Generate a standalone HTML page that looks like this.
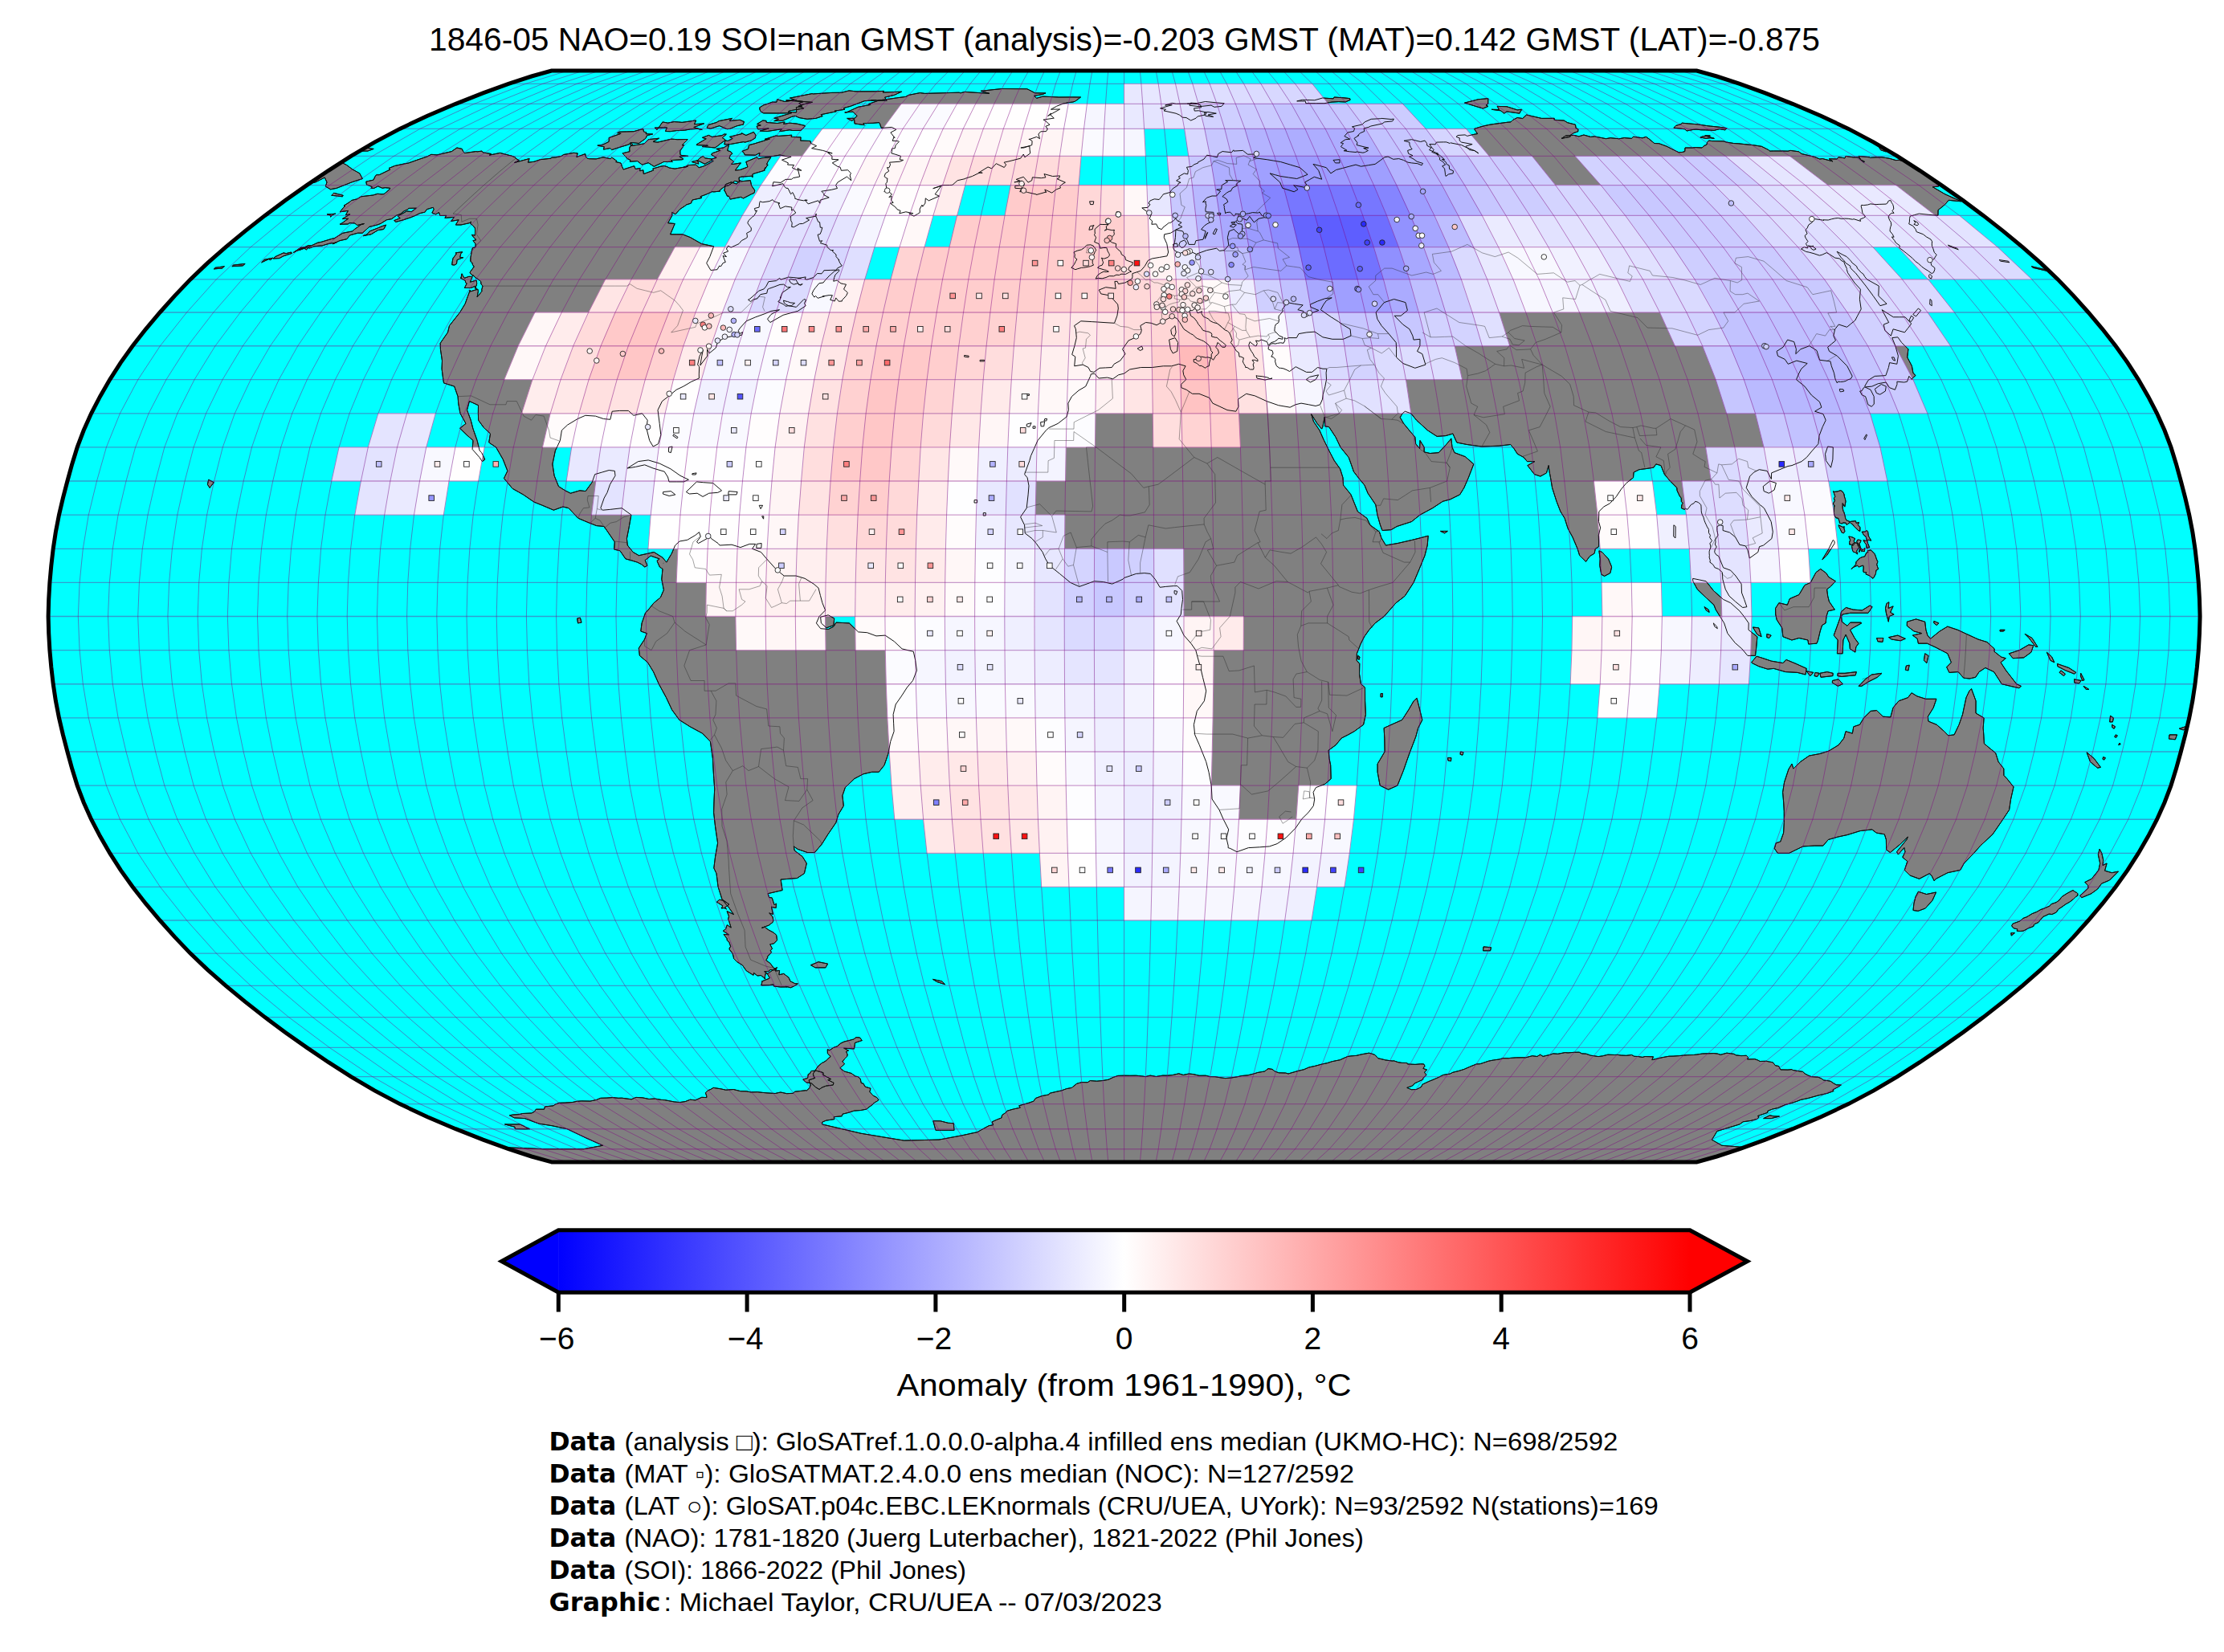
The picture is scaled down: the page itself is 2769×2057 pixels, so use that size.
<!DOCTYPE html><html><head><meta charset="utf-8"><title>GloSAT 1846-05</title><style>html,body{margin:0;padding:0;background:#fff}svg{display:block}</style></head><body><svg width="2769" height="2057" viewBox="0 0 2769 2057" font-family="Liberation Sans, sans-serif" fill="#000"><defs><clipPath id="cb"><path d="M686.7,1446.9L661.8,1440L633.1,1430.7L601.4,1419.1L567.3,1405.7L532.1,1390.7L497.8,1374.6L466.3,1357.9L437,1340.6L409,1322.7L382,1304.4L355.5,1285.7L329.8,1266.6L305,1247.1L281.1,1227.4L258.3,1207.4L237,1187.1L217.5,1166.6L199.1,1146L181.5,1125.2L165.1,1104.3L150.2,1083.4L136.8,1062.4L124.6,1041.3L113.6,1020.2L104.2,999.2L96.2,978.1L89.7,957.1L83.9,936L78.4,914.9L73.5,893.9L69.4,872.8L66.2,851.7L63.8,830.7L61.9,809.6L60.7,788.6L60.1,767.5L60.7,746.4L61.9,725.4L63.8,704.3L66.2,683.3L69.4,662.2L73.5,641.1L78.4,620.1L83.9,599L89.7,577.9L96.2,556.9L104.2,535.8L113.6,514.8L124.6,493.7L136.8,472.6L150.2,451.6L165.1,430.7L181.5,409.8L199.1,389L217.5,368.4L237,347.9L258.3,327.6L281.1,307.6L305,287.9L329.8,268.4L355.5,249.3L382,230.6L409,212.3L437,194.4L466.3,177.1L497.8,160.4L532.1,144.3L567.3,129.3L601.4,115.9L633.1,104.3L661.8,95L686.7,88.1L2112.5,88.1L2137.4,95L2166.1,104.3L2197.8,115.9L2231.9,129.3L2267.1,144.3L2301.4,160.4L2332.9,177.1L2362.2,194.4L2390.2,212.3L2417.2,230.6L2443.7,249.3L2469.4,268.4L2494.2,287.9L2518.1,307.6L2540.9,327.6L2562.2,347.9L2581.7,368.4L2600.1,389L2617.7,409.8L2634.1,430.7L2649,451.6L2662.4,472.6L2674.6,493.7L2685.6,514.8L2695,535.8L2703,556.9L2709.5,577.9L2715.3,599L2720.8,620.1L2725.7,641.1L2729.8,662.2L2733,683.3L2735.4,704.3L2737.3,725.4L2738.5,746.4L2739.1,767.5L2738.5,788.6L2737.3,809.6L2735.4,830.7L2733,851.7L2729.8,872.8L2725.7,893.9L2720.8,914.9L2715.3,936L2709.5,957.1L2703,978.1L2695,999.2L2685.6,1020.2L2674.6,1041.3L2662.4,1062.4L2649,1083.4L2634.1,1104.3L2617.7,1125.2L2600.1,1146L2581.7,1166.6L2562.2,1187.1L2540.9,1207.4L2518.1,1227.4L2494.2,1247.1L2469.4,1266.6L2443.7,1285.7L2417.2,1304.4L2390.2,1322.7L2362.2,1340.6L2332.9,1357.9L2301.4,1374.6L2267.1,1390.7L2231.9,1405.7L2197.8,1419.1L2166.1,1430.7L2137.4,1440L2112.5,1446.9Z"/></clipPath>
<linearGradient id="gr" x1="0" x2="1" y1="0" y2="0"><stop offset="0" stop-color="#0000ff"/><stop offset="0.5" stop-color="#ffffff"/><stop offset="1" stop-color="#ff0000"/></linearGradient></defs>
<path d="M686.7,1446.9L661.8,1440L633.1,1430.7L601.4,1419.1L567.3,1405.7L532.1,1390.7L497.8,1374.6L466.3,1357.9L437,1340.6L409,1322.7L382,1304.4L355.5,1285.7L329.8,1266.6L305,1247.1L281.1,1227.4L258.3,1207.4L237,1187.1L217.5,1166.6L199.1,1146L181.5,1125.2L165.1,1104.3L150.2,1083.4L136.8,1062.4L124.6,1041.3L113.6,1020.2L104.2,999.2L96.2,978.1L89.7,957.1L83.9,936L78.4,914.9L73.5,893.9L69.4,872.8L66.2,851.7L63.8,830.7L61.9,809.6L60.7,788.6L60.1,767.5L60.7,746.4L61.9,725.4L63.8,704.3L66.2,683.3L69.4,662.2L73.5,641.1L78.4,620.1L83.9,599L89.7,577.9L96.2,556.9L104.2,535.8L113.6,514.8L124.6,493.7L136.8,472.6L150.2,451.6L165.1,430.7L181.5,409.8L199.1,389L217.5,368.4L237,347.9L258.3,327.6L281.1,307.6L305,287.9L329.8,268.4L355.5,249.3L382,230.6L409,212.3L437,194.4L466.3,177.1L497.8,160.4L532.1,144.3L567.3,129.3L601.4,115.9L633.1,104.3L661.8,95L686.7,88.1L2112.5,88.1L2137.4,95L2166.1,104.3L2197.8,115.9L2231.9,129.3L2267.1,144.3L2301.4,160.4L2332.9,177.1L2362.2,194.4L2390.2,212.3L2417.2,230.6L2443.7,249.3L2469.4,268.4L2494.2,287.9L2518.1,307.6L2540.9,327.6L2562.2,347.9L2581.7,368.4L2600.1,389L2617.7,409.8L2634.1,430.7L2649,451.6L2662.4,472.6L2674.6,493.7L2685.6,514.8L2695,535.8L2703,556.9L2709.5,577.9L2715.3,599L2720.8,620.1L2725.7,641.1L2729.8,662.2L2733,683.3L2735.4,704.3L2737.3,725.4L2738.5,746.4L2739.1,767.5L2738.5,788.6L2737.3,809.6L2735.4,830.7L2733,851.7L2729.8,872.8L2725.7,893.9L2720.8,914.9L2715.3,936L2709.5,957.1L2703,978.1L2695,999.2L2685.6,1020.2L2674.6,1041.3L2662.4,1062.4L2649,1083.4L2634.1,1104.3L2617.7,1125.2L2600.1,1146L2581.7,1166.6L2562.2,1187.1L2540.9,1207.4L2518.1,1227.4L2494.2,1247.1L2469.4,1266.6L2443.7,1285.7L2417.2,1304.4L2390.2,1322.7L2362.2,1340.6L2332.9,1357.9L2301.4,1374.6L2267.1,1390.7L2231.9,1405.7L2197.8,1419.1L2166.1,1430.7L2137.4,1440L2112.5,1446.9Z" fill="#00ffff"/>
<g clip-path="url(#cb)">
<path id="ld" d="M455.8,226.1L465.0,224.1L467.0,219.8L468.6,217.7L472.2,217.7L485.8,211.1L484.0,209.5L491.5,206.5L503.0,204.0L508.3,203.1L522.8,198.0L532.0,194.9L536.9,192.3L544.0,192.9L562.3,188.6L568.9,184.0L575.2,185.4L576.6,188.4L578.4,190.6L592.5,188.6L594.5,188.8L600.0,188.1L601.4,189.9L611.9,191.6L609.3,193.2L622.6,190.4L635.2,193.7L635.8,193.7L641.4,195.8L642.0,197.2L646.3,199.7L640.5,202.5L659.1,197.5L657.5,202.2L665.0,201.3L672.6,198.7L686.1,197.2L686.6,196.2L691.4,196.0L699.0,194.4L701.7,192.5L714.3,190.3L719.2,190.9L717.9,195.5L728.7,191.6L729.6,195.8L731.7,197.4L733.6,197.7L742.2,197.9L751.0,195.8L760.1,197.7L761.8,196.1L768.0,200.5L766.6,201.5L773.0,203.0L774.4,207.2L776.2,211.0L789.6,206.7L791.2,210.5L797.0,209.4L796.7,212.8L800.9,211.8L801.3,216.6L813.6,212.1L812.7,210.1L823.0,207.1L826.9,206.5L831.1,207.8L833.2,209.0L840.2,210.1L856.3,207.3L851.3,208.4L857.2,205.6L866.3,205.1L870.2,208.7L875.4,207.2L879.9,205.1L888.0,200.7L885.9,198.0L892.1,196.4L885.7,192.7L886.6,190.9L896.7,187.3L891.8,185.4L900.9,183.9L906.5,180.6L907.5,180.3L905.7,187.5L909.7,188.8L911.8,191.4L909.3,193.1L908.0,197.2L911.1,199.0L913.6,201.5L910.4,204.4L913.6,204.3L922.4,202.9L920.4,205.4L915.3,212.0L921.4,211.5L929.0,208.7L930.9,207.8L928.8,201.5L937.0,198.1L942.4,195.8L944.7,197.8L948.6,196.7L960.0,195.8L956.6,200.4L954.4,204.7L956.1,205.1L952.2,210.7L952.9,208.6L951.1,212.3L952.3,212.1L937.1,216.7L936.8,221.0L936.6,219.2L923.0,220.2L920.1,221.0L920.4,226.9L914.9,225.3L907.7,230.6L902.6,232.0L895.9,237.0L896.9,238.0L888.9,238.9L886.6,238.7L879.9,241.8L871.9,244.8L874.0,246.4L862.0,249.0L860.4,253.1L854.7,254.9L853.5,255.9L846.3,260.7L841.0,266.8L836.8,264.4L836.8,268.4L831.7,277.7L840.2,278.5L834.6,291.8L842.2,291.8L849.9,291.8L859.7,295.7L866.6,299.7L873.6,303.6L881.1,305.2L888.6,306.8L883.8,319.6L879.7,327.6L884.9,336.5L893.0,335.7L895.7,331.0L897.6,331.7L900.0,327.6L903.3,326.4L900.1,318.6L904.5,319.6L900.5,315.3L906.7,312.9L904.4,310.0L906.5,306.1L910.2,308.1L920.0,303.6L923.3,299.6L928.3,297.0L930.3,295.7L930.3,293.1L929.6,290.4L935.2,287.4L935.3,283.9L933.7,281.8L930.8,277.7L932.1,274.5L936.3,270.5L939.0,268.4L942.6,262.1L940.5,263.0L939.4,259.5L945.1,258.1L945.7,252.4L946.3,250.8L949.7,251.8L958.1,250.6L961.9,248.6L963.7,250.8L971.0,253.1L969.1,253.2L971.4,259.7L977.8,256.9L985.8,258.1L985.6,262.1L987.5,260.7L990.8,265.0L984.0,269.7L984.5,269.9L984.6,272.3L984.8,274.9L986.2,277.3L985.7,282.4L988.3,282.8L995.4,278.7L999.6,278.5L1007.6,274.0L1003.6,271.6L1015.9,269.1L1016.2,266.1L1015.5,268.7L1016.7,271.3L1018.7,276.2L1020.6,276.7L1021.3,283.2L1023.8,283.3L1022.6,287.9L1021.1,291.5L1018.1,292.2L1020.5,300.4L1023.7,299.7L1021.3,302.7L1029.6,305.1L1029.9,307.6L1034.2,311.5L1037.7,311.6L1036.2,312.7L1041.0,317.0L1041.0,319.6L1045.0,324.0L1043.9,323.1L1045.8,327.6L1048.3,330.9L1042.4,334.1L1041.5,336.2L1034.3,336.4L1025.9,336.7L1025.0,338.2L1023.0,340.8L1017.6,340.5L1012.9,345.5L1004.9,348.1L1002.1,347.6L1003.2,344.9L993.4,346.6L997.4,346.6L987.1,345.5L981.5,345.1L980.5,345.5L972.0,348.1L970.7,346.3L966.5,349.6L956.8,350.7L954.1,356.1L951.2,359.8L944.8,362.2L940.8,365.9L933.8,372.0L931.5,373.3L934.7,375.5L938.4,372.5L942.7,372.0L946.9,366.6L954.7,365.2L955.9,360.2L957.4,359.4L963.1,357.4L971.0,354.4L975.7,354.1L980.7,357.9L980.9,357.7L984.4,357.4L974.1,364.3L971.4,371.1L972.1,369.6L971.4,372.5L968.8,375.7L975.9,379.1L978.0,381.3L982.0,380.7L991.4,382.4L1001.0,372.5L1003.6,373.4L1001.5,377.6L1003.2,380.7L993.3,387.4L984.2,389.8L975.1,392.3L958.9,401.5L955.5,397.3L960.0,391.5L970.5,385.7L959.9,387.4L952.2,390.7L940.8,394.8L929.1,399.8L921.7,408.1L919.3,411.4L920.7,415.6L924.7,413.5L923.5,417.3L914.4,418.1L902.1,420.6L893.6,425.6L891.3,433.2L883.1,439.9L880.5,434.8L880.7,443.2L871.8,455.0L873.8,443.2L875.4,435.7L871.1,443.2L868.6,454.1L870.7,456.7L870.3,465.9L870.4,471.0L860.9,475.2L850.9,481.1L842.1,485.3L833.1,492.9L824.4,499.6L819.0,510.6L821.2,527.4L822.8,541.7L819.5,552.7L813.2,556.0L808.7,548.5L804.9,533.3L806.2,523.2L799.5,514.8L788.9,517.3L782.4,511.4L771.7,511.4L762.2,512.2L759.8,522.3L751.4,521.5L741.5,518.1L728.8,517.3L719.2,521.5L706.6,529.1L699.4,535.8L697.4,548.5L691.4,561.1L687.9,577.9L690.1,592.3L695.5,605.7L703.6,610.8L710.4,614.2L721.9,610.8L729.1,611.6L737.1,600.7L740.7,590.6L749.4,588.1L758.2,585.5L765.3,586.4L766.0,592.3L759.5,603.2L756.0,613.3L752.2,620.1L747.8,632.7L750.4,635.2L759.4,634.4L774.3,632.7L785.9,641.1L782.9,658.0L780.4,670.6L781.3,679.0L788.2,687.5L795.4,691.7L806.7,689.2L814.2,687.5L824.9,694.2L829.8,700.1L836.3,689.2L840.6,679.0L846.1,674.0L855.8,672.3L865.8,666.4L870.5,662.6L872.3,668.1L867.5,674.8L869.6,676.5L880.3,670.6L882.1,664.7L885.5,670.6L894.0,676.5L896.1,679.0L911.0,678.2L921.9,681.6L933.2,677.4L940.6,677.4L936.6,683.3L947.5,687.5L954.6,695.9L966.8,709.4L976.2,717.0L991.1,717.0L1002.1,720.3L1013.1,727.1L1019.0,732.1L1021.4,741.4L1023.9,750.7L1027.6,759.9L1020.1,767.5L1016.4,775.9L1021.7,782.7L1031.4,783.5L1038.0,780.1L1041.0,775.1L1049.1,775.5L1057.3,775.9L1068.6,786.9L1079.7,787.7L1091.0,791.9L1102.1,791.1L1113.3,798.7L1123.1,807.9L1137.3,811.3L1139.7,822.3L1141.4,834.9L1136.5,847.5L1129.3,856.0L1122.3,866.9L1115.2,877.0L1112.1,889.7L1112.6,900.2L1113.1,910.7L1108.7,923.4L1105.9,938.5L1101.0,952.8L1094.2,961.3L1085.5,961.3L1074.8,963.8L1063.6,969.7L1052.3,980.6L1048.9,990.7L1050.3,1003.4L1043.8,1014.3L1040.8,1024.4L1030.9,1038.8L1023.0,1051.4L1014.3,1061.5L1005.2,1061.5L993.1,1057.3L988.3,1053.9L989.2,1059.0L999.1,1066.6L1004.3,1075.0L1001.4,1087.6L992.4,1093.5L982.2,1094.3L972.1,1095.1L974.1,1108.5L965.1,1110.6L956.1,1112.7L957.7,1117.5L961.2,1117.9L964.0,1126.7L966.5,1125.2L966.1,1130.6L961.0,1129.4L960.5,1129.0L962.4,1138.5L957.8,1136.9L962.0,1141.6L962.8,1146.0L962.3,1148.2L957.3,1152.1L948.5,1155.3L952.1,1154.3L956.9,1157.9L962.9,1161.1L966.6,1164.2L966.9,1165.8L967.5,1170.7L963.5,1174.9L958.8,1175.8L961.5,1181.4L959.2,1183.6L960.5,1185.7L955.5,1191.2L955.8,1192.3L953.7,1195.7L958.8,1199.3L963.7,1205.8L965.2,1205.7L966.2,1208.0L958.9,1207.4L957.5,1209.4L951.7,1209.8L953.7,1210.1L951.8,1218.7L953.1,1218.6L947.2,1214.5L943.0,1215.0L938.5,1211.4L938.0,1214.3L929.3,1208.8L925.4,1203.3L924.1,1201.6L917.5,1197.6L913.6,1193.6L913.2,1191.1L912.0,1187.1L908.0,1182.0L908.6,1179.5L909.8,1178.9L907.8,1173.3L905.3,1170.7L905.1,1168.7L901.1,1163.4L907.4,1163.8L900.3,1159.2L903.6,1156.7L905.3,1151.7L910.2,1155.1L907.4,1146.0L906.6,1144.7L907.5,1140.9L905.1,1134.6L913.5,1138.6L907.0,1129.4L903.4,1125.4L901.9,1123.4L898.9,1119.4L894.1,1104.3L892.0,1087.6L888.8,1080.9L890.6,1066.6L893.6,1049.7L892.0,1039.2L890.5,1028.7L888.6,1011.8L889.0,997.1L889.7,982.3L888.8,969.7L888.0,957.1L887.4,944.4L885.9,933.9L884.4,923.4L874.6,913.2L859.1,904.8L845.8,896.4L836.6,883.8L829.5,868.6L820.3,851.7L813.6,836.6L806.4,824.8L796.4,816.4L795.3,807.1L802.5,796.1L805.3,788.6L797.8,786.0L799.1,775.9L803.5,763.3L807.3,759.1L814.1,750.7L822.4,743.9L826.4,734.6L823.8,721.2L825.0,708.5L821.4,706.0L818.0,698.4L821.1,695.9L810.2,692.1L803.2,697.6L805.9,704.3L802.8,706.0L798.5,702.6L793.5,700.1L785.4,697.6L778.9,695.9L772.0,685.8L764.7,684.1L765.3,674.8L756.7,662.2L752.1,655.5L742.6,654.6L731.9,650.4L719.9,645.3L708.0,632.7L700.9,631.0L689.3,635.2L675.4,629.3L664.9,625.1L651.5,615.9L638.0,608.3L627.5,595.6L631.9,586.4L626.3,572.1L617.6,556.9L608.7,551.0L610.5,540.0L602.4,532.5L595.6,523.2L595.4,513.9L595.5,504.7L584.4,499.6L581.5,510.6L586.2,523.2L589.0,534.1L594.1,548.5L597.2,561.1L599.6,563.6L603.8,572.1L600.4,574.6L597.0,569.5L588.1,559.4L589.0,548.5L581.3,541.7L572.6,533.3L580.0,527.4L573.0,514.8L570.7,502.1L570.1,493.7L565.7,481.1L559.1,479.0L552.5,476.9L551.2,468.0L550.1,459.2L550.5,449.1L548.4,434.8L548.2,427.3L557.5,413.9L559.5,405.6L572.6,389.0L579.1,378.3L582.2,369.6L585.4,361.0L584.7,363.2L594.9,360.1L595.4,362.6L594.1,370.0L600.0,362.6L599.7,360.9L601.0,356.1L599.0,353.8L598.6,350.4L595.5,347.9L591.7,345.5L588.7,342.4L588.9,343.9L585.2,339.8L585.5,338.5L590.2,332.1L588.1,328.9L588.0,327.6L585.8,325.2L585.9,320.7L586.7,316.5L587.1,313.2L588.4,308.7L592.1,307.7L592.1,303.6L588.9,299.7L593.0,298.6L589.8,295.7L587.4,292.3L591.4,293.1L591.6,287.4L591.4,283.9L588.5,280.5L585.4,278.2L586.7,276.2L584.0,277.8L574.0,280.0L567.3,280.0L571.1,273.8L561.7,275.4L565.2,270.7L565.8,270.4L553.9,271.4L555.7,268.4L547.9,268.5L546.5,264.5L542.5,266.9L537.9,265.1L540.2,260.7L539.2,258.3L531.3,260.7L529.2,264.1L522.8,265.6L517.1,268.4L511.5,270.7L502.3,273.8L493.6,276.2L492.8,276.4L490.7,274.6L498.2,271.6L495.2,269.3L500.9,266.1L506.4,263.0L512.2,263.6L518.3,259.2L508.7,259.4L507.8,260.7L502.8,263.0L498.9,266.2L493.3,268.4L487.7,272.6L481.3,273.8L474.1,278.4L469.7,280.0L459.9,282.4L451.3,290.2L445.4,290.2L435.7,292.9L431.8,297.7L423.0,299.7L414.4,303.7L418.8,302.0L409.7,303.3L400.8,306.0L398.9,306.0L390.9,306.8L385.0,309.2L383.3,307.5L373.7,311.2L372.1,310.8L384.0,305.6L386.9,306.2L395.8,302.1L400.1,301.3L413.2,297.3L416.1,296.8L418.0,295.7L426.6,290.3L438.8,287.9L441.4,285.5L447.3,281.3L449.9,279.5L453.4,278.5L444.7,280.5L443.5,279.3L441.3,277.9L435.0,277.7L433.3,279.0L423.0,279.3L426.0,277.7L433.5,272.3L426.1,272.6L435.7,266.9L430.4,267.8L433.4,262.4L423.4,263.8L427.6,258.4L429.5,256.8L428.1,256.1L435.0,251.8L437.7,249.5L444.5,247.8L449.5,244.8L454.3,244.2L464.5,243.0L470.0,241.3L475.1,241.8L478.1,241.6L485.2,235.7L485.7,234.3L479.5,233.7L476.1,234.3L470.6,231.9L465.7,234.4L461.9,234.3L463.3,232.7L458.3,230.6L456.5,230.1ZM1051.8,140.0L1053.5,140.1L1068.3,133.3L1079.3,131.2L1084.1,130.4L1081.1,129.6L1094.5,124.9L1104.1,123.7L1116.4,121.9L1127.7,120.4L1131.3,118.4L1145.4,115.6L1151.5,116.4L1169.0,115.9L1194.1,115.2L1196.0,115.8L1201.0,114.4L1231.9,116.4L1221.1,113.3L1247.2,110.5L1278.6,110.7L1281.4,112.0L1288.7,115.8L1302.0,115.9L1298.1,117.5L1287.4,119.4L1290.7,122.3L1298.3,120.1L1318.4,121.0L1334.8,120.9L1345.5,121.0L1338.7,126.1L1335.7,127.1L1330.6,127.6L1323.7,129.1L1315.7,132.2L1308.5,136.2L1319.6,136.0L1304.6,144.4L1308.8,141.2L1307.0,142.3L1312.3,147.1L1299.1,149.1L1301.7,150.6L1307.0,155.3L1301.9,157.3L1304.6,161.0L1304.4,160.4L1302.5,163.6L1295.7,163.8L1292.9,167.0L1294.5,172.7L1290.7,170.4L1281.1,173.7L1281.4,173.1L1285.1,175.6L1284.8,180.6L1274.5,184.1L1270.9,184.0L1281.8,181.8L1282.2,186.7L1282.7,190.9L1275.9,195.8L1274.3,192.0L1270.6,197.2L1256.0,200.9L1250.1,202.2L1252.7,205.1L1250.3,208.5L1240.3,203.7L1234.7,209.9L1230.1,207.9L1218.3,215.2L1223.2,215.3L1220.4,214.7L1210.4,219.5L1201.3,222.4L1201.6,222.6L1192.2,224.7L1185.9,230.3L1182.8,230.5L1173.5,230.6L1161.7,234.7L1172.0,231.5L1164.1,241.9L1164.2,241.8L1169.4,244.2L1156.3,249.9L1152.3,246.9L1151.9,253.1L1148.8,257.2L1147.9,255.2L1145.2,260.2L1145.3,264.6L1142.7,266.3L1137.9,269.2L1131.8,265.9L1136.9,265.7L1127.8,263.8L1119.8,265.8L1121.1,262.4L1117.0,260.7L1114.8,257.8L1108.5,253.2L1112.2,252.3L1109.6,249.3L1110.2,244.4L1106.9,245.6L1110.5,241.8L1105.4,238.0L1100.8,238.7L1103.9,234.8L1102.9,228.7L1104.4,226.9L1104.9,221.9L1104.2,222.2L1101.0,219.7L1102.4,215.9L1106.7,213.1L1104.5,208.6L1106.9,208.8L1108.5,205.1L1107.5,202.2L1120.4,201.2L1124.6,199.4L1120.2,198.7L1121.5,194.4L1114.8,192.2L1109.9,190.9L1110.4,188.6L1110.6,185.0L1114.2,184.7L1115.2,180.6L1119.4,176.4L1118.2,175.7L1111.2,175.3L1113.1,170.4L1114.0,171.7L1108.9,165.0L1115.8,161.4L1110.3,158.4L1097.3,159.3L1095.5,154.3L1094.6,152.6L1087.0,153.3L1074.8,153.6L1076.2,155.7L1064.0,153.9L1063.6,148.6L1060.5,150.4L1054.7,147.4L1064.0,147.3L1067.1,144.3L1062.0,139.2ZM1058.2,218.1L1059.8,224.9L1054.5,220.0L1043.1,226.9L1040.6,230.6L1042.5,234.5L1035.2,236.3L1022.8,238.2L1026.4,241.8L1025.3,242.5L1032.2,245.9L1021.2,249.2L1020.7,253.1L1018.7,249.8L1006.2,253.9L1002.1,248.9L1005.2,249.3L1000.5,249.8L994.0,248.7L989.7,247.2L989.8,245.5L986.9,239.6L984.6,241.7L981.0,234.4L979.0,234.3L976.7,232.4L974.8,228.7L961.6,231.8L962.4,229.1L962.9,226.7L972.0,227.4L978.0,223.4L985.7,223.2L987.4,221.6L995.7,220.0L993.0,209.3L997.9,212.3L991.6,211.4L986.3,208.9L988.6,205.5L980.6,205.1L981.4,202.9L973.5,199.2L985.1,195.2L977.1,194.4L971.1,193.0L962.7,194.5L952.6,195.0L951.8,194.7L945.0,194.4L946.0,190.3L940.5,193.2L927.3,192.9L926.5,190.9L924.1,188.3L931.5,185.4L932.0,182.9L932.6,180.6L939.3,178.9L958.3,173.0L952.2,173.4L965.9,169.0L969.7,169.4L985.8,168.2L985.1,170.4L997.1,170.9L996.7,175.1L1008.9,175.5L1009.7,178.5L1016.6,181.7L1010.6,184.7L1024.5,187.4L1036.2,190.9L1030.5,190.0L1036.0,194.4L1035.8,198.3L1044.0,198.8L1036.3,202.9L1042.6,207.2L1046.2,208.3L1047.4,212.3L1055.6,211.7L1059.5,215.8ZM963.8,150.6L974.3,150.3L985.9,145.3L990.0,144.3L995.1,146.6L1004.9,148.3L1015.8,147.4L1024.1,144.6L1022.3,142.7L1041.2,138.8L1039.3,138.1L1051.9,136.3L1050.0,134.7L1059.2,132.2L1076.4,125.7L1090.4,124.6L1084.8,124.8L1104.1,125.3L1101.6,121.2L1113.4,118.4L1122.5,114.2L1099.0,115.0L1100.5,113.4L1089.5,113.8L1066.0,113.9L1057.1,112.9L1047.6,115.3L1036.0,115.4L1012.5,116.9L1011.0,116.6L986.8,121.4L983.4,122.1L993.3,125.7L1000.7,126.5L994.9,128.5L998.3,132.0L998.6,132.2L991.4,133.7L991.7,139.9L981.0,139.3L985.6,140.7L963.8,147.2L969.6,148.4ZM1002.4,156.5L1001.6,158.0L997.1,162.4L986.8,162.5L983.1,161.8L970.7,163.7L973.4,160.7L955.0,163.6L946.1,163.0L957.1,160.0L943.6,160.9L942.1,157.1L947.2,156.0L942.5,154.5L949.8,150.0L954.0,150.4L954.1,152.4L967.8,153.5L977.1,151.9L975.6,154.4L983.5,153.2L992.2,154.1ZM775.0,190.9L779.7,195.8L780.8,197.4L784.9,199.4L784.2,201.2L793.6,200.6L799.4,205.1L801.7,204.4L807.2,202.7L814.3,207.3L824.5,202.5L826.1,201.5L837.4,201.4L835.4,199.6L849.2,198.8L850.9,198.0L845.9,195.0L856.8,194.4L847.7,193.3L846.9,192.0L846.8,187.8L849.9,183.4L851.7,180.6L849.1,180.8L855.6,174.4L856.1,173.7L854.1,173.5L843.3,173.7L839.5,173.4L836.1,173.1L818.9,177.1L813.0,176.5L820.5,172.2L807.2,173.7L802.1,178.9L785.2,181.6L785.2,177.1L787.8,179.8L784.1,182.8L783.7,185.4L784.0,188.7ZM743.9,181.2L752.3,182.8L751.3,186.1L759.7,184.6L761.7,186.6L769.4,184.0L782.0,180.2L786.6,177.6L795.3,178.5L802.1,173.7L804.0,172.2L805.6,168.7L812.6,167.0L804.0,166.7L805.0,165.0L801.5,164.0L800.7,160.4L789.0,163.7L780.4,163.9L770.9,164.2L768.7,165.7L773.1,166.3L758.2,171.5L758.3,173.7L758.1,176.4L750.5,180.2ZM815.2,159.1L830.4,158.9L828.5,163.5L834.4,163.7L842.5,162.6L852.6,162.2L859.4,160.9L868.6,160.4L874.2,161.5L863.8,158.5L876.5,153.9L864.4,154.7L866.7,150.0L862.4,150.5L849.1,152.4L844.5,151.9L839.2,151.6L831.5,153.1L824.9,151.9L821.7,156.7L818.0,161.7ZM947.7,139.3L950.7,140.9L967.1,141.0L981.9,140.8L982.4,138.1L1000.9,134.8L994.0,132.3L998.3,130.4L1011.4,127.3L978.7,125.0L989.0,124.8L977.1,126.5L967.7,123.7L966.9,127.2L961.4,127.1L955.7,129.3L950.8,130.8L945.7,133.9L946.1,137.0ZM867.3,180.6L881.3,181.2L874.0,182.5L881.3,183.1L890.2,184.0L894.1,181.3L895.8,179.8L903.1,174.5L902.5,173.7L899.3,171.6L904.3,167.2L901.6,167.0L898.9,168.7L886.5,170.4L882.4,168.4L874.3,171.4L879.2,172.8L867.4,179.8ZM901.9,179.9L909.8,179.5L916.9,178.2L925.4,176.7L927.8,177.1L935.1,175.0L940.2,172.1L941.0,168.4L938.4,164.4L928.9,168.5L923.2,165.7L924.3,166.4L908.4,170.4L912.1,172.4L906.2,175.5L902.9,174.9ZM880.1,159.1L884.5,160.2L895.7,156.7L905.1,160.7L908.6,160.4L917.2,156.9L924.4,155.2L924.9,155.8L926.5,151.6L921.2,149.3L908.2,150.4L911.5,147.4L895.2,150.6L892.0,152.5L882.0,155.4ZM910.3,226.9L917.2,229.1L921.6,224.3L921.9,225.9L934.3,224.7L935.6,231.1L935.7,231.2L939.7,237.0L939.7,238.0L938.9,240.4L935.4,241.8L925.4,247.0L922.5,245.4L909.1,248.1L908.1,245.4L907.2,244.0L905.6,244.4L902.6,238.0L901.8,237.7L903.2,229.7L910.8,226.6ZM861.2,201.5L869.8,204.1L868.5,199.7L877.8,204.4L877.3,204.3L886.0,199.8L885.9,198.0L877.5,196.8L875.5,194.4L871.5,196.6L868.4,199.8ZM1044.4,335.7L1039.2,337.5L1034.8,341.4L1032.9,343.0L1027.7,348.6L1025.0,352.0L1019.8,352.8L1015.0,358.6L1012.7,361.8L1010.9,365.9L1013.9,370.1L1015.4,368.4L1018.2,371.3L1026.5,368.8L1024.1,369.0L1032.1,367.6L1036.4,367.7L1033.7,373.3L1039.2,375.0L1040.7,370.9L1043.4,374.1L1044.2,375.2L1048.4,375.0L1048.4,373.8L1053.5,368.4L1055.4,364.5L1052.7,361.9L1050.5,360.2L1053.5,354.2L1050.4,353.6L1047.0,352.9L1042.2,349.0L1040.6,349.5L1037.7,350.2L1038.7,345.5L1040.0,342.2L1044.9,337.2ZM982.7,348.7L984.1,351.8L988.2,354.2L993.2,352.8L996.7,355.3L999.2,353.6L994.9,354.9L990.7,348.0L989.2,348.7L984.2,347.4ZM975.4,374.1L980.1,375.5L980.5,375.4L984.1,376.9L989.6,377.4L985.3,380.7L982.1,380.9L978.7,379.1L976.4,377.4ZM781.1,583.0L794.6,574.6L807.2,572.9L821.2,577.1L834.9,583.8L847.0,592.3L857.4,597.3L851.3,599.9L842.2,599.9L833.0,599.9L831.5,594.0L827.2,587.2L813.1,583.0L802.7,578.8L791.5,581.3ZM854.3,612.5L867.4,599.9L875.3,600.7L887.7,601.5L898.5,610.8L893.8,613.3L882.7,614.2L875.0,618.4L868.1,614.2L858.4,615.0ZM825.7,612.5L835.3,611.6L840.8,615.9L833.2,617.5L825.4,615.0ZM907.2,611.6L918.1,612.5L917.0,615.9L906.8,615.9ZM942.1,677.4L948.1,676.5L947.8,682.4L941.8,682.4ZM575.7,341.4L575.8,342.6L578.1,346.3L583.9,344.3L588.1,344.6L585.4,351.2L593.1,349.1L593.7,352.6L593.2,356.1L590.9,358.3L593.9,361.0L591.5,356.2L587.7,358.1L585.1,358.5L578.4,358.5L581.2,352.9L579.7,352.0L579.4,349.6L573.3,346.1L574.0,346.3L574.9,340.9ZM567.0,314.8L576.0,313.7L573.8,315.6L572.7,320.5L576.9,320.6L569.1,323.6L568.5,328.4L565.8,330.1L562.7,329.7L563.3,325.2L564.0,321.7L568.4,315.8ZM460.1,287.9L469.6,284.3L475.9,281.6L480.6,280.1L477.7,285.5L470.6,286.6L462.0,291.8L452.1,293.7L455.1,292.6L458.3,290.5ZM965.3,1209.0L967.4,1204.6L955.0,1212.7L954.3,1211.4L954.5,1211.1L958.4,1217.8L958.1,1218.2L949.3,1221.6L949.2,1221.0L947.9,1226.9L958.0,1226.6L963.0,1225.8L963.4,1228.0L971.6,1229.0L980.1,1228.9L978.7,1228.3L984.3,1229.8L988.7,1228.0L989.3,1227.4L993.4,1225.0L989.4,1224.5L984.0,1221.8L982.1,1217.3L975.8,1212.4L969.9,1213.8L970.6,1208.5ZM1009.5,1201.7L1018.9,1197.7L1030.6,1200.1L1027.8,1204.9L1015.1,1204.9ZM895.8,1120.2L899.3,1121.0L900.8,1121.1L907.8,1126.1L902.4,1130.1L904.5,1131.9L901.5,1130.6L898.1,1131.0L899.9,1127.9L892.4,1123.2ZM718.7,770.0L722.4,769.2L724.0,775.1L719.5,775.9ZM259.7,597.3L266.3,600.7L261.1,607.4L258.4,603.2ZM407.2,266.9L415.1,266.4L417.6,266.1L415.2,267.1L411.2,270.0L412.8,268.5ZM415.7,240.3L421.4,241.8L427.2,243.3L426.4,244.8L419.6,244.0L412.8,243.3ZM1021.6,768.3L1031.2,765.8L1038.7,770.0L1038.0,778.5L1029.1,781.8L1022.4,775.9ZM1535.8,186.8L1536.1,188.1L1547.5,187.4L1553.4,192.2L1562.5,192.0L1564.8,192.3L1564.6,194.1L1560.6,196.5L1568.9,197.6L1577.3,198.7L1585.8,200.1L1594.4,201.5L1606.4,205.1L1618.5,208.7L1628.1,217.3L1621.4,219.9L1614.7,222.5L1604.5,221.0L1594.3,219.5L1587.7,217.7L1581.1,215.9L1593.6,226.9L1596.8,234.3L1604.0,236.5L1611.2,238.8L1616.0,235.8L1610.5,230.6L1618.0,232.1L1625.6,233.5L1629.8,234.3L1624.6,226.9L1630.5,223.6L1636.3,220.3L1645.7,223.2L1641.7,212.3L1635.0,204.4L1643.1,206.5L1651.3,208.7L1656.9,215.9L1663.5,211.5L1671.7,209.4L1679.9,207.2L1688.0,205.1L1694.4,207.2L1703.3,205.8L1712.1,204.4L1718.1,200.1L1723.9,195.8L1728.1,195.0L1734.7,198.3L1741.7,197.6L1747.4,199.4L1753.0,202.2L1757.5,202.9L1764.9,203.7L1770.1,205.8L1771.5,203.4L1764.2,201.2L1760.0,198.0L1754.6,195.2L1759.0,193.7L1753.6,191.3L1752.6,187.4L1758.1,185.7L1756.5,183.5L1755.1,180.6L1754.8,177.1L1748.0,175.3L1757.6,173.7L1768.7,176.5L1774.0,175.1L1776.5,178.5L1776.8,181.3L1781.9,184.0L1779.5,186.7L1790.7,191.3L1788.4,191.4L1792.7,196.5L1792.3,198.8L1796.3,201.3L1799.6,205.1L1795.7,206.8L1798.6,210.1L1799.3,215.1L1799.5,217.7L1800.2,219.5L1803.4,217.0L1809.1,215.9L1809.5,212.8L1804.6,210.6L1804.2,206.0L1801.2,204.5L1800.0,201.5L1795.3,198.3L1798.6,198.7L1792.5,193.3L1782.8,189.4L1785.3,186.5L1782.9,184.0L1779.8,179.5L1787.2,179.8L1788.5,177.1L1797.4,176.9L1800.8,176.9L1805.1,178.5L1805.8,177.8L1819.7,180.6L1823.9,182.8L1833.1,186.5L1835.7,187.5L1840.8,190.9L1836.1,187.6L1829.3,186.6L1824.9,182.2L1833.1,179.6L1819.6,177.1L1817.1,174.9L1817.3,171.9L1813.0,170.4L1815.0,168.5L1824.1,167.9L1826.6,169.4L1836.6,167.0L1839.6,166.6L1836.7,162.3L1835.5,160.4L1842.1,158.3L1848.9,156.5L1855.0,155.2L1860.4,154.4L1875.8,152.4L1876.0,152.3L1881.0,151.9L1883.5,149.5L1889.1,146.5L1895.7,147.5L1900.6,143.0L1907.3,144.6L1919.4,147.4L1935.2,147.3L1935.1,149.3L1947.2,150.0L1951.6,152.7L1961.5,155.2L1962.1,159.6L1964.8,160.6L1964.8,163.7L1959.1,165.7L1955.1,168.4L1955.0,170.3L1944.2,172.4L1947.6,170.2L1949.6,168.9L1960.1,168.4L1965.7,169.9L1971.9,168.0L1980.4,170.4L1985.4,169.9L1999.5,172.7L2005.0,171.7L2015.1,172.7L2015.3,172.9L2022.2,171.6L2031.5,172.4L2033.6,170.2L2045.0,171.8L2049.4,170.4L2053.3,173.1L2059.8,178.5L2065.6,178.7L2075.4,182.3L2081.3,185.4L2090.0,189.7L2094.3,189.5L2097.7,188.6L2098.0,184.0L2107.1,184.0L2111.3,183.6L2119.0,184.0L2121.8,181.5L2125.1,180.0L2125.5,177.1L2127.8,175.1L2131.5,175.6L2145.4,175.8L2149.4,177.0L2158.6,178.5L2164.8,178.8L2172.7,179.7L2182.4,180.6L2193.3,182.3L2201.4,186.4L2203.7,188.1L2208.5,188.0L2218.1,188.0L2226.1,188.2L2229.2,187.4L2239.6,188.8L2243.0,191.5L2255.2,194.4L2258.4,195.1L2265.7,198.0L2269.3,197.6L2281.9,200.9L2277.3,197.8L2287.2,198.0L2288.9,195.7L2297.0,196.9L2298.0,194.4L2307.7,195.9L2313.5,195.8L2317.3,199.6L2320.5,202.2L2321.4,201.1L2317.2,199.4L2314.1,194.4L2327.9,195.8L2328.4,196.4L2335.0,195.9L2343.0,195.8L2352.0,197.2L2360.5,199.6L2364.5,199.3L2374.6,202.2L2394.5,215.2L2414.0,228.4L2413.7,232.1L2406.3,232.8L2421.7,241.8L2441.7,250.8L2434.0,250.1L2426.3,249.3L2421.7,254.6L2417.4,258.1L2413.1,261.5L2412.9,268.4L2401.1,267.3L2389.3,266.1L2383.7,267.6L2378.2,269.2L2377.5,272.4L2377.4,276.2L2376.7,278.8L2381.6,281.2L2385.1,285.5L2386.1,288.6L2394.4,291.7L2398.3,294.8L2404.0,298.1L2405.6,300.8L2405.3,303.9L2405.5,306.4L2406.7,309.2L2408.3,314.3L2411.2,317.3L2409.3,320.1L2408.5,322.0L2405.5,324.2L2401.4,324.4L2404.6,328.2L2404.4,330.1L2408.7,333.3L2408.9,335.4L2407.5,339.2L2405.2,340.6L2400.5,337.2L2395.1,333.8L2392.5,331.7L2388.5,328.1L2385.0,325.7L2381.3,321.7L2379.0,319.8L2373.9,315.6L2370.0,312.5L2364.6,308.3L2365.4,306.0L2360.2,302.1L2358.9,299.7L2355.3,295.0L2358.1,295.2L2356.1,291.4L2353.1,287.9L2353.2,285.5L2353.8,282.5L2354.8,280.0L2354.2,276.3L2352.8,274.6L2351.1,270.0L2351.9,268.1L2355.1,265.3L2358.1,265.3L2355.9,262.5L2357.8,260.1L2357.4,256.9L2356.7,254.6L2355.3,252.5L2353.8,249.3L2351.1,250.3L2349.8,253.1L2348.1,254.1L2339.2,254.4L2335.9,254.6L2328.9,253.9L2325.4,255.0L2320.5,255.6L2317.5,255.4L2317.2,256.9L2318.2,260.9L2318.9,265.3L2320.9,267.5L2322.5,270.0L2320.5,271.2L2315.8,273.1L2316.6,275.4L2308.0,272.7L2306.6,273.2L2301.2,272.3L2296.7,272.1L2293.4,272.5L2288.5,271.5L2284.6,271.9L2280.3,272.8L2276.3,274.0L2270.0,273.8L2270.8,274.3L2258.7,272.5L2255.5,273.1L2256.6,276.6L2251.9,279.9L2250.9,282.0L2250.2,283.9L2248.0,286.2L2250.1,290.9L2247.1,293.4L2248.0,296.1L2251.0,300.7L2248.4,303.4L2250.9,307.6L2250.5,309.0L2246.3,307.6L2242.5,310.0L2248.6,313.4L2252.3,314.1L2258.0,315.6L2265.4,318.1L2268.8,317.2L2274.2,314.6L2277.5,316.4L2284.7,321.1L2290.6,322.0L2292.1,324.1L2295.9,326.2L2296.9,329.3L2299.5,334.7L2299.3,335.5L2300.6,339.8L2308.9,352.0L2316.4,360.2L2315.4,372.5L2317.2,384.9L2312.7,393.2L2309.7,399.0L2304.6,403.1L2299.5,407.3L2289.3,404.0L2284.7,409.8L2282.8,418.1L2285.5,424.0L2280.6,428.1L2275.6,432.3L2277.5,437.4L2287.4,443.2L2299.8,455.8L2306.2,468.4L2304.2,471.8L2300.8,472.8L2298.4,474.3L2295.2,475.2L2291.4,475.5L2288.3,475.2L2287.4,476.9L2285.5,473.3L2284.6,470.3L2284.0,467.0L2283.4,464.2L2280.3,455.8L2278.9,449.9L2265.6,448.3L2262.0,436.5L2252.8,430.7L2241.9,434.8L2235.8,440.7L2236.4,434.8L2233.7,425.6L2225.6,423.1L2220.0,432.3L2212.1,437.4L2213.5,443.2L2222.3,447.4L2226.3,453.3L2236.9,449.1L2250.2,452.5L2242.8,459.2L2240.1,464.2L2236.5,472.6L2246.9,481.1L2255.4,492.0L2265.5,500.4L2267.9,507.2L2259.6,512.2L2270.0,515.6L2273.2,523.2L2269.2,531.6L2265.0,542.6L2263.9,552.7L2256.4,561.1L2249.4,569.5L2243.1,574.6L2231.0,579.6L2226.0,580.5L2215.8,584.7L2205.6,588.9L2205.4,596.5L2200.1,586.4L2190.3,584.7L2183.6,588.1L2178.6,593.1L2174.2,607.4L2181.0,618.4L2191.3,628.5L2196.4,632.7L2205.2,649.6L2207.3,662.2L2205.9,670.6L2195.6,679.0L2190.5,680.7L2188.8,687.5L2178.3,695.0L2176.0,684.9L2173.4,679.9L2165.9,678.2L2160.7,668.9L2153.5,663.0L2145.1,660.5L2145.2,654.6L2141.4,653.8L2137.9,655.5L2137.8,660.5L2138.4,663.1L2139.0,666.4L2136.9,669.9L2135.7,672.0L2136.0,674.8L2135.4,678.0L2137.3,681.1L2135.3,683.8L2134.7,687.5L2136.8,690.8L2139.6,692.3L2141.2,695.9L2145.6,706.8L2154.7,710.2L2161.0,717.0L2168.1,727.1L2168.5,738.0L2171.7,746.4L2174.9,755.7L2169.7,756.5L2160.6,749.0L2153.0,742.2L2148.3,733.8L2144.8,721.2L2144.4,712.7L2139.7,708.5L2134.8,706.6L2134.0,704.9L2132.5,702.7L2128.9,700.1L2129.3,697.8L2128.1,693.9L2128.4,691.7L2128.1,688.7L2128.2,686.2L2129.8,681.8L2129.7,679.0L2128.8,676.9L2131.5,673.3L2128.7,669.2L2129.4,666.4L2127.5,663.6L2127.5,659.3L2125.4,655.9L2124.5,653.8L2123.1,650.9L2121.9,647.8L2121.0,644.1L2119.4,641.1L2118.4,637.9L2118.2,635.4L2118.0,630.9L2117.8,628.5L2114.3,625.4L2110.7,624.3L2109.2,626.5L2105.3,628.5L2102.7,632.2L2100.9,634.4L2098.5,633.2L2097.2,634.4L2093.4,632.7L2093.9,628.7L2095.1,626.3L2093.4,624.6L2093.2,620.1L2091.4,617.9L2089.8,614.6L2088.0,610.7L2087.8,607.4L2079.4,599.0L2072.4,590.6L2067.9,579.6L2061.8,577.9L2058.8,582.2L2048.1,583.8L2040.9,584.7L2034.1,588.1L2033.5,594.8L2024.9,601.5L2018.5,609.1L2012.3,618.4L2004.4,626.8L1996.8,631.0L1990.8,636.9L1990.5,649.6L1992.6,657.1L1990.4,666.4L1990.6,680.7L1986.3,683.3L1985.1,689.2L1979.4,692.5L1974.5,699.3L1966.7,691.7L1964.1,683.3L1958.0,668.9L1952.1,658.0L1948.1,645.3L1942.9,636.9L1938.0,624.3L1932.6,607.4L1930.5,594.8L1928.9,586.4L1928.1,579.6L1925.5,588.9L1917.9,593.1L1910.4,590.6L1901.9,579.6L1910.8,574.6L1901.4,574.6L1897.2,569.5L1889.4,565.3L1885.0,558.6L1880.7,553.5L1866.4,555.2L1855.6,555.6L1844.8,556.0L1835.6,554.8L1826.4,553.5L1813.8,551.0L1808.9,540.0L1799.9,542.6L1789.1,543.4L1777.4,535.8L1763.6,523.2L1756.8,514.8L1749.3,512.2L1746.1,514.8L1743.2,519.8L1747.7,527.4L1756.0,537.5L1761.8,544.3L1762.7,552.7L1767.6,558.6L1768.0,548.5L1773.2,556.9L1773.1,562.8L1780.5,564.5L1791.3,563.6L1799.8,554.4L1804.9,548.5L1806.8,545.9L1808.0,556.9L1810.9,563.6L1824.4,568.7L1834.8,577.9L1828.3,594.8L1822.8,607.4L1817.6,615.9L1805.6,621.8L1796.3,624.3L1783.6,632.7L1775.8,636.9L1768.0,641.1L1757.4,649.6L1748.3,652.5L1739.2,655.5L1732.0,659.7L1721.0,660.5L1718.5,653.8L1714.9,641.1L1712.8,628.5L1703.1,614.2L1698.9,604.1L1692.6,596.5L1685.4,587.2L1682.4,578.4L1679.2,569.5L1669.0,556.9L1663.0,544.3L1654.7,531.6L1649.6,530.8L1649.3,519.0L1646.8,531.6L1645.6,534.1L1640.0,527.4L1632.6,515.6L1635.5,524.9L1642.9,535.8L1648.1,547.6L1655.6,562.8L1661.3,573.7L1668.5,583.8L1672.0,594.8L1672.5,604.1L1682.0,615.9L1686.2,626.4L1690.4,636.9L1701.9,645.3L1705.9,653.8L1717.4,662.2L1719.9,669.8L1725.4,679.0L1740.1,676.5L1749.3,674.4L1758.4,672.3L1768.3,669.8L1778.2,667.2L1777.2,679.0L1774.0,691.7L1767.1,708.5L1760.0,725.4L1749.1,742.2L1738.1,750.7L1723.3,767.5L1712.1,775.9L1704.6,784.3L1698.6,792.8L1694.0,802.0L1689.4,813.8L1689.2,822.3L1692.8,826.5L1692.5,839.1L1694.4,851.7L1699.5,856.0L1699.6,872.8L1700.4,889.7L1697.6,902.3L1686.1,910.7L1678.5,914.9L1670.2,919.1L1663.2,927.6L1654.1,934.3L1655.0,944.4L1656.7,952.8L1657.2,969.7L1649.5,976.4L1638.4,980.6L1635.1,986.5L1636.7,995.0L1635.3,1003.4L1628.9,1011.8L1621.1,1019.4L1613.0,1031.2L1601.3,1043.0L1590.1,1050.6L1580.6,1053.9L1568.6,1054.8L1554.4,1055.6L1540.0,1060.7L1531.9,1056.5L1529.1,1055.6L1529.2,1053.1L1527.0,1043.8L1529.7,1032.9L1523.2,1020.2L1518.0,1008.4L1509.1,995.0L1508.2,978.1L1505.0,961.3L1501.7,948.6L1497.5,938.1L1493.3,927.6L1487.7,914.9L1486.4,902.3L1490.3,885.4L1499.4,872.8L1501.7,860.2L1497.5,843.3L1494.6,830.7L1491.0,818.0L1488.8,809.6L1482.9,801.2L1474.0,791.1L1468.8,780.1L1465.1,773.4L1470.3,765.0L1471.0,757.4L1472.5,746.4L1471.7,735.5L1465.8,729.6L1461.3,729.6L1451.6,730.4L1444.2,731.3L1438.2,721.2L1432.3,714.4L1424.8,713.6L1414.5,714.4L1407.0,717.0L1399.6,719.5L1398.1,721.2L1384.7,727.1L1373.6,724.5L1362.4,723.7L1353.1,727.1L1343.8,730.4L1332.7,725.4L1319.4,714.4L1306.8,704.3L1301.7,695.9L1298.1,687.5L1290.0,676.5L1284.9,670.6L1276.2,663.9L1275.6,653.8L1270.6,643.7L1278.2,632.7L1280.1,615.9L1281.0,604.9L1279.1,594.8L1275.6,590.6L1281.8,573.7L1283.4,567.8L1287.7,558.2L1292.0,548.5L1302.4,535.8L1306.1,532.5L1317.1,527.4L1328.0,519.0L1330.4,510.6L1329.9,502.1L1334.4,493.7L1343.1,486.1L1351.7,481.1L1357.6,468.4L1358.3,465.9L1362.6,465.1L1368.1,471.0L1378.6,470.1L1385.6,471.8L1392.6,466.8L1399.6,465.1L1406.6,460.0L1420.5,457.5L1434.4,457.5L1448.3,455.8L1458.7,455.8L1467.7,453.3L1476.1,455.8L1472.9,461.7L1473.7,466.8L1476.8,472.6L1470.7,478.5L1470.8,482.7L1477.2,485.3L1484.5,490.3L1493.0,490.3L1505.9,495.4L1509.8,502.1L1518.9,506.3L1528.0,510.6L1538.8,512.2L1542.0,506.3L1541.5,497.1L1551.7,490.3L1562.5,492.9L1577.1,499.6L1591.7,504.7L1606.2,507.2L1613.0,503.8L1620.0,502.1L1629.4,503.8L1638.1,505.5L1643.6,503.8L1646.5,497.1L1647.2,491.2L1649.7,481.9L1651.5,472.6L1651.1,464.2L1651.9,459.2L1647.0,459.2L1640.5,457.5L1633.5,463.4L1626.6,463.4L1613.3,456.7L1605.5,462.5L1602.1,460.6L1598.0,458.9L1594.6,458.3L1593.1,458.4L1589.5,455.8L1588.8,454.1L1587.6,450.1L1588.0,447.4L1585.1,444.6L1582.8,444.1L1585.1,440.0L1584.0,436.5L1581.3,435.9L1579.1,434.8L1579.4,431.5L1582.4,428.1L1585.1,427.7L1587.9,428.1L1590.5,427.4L1594.3,426.8L1598.1,427.3L1599.9,423.8L1599.6,423.1L1599.3,420.6L1601.6,421.8L1604.1,420.6L1614.3,420.6L1617.0,415.6L1626.9,413.9L1637.0,413.1L1646.9,419.8L1658.9,422.3L1672.5,422.3L1682.0,418.1L1681.1,409.8L1671.2,404.0L1666.6,400.6L1657.4,394.8L1649.0,389.0L1644.4,385.7L1647.9,379.1L1651.6,374.1L1658.2,370.8L1649.8,371.7L1640.5,375.0L1631.3,379.1L1631.9,382.4L1641.9,386.5L1635.0,389.0L1627.2,394.0L1623.7,393.2L1622.8,387.4L1615.8,385.7L1622.2,379.9L1611.3,378.3L1602.5,376.6L1598.7,382.4L1596.5,385.2L1597.4,387.4L1593.7,391.7L1592.3,393.2L1591.9,396.8L1592.5,397.1L1592.0,401.5L1588.3,404.0L1587.4,406.6L1587.0,409.8L1586.9,412.2L1589.7,414.8L1592.9,418.2L1597.1,419.8L1596.8,422.3L1591.8,421.2L1590.7,422.7L1587.1,425.2L1586.3,425.6L1584.2,426.1L1582.3,426.9L1579.2,430.2L1578.5,427.9L1577.4,425.6L1572.9,423.8L1570.3,423.1L1567.2,424.8L1563.5,424.0L1565.3,427.6L1564.2,430.7L1562.6,430.7L1559.2,428.1L1556.2,425.6L1554.8,429.5L1555.4,432.3L1556.0,434.0L1558.0,437.4L1560.3,440.7L1561.6,444.0L1565.8,447.4L1566.0,449.9L1562.4,448.3L1559.0,448.3L1561.3,451.6L1560.1,454.0L1561.1,457.7L1560.6,460.0L1560.5,460.1L1556.5,460.0L1552.8,457.5L1550.7,457.5L1550.6,456.1L1548.3,452.4L1547.3,449.9L1547.9,448.2L1548.4,445.7L1544.8,444.1L1543.0,444.2L1542.3,439.0L1539.2,436.9L1537.0,433.2L1534.3,429.1L1532.3,426.5L1534.2,423.3L1533.2,420.4L1532.3,418.1L1530.9,414.7L1528.4,412.3L1525.3,410.9L1522.7,408.9L1518.8,405.0L1515.2,402.6L1510.6,401.5L1506.3,399.3L1504.8,397.2L1501.5,395.6L1498.5,394.4L1496.0,390.5L1496.2,387.4L1495.8,388.4L1491.0,389.8L1489.7,386.7L1490.6,384.0L1487.3,384.7L1484.2,386.8L1481.5,386.5L1481.5,389.2L1482.5,393.2L1486.7,395.9L1490.4,400.6L1491.8,403.4L1495.4,407.7L1497.8,411.4L1502.4,412.7L1505.0,413.1L1508.2,414.8L1508.9,416.2L1508.5,419.0L1513.2,420.2L1515.1,420.2L1519.1,424.0L1522.7,426.6L1526.4,429.8L1525.2,432.3L1521.6,432.2L1518.3,428.3L1515.9,426.5L1515.2,429.3L1513.6,432.3L1516.2,434.8L1517.5,439.0L1516.4,441.1L1513.6,443.2L1512.1,445.9L1510.5,448.3L1508.2,445.7L1508.2,441.2L1509.9,439.0L1507.5,436.3L1507.6,435.2L1505.9,430.7L1503.0,428.0L1498.7,424.8L1495.4,423.4L1490.3,421.3L1488.2,419.8L1485.4,416.8L1482.5,415.6L1474.0,409.8L1468.9,401.5L1465.3,396.5L1459.2,394.0L1450.0,399.0L1440.1,404.8L1433.3,402.3L1426.5,401.5L1419.8,405.6L1421.3,411.4L1420.0,415.6L1414.6,419.8L1405.1,424.0L1397.5,434.8L1401.0,440.7L1394.7,449.1L1387.1,453.3L1384.3,457.5L1376.6,457.9L1369.0,458.3L1361.9,463.4L1357.7,462.5L1355.0,457.5L1348.2,454.1L1337.7,455.8L1338.8,444.1L1334.7,441.5L1337.9,430.7L1340.3,420.6L1339.4,409.8L1337.5,405.6L1345.8,399.8L1359.3,400.6L1366.6,401.0L1374.0,401.5L1387.5,402.3L1390.9,393.2L1392.3,384.0L1391.7,379.1L1385.1,371.7L1379.9,367.6L1370.8,365.9L1368.3,361.0L1376.8,357.7L1389.2,359.3L1387.9,350.4L1391.2,350.4L1392.5,353.6L1400.9,352.0L1409.3,347.1L1410.0,344.9L1409.9,340.6L1420.1,337.3L1425.1,331.7L1429.3,324.4L1434.3,322.0L1443.7,320.4L1453.0,318.8L1454.6,314.0L1452.8,303.6L1449.3,295.7L1449.7,291.8L1457.5,290.2L1463.9,286.3L1463.4,295.7L1462.6,301.3L1460.5,307.6L1462.0,311.6L1468.5,315.6L1477.7,312.4L1486.0,314.8L1489.3,316.4L1495.9,314.0L1502.6,311.6L1514.7,309.2L1518.3,312.4L1524.4,311.6L1529.8,305.2L1528.4,295.7L1530.3,287.9L1536.6,285.4L1536.8,286.3L1543.1,291.8L1546.1,291.0L1546.9,281.6L1546.1,279.0L1541.0,278.5L1538.5,275.4L1540.3,274.6L1542.1,267.8L1547.7,272.3L1552.3,274.3L1555.8,269.4L1561.4,276.9L1566.8,272.3L1575.3,270.5L1573.5,268.8L1579.3,269.2L1571.4,268.7L1568.0,263.8L1566.8,265.1L1559.3,264.6L1557.2,265.2L1554.3,265.8L1547.9,266.9L1537.9,266.2L1538.7,266.6L1536.4,269.2L1531.6,264.1L1526.8,264.6L1525.8,265.9L1524.2,258.4L1524.4,256.9L1523.4,254.9L1528.8,251.4L1527.3,248.0L1523.7,245.5L1521.9,244.7L1527.6,239.9L1531.0,238.0L1532.3,238.1L1534.6,233.9L1540.9,230.6L1538.8,229.7L1541.9,226.9L1544.9,225.2L1535.3,224.7L1527.8,224.6L1525.7,224.7L1528.7,226.3L1521.2,230.6L1520.8,235.5L1514.7,236.1L1519.6,238.0L1514.6,244.0L1509.0,244.0L1502.4,246.3L1497.4,251.7L1501.3,250.8L1501.0,253.0L1501.8,255.4L1500.8,260.7L1501.2,263.8L1510.8,264.3L1511.3,268.4L1509.6,266.9L1510.3,273.8L1510.9,274.6L1502.0,279.3L1499.4,281.3L1495.6,285.6L1501.2,287.9L1498.0,298.1L1488.9,299.7L1487.5,304.4L1480.1,304.4L1478.5,299.7L1476.3,295.7L1472.6,287.9L1463.8,286.0L1472.0,282.5L1467.1,280.0L1471.1,277.2L1465.5,274.6L1464.6,272.8L1462.7,270.0L1463.7,272.2L1461.3,274.6L1456.7,277.7L1455.7,277.2L1448.0,283.2L1446.3,285.7L1442.0,283.9L1439.6,278.9L1433.9,279.3L1434.6,275.1L1431.2,272.3L1433.7,266.2L1430.4,265.3L1421.8,258.9L1428.9,258.4L1432.0,254.7L1429.9,253.1L1432.0,249.9L1437.2,247.8L1443.2,248.5L1447.3,243.5L1448.4,241.8L1457.5,239.3L1456.8,239.5L1458.5,236.7L1461.0,234.3L1466.4,230.9L1467.2,228.4L1470.1,227.3L1464.7,224.9L1469.4,221.7L1467.2,220.1L1474.3,215.9L1478.7,216.9L1479.4,212.3L1477.4,208.3L1484.2,207.2L1486.3,205.0L1491.8,202.9L1491.3,202.2L1499.1,198.0L1502.7,193.2L1509.2,194.4L1515.5,195.9L1516.7,191.6L1522.1,188.5L1524.1,188.8L1533.4,189.8ZM424.6,202.2L431.0,205.1L434.8,207.9L438.7,210.8L443.2,213.3L447.8,215.9L449.5,219.2L451.3,222.5L437.9,226.9L419.2,234.3L411.5,235.8L405.3,232.1L407.0,226.9L404.3,221.0L392.9,226.9L385.2,228.4L404.7,215.2ZM2341.6,186.8L2339.4,183.1L2344.8,184.0L2351.8,188.1L2347.7,188.8ZM454.4,184.0L459.8,184.7L465.2,185.4L457.9,188.1L447.4,188.1ZM1364.1,347.1L1367.7,346.3L1372.2,346.8L1377.0,345.5L1381.1,343.7L1386.6,343.8L1390.0,342.2L1393.5,342.5L1396.0,341.2L1401.5,341.4L1406.4,338.8L1408.6,338.2L1404.7,335.7L1406.3,331.9L1409.5,330.0L1410.4,326.8L1406.0,325.4L1401.5,323.6L1400.8,320.0L1399.6,318.8L1396.4,316.9L1395.4,313.4L1392.1,310.8L1389.3,307.8L1389.7,303.6L1384.7,302.0L1381.1,299.7L1383.6,296.4L1385.2,294.3L1387.4,291.8L1386.8,288.4L1387.5,286.3L1384.7,286.7L1378.8,285.5L1375.3,287.1L1377.9,285.0L1377.2,282.0L1380.3,279.3L1377.9,279.6L1372.9,279.5L1369.5,279.3L1368.7,280.4L1363.2,285.2L1363.1,287.9L1363.4,291.1L1362.3,292.0L1364.6,295.7L1364.0,297.5L1362.6,301.3L1368.2,303.6L1368.6,305.2L1369.7,307.4L1369.7,309.2L1373.8,308.5L1377.8,308.4L1379.2,312.9L1380.8,315.6L1381.5,317.8L1379.5,320.4L1374.4,322.2L1371.2,321.2L1372.2,322.7L1373.0,325.2L1373.6,326.9L1372.3,330.1L1369.1,331.2L1366.5,333.3L1368.8,334.2L1374.4,335.8L1377.2,336.5L1380.4,338.2L1377.1,338.6L1374.2,338.2L1370.7,339.8L1366.7,342.5ZM1361.5,330.1L1360.2,327.5L1360.3,324.2L1360.5,321.2L1361.6,317.6L1363.4,313.3L1364.7,311.6L1363.3,308.9L1361.1,306.0L1357.9,304.8L1353.1,305.2L1349.7,308.7L1346.6,310.8L1341.2,312.2L1337.0,314.0L1338.3,316.8L1337.9,320.4L1340.9,322.8L1339.2,325.6L1337.4,329.3L1333.9,333.3L1338.9,335.7L1341.8,334.7L1346.7,333.3L1348.6,333.3L1354.1,332.4L1357.4,331.7ZM1262.9,226.9L1270.7,225.4L1265.2,223.4L1274.3,220.3L1280.1,227.1L1284.7,224.7L1285.4,220.8L1296.3,221.7L1301.9,220.9L1300.0,216.6L1310.6,219.5L1319.5,218.9L1318.7,221.7L1316.0,222.7L1326.4,227.2L1322.9,229.1L1319.6,232.2L1320.5,233.9L1315.3,235.8L1309.7,240.1L1300.8,236.0L1302.3,239.5L1303.0,238.9L1290.4,242.5L1290.5,242.0L1279.4,239.5L1274.9,238.1L1269.8,238.8L1272.5,233.0L1274.4,235.0L1263.9,234.3L1263.8,231.3L1268.4,231.2L1275.6,228.4L1274.4,232.1L1272.5,225.2ZM1450.7,131.0L1459.3,128.4L1464.3,129.3L1484.1,129.0L1478.2,129.3L1490.6,129.6L1494.9,131.0L1495.6,133.8L1486.6,134.9L1487.3,138.1L1492.3,137.8L1502.0,140.0L1500.9,142.9L1491.3,144.9L1489.0,147.2L1482.7,150.0L1477.0,146.5L1472.2,146.2L1468.7,143.2L1464.1,141.2L1449.0,137.9L1451.5,136.3L1444.6,134.9L1459.3,130.6ZM1482.5,128.1L1490.3,128.6L1500.5,126.5L1515.2,127.9L1524.2,128.7L1520.9,132.4L1511.9,133.3L1508.0,131.1L1493.0,132.7L1480.9,131.2ZM1499.7,140.0L1504.0,139.5L1514.3,141.2L1504.1,143.0L1510.8,145.5L1500.8,144.3L1499.9,143.0ZM1669.4,182.6L1676.9,187.2L1673.0,187.7L1680.3,188.8L1688.6,189.6L1688.7,188.9L1696.9,190.2L1699.4,189.6L1703.4,187.4L1697.7,184.5L1704.0,184.2L1689.2,180.6L1689.9,177.6L1686.0,172.4L1686.9,171.7L1691.8,168.6L1690.7,168.7L1693.5,165.7L1698.8,163.5L1698.1,159.8L1703.9,158.4L1706.8,157.0L1720.9,154.0L1723.8,151.9L1733.7,150.9L1735.4,148.1L1732.0,148.5L1720.2,147.4L1718.7,147.7L1707.2,148.3L1699.2,151.9L1696.5,154.5L1695.2,155.2L1683.5,157.8L1686.7,159.8L1685.4,163.5L1677.9,165.0L1673.9,169.6L1680.8,173.3L1675.2,173.7L1669.1,177.8L1672.5,178.5L1671.8,179.7ZM1614.7,125.9L1621.4,124.3L1636.8,124.8L1646.6,122.0L1660.1,122.8L1661.1,121.0L1673.0,121.8L1680.6,122.6L1681.1,124.4L1675.2,127.0L1666.7,126.6L1658.1,127.1L1648.9,128.7L1638.4,128.7L1625.8,128.7L1625.3,126.0ZM1846.3,135.1L1852.9,132.4L1850.0,130.9L1852.7,129.3L1852.8,122.6L1846.7,123.2L1840.6,123.7L1835.0,125.2L1829.3,126.6L1823.5,128.1L1834.8,131.6ZM1857.2,136.3L1866.5,136.5L1864.2,132.4L1876.0,132.7L1889.1,136.9L1894.9,136.3L1893.2,138.4L1892.0,141.2L1875.9,138.9L1872.8,141.2L1868.4,137.8ZM2083.9,159.1L2086.4,156.5L2093.0,154.5L2094.4,153.2L2102.3,153.9L2114.6,154.9L2124.5,156.5L2129.7,157.1L2141.3,158.3L2150.0,159.7L2147.9,161.9L2141.0,160.6L2134.2,162.4L2123.3,161.9L2117.9,161.8L2112.0,161.1L2108.3,161.4L2100.0,163.0L2097.7,160.8ZM2116.9,171.0L2120.1,169.8L2129.3,169.0L2122.8,168.8L2134.3,172.4L2129.3,171.8L2124.0,172.4ZM1660.0,199.4L1667.8,198.7L1668.0,202.9L1662.6,202.9ZM2287.1,313.2L2294.1,317.1L2299.2,319.6L2302.9,323.3L2304.6,325.2L2305.8,327.0L2311.7,331.7L2312.4,334.0L2317.2,339.3L2319.9,341.2L2321.8,344.6L2324.5,347.9L2339.3,356.1L2338.8,368.4L2349.1,378.3L2340.9,380.7L2332.2,368.4L2323.1,356.1L2310.2,339.8L2306.2,336.1L2303.7,333.2L2303.8,331.3L2298.1,327.5L2295.2,323.6L2292.7,321.4L2289.4,316.5ZM2354.3,418.1L2357.1,409.8L2371.4,413.9L2375.6,408.5L2379.7,403.1L2372.0,394.8L2364.7,394.8L2357.3,394.8L2343.1,385.7L2351.7,401.5L2345.3,404.0L2346.7,411.4ZM2321.6,481.1L2326.0,473.5L2334.2,468.4L2347.9,467.6L2351.4,457.5L2352.6,451.6L2361.8,453.3L2363.4,443.2L2359.8,430.7L2355.8,420.6L2362.8,419.8L2367.6,426.5L2375.9,434.8L2374.7,444.9L2380.4,455.8L2381.9,464.2L2384.9,467.6L2381.0,471.0L2380.4,472.6L2376.9,468.4L2374.5,475.2L2370.7,476.0L2361.9,475.2L2362.0,478.5L2359.4,485.3L2352.6,482.7L2348.2,476.0L2338.4,477.7L2330.7,481.1L2322.6,481.9ZM2315.6,487.0L2318.2,486.6L2320.2,483.0L2321.9,481.9L2329.0,485.3L2333.2,493.7L2333.3,503.0L2330.3,506.3L2325.8,503.8L2322.6,493.7L2318.4,492.0ZM2334.3,484.4L2342.3,478.5L2348.3,481.1L2347.4,487.0L2340.7,491.2L2336.4,489.5ZM2275.6,556.0L2282.3,556.9L2281.9,572.1L2279.5,582.2L2273.5,573.7L2272.5,565.3ZM2195.2,605.7L2203.6,599.0L2211.4,601.5L2209.1,610.0L2202.4,614.2L2196.1,611.6ZM1990.9,685.8L1994.7,687.5L2002.5,695.9L2006.7,706.0L2004.8,713.6L1997.6,717.4L1993.8,715.3L1991.8,704.3L1992.2,695.9ZM1764.1,869.4L1767.5,882.9L1770.8,896.4L1765.7,906.5L1762.7,917.5L1759.2,926.7L1755.6,936.0L1751.4,947.8L1747.3,959.6L1743.6,968.8L1739.9,978.1L1728.6,983.2L1718.2,978.1L1715.1,961.3L1715.1,951.2L1724.1,936.0L1723.8,919.1L1723.1,906.5L1734.4,901.4L1745.7,896.4L1753.8,883.8L1760.2,872.8ZM1486.2,447.4L1489.7,447.4L1493.0,445.7L1495.8,444.1L1501.8,445.3L1503.0,444.7L1507.5,445.7L1506.9,447.7L1505.6,452.1L1505.3,455.8L1502.8,456.4L1500.6,458.3L1496.4,455.7L1493.2,455.3L1490.4,452.5L1486.3,450.8ZM1455.6,423.1L1463.0,420.6L1466.6,426.5L1465.7,437.4L1460.3,439.9L1457.4,434.8ZM1457.8,410.6L1463.0,405.6L1464.1,413.9L1462.2,419.0L1458.7,416.4ZM1564.1,467.6L1565.8,468.2L1571.2,468.6L1574.7,469.3L1579.6,470.4L1581.0,471.8L1584.0,471.0L1575.0,473.1L1565.0,471.0ZM1626.2,472.6L1630.7,469.3L1641.6,466.8L1638.1,472.6L1631.5,476.0ZM1416.1,434.0L1421.6,431.1L1423.0,434.8L1419.6,436.5ZM1467.8,305.2L1469.3,301.3L1474.7,298.9L1477.5,302.9L1474.2,307.6L1471.1,308.4ZM1460.3,304.4L1465.1,302.9L1466.7,306.8L1462.4,307.6ZM1510.1,291.0L1513.5,284.7L1515.4,285.5L1512.6,291.8ZM1531.2,281.6L1535.1,279.3L1539.4,280.0L1535.7,283.2ZM1793.4,661.4L1802.3,661.4L1798.7,663.9ZM1690.8,816.4L1693.0,818.0L1692.2,821.4L1690.7,820.6ZM2107.6,720.3L2115.9,722.0L2124.1,723.7L2133.4,735.5L2145.6,746.4L2154.7,750.7L2166.0,760.8L2171.3,767.5L2177.2,775.9L2177.0,784.3L2187.9,792.8L2186.8,805.4L2185.5,816.4L2175.9,816.4L2168.8,807.9L2160.2,800.4L2150.9,788.6L2146.7,775.9L2136.2,759.1L2133.9,753.2L2124.8,744.8L2113.3,733.8L2107.8,723.7ZM2180.7,824.8L2187.0,817.2L2192.8,818.9L2205.3,823.1L2220.0,825.6L2223.9,821.4L2236.2,826.5L2249.2,832.4L2248.0,840.0L2237.8,837.4L2223.0,836.6L2208.4,832.4L2200.9,833.2L2190.0,829.8L2181.4,825.6ZM2249.0,835.7L2257.8,837.4L2253.8,841.6ZM2260.0,837.4L2265.1,838.3L2262.6,842.5L2259.0,841.6ZM2265.9,838.3L2274.9,836.6L2282.2,838.3L2281.9,841.6L2267.0,843.3ZM2288.1,838.3L2297.0,838.3L2311.3,836.6L2310.2,840.8L2301.6,841.6L2293.0,842.5L2287.9,841.6ZM2281.5,847.5L2289.0,845.8L2294.4,851.7L2288.3,854.3L2281.3,850.1ZM2314.2,854.3L2322.4,845.8L2330.3,840.0L2343.0,838.3L2337.4,843.3L2325.8,849.2L2317.9,854.3ZM2214.9,750.7L2225.4,753.2L2228.2,745.6L2239.9,740.5L2246.9,728.7L2254.2,725.4L2261.0,712.7L2266.7,708.5L2273.7,713.6L2276.9,718.6L2285.3,723.7L2279.0,730.4L2274.6,733.8L2275.7,742.2L2277.4,749.0L2284.3,759.1L2276.1,760.8L2274.0,767.5L2273.1,775.9L2268.6,778.5L2266.2,786.0L2263.6,797.0L2262.0,801.2L2251.6,802.0L2251.0,797.0L2239.9,794.5L2230.9,797.0L2219.9,792.8L2218.7,781.8L2212.2,771.7L2210.7,765.0L2210.6,757.4ZM2298.4,756.5L2307.4,759.1L2318.5,759.9L2328.1,754.0L2331.1,755.7L2326.0,763.3L2314.9,763.3L2303.7,763.3L2294.1,765.0L2292.6,767.5L2293.3,774.2L2299.9,779.3L2303.7,775.1L2317.1,775.1L2317.8,775.9L2307.2,781.8L2303.5,784.3L2309.1,794.5L2314.0,801.2L2310.9,805.4L2309.8,812.1L2303.3,807.9L2302.9,801.2L2298.1,790.2L2294.9,797.0L2294.1,813.8L2287.4,813.8L2288.2,797.0L2283.2,791.1L2287.2,780.1L2291.1,769.2L2292.5,761.6ZM2374.4,774.2L2385.6,770.9L2396.7,774.2L2397.9,784.3L2399.9,791.1L2403.5,795.3L2415.0,786.0L2424.8,780.1L2437.4,784.3L2448.4,789.4L2463.0,796.1L2474.0,799.5L2483.2,807.9L2483.0,811.3L2491.5,818.0L2497.3,819.7L2491.0,824.8L2497.6,834.9L2504.2,843.3L2510.7,851.7L2516.4,854.3L2513.9,856.8L2503.1,854.3L2492.2,851.7L2489.1,846.7L2482.6,836.6L2471.9,831.5L2464.1,836.6L2459.7,843.3L2452.2,845.0L2444.8,844.2L2438.1,836.6L2426.9,837.4L2423.7,830.7L2429.4,824.8L2424.9,813.8L2410.5,806.3L2399.5,801.2L2388.4,801.2L2387.2,795.3L2381.4,791.1L2392.6,788.6L2383.0,786.0L2374.3,779.3ZM2348.9,751.5L2351.8,749.8L2351.2,757.4L2357.1,754.9L2353.6,762.4L2358.1,765.0L2352.2,767.5L2351.3,774.2L2348.4,763.3L2347.5,757.4ZM2351.5,793.6L2362.8,791.1L2372.3,795.3L2366.2,797.8L2355.1,796.1ZM2336.6,794.5L2344.8,794.5L2343.9,799.5L2337.9,798.7ZM2501.4,813.8L2514.3,809.6L2525.8,802.9L2531.7,803.7L2529.0,812.1L2519.7,818.9L2506.2,819.7ZM2521.2,789.4L2530.0,794.5L2536.9,805.4L2534.6,805.4L2526.2,794.5ZM2548.3,812.1L2554.6,818.0L2557.8,824.8L2552.8,822.3ZM2582.5,845.8L2591.2,847.5L2588.6,850.9L2582.8,850.1ZM2590.7,838.3L2595.0,846.7L2592.7,847.5L2590.4,841.6ZM2282.6,611.6L2283.8,612.4L2288.0,611.9L2291.4,610.7L2293.6,611.6L2295.9,615.0L2296.5,618.9L2297.2,620.5L2298.0,624.3L2296.8,631.1L2294.2,626.7L2294.2,632.7L2295.1,636.7L2295.8,637.6L2297.2,642.4L2297.6,645.3L2299.0,647.8L2303.3,649.6L2304.7,649.3L2310.4,648.7L2311.2,651.4L2314.5,650.4L2313.3,653.5L2315.9,656.7L2315.8,661.4L2313.6,660.4L2307.9,654.9L2307.5,653.8L2303.2,650.5L2299.2,653.5L2298.3,651.2L2294.5,650.9L2293.8,652.0L2290.2,651.2L2290.4,650.0L2288.7,645.3L2285.8,644.8L2283.7,641.1L2283.4,638.3L2283.7,629.5L2284.2,630.2L2282.4,627.1L2284.4,623.4L2283.3,620.1L2284.9,618.6L2283.9,615.5ZM2305.3,708.5L2308.7,705.0L2310.7,702.6L2310.9,699.8L2315.4,695.0L2318.9,693.5L2321.6,693.0L2323.9,688.1L2325.9,687.5L2325.1,685.8L2329.4,684.9L2334.0,689.6L2335.1,692.2L2336.3,695.9L2337.9,699.6L2336.7,702.8L2337.7,706.1L2338.7,708.5L2335.9,710.1L2335.4,714.4L2333.1,718.9L2332.0,720.3L2328.9,718.0L2328.1,717.0L2323.0,714.9L2323.6,712.5L2320.4,712.7L2319.8,711.0L2320.2,707.0L2319.8,704.3L2318.8,704.3L2314.5,706.0L2312.4,704.3L2309.3,705.5L2306.7,706.8ZM2318.2,662.2L2321.9,662.1L2324.4,660.6L2325.6,662.2L2326.3,667.3L2327.7,669.8L2329.7,673.1L2326.1,672.3L2324.6,673.1L2323.0,668.0L2320.7,666.4ZM2320.0,672.3L2322.8,673.5L2324.5,672.3L2325.5,676.4L2327.7,681.8L2326.9,681.6L2324.0,682.4L2323.5,677.9L2321.3,675.2ZM2306.5,677.4L2309.0,675.4L2313.2,676.8L2313.8,676.5L2315.5,680.7L2313.7,682.7L2311.6,686.2L2312.8,690.0L2309.6,687.7L2308.1,687.5L2306.8,686.3L2305.6,680.7ZM2301.8,668.1L2304.7,668.5L2306.0,668.8L2309.5,670.6L2308.2,673.7L2309.2,676.4L2307.4,679.0L2302.9,677.7L2302.9,678.2L2302.6,675.3L2303.7,672.3ZM2268.9,696.7L2274.4,691.7L2284.2,676.5L2284.0,674.2L2282.3,672.3L2276.1,684.9ZM2289.1,653.8L2295.7,656.9L2295.9,655.5L2295.9,657.8L2296.9,661.6L2295.4,663.9L2293.1,663.0L2290.9,658.2L2289.9,656.5ZM2312.6,672.3L2314.8,672.2L2317.2,673.1L2315.1,677.4L2315.9,680.2L2316.6,683.2L2314.8,687.5L2315.1,684.5L2315.5,682.2L2313.6,680.3L2311.8,674.3ZM2316.6,682.4L2319.3,684.8L2321.8,682.4L2321.6,684.8L2321.4,686.6L2318.2,686.2L2317.7,686.6L2316.8,684.5ZM2454.5,857.6L2460.1,872.8L2460.0,888.0L2470.1,893.9L2469.2,906.5L2469.9,916.2L2470.4,925.9L2475.4,930.1L2484.7,937.7L2488.1,948.6L2494.8,957.1L2494.9,965.5L2498.9,969.7L2507.0,979.8L2503.6,995.0L2501.6,1008.4L2490.9,1024.4L2481.0,1038.8L2465.7,1053.1L2457.5,1062.4L2445.3,1075.0L2440.7,1083.4L2425.0,1086.7L2410.3,1094.3L2408.2,1096.8L2405.3,1090.9L2402.4,1087.6L2389.6,1094.3L2378.1,1090.1L2371.3,1083.4L2374.8,1072.5L2368.8,1067.4L2372.0,1060.7L2370.8,1055.6L2363.4,1064.0L2361.5,1060.7L2373.9,1045.5L2375.3,1042.1L2365.7,1051.4L2353.4,1061.5L2348.6,1058.1L2348.4,1045.5L2346.3,1038.8L2336.3,1037.1L2330.8,1032.9L2316.0,1034.6L2299.8,1039.6L2288.2,1042.1L2276.3,1045.5L2269.8,1053.1L2259.2,1053.1L2244.8,1053.9L2227.4,1062.4L2213.4,1062.4L2209.3,1056.5L2211.2,1049.7L2216.7,1048.0L2220.6,1037.1L2221.3,1024.4L2221.3,1010.1L2220.7,999.2L2219.6,986.5L2221.6,973.9L2226.9,957.9L2231.0,951.2L2232.9,957.1L2241.6,948.6L2252.5,941.0L2266.0,938.5L2276.9,935.1L2289.2,927.6L2295.8,919.1L2298.0,910.7L2306.4,913.2L2307.8,904.8L2315.5,902.3L2320.5,893.9L2329.1,885.4L2336.6,884.6L2344.4,892.2L2353.8,893.0L2357.0,881.2L2364.0,872.8L2375.6,868.6L2380.0,862.7L2386.9,866.9L2397.6,870.3L2410.9,870.3L2407.2,881.2L2400.4,892.2L2400.9,898.1L2411.2,902.3L2420.7,910.7L2425.6,915.8L2433.1,914.9L2439.1,902.3L2443.5,889.7L2446.2,877.0L2448.0,868.6L2452.0,860.2ZM2388.4,1110.2L2398.6,1113.5L2410.5,1111.0L2406.0,1121.1L2397.2,1131.0L2388.1,1134.4L2382.0,1133.5L2382.9,1125.2L2384.9,1116.9ZM2614.1,1057.3L2616.8,1062.4L2618.7,1070.8L2618.0,1077.5L2623.1,1075.0L2620.6,1084.2L2629.4,1086.7L2637.4,1085.1L2626.5,1096.0L2616.6,1100.2L2611.7,1106.9L2603.8,1112.7L2591.8,1117.7L2589.6,1115.2L2600.0,1106.0L2599.7,1102.7L2595.8,1098.5L2604.2,1094.3L2612.9,1083.4L2614.7,1075.0L2612.3,1064.0ZM2581.0,1108.5L2583.4,1110.4L2585.7,1111.5L2586.8,1112.7L2586.9,1115.2L2584.9,1116.2L2581.7,1119.4L2576.9,1123.1L2571.9,1125.9L2567.0,1129.4L2562.7,1132.2L2560.3,1136.0L2554.9,1138.5L2551.0,1138.1L2546.8,1140.2L2544.2,1141.2L2540.1,1145.6L2538.0,1148.5L2532.5,1151.0L2531.9,1153.4L2525.3,1155.9L2519.1,1159.2L2515.1,1159.5L2511.2,1159.2L2511.8,1156.9L2507.3,1155.9L2505.5,1154.0L2504.7,1152.6L2506.2,1150.1L2514.8,1147.0L2518.7,1143.5L2523.7,1141.6L2530.1,1137.7L2535.9,1135.4L2540.9,1132.5L2545.4,1131.0L2552.3,1127.9L2553.8,1125.8L2560.1,1123.6L2563.9,1120.9L2567.0,1116.7L2573.1,1112.7L2576.7,1110.7ZM2503.8,1161.7L2505.5,1161.6L2508.4,1161.7L2504.3,1165.0ZM2598.1,936.8L2607.2,944.4L2615.4,955.4L2611.5,956.2L2602.5,948.6ZM2701.0,914.9L2710.5,914.9L2708.3,920.8L2700.4,920.0ZM2713.1,907.3L2723.5,904.0L2718.6,909.0ZM627.0,1428.5L636.8,1429.0L646.6,1429.4L656.3,1429.8L666.0,1430.2L675.7,1430.7L684.2,1430.7L692.7,1430.7L701.3,1430.7L709.8,1430.7L718.3,1430.7L726.8,1430.7L732.7,1429.6L738.6,1428.5L744.5,1427.4L750.5,1426.3L728.9,1416.6L706.1,1405.7L696.9,1403.8L687.2,1401.7L671.3,1399.2L664.8,1396.9L653.4,1392.6L640.4,1391.9L634.4,1388.8L638.2,1388.1L646.6,1387.6L650.6,1386.5L661.8,1386.0L665.1,1384.4L667.4,1381.2L677.5,1381.2L678.5,1377.9L689.1,1376.8L691.2,1375.1L696.2,1373.3L703.3,1373.1L712.8,1372.5L718.4,1371.3L723.8,1370.9L734.8,1371.1L742.4,1369.5L747.8,1367.3L755.2,1367.1L762.6,1366.6L769.9,1367.3L774.3,1367.2L786.2,1368.8L791.9,1366.4L799.9,1366.8L808.0,1368.5L815.2,1368.0L823.3,1369.4L827.7,1369.7L839.2,1371.9L846.1,1372.6L853.2,1371.6L859.3,1369.2L865.9,1369.9L873.7,1366.3L879.8,1366.6L879.7,1364.4L878.4,1360.8L881.1,1357.9L884.9,1356.4L888.2,1354.4L897.9,1355.9L903.6,1357.2L913.2,1356.5L922.1,1358.7L929.2,1358.8L934.8,1359.9L943.2,1359.7L949.4,1360.4L955.0,1360.9L965.2,1361.5L971.9,1360.0L979.6,1361.7L987.5,1361.3L989.4,1359.3L1003.5,1357.7L1004.4,1357.9L1008.2,1354.4L1009.2,1350.8L1008.1,1348.8L1007.2,1344.8L1014.6,1342.4L1013.0,1339.9L1012.3,1337.0L1013.5,1335.3L1016.0,1331.2L1019.1,1327.1L1023.5,1323.5L1025.4,1322.7L1029.0,1320.4L1029.4,1319.7L1034.2,1315.4L1030.4,1311.8L1030.3,1306.7L1032.8,1307.8L1037.8,1304.4L1042.4,1302.8L1046.7,1299.1L1051.1,1297.0L1057.7,1295.4L1062.9,1294.0L1065.9,1291.7L1070.4,1291.9L1073.3,1295.5L1064.4,1298.5L1064.3,1300.7L1063.5,1306.0L1050.7,1305.2L1056.5,1308.1L1053.5,1309.4L1055.2,1313.1L1054.6,1315.5L1051.7,1318.3L1048.8,1322.0L1051.7,1324.6L1049.0,1327.1L1045.9,1329.9L1051.2,1334.0L1060.2,1336.5L1064.9,1340.1L1068.0,1340.6L1071.1,1343.0L1072.3,1348.6L1075.0,1349.2L1077.0,1353.1L1083.9,1355.2L1083.3,1357.9L1082.8,1359.5L1087.1,1364.2L1091.7,1366.5L1094.0,1369.5L1091.8,1371.3L1088.5,1373.0L1085.8,1375.9L1082.4,1378.2L1078.8,1381.1L1071.8,1382.5L1063.5,1383.1L1055.9,1385.5L1049.0,1387.2L1048.2,1389.8L1038.2,1390.7L1038.9,1393.6L1028.5,1395.2L1023.8,1397.1L1023.5,1399.9L1035.9,1402.8L1048.2,1405.7L1060.3,1408.5L1072.2,1411.3L1083.1,1413.1L1093.9,1414.9L1104.6,1416.7L1115.1,1418.4L1125.6,1420.1L1134.2,1419.9L1142.9,1419.7L1151.6,1419.5L1160.3,1419.3L1169.0,1419.1L1175.8,1417.9L1182.7,1416.6L1189.7,1415.3L1196.7,1414.0L1203.3,1412.6L1210.0,1411.1L1216.8,1409.7L1223.9,1405.7L1231.2,1401.7L1236.6,1400.7L1235.1,1396.9L1241.9,1393.8L1246.8,1392.0L1247.7,1388.4L1251.2,1386.1L1254.3,1383.1L1261.4,1381.1L1270.2,1379.2L1268.7,1376.8L1280.8,1373.3L1287.1,1371.1L1289.3,1367.5L1297.3,1364.6L1305.2,1363.1L1307.6,1361.1L1315.7,1359.2L1321.8,1357.9L1327.7,1355.7L1334.4,1354.4L1340.7,1349.3L1346.8,1347.6L1354.2,1347.7L1357.3,1345.6L1365.6,1346.2L1373.1,1345.5L1380.0,1344.3L1386.3,1341.3L1392.1,1339.4L1399.6,1339.2L1406.8,1339.3L1414.4,1339.2L1421.3,1339.9L1426.3,1340.6L1432.2,1339.1L1439.4,1340.5L1447.8,1339.1L1453.2,1339.2L1459.9,1338.6L1467.7,1336.8L1473.2,1338.5L1480.3,1337.0L1486.0,1337.6L1493.0,1339.3L1501.2,1339.2L1506.6,1340.6L1512.9,1340.7L1518.7,1341.7L1525.6,1342.6L1533.0,1342.0L1540.4,1340.8L1546.1,1339.5L1553.9,1338.8L1561.0,1337.0L1565.8,1335.5L1574.5,1334.0L1579.0,1330.6L1584.0,1331.4L1587.1,1333.9L1592.1,1335.8L1600.6,1336.0L1604.0,1337.0L1608.0,1335.8L1616.0,1333.5L1623.5,1331.7L1629.7,1329.0L1637.1,1327.4L1646.4,1324.9L1652.4,1323.7L1658.6,1321.7L1668.5,1319.7L1671.9,1318.1L1677.8,1315.5L1681.8,1314.9L1688.7,1314.4L1695.4,1312.8L1704.3,1311.2L1707.3,1311.8L1711.9,1313.5L1715.7,1317.7L1722.6,1319.3L1724.7,1319.9L1733.2,1321.0L1735.6,1320.9L1740.8,1322.7L1745.4,1323.4L1751.9,1323.5L1752.4,1324.9L1762.0,1325.4L1768.6,1324.8L1772.6,1324.9L1774.0,1327.3L1771.9,1330.4L1776.5,1332.1L1773.4,1335.1L1775.9,1338.4L1771.7,1342.6L1771.7,1344.1L1765.6,1347.0L1761.2,1349.0L1758.6,1352.0L1751.8,1354.4L1757.2,1356.7L1763.5,1356.5L1769.4,1353.5L1771.1,1350.2L1778.6,1346.7L1785.0,1344.1L1791.2,1341.4L1796.7,1338.5L1805.3,1337.1L1808.8,1335.3L1816.2,1333.5L1822.9,1331.4L1831.6,1327.6L1838.4,1324.9L1843.0,1324.7L1853.3,1321.2L1859.3,1320.0L1866.8,1319.0L1871.0,1317.7L1878.6,1317.7L1880.8,1317.4L1887.5,1316.9L1896.2,1316.8L1899.3,1316.9L1907.8,1314.7L1913.8,1315.5L1917.7,1313.2L1921.1,1315.4L1929.9,1313.3L1933.7,1311.9L1939.7,1312.3L1948.5,1310.6L1952.1,1310.9L1960.2,1310.3L1966.2,1310.2L1969.6,1311.9L1974.9,1312.2L1980.5,1314.2L1984.4,1314.7L1990.0,1315.6L1995.5,1314.8L2001.9,1313.2L2010.8,1313.5L2013.6,1313.3L2018.3,1314.0L2024.8,1314.3L2031.4,1313.5L2034.8,1315.3L2039.4,1315.5L2045.1,1316.4L2048.0,1315.5L2058.4,1315.8L2056.9,1319.7L2065.1,1317.7L2070.7,1316.5L2078.0,1315.2L2083.1,1315.1L2090.7,1314.6L2096.6,1314.0L2100.5,1313.7L2108.6,1313.5L2112.4,1313.1L2119.6,1312.0L2126.8,1311.8L2133.9,1311.6L2138.2,1312.0L2142.2,1313.3L2149.9,1311.2L2154.8,1311.8L2158.9,1312.4L2161.5,1313.9L2168.0,1314.6L2174.4,1314.3L2176.8,1316.9L2175.5,1318.9L2184.8,1318.7L2188.7,1320.1L2191.2,1321.5L2199.3,1321.3L2202.6,1322.0L2207.2,1322.8L2210.5,1326.8L2214.6,1327.5L2215.8,1329.9L2216.9,1331.9L2226.0,1332.1L2231.1,1331.6L2231.7,1332.4L2238.2,1333.5L2244.5,1334.4L2247.1,1336.8L2251.2,1339.0L2255.2,1340.6L2263.5,1341.2L2267.6,1342.8L2270.5,1345.0L2274.6,1345.5L2279.0,1346.2L2282.5,1348.6L2286.3,1350.8L2292.3,1351.0L2288.8,1353.3L2281.9,1357.0L2283.0,1358.5L2275.3,1361.3L2263.1,1364.2L2251.1,1367.5L2242.0,1369.4L2237.3,1371.3L2231.1,1373.3L2222.7,1375.6L2213.7,1379.5L2206.5,1381.1L2200.8,1383.4L2200.9,1385.3L2188.4,1389.6L2190.0,1390.7L2188.0,1393.3L2180.1,1395.4L2170.2,1396.8L2166.0,1399.9L2137.8,1408.5L2134.6,1414.0L2131.3,1419.1L2134.5,1421.0L2137.7,1422.8L2140.8,1424.6L2143.8,1426.3L2151.0,1426.9L2158.1,1427.4L2165.2,1428.0L2172.2,1428.5L2150.3,1435.9L2130.3,1442.1L2112.5,1446.9L2104.6,1446.9L2096.7,1446.9L2088.7,1446.9L2080.8,1446.9L2072.9,1446.9L2065.0,1446.9L2057.1,1446.9L2049.1,1446.9L2041.2,1446.9L2033.3,1446.9L2025.4,1446.9L2017.4,1446.9L2009.5,1446.9L2001.6,1446.9L1993.7,1446.9L1985.8,1446.9L1977.8,1446.9L1969.9,1446.9L1962.0,1446.9L1954.1,1446.9L1946.2,1446.9L1938.2,1446.9L1930.3,1446.9L1922.4,1446.9L1914.5,1446.9L1906.6,1446.9L1898.6,1446.9L1890.7,1446.9L1882.8,1446.9L1874.9,1446.9L1866.9,1446.9L1859.0,1446.9L1851.1,1446.9L1843.2,1446.9L1835.3,1446.9L1827.3,1446.9L1819.4,1446.9L1811.5,1446.9L1803.6,1446.9L1795.7,1446.9L1787.7,1446.9L1779.8,1446.9L1771.9,1446.9L1764.0,1446.9L1756.0,1446.9L1748.1,1446.9L1740.2,1446.9L1732.3,1446.9L1724.4,1446.9L1716.4,1446.9L1708.5,1446.9L1700.6,1446.9L1692.7,1446.9L1684.8,1446.9L1676.8,1446.9L1668.9,1446.9L1661.0,1446.9L1653.1,1446.9L1645.2,1446.9L1637.2,1446.9L1629.3,1446.9L1621.4,1446.9L1613.5,1446.9L1605.5,1446.9L1597.6,1446.9L1589.7,1446.9L1581.8,1446.9L1573.9,1446.9L1565.9,1446.9L1558.0,1446.9L1550.1,1446.9L1542.2,1446.9L1534.3,1446.9L1526.3,1446.9L1518.4,1446.9L1510.5,1446.9L1502.6,1446.9L1494.7,1446.9L1486.7,1446.9L1478.8,1446.9L1470.9,1446.9L1463.0,1446.9L1455.0,1446.9L1447.1,1446.9L1439.2,1446.9L1431.3,1446.9L1423.4,1446.9L1415.4,1446.9L1407.5,1446.9L1399.6,1446.9L1391.7,1446.9L1383.8,1446.9L1375.8,1446.9L1367.9,1446.9L1360.0,1446.9L1352.1,1446.9L1344.2,1446.9L1336.2,1446.9L1328.3,1446.9L1320.4,1446.9L1312.5,1446.9L1304.5,1446.9L1296.6,1446.9L1288.7,1446.9L1280.8,1446.9L1272.9,1446.9L1264.9,1446.9L1257.0,1446.9L1249.1,1446.9L1241.2,1446.9L1233.3,1446.9L1225.3,1446.9L1217.4,1446.9L1209.5,1446.9L1201.6,1446.9L1193.7,1446.9L1185.7,1446.9L1177.8,1446.9L1169.9,1446.9L1162.0,1446.9L1154.0,1446.9L1146.1,1446.9L1138.2,1446.9L1130.3,1446.9L1122.4,1446.9L1114.4,1446.9L1106.5,1446.9L1098.6,1446.9L1090.7,1446.9L1082.8,1446.9L1074.8,1446.9L1066.9,1446.9L1059.0,1446.9L1051.1,1446.9L1043.2,1446.9L1035.2,1446.9L1027.3,1446.9L1019.4,1446.9L1011.5,1446.9L1003.5,1446.9L995.6,1446.9L987.7,1446.9L979.8,1446.9L971.9,1446.9L963.9,1446.9L956.0,1446.9L948.1,1446.9L940.2,1446.9L932.3,1446.9L924.3,1446.9L916.4,1446.9L908.5,1446.9L900.6,1446.9L892.6,1446.9L884.7,1446.9L876.8,1446.9L868.9,1446.9L861.0,1446.9L853.0,1446.9L845.1,1446.9L837.2,1446.9L829.3,1446.9L821.4,1446.9L813.4,1446.9L805.5,1446.9L797.6,1446.9L789.7,1446.9L781.8,1446.9L773.8,1446.9L765.9,1446.9L758.0,1446.9L750.1,1446.9L742.1,1446.9L734.2,1446.9L726.3,1446.9L718.4,1446.9L710.5,1446.9L702.5,1446.9L694.6,1446.9L686.7,1446.9L668.9,1442.1L648.9,1435.9ZM1161.8,1395.7L1170.8,1395.8L1180.6,1398.3L1187.3,1398.7L1188.0,1407.4L1180.3,1407.4L1172.6,1407.4L1165.0,1407.4ZM1010.0,1333.5L1016.3,1333.2L1024.9,1335.6L1024.9,1338.5L1034.4,1343.6L1030.8,1344.7L1037.9,1348.2L1037.3,1351.0L1028.5,1352.1L1023.2,1354.2L1020.1,1356.5L1015.8,1353.9L1010.5,1349.0L1003.3,1347.6L999.8,1344.1L1005.6,1342.4L1006.3,1337.5L1008.4,1336.8ZM628.5,1399.9L635.0,1400.0L647.3,1399.9L652.7,1402.4L654.3,1403.5L659.8,1405.7L654.6,1405.9L641.3,1405.7L641.0,1403.2L634.2,1401.5ZM2203.5,1388.8L2208.9,1389.9L2215.4,1390.1L2205.3,1392.6L2195.7,1392.6L2199.6,1390.7ZM2561.4,826.5L2568.6,829.0L2575.8,831.5L2584.9,837.4L2582.5,839.1L2571.8,834.9L2561.9,829.8ZM2565.9,834.9L2571.4,839.1L2569.6,841.6L2564.1,837.4ZM2594.1,854.3L2601.0,858.5L2597.3,858.5ZM2627.5,891.3L2631.4,893.9L2630.4,898.9L2626.7,898.9ZM2629.7,902.3L2633.5,904.8L2632.2,907.3L2629.7,905.7ZM2634.2,914.9L2636.2,915.8L2634.8,918.3L2632.8,917.5ZM2639.1,925.0L2640.1,926.7L2637.7,927.6ZM2618.6,942.7L2621.3,943.6L2619.9,946.1L2618.0,945.3ZM2490.2,784.3L2496.1,784.3L2494.6,786.0L2490.1,786.0ZM2407.9,773.4L2413.8,775.9L2411.5,778.5L2407.8,775.9ZM2396.7,813.8L2401.0,816.4L2398.9,825.6L2395.4,822.3ZM2373.4,829.0L2377.2,828.2L2375.9,834.9L2372.3,834.1ZM2122.0,755.7L2127.3,759.1L2128.1,762.4L2124.3,759.9ZM2133.3,775.9L2137.6,780.1L2138.3,782.7L2134.7,780.1ZM2182.3,781.0L2189.7,781.8L2193.1,792.8L2188.0,790.2ZM2199.9,789.4L2205.1,791.1L2202.8,794.5L2199.8,793.6ZM2083.9,653.8L2086.2,655.5L2086.0,669.8L2083.7,668.1ZM1847.0,1178.9L1856.5,1179.7L1855.6,1183.8L1846.5,1183.8ZM1161.5,1219.4L1172.7,1221.8L1176.8,1225.8L1166.7,1222.6ZM342.8,319.6L352.9,314.9L356.4,315.6L362.5,314.0L363.5,315.4L353.0,318.8L347.8,321.6L340.2,322.0ZM327.4,325.2L328.9,323.3L339.8,321.2L336.7,323.6L334.5,322.7L325.7,326.8ZM290.6,330.1L305.0,328.4L302.5,330.9L288.9,331.7ZM268.1,333.3L279.4,331.7L276.8,334.1L266.4,334.9ZM2529.4,331.7L2546.4,335.7L2548.1,337.3L2531.1,333.3ZM2489.1,323.6L2500.3,325.2L2502.0,326.8L2490.8,325.2ZM2425.4,305.2L2436.6,309.2L2438.3,310.8L2427.1,306.8ZM374.1,308.4L384.1,307.6L386.6,305.9L384.9,307.6L381.5,310.8L379.8,309.8L377.7,309.1L369.8,312.4L365.3,314.4ZM2401.8,345.5L2401.7,342.5L2402.7,341.4L2405.5,343.8L2404.5,347.1ZM2402.7,379.1L2403.0,372.5L2404.9,374.1L2405.3,380.7ZM2381.8,391.5L2388.4,384.0L2391.6,386.5L2385.5,394.0ZM2376.9,399.0L2379.6,393.2L2382.7,395.6L2379.4,400.6ZM2382.8,279.3L2384.9,277.4L2382.8,274.6L2387.3,276.9L2388.7,279.4L2387.0,280.8ZM2251.3,306.0L2256.0,306.7L2257.5,306.0L2257.2,307.1L2261.1,310.0L2258.0,311.4L2255.5,310.0L2254.4,307.9ZM2290.5,486.1L2290.4,484.4L2295.0,484.9L2295.8,487.0L2292.7,487.7L2291.2,487.8ZM2355.3,444.9L2358.1,444.9L2359.6,449.1L2357.1,448.3ZM2321.9,547.6L2324.6,541.7L2323.7,540.9L2320.7,545.9ZM1802.5,943.6L1806.8,943.6L1806.5,947.8L1802.9,946.9ZM1818.4,936.0L1822.0,936.8L1821.0,940.2L1818.1,939.4ZM1719.2,863.5L1721.4,863.5L1721.3,867.8L1719.0,867.8ZM1278.3,528.2L1284.1,526.6L1281.7,531.6L1278.2,530.8ZM1286.1,530.8L1289.0,530.8L1288.9,533.3L1286.0,533.3ZM1295.6,525.7L1300.6,524.9L1299.7,530.8L1296.1,530.8ZM1300.8,521.5L1303.6,521.5L1302.8,524.0L1300.0,524.0ZM1277.2,490.7L1281.5,490.7L1281.4,492.4L1277.1,492.4ZM1220.2,448.3L1225.7,448.3L1225.5,449.9L1220.0,449.9ZM1200.7,442.4L1206.1,443.2L1206.0,444.9L1200.5,444.1ZM1224.3,638.6L1227.3,638.6L1227.2,642.0L1224.2,642.0ZM1213.1,622.6L1216.7,622.6L1216.6,626.0L1213.0,626.0ZM1462.1,735.5L1465.8,736.3L1464.3,740.5L1462.1,738.9ZM1356.6,250.8L1361.8,250.8L1361.1,254.6L1357.5,254.6ZM1390.1,263.8L1393.7,263.8L1392.5,269.2L1390.7,268.4ZM1357.3,281.6L1362.2,280.8L1361.2,280.7L1360.2,285.5L1355.9,286.3L1356.7,282.8ZM1500.4,297.3L1503.8,289.4L1503.2,289.4L1500.2,295.7ZM1532.9,276.9L1537.6,276.2L1537.3,278.1L1533.7,278.1ZM832.6,556.9L837.1,556.0L835.3,563.6L832.5,562.8ZM838.8,540.9L844.0,544.3L843.0,545.9L837.8,542.6ZM861.9,589.7L867.1,588.9L866.2,591.0L861.8,591.0ZM945.2,629.3L949.6,629.3L947.1,633.6ZM948.6,642.8L950.8,642.8L950.6,646.2ZM1515.6,265.3L1519.8,265.3L1519.5,267.6L1516.6,267.6Z" fill="#808080" stroke="#111" stroke-width="1.0" stroke-linejoin="round"/>
<path d="M1713.1,389.0L1723.4,376.6L1735.6,372.5L1749.9,376.6L1752.4,386.5L1744.1,393.2L1736.1,393.2L1746.7,404.0L1754.9,409.8L1758.9,418.1L1760.0,423.1L1768.0,422.3L1767.9,430.7L1764.5,437.4L1770.8,440.7L1774.9,454.1L1761.8,458.3L1746.8,452.5L1738.5,444.9L1738.6,434.8L1738.2,426.5L1729.1,415.6L1720.1,405.6L1714.9,397.3Z" fill="#00ffff" stroke="#111" stroke-width="1.0" stroke-linejoin="round"/>
<path d="M1399.6,129.3L1422.7,129.3L1420.9,104.3L1399.6,104.3ZM2291.1,268.4L2320.8,268.4L2275.9,230.6L2247.6,230.6ZM915.2,347.9L947.5,347.9L964.6,307.6L933.6,307.6ZM494.5,556.9L530.7,556.9L542.3,514.8L506.6,514.8ZM705.2,599L741.8,599L747.9,556.9L711.7,556.9ZM1215.4,641.1L1252.3,641.1L1253.4,599L1216.9,599Z" fill="#e8e8ff" stroke="#e8e8ff" stroke-width="0.6"/>
<path d="M1422.7,129.3L1445.8,129.3L1442.2,104.3L1420.9,104.3ZM1429.3,268.4L1459,268.4L1456.1,230.6L1427.9,230.6ZM1649.6,514.8L1685.4,514.8L1680.2,472.6L1645.1,472.6ZM1251.4,683.3L1288.5,683.3L1289.1,641.1L1252.3,641.1ZM1288.1,725.4L1325.3,725.4L1325.5,683.3L1288.5,683.3Z" fill="#e7e7ff" stroke="#e7e7ff" stroke-width="0.6"/>
<path d="M1445.8,129.3L1469,129.3L1463.5,104.3L1442.2,104.3ZM2261.3,268.4L2291.1,268.4L2247.6,230.6L2219.4,230.6ZM1288.1,809.6L1325.3,809.6L1325.2,767.5L1288,767.5ZM1325.5,851.7L1362.6,851.7L1362.4,809.6L1325.3,809.6Z" fill="#e5e5ff" stroke="#e5e5ff" stroke-width="0.6"/>
<path d="M1469,129.3L1492.1,129.3L1484.8,104.3L1463.5,104.3ZM1424.6,160.4L1449.7,160.4L1445.8,129.3L1422.7,129.3ZM1449.7,160.4L1474.7,160.4L1469,129.3L1445.8,129.3ZM902.5,307.6L933.6,307.6L953.9,268.4L924.2,268.4ZM1026.8,307.6L1057.8,307.6L1072.7,268.4L1043,268.4ZM2362.8,307.6L2393.8,307.6L2350.5,268.4L2320.8,268.4ZM2393.8,307.6L2424.9,307.6L2380.2,268.4L2350.5,268.4ZM2424.9,307.6L2456,307.6L2409.9,268.4L2380.2,268.4ZM1605.4,430.7L1639.6,430.7L1633,389L1599.7,389ZM458.3,556.9L494.5,556.9L506.6,514.8L470.9,514.8ZM441.8,641.1L478.7,641.1L485.9,599L449.4,599ZM1288.5,683.3L1325.5,683.3L1325.9,641.1L1289.1,641.1ZM2142.7,725.4L2179.9,725.4L2177.4,683.3L2140.4,683.3ZM1362.6,851.7L1399.6,851.7L1399.6,809.6L1362.4,809.6Z" fill="#e4e4ff" stroke="#e4e4ff" stroke-width="0.6"/>
<path d="M1492.1,129.3L1515.2,129.3L1506.1,104.3L1484.8,104.3ZM2231.6,268.4L2261.3,268.4L2219.4,230.6L2191.1,230.6ZM1044.4,347.9L1076.7,347.9L1088.9,307.6L1057.8,307.6ZM412.8,599L449.4,599L458.3,556.9L422.1,556.9ZM2140.4,683.3L2177.4,683.3L2173.2,641.1L2136.3,641.1Z" fill="#dfdfff" stroke="#dfdfff" stroke-width="0.6"/>
<path d="M1515.2,129.3L1538.3,129.3L1527.3,104.3L1506.1,104.3ZM995.7,307.6L1026.8,307.6L1043,268.4L1013.3,268.4ZM1834.6,307.6L1865.6,307.6L1845.3,268.4L1815.6,268.4ZM2269.6,307.6L2300.6,307.6L2261.3,268.4L2231.6,268.4ZM2336.1,347.9L2368.4,347.9L2331.7,307.6L2300.6,307.6ZM1785.4,472.6L1820.5,472.6L1811.1,430.7L1776.8,430.7Z" fill="#dedeff" stroke="#dedeff" stroke-width="0.6"/>
<path d="M1538.3,129.3L1561.4,129.3L1548.6,104.3L1527.3,104.3ZM2303.8,347.9L2336.1,347.9L2300.6,307.6L2269.6,307.6ZM2066.5,389L2099.9,389L2077.8,347.9L2045.5,347.9ZM1715.3,472.6L1750.4,472.6L1742.5,430.7L1708.2,430.7Z" fill="#dcdcff" stroke="#dcdcff" stroke-width="0.6"/>
<path d="M1561.4,129.3L1584.5,129.3L1569.9,104.3L1548.6,104.3ZM1827.4,194.4L1854.2,194.4L1825.4,160.4L1800.4,160.4ZM947.5,347.9L979.8,347.9L995.7,307.6L964.6,307.6ZM2077.8,347.9L2110.1,347.9L2083.1,307.6L2052.1,307.6ZM2400.7,347.9L2433,347.9L2393.8,307.6L2362.8,307.6ZM2433,347.9L2465.3,347.9L2424.9,307.6L2393.8,307.6ZM2465.3,347.9L2497.6,347.9L2456,307.6L2424.9,307.6ZM2497.6,347.9L2529.9,347.9L2487,307.6L2456,307.6ZM966.1,389L999.4,389L1012.1,347.9L979.8,347.9ZM2099.5,641.1L2136.3,641.1L2130.5,599L2094,599Z" fill="#dbdbff" stroke="#dbdbff" stroke-width="0.6"/>
<path d="M1584.5,129.3L1607.7,129.3L1591.2,104.3L1569.9,104.3ZM1479.8,194.4L1506.6,194.4L1499.8,160.4L1474.7,160.4ZM1456.1,230.6L1484.4,230.6L1479.8,194.4L1453.1,194.4ZM1362.4,809.6L1399.6,809.6L1399.6,767.5L1362.4,767.5Z" fill="#d8d8ff" stroke="#d8d8ff" stroke-width="0.6"/>
<path d="M1607.7,129.3L1630.8,129.3L1612.5,104.3L1591.2,104.3ZM2300,389L2333.3,389L2303.8,347.9L2271.5,347.9Z" fill="#d7d7ff" stroke="#d7d7ff" stroke-width="0.6"/>
<path d="M1630.8,129.3L1653.9,129.3L1633.8,104.3L1612.5,104.3ZM1800.7,194.4L1827.4,194.4L1800.4,160.4L1775.3,160.4ZM1639.6,430.7L1673.9,430.7L1666.4,389L1633,389ZM2359.8,430.7L2394.1,430.7L2366.7,389L2333.3,389ZM2394.1,430.7L2428.4,430.7L2400,389L2366.7,389Z" fill="#d5d5ff" stroke="#d5d5ff" stroke-width="0.6"/>
<path d="M1099,160.4L1124.1,160.4L1145.3,129.3L1122.2,129.3ZM1124.1,160.4L1149.1,160.4L1168.4,129.3L1145.3,129.3ZM1346.1,194.4L1372.9,194.4L1374.6,160.4L1349.5,160.4ZM1043,268.4L1072.7,268.4L1088.7,230.6L1060.4,230.6ZM943.6,472.6L978.7,472.6L988.1,430.7L953.8,430.7ZM1141.7,893.9L1178.6,893.9L1177.4,851.7L1140.3,851.7ZM1215.4,893.9L1252.3,893.9L1251.4,851.7L1214.4,851.7ZM1252.3,893.9L1289.1,893.9L1288.5,851.7L1251.4,851.7Z" fill="#fafaff" stroke="#fafaff" stroke-width="0.6"/>
<path d="M1149.1,160.4L1174.2,160.4L1191.5,129.3L1168.4,129.3ZM820.3,556.9L856.5,556.9L863.8,514.8L828.1,514.8ZM2246.9,641.1L2283.7,641.1L2276.7,599L2240.2,599ZM2214.4,683.3L2251.5,683.3L2246.9,641.1L2210,641.1ZM1103.3,851.7L1140.3,851.7L1139.5,809.6L1102.3,809.6Z" fill="#fbfbff" stroke="#fbfbff" stroke-width="0.6"/>
<path d="M1174.2,160.4L1199.2,160.4L1214.7,129.3L1191.5,129.3ZM1132.2,194.4L1159,194.4L1174.2,160.4L1149.1,160.4ZM1088.9,307.6L1120,307.6L1132.2,268.4L1102.4,268.4ZM747.9,556.9L784.1,556.9L792.3,514.8L756.6,514.8ZM847,641.1L883.9,641.1L887.9,599L851.4,599ZM883.9,641.1L920.7,641.1L924.5,599L887.9,599ZM807,683.3L844,683.3L847,641.1L810.2,641.1ZM844,683.3L881.1,683.3L883.9,641.1L847,641.1ZM2029.2,683.3L2066.3,683.3L2062.7,641.1L2025.8,641.1ZM2251.5,683.3L2288.5,683.3L2283.7,641.1L2246.9,641.1ZM2217.1,725.4L2254.2,725.4L2251.5,683.3L2214.4,683.3ZM1649.6,1020.2L1685.4,1020.2L1689.2,978.1L1653,978.1ZM1329.4,1062.4L1364.5,1062.4L1363.9,1020.2L1328.2,1020.2Z" fill="#ffffff" stroke="#ffffff" stroke-width="0.6"/>
<path d="M1199.2,160.4L1224.3,160.4L1237.8,129.3L1214.7,129.3ZM1224.3,160.4L1249.3,160.4L1260.9,129.3L1237.8,129.3ZM1249.3,160.4L1274.4,160.4L1284,129.3L1260.9,129.3ZM1274.4,160.4L1299.4,160.4L1307.1,129.3L1284,129.3ZM1299.4,160.4L1324.5,160.4L1330.2,129.3L1307.1,129.3ZM1430.7,307.6L1461.7,307.6L1459,268.4L1429.3,268.4ZM828.1,514.8L863.8,514.8L873.4,472.6L838.4,472.6ZM711.7,556.9L747.9,556.9L756.6,514.8L720.9,514.8ZM784.1,556.9L820.3,556.9L828.1,514.8L792.3,514.8ZM559,599L595.6,599L603.1,556.9L566.9,556.9ZM924.5,599L961,599L965.1,556.9L928.9,556.9ZM920.7,641.1L957.6,641.1L961,599L924.5,599ZM881.1,683.3L918.1,683.3L920.7,641.1L883.9,641.1ZM842.2,725.4L879.4,725.4L881.1,683.3L844,683.3ZM1989,893.9L2025.8,893.9L2029.2,851.7L1992.2,851.7ZM1331,1104.3L1365.3,1104.3L1364.5,1062.4L1329.4,1062.4Z" fill="#fffefe" stroke="#fffefe" stroke-width="0.6"/>
<path d="M1324.5,160.4L1349.5,160.4L1353.4,129.3L1330.2,129.3ZM1078.7,194.4L1105.5,194.4L1124.1,160.4L1099,160.4ZM1105.5,194.4L1132.2,194.4L1149.1,160.4L1124.1,160.4ZM1032.1,230.6L1060.4,230.6L1078.7,194.4L1052,194.4ZM1254.8,556.9L1291,556.9L1292.4,514.8L1256.7,514.8ZM1291,556.9L1327.2,556.9L1328.2,514.8L1292.4,514.8ZM814.8,599L851.4,599L856.5,556.9L820.3,556.9ZM851.4,599L887.9,599L892.7,556.9L856.5,556.9ZM887.9,599L924.5,599L928.9,556.9L892.7,556.9ZM1178.6,641.1L1215.4,641.1L1216.9,599L1180.3,599ZM1436.6,851.7L1473.7,851.7L1473.9,809.6L1436.8,809.6ZM2029.2,851.7L2066.3,851.7L2068.4,809.6L2031.3,809.6ZM1436.4,893.9L1473.3,893.9L1473.7,851.7L1436.6,851.7ZM1613.9,1020.2L1649.6,1020.2L1653,978.1L1616.8,978.1Z" fill="#fefeff" stroke="#fefeff" stroke-width="0.6"/>
<path d="M1349.5,160.4L1374.6,160.4L1376.5,129.3L1353.4,129.3ZM1399.6,194.4L1426.3,194.4L1424.6,160.4L1399.6,160.4ZM885.2,430.7L919.5,430.7L932.7,389L899.4,389ZM908.5,472.6L943.6,472.6L953.8,430.7L919.5,430.7ZM1613.9,514.8L1649.6,514.8L1645.1,472.6L1610.1,472.6ZM1176.7,809.6L1213.8,809.6L1213.6,767.5L1176.3,767.5ZM1213.8,809.6L1251,809.6L1250.8,767.5L1213.6,767.5ZM1436.8,809.6L1473.9,809.6L1474,767.5L1436.8,767.5ZM1140.3,851.7L1177.4,851.7L1176.7,809.6L1139.5,809.6ZM2066.3,851.7L2103.3,851.7L2105.6,809.6L2068.4,809.6ZM1432.9,1146L1466.3,1146L1468.2,1104.3L1433.9,1104.3ZM1533,1146L1566.3,1146L1571.1,1104.3L1536.8,1104.3Z" fill="#f6f6ff" stroke="#f6f6ff" stroke-width="0.6"/>
<path d="M1374.6,160.4L1399.6,160.4L1399.6,129.3L1376.5,129.3ZM1966.5,389L1999.8,389L1980.9,347.9L1948.6,347.9ZM899.5,514.8L935.2,514.8L943.6,472.6L908.5,472.6ZM1177.4,851.7L1214.4,851.7L1213.8,809.6L1176.7,809.6ZM1639.6,1104.3L1673.9,1104.3L1680.2,1062.4L1645.1,1062.4ZM1566.3,1146L1599.7,1146L1605.4,1104.3L1571.1,1104.3Z" fill="#f2f2ff" stroke="#f2f2ff" stroke-width="0.6"/>
<path d="M1399.6,160.4L1424.6,160.4L1422.7,129.3L1399.6,129.3ZM2320.8,268.4L2350.5,268.4L2304.2,230.6L2275.9,230.6ZM2350.5,268.4L2380.2,268.4L2332.4,230.6L2304.2,230.6ZM2380.2,268.4L2409.9,268.4L2360.7,230.6L2332.4,230.6ZM1896.7,307.6L1927.8,307.6L1904.8,268.4L1875,268.4ZM1464.2,347.9L1496.5,347.9L1492.8,307.6L1461.7,307.6ZM1851.7,347.9L1884,347.9L1865.6,307.6L1834.6,307.6ZM2240.2,599L2276.7,599L2268.5,556.9L2232.3,556.9Z" fill="#e9e9ff" stroke="#e9e9ff" stroke-width="0.6"/>
<path d="M1474.7,160.4L1499.8,160.4L1492.1,129.3L1469,129.3ZM2191.1,230.6L2219.4,230.6L2175,194.4L2148.3,194.4ZM964.6,307.6L995.7,307.6L1013.3,268.4L983.6,268.4ZM1989.9,307.6L2021,307.6L1993.9,268.4L1964.2,268.4ZM1845.4,430.7L1879.7,430.7L1866.5,389L1833.1,389ZM1436.8,725.4L1473.9,725.4L1473.7,683.3L1436.6,683.3Z" fill="#e0e0ff" stroke="#e0e0ff" stroke-width="0.6"/>
<path d="M1499.8,160.4L1524.8,160.4L1515.2,129.3L1492.1,129.3ZM1993.2,230.6L2021.5,230.6L1987.8,194.4L1961.1,194.4ZM2021.5,230.6L2049.8,230.6L2014.6,194.4L1987.8,194.4ZM2049.8,230.6L2078,230.6L2041.3,194.4L2014.6,194.4ZM1776.8,430.7L1811.1,430.7L1799.8,389L1766.4,389ZM2119.7,430.7L2154,430.7L2133.2,389L2099.9,389ZM2276.7,599L2313.3,599L2304.7,556.9L2268.5,556.9Z" fill="#d2d2ff" stroke="#d2d2ff" stroke-width="0.6"/>
<path d="M1524.8,160.4L1549.9,160.4L1538.3,129.3L1515.2,129.3ZM2162.8,230.6L2191.1,230.6L2148.3,194.4L2121.5,194.4ZM2142.5,268.4L2172.2,268.4L2134.6,230.6L2106.3,230.6ZM2176.3,307.6L2207.4,307.6L2172.2,268.4L2142.5,268.4ZM1566.3,389L1599.7,389L1593.4,347.9L1561.1,347.9Z" fill="#cfcfff" stroke="#cfcfff" stroke-width="0.6"/>
<path d="M1549.9,160.4L1574.9,160.4L1561.4,129.3L1538.3,129.3ZM2106.3,230.6L2134.6,230.6L2094.8,194.4L2068.1,194.4ZM2134.6,230.6L2162.8,230.6L2121.5,194.4L2094.8,194.4ZM2083.1,307.6L2114.2,307.6L2083.1,268.4L2053.3,268.4ZM2114.2,307.6L2145.3,307.6L2112.8,268.4L2083.1,268.4ZM2145.3,307.6L2176.3,307.6L2142.5,268.4L2112.8,268.4ZM2142.4,347.9L2174.7,347.9L2145.3,307.6L2114.2,307.6ZM2174.7,347.9L2206.9,347.9L2176.3,307.6L2145.3,307.6ZM2206.9,347.9L2239.2,347.9L2207.4,307.6L2176.3,307.6Z" fill="#cbcbff" stroke="#cbcbff" stroke-width="0.6"/>
<path d="M1574.9,160.4L1600,160.4L1584.5,129.3L1561.4,129.3ZM2023.6,268.4L2053.3,268.4L2021.5,230.6L1993.2,230.6ZM2112.8,268.4L2142.5,268.4L2106.3,230.6L2078,230.6ZM2133.2,389L2166.6,389L2142.4,347.9L2110.1,347.9ZM2346.7,472.6L2381.8,472.6L2359.8,430.7L2325.5,430.7ZM2364.1,514.8L2399.8,514.8L2381.8,472.6L2346.7,472.6Z" fill="#cacaff" stroke="#cacaff" stroke-width="0.6"/>
<path d="M1600,160.4L1625,160.4L1607.7,129.3L1584.5,129.3ZM1650.1,160.4L1675.1,160.4L1653.9,129.3L1630.8,129.3ZM2291.2,430.7L2325.5,430.7L2300,389L2266.6,389ZM2311.6,472.6L2346.7,472.6L2325.5,430.7L2291.2,430.7Z" fill="#c4c4ff" stroke="#c4c4ff" stroke-width="0.6"/>
<path d="M1625,160.4L1650.1,160.4L1630.8,129.3L1607.7,129.3ZM2154,430.7L2188.3,430.7L2166.6,389L2133.2,389ZM2232.3,556.9L2268.5,556.9L2256.9,514.8L2221.2,514.8ZM2304.7,556.9L2340.9,556.9L2328.3,514.8L2292.6,514.8Z" fill="#c2c2ff" stroke="#c2c2ff" stroke-width="0.6"/>
<path d="M1675.1,160.4L1700.2,160.4L1677,129.3L1653.9,129.3ZM1506.6,194.4L1533.3,194.4L1524.8,160.4L1499.8,160.4ZM1845.3,268.4L1875,268.4L1851.9,230.6L1823.6,230.6ZM2166.6,389L2199.9,389L2174.7,347.9L2142.4,347.9ZM2199.9,389L2233.3,389L2206.9,347.9L2174.7,347.9ZM2233.3,389L2266.6,389L2239.2,347.9L2206.9,347.9ZM1673.9,430.7L1708.2,430.7L1699.7,389L1666.4,389ZM1742.5,430.7L1776.8,430.7L1766.4,389L1733.1,389Z" fill="#c7c7ff" stroke="#c7c7ff" stroke-width="0.6"/>
<path d="M1700.2,160.4L1725.2,160.4L1700.1,129.3L1677,129.3ZM1725.2,160.4L1750.3,160.4L1723.3,129.3L1700.1,129.3ZM1750.3,160.4L1775.3,160.4L1746.4,129.3L1723.3,129.3ZM1851.9,230.6L1880.2,230.6L1854.2,194.4L1827.4,194.4ZM1880.2,230.6L1908.4,230.6L1880.9,194.4L1854.2,194.4ZM1799.8,389L1833.1,389L1819.4,347.9L1787.1,347.9Z" fill="#ccccff" stroke="#ccccff" stroke-width="0.6"/>
<path d="M998.5,194.4L1025.3,194.4L1048.9,160.4L1023.9,160.4ZM1025.3,194.4L1052,194.4L1074,160.4L1048.9,160.4ZM1052,194.4L1078.7,194.4L1099,160.4L1074,160.4ZM975.6,230.6L1003.8,230.6L1025.3,194.4L998.5,194.4ZM1003.8,230.6L1032.1,230.6L1052,194.4L1025.3,194.4ZM1213.8,725.4L1251,725.4L1251.4,683.3L1214.4,683.3ZM1213.6,767.5L1250.8,767.5L1251,725.4L1213.8,725.4ZM1104.9,893.9L1141.7,893.9L1140.3,851.7L1103.3,851.7ZM2025.8,893.9L2062.7,893.9L2066.3,851.7L2029.2,851.7ZM1290,936L1326.5,936L1325.9,893.9L1289.1,893.9ZM1472,978.1L1508.2,978.1L1509.2,936L1472.7,936ZM1328.2,1020.2L1363.9,1020.2L1363.4,978.1L1327.2,978.1ZM1539.9,1062.4L1575,1062.4L1578.2,1020.2L1542.5,1020.2ZM1575,1062.4L1610.1,1062.4L1613.9,1020.2L1578.2,1020.2Z" fill="#fdfdff" stroke="#fdfdff" stroke-width="0.6"/>
<path d="M1159,194.4L1185.7,194.4L1199.2,160.4L1174.2,160.4ZM1328.2,514.8L1363.9,514.8L1364.5,472.6L1329.4,472.6ZM879.4,725.4L916.6,725.4L918.1,683.3L881.1,683.3ZM1176.3,767.5L1213.6,767.5L1213.8,725.4L1176.7,725.4ZM1065.2,809.6L1102.3,809.6L1101.9,767.5L1064.7,767.5ZM1992.2,851.7L2029.2,851.7L2031.3,809.6L1994.1,809.6Z" fill="#fffafa" stroke="#fffafa" stroke-width="0.6"/>
<path d="M1185.7,194.4L1212.4,194.4L1224.3,160.4L1199.2,160.4ZM1212.4,194.4L1239.2,194.4L1249.3,160.4L1224.3,160.4ZM1239.2,194.4L1265.9,194.4L1274.4,160.4L1249.3,160.4ZM1265.9,194.4L1292.6,194.4L1299.4,160.4L1274.4,160.4ZM1292.6,194.4L1319.4,194.4L1324.5,160.4L1299.4,160.4ZM957.6,641.1L994.4,641.1L997.6,599L961,599ZM1473.7,851.7L1510.7,851.7L1511.1,809.6L1473.9,809.6Z" fill="#fff5f5" stroke="#fff5f5" stroke-width="0.6"/>
<path d="M1319.4,194.4L1346.1,194.4L1349.5,160.4L1324.5,160.4ZM1060.4,230.6L1088.7,230.6L1105.5,194.4L1078.7,194.4ZM645.2,430.7L679.5,430.7L699.3,389L666,389ZM955.1,683.3L992.2,683.3L994.4,641.1L957.6,641.1ZM916.6,725.4L953.7,725.4L955.1,683.3L918.1,683.3ZM1176.7,725.4L1213.8,725.4L1214.4,683.3L1177.4,683.3ZM1955.2,851.7L1992.2,851.7L1994.1,809.6L1957,809.6ZM1180.3,936L1216.9,936L1215.4,893.9L1178.6,893.9Z" fill="#fff7f7" stroke="#fff7f7" stroke-width="0.6"/>
<path d="M1372.9,194.4L1399.6,194.4L1399.6,160.4L1374.6,160.4ZM856.5,556.9L892.7,556.9L899.5,514.8L863.8,514.8ZM892.7,556.9L928.9,556.9L935.2,514.8L899.5,514.8ZM1436.1,936L1472.7,936L1473.3,893.9L1436.4,893.9ZM1327.2,978.1L1363.4,978.1L1363.1,936L1326.5,936ZM1471,1020.2L1506.8,1020.2L1508.2,978.1L1472,978.1ZM1506.8,1020.2L1542.5,1020.2L1544.4,978.1L1508.2,978.1ZM1504.8,1062.4L1539.9,1062.4L1542.5,1020.2L1506.8,1020.2ZM1610.1,1062.4L1645.1,1062.4L1649.6,1020.2L1613.9,1020.2ZM1502.5,1104.3L1536.8,1104.3L1539.9,1062.4L1504.8,1062.4ZM1536.8,1104.3L1571.1,1104.3L1575,1062.4L1539.9,1062.4Z" fill="#f9f9ff" stroke="#f9f9ff" stroke-width="0.6"/>
<path d="M1533.3,194.4L1560,194.4L1549.9,160.4L1524.8,160.4ZM1823.6,230.6L1851.9,230.6L1827.4,194.4L1800.7,194.4ZM1599.7,389L1633,389L1625.7,347.9L1593.4,347.9Z" fill="#c1c1ff" stroke="#c1c1ff" stroke-width="0.6"/>
<path d="M1560,194.4L1586.8,194.4L1574.9,160.4L1549.9,160.4ZM1738.8,230.6L1767.1,230.6L1747.2,194.4L1720.5,194.4Z" fill="#b3b3ff" stroke="#b3b3ff" stroke-width="0.6"/>
<path d="M1586.8,194.4L1613.5,194.4L1600,160.4L1574.9,160.4Z" fill="#afafff" stroke="#afafff" stroke-width="0.6"/>
<path d="M1613.5,194.4L1640.2,194.4L1625,160.4L1600,160.4ZM1640.2,194.4L1667,194.4L1650.1,160.4L1625,160.4ZM1667,194.4L1693.7,194.4L1675.1,160.4L1650.1,160.4Z" fill="#adadff" stroke="#adadff" stroke-width="0.6"/>
<path d="M1693.7,194.4L1720.5,194.4L1700.2,160.4L1675.1,160.4Z" fill="#b2b2ff" stroke="#b2b2ff" stroke-width="0.6"/>
<path d="M1720.5,194.4L1747.2,194.4L1725.2,160.4L1700.2,160.4ZM2328.3,514.8L2364.1,514.8L2346.7,472.6L2311.6,472.6Z" fill="#c3c3ff" stroke="#c3c3ff" stroke-width="0.6"/>
<path d="M1747.2,194.4L1773.9,194.4L1750.3,160.4L1725.2,160.4ZM1708.2,430.7L1742.5,430.7L1733.1,389L1699.7,389ZM2149.7,514.8L2185.5,514.8L2171.3,472.6L2136.2,472.6Z" fill="#c6c6ff" stroke="#c6c6ff" stroke-width="0.6"/>
<path d="M1773.9,194.4L1800.7,194.4L1775.3,160.4L1750.3,160.4ZM2266.6,389L2300,389L2271.5,347.9L2239.2,347.9ZM2136.2,472.6L2171.3,472.6L2154,430.7L2119.7,430.7ZM1362.4,725.4L1399.6,725.4L1399.6,683.3L1362.6,683.3Z" fill="#c9c9ff" stroke="#c9c9ff" stroke-width="0.6"/>
<path d="M947.3,230.6L975.6,230.6L998.5,194.4L971.8,194.4ZM935.2,514.8L970.9,514.8L978.7,472.6L943.6,472.6ZM1327.2,556.9L1363.4,556.9L1363.9,514.8L1328.2,514.8ZM810.2,641.1L847,641.1L851.4,599L814.8,599ZM1139.5,809.6L1176.7,809.6L1176.3,767.5L1139.1,767.5Z" fill="#fcfcff" stroke="#fcfcff" stroke-width="0.6"/>
<path d="M1088.7,230.6L1116.9,230.6L1132.2,194.4L1105.5,194.4ZM1116.9,230.6L1145.2,230.6L1159,194.4L1132.2,194.4ZM1256.7,514.8L1292.4,514.8L1294.4,472.6L1259.3,472.6ZM1218.6,556.9L1254.8,556.9L1256.7,514.8L1221,514.8ZM878.7,767.5L915.9,767.5L916.6,725.4L879.4,725.4ZM953.7,809.6L990.9,809.6L990.3,767.5L953.1,767.5ZM1957,809.6L1994.1,809.6L1994.9,767.5L1957.7,767.5ZM1216.9,936L1253.4,936L1252.3,893.9L1215.4,893.9Z" fill="#fff6f6" stroke="#fff6f6" stroke-width="0.6"/>
<path d="M1145.2,230.6L1173.5,230.6L1185.7,194.4L1159,194.4ZM990.3,767.5L1027.5,767.5L1028,725.4L990.9,725.4ZM1139.1,767.5L1176.3,767.5L1176.7,725.4L1139.5,725.4ZM1113.8,1020.2L1149.6,1020.2L1146.2,978.1L1110,978.1Z" fill="#fff1f1" stroke="#fff1f1" stroke-width="0.6"/>
<path d="M1173.5,230.6L1201.7,230.6L1212.4,194.4L1185.7,194.4ZM994.4,641.1L1031.2,641.1L1034.1,599L997.6,599ZM1102.3,725.4L1139.5,725.4L1140.3,683.3L1103.3,683.3Z" fill="#ffe3e3" stroke="#ffe3e3" stroke-width="0.6"/>
<path d="M1201.7,230.6L1230,230.6L1239.2,194.4L1212.4,194.4ZM1230,230.6L1258.3,230.6L1265.9,194.4L1239.2,194.4ZM698.1,472.6L733.1,472.6L748.1,430.7L713.8,430.7ZM1224.2,472.6L1259.3,472.6L1262.4,430.7L1228.1,430.7Z" fill="#ffdddd" stroke="#ffdddd" stroke-width="0.6"/>
<path d="M1258.3,230.6L1286.5,230.6L1292.6,194.4L1265.9,194.4ZM1286.5,230.6L1314.8,230.6L1319.4,194.4L1292.6,194.4ZM1314.8,230.6L1343.1,230.6L1346.1,194.4L1319.4,194.4ZM766,389L799.4,389L818.3,347.9L786,347.9ZM713.8,430.7L748.1,430.7L766,389L732.7,389ZM1103.3,683.3L1140.3,683.3L1141.7,641.1L1104.9,641.1Z" fill="#ffdbdb" stroke="#ffdbdb" stroke-width="0.6"/>
<path d="M1484.4,230.6L1512.7,230.6L1506.6,194.4L1479.8,194.4ZM1459,268.4L1488.7,268.4L1484.4,230.6L1456.1,230.6ZM2053.3,268.4L2083.1,268.4L2049.8,230.6L2021.5,230.6ZM2083.1,268.4L2112.8,268.4L2078,230.6L2049.8,230.6ZM2196.1,556.9L2232.3,556.9L2221.2,514.8L2185.5,514.8ZM1362.4,767.5L1399.6,767.5L1399.6,725.4L1362.4,725.4Z" fill="#c8c8ff" stroke="#c8c8ff" stroke-width="0.6"/>
<path d="M1512.7,230.6L1540.9,230.6L1533.3,194.4L1506.6,194.4Z" fill="#aeaeff" stroke="#aeaeff" stroke-width="0.6"/>
<path d="M1540.9,230.6L1569.2,230.6L1560,194.4L1533.3,194.4ZM1523.9,307.6L1554.9,307.6L1548.2,268.4L1518.5,268.4Z" fill="#a9a9ff" stroke="#a9a9ff" stroke-width="0.6"/>
<path d="M1569.2,230.6L1597.5,230.6L1586.8,194.4L1560,194.4Z" fill="#a0a0ff" stroke="#a0a0ff" stroke-width="0.6"/>
<path d="M1597.5,230.6L1625.7,230.6L1613.5,194.4L1586.8,194.4ZM1756.2,268.4L1785.9,268.4L1767.1,230.6L1738.8,230.6Z" fill="#9d9dff" stroke="#9d9dff" stroke-width="0.6"/>
<path d="M1625.7,230.6L1654,230.6L1640.2,194.4L1613.5,194.4ZM1654,230.6L1682.3,230.6L1667,194.4L1640.2,194.4ZM1682.3,230.6L1710.5,230.6L1693.7,194.4L1667,194.4ZM1593.4,347.9L1625.7,347.9L1617.1,307.6L1586,307.6Z" fill="#9c9cff" stroke="#9c9cff" stroke-width="0.6"/>
<path d="M1710.5,230.6L1738.8,230.6L1720.5,194.4L1693.7,194.4ZM1666.4,389L1699.7,389L1690.2,347.9L1658,347.9ZM1699.7,389L1733.1,389L1722.5,347.9L1690.2,347.9Z" fill="#9f9fff" stroke="#9f9fff" stroke-width="0.6"/>
<path d="M1767.1,230.6L1795.4,230.6L1773.9,194.4L1747.2,194.4ZM1492.8,307.6L1523.9,307.6L1518.5,268.4L1488.7,268.4ZM2206.4,472.6L2241.5,472.6L2222.6,430.7L2188.3,430.7ZM2241.5,472.6L2276.5,472.6L2256.9,430.7L2222.6,430.7Z" fill="#b6b6ff" stroke="#b6b6ff" stroke-width="0.6"/>
<path d="M1795.4,230.6L1823.6,230.6L1800.7,194.4L1773.9,194.4ZM1488.7,268.4L1518.5,268.4L1512.7,230.6L1484.4,230.6Z" fill="#b8b8ff" stroke="#b8b8ff" stroke-width="0.6"/>
<path d="M1908.4,230.6L1936.7,230.6L1907.6,194.4L1880.9,194.4ZM1461.7,307.6L1492.8,307.6L1488.7,268.4L1459,268.4ZM2110.1,347.9L2142.4,347.9L2114.2,307.6L2083.1,307.6ZM2313.3,599L2349.8,599L2340.9,556.9L2304.7,556.9Z" fill="#ceceff" stroke="#ceceff" stroke-width="0.6"/>
<path d="M2078,230.6L2106.3,230.6L2068.1,194.4L2041.3,194.4ZM2052.1,307.6L2083.1,307.6L2053.3,268.4L2023.6,268.4ZM979.8,347.9L1012.1,347.9L1026.8,307.6L995.7,307.6ZM2325.5,430.7L2359.8,430.7L2333.3,389L2300,389ZM1325.2,767.5L1362.4,767.5L1362.4,725.4L1325.3,725.4ZM1399.6,767.5L1436.8,767.5L1436.8,725.4L1399.6,725.4Z" fill="#d1d1ff" stroke="#d1d1ff" stroke-width="0.6"/>
<path d="M2219.4,230.6L2247.6,230.6L2201.8,194.4L2175,194.4ZM2247.6,230.6L2275.9,230.6L2228.5,194.4L2201.8,194.4ZM2331.7,307.6L2362.8,307.6L2320.8,268.4L2291.1,268.4ZM2173.2,641.1L2210,641.1L2203.6,599L2167.1,599ZM2140.4,851.7L2177.4,851.7L2179.9,809.6L2142.7,809.6Z" fill="#e6e6ff" stroke="#e6e6ff" stroke-width="0.6"/>
<path d="M924.2,268.4L953.9,268.4L975.6,230.6L947.3,230.6ZM953.9,268.4L983.6,268.4L1003.8,230.6L975.6,230.6ZM983.6,268.4L1013.3,268.4L1032.1,230.6L1003.8,230.6ZM1980.9,347.9L2013.2,347.9L1989.9,307.6L1958.9,307.6ZM2103.3,851.7L2140.4,851.7L2142.7,809.6L2105.6,809.6ZM1363.1,936L1399.6,936L1399.6,893.9L1362.8,893.9Z" fill="#eeeeff" stroke="#eeeeff" stroke-width="0.6"/>
<path d="M1013.3,268.4L1043,268.4L1060.4,230.6L1032.1,230.6ZM1216.9,599L1253.4,599L1254.8,556.9L1218.6,556.9ZM1214.4,683.3L1251.4,683.3L1252.3,641.1L1215.4,641.1ZM2066.3,683.3L2103.3,683.3L2099.5,641.1L2062.7,641.1ZM1399.6,851.7L1436.6,851.7L1436.8,809.6L1399.6,809.6ZM1399.6,936L1436.1,936L1436.4,893.9L1399.6,893.9ZM1363.4,978.1L1399.6,978.1L1399.6,936L1363.1,936ZM1435.3,1020.2L1471,1020.2L1472,978.1L1435.8,978.1ZM1434.7,1062.4L1469.8,1062.4L1471,1020.2L1435.3,1020.2Z" fill="#f0f0ff" stroke="#f0f0ff" stroke-width="0.6"/>
<path d="M1072.7,268.4L1102.4,268.4L1116.9,230.6L1088.7,230.6ZM1102.4,268.4L1132.2,268.4L1145.2,230.6L1116.9,230.6ZM953.8,430.7L988.1,430.7L999.4,389L966.1,389ZM928.9,556.9L965.1,556.9L970.9,514.8L935.2,514.8ZM918.1,683.3L955.1,683.3L957.6,641.1L920.7,641.1ZM1102.3,809.6L1139.5,809.6L1139.1,767.5L1101.9,767.5ZM2031.3,809.6L2068.4,809.6L2069.4,767.5L2032.2,767.5ZM1472.7,936L1509.2,936L1510.1,893.9L1473.3,893.9Z" fill="#fffdfd" stroke="#fffdfd" stroke-width="0.6"/>
<path d="M1132.2,268.4L1161.9,268.4L1173.5,230.6L1145.2,230.6ZM675.5,556.9L711.7,556.9L720.9,514.8L685.2,514.8ZM2025.8,641.1L2062.7,641.1L2057.4,599L2020.9,599ZM1992.2,683.3L2029.2,683.3L2025.8,641.1L1989,641.1ZM1107.2,936L1143.8,936L1141.7,893.9L1104.9,893.9ZM1291,978.1L1327.2,978.1L1326.5,936L1290,936Z" fill="#fffbfb" stroke="#fffbfb" stroke-width="0.6"/>
<path d="M1161.9,268.4L1191.6,268.4L1201.7,230.6L1173.5,230.6ZM663,472.6L698.1,472.6L713.8,430.7L679.5,430.7ZM649.5,514.8L685.2,514.8L698.1,472.6L663,472.6ZM792.3,514.8L828.1,514.8L838.4,472.6L803.3,472.6ZM1064.7,767.5L1101.9,767.5L1102.3,725.4L1065.2,725.4Z" fill="#ffeded" stroke="#ffeded" stroke-width="0.6"/>
<path d="M1251,268.4L1280.7,268.4L1286.5,230.6L1258.3,230.6ZM1244.3,307.6L1275.3,307.6L1280.7,268.4L1251,268.4ZM1275.3,307.6L1306.4,307.6L1310.5,268.4L1280.7,268.4ZM1306.4,307.6L1337.5,307.6L1340.2,268.4L1310.5,268.4ZM733.1,472.6L768.2,472.6L782.3,430.7L748.1,430.7Z" fill="#ffcbcb" stroke="#ffcbcb" stroke-width="0.6"/>
<path d="M1280.7,268.4L1310.5,268.4L1314.8,230.6L1286.5,230.6ZM1083.9,472.6L1119,472.6L1125.3,430.7L1091,430.7ZM1034.1,599L1070.7,599L1073.8,556.9L1037.6,556.9Z" fill="#ffcaca" stroke="#ffcaca" stroke-width="0.6"/>
<path d="M1310.5,268.4L1340.2,268.4L1343.1,230.6L1314.8,230.6ZM1099.5,389L1132.8,389L1141.2,347.9L1109,347.9ZM1132.8,389L1166.2,389L1173.5,347.9L1141.2,347.9ZM1166.2,389L1199.5,389L1205.8,347.9L1173.5,347.9ZM1199.5,389L1232.9,389L1238.1,347.9L1205.8,347.9ZM1232.9,389L1266.2,389L1270.4,347.9L1238.1,347.9ZM1468.2,430.7L1502.5,430.7L1499.6,389L1466.3,389ZM1110,556.9L1146.2,556.9L1149.6,514.8L1113.8,514.8ZM1068.1,641.1L1104.9,641.1L1107.2,599L1070.7,599Z" fill="#ffcdcd" stroke="#ffcdcd" stroke-width="0.6"/>
<path d="M1340.2,268.4L1369.9,268.4L1371.3,230.6L1343.1,230.6ZM1399.6,389L1432.9,389L1431.9,347.9L1399.6,347.9Z" fill="#ffd8d8" stroke="#ffd8d8" stroke-width="0.6"/>
<path d="M1369.9,268.4L1399.6,268.4L1399.6,230.6L1371.3,230.6ZM1029.2,683.3L1066.3,683.3L1068.1,641.1L1031.2,641.1Z" fill="#ffdfdf" stroke="#ffdfdf" stroke-width="0.6"/>
<path d="M1399.6,268.4L1429.3,268.4L1427.9,230.6L1399.6,230.6ZM1120,307.6L1151,307.6L1161.9,268.4L1132.2,268.4ZM866,389L899.4,389L915.2,347.9L882.9,347.9ZM627.9,472.6L663,472.6L679.5,430.7L645.2,430.7ZM1292.4,514.8L1328.2,514.8L1329.4,472.6L1294.4,472.6ZM1994.9,767.5L2032.2,767.5L2031.3,725.4L1994.1,725.4ZM990.9,809.6L1028,809.6L1027.5,767.5L990.3,767.5ZM1994.1,809.6L2031.3,809.6L2032.2,767.5L1994.9,767.5ZM1473.3,893.9L1510.1,893.9L1510.7,851.7L1473.7,851.7Z" fill="#fff8f8" stroke="#fff8f8" stroke-width="0.6"/>
<path d="M1518.5,268.4L1548.2,268.4L1540.9,230.6L1512.7,230.6Z" fill="#a3a3ff" stroke="#a3a3ff" stroke-width="0.6"/>
<path d="M1548.2,268.4L1577.9,268.4L1569.2,230.6L1540.9,230.6Z" fill="#9797ff" stroke="#9797ff" stroke-width="0.6"/>
<path d="M1577.9,268.4L1607.6,268.4L1597.5,230.6L1569.2,230.6Z" fill="#8484ff" stroke="#8484ff" stroke-width="0.6"/>
<path d="M1607.6,268.4L1637.3,268.4L1625.7,230.6L1597.5,230.6ZM1637.3,268.4L1667,268.4L1654,230.6L1625.7,230.6ZM1667,268.4L1696.8,268.4L1682.3,230.6L1654,230.6ZM1696.8,268.4L1726.5,268.4L1710.5,230.6L1682.3,230.6Z" fill="#7777ff" stroke="#7777ff" stroke-width="0.6"/>
<path d="M1726.5,268.4L1756.2,268.4L1738.8,230.6L1710.5,230.6Z" fill="#8585ff" stroke="#8585ff" stroke-width="0.6"/>
<path d="M1785.9,268.4L1815.6,268.4L1795.4,230.6L1767.1,230.6ZM1772.4,307.6L1803.5,307.6L1785.9,268.4L1756.2,268.4Z" fill="#a6a6ff" stroke="#a6a6ff" stroke-width="0.6"/>
<path d="M1815.6,268.4L1845.3,268.4L1823.6,230.6L1795.4,230.6ZM2221.2,514.8L2256.9,514.8L2241.5,472.6L2206.4,472.6ZM2256.9,514.8L2292.6,514.8L2276.5,472.6L2241.5,472.6Z" fill="#b7b7ff" stroke="#b7b7ff" stroke-width="0.6"/>
<path d="M1875,268.4L1904.8,268.4L1880.2,230.6L1851.9,230.6ZM1904.8,268.4L1934.5,268.4L1908.4,230.6L1880.2,230.6Z" fill="#cdcdff" stroke="#cdcdff" stroke-width="0.6"/>
<path d="M1934.5,268.4L1964.2,268.4L1936.7,230.6L1908.4,230.6ZM1993.9,268.4L2023.6,268.4L1993.2,230.6L1965,230.6ZM1325.3,725.4L1362.4,725.4L1362.6,683.3L1325.5,683.3Z" fill="#d4d4ff" stroke="#d4d4ff" stroke-width="0.6"/>
<path d="M1964.2,268.4L1993.9,268.4L1965,230.6L1936.7,230.6ZM1012.1,347.9L1044.4,347.9L1057.8,307.6L1026.8,307.6ZM2085.4,430.7L2119.7,430.7L2099.9,389L2066.5,389Z" fill="#d6d6ff" stroke="#d6d6ff" stroke-width="0.6"/>
<path d="M2172.2,268.4L2201.9,268.4L2162.8,230.6L2134.6,230.6ZM2207.4,307.6L2238.5,307.6L2201.9,268.4L2172.2,268.4ZM932.7,389L966.1,389L979.8,347.9L947.5,347.9ZM2333.3,389L2366.7,389L2336.1,347.9L2303.8,347.9ZM2366.7,389L2400,389L2368.4,347.9L2336.1,347.9ZM2400,389L2433.4,389L2400.7,347.9L2368.4,347.9ZM1645.1,472.6L1680.2,472.6L1673.9,430.7L1639.6,430.7Z" fill="#d9d9ff" stroke="#d9d9ff" stroke-width="0.6"/>
<path d="M2201.9,268.4L2231.6,268.4L2191.1,230.6L2162.8,230.6ZM1819.4,347.9L1851.7,347.9L1834.6,307.6L1803.5,307.6ZM2271.5,347.9L2303.8,347.9L2269.6,307.6L2238.5,307.6ZM2099.9,389L2133.2,389L2110.1,347.9L2077.8,347.9ZM2130.5,599L2167.1,599L2159.9,556.9L2123.7,556.9ZM1325.3,809.6L1362.4,809.6L1362.4,767.5L1325.2,767.5Z" fill="#dadaff" stroke="#dadaff" stroke-width="0.6"/>
<path d="M933.6,307.6L964.6,307.6L983.6,268.4L953.9,268.4ZM2045.5,347.9L2077.8,347.9L2052.1,307.6L2021,307.6ZM2033.2,389L2066.5,389L2045.5,347.9L2013.2,347.9ZM1685.4,514.8L1721.1,514.8L1715.3,472.6L1680.2,472.6ZM2167.1,599L2203.6,599L2196.1,556.9L2159.9,556.9ZM1252.3,641.1L1289.1,641.1L1290,599L1253.4,599Z" fill="#e1e1ff" stroke="#e1e1ff" stroke-width="0.6"/>
<path d="M1057.8,307.6L1088.9,307.6L1102.4,268.4L1072.7,268.4ZM1933.2,389L1966.5,389L1948.6,347.9L1916.3,347.9ZM873.4,472.6L908.5,472.6L919.5,430.7L885.2,430.7ZM778.3,599L814.8,599L820.3,556.9L784.1,556.9ZM515.5,641.1L552.3,641.1L559,599L522.5,599ZM1251,725.4L1288.1,725.4L1288.5,683.3L1251.4,683.3ZM2179.9,725.4L2217.1,725.4L2214.4,683.3L2177.4,683.3ZM1289.1,893.9L1325.9,893.9L1325.5,851.7L1288.5,851.7ZM1326.5,936L1363.1,936L1362.8,893.9L1325.9,893.9ZM1364.5,1062.4L1399.6,1062.4L1399.6,1020.2L1363.9,1020.2ZM1399.6,1146L1432.9,1146L1433.9,1104.3L1399.6,1104.3Z" fill="#f5f5ff" stroke="#f5f5ff" stroke-width="0.6"/>
<path d="M1182.1,307.6L1213.2,307.6L1221.3,268.4L1191.6,268.4ZM1213.2,307.6L1244.3,307.6L1251,268.4L1221.3,268.4ZM1141.2,347.9L1173.5,347.9L1182.1,307.6L1151,307.6ZM1173.5,347.9L1205.8,347.9L1213.2,307.6L1182.1,307.6ZM1205.8,347.9L1238.1,347.9L1244.3,307.6L1213.2,307.6ZM1238.1,347.9L1270.4,347.9L1275.3,307.6L1244.3,307.6ZM1270.4,347.9L1302.7,347.9L1306.4,307.6L1275.3,307.6ZM1302.7,347.9L1335,347.9L1337.5,307.6L1306.4,307.6ZM1335,347.9L1367.3,347.9L1368.5,307.6L1337.5,307.6Z" fill="#ffcccc" stroke="#ffcccc" stroke-width="0.6"/>
<path d="M1337.5,307.6L1368.5,307.6L1369.9,268.4L1340.2,268.4ZM1367.3,347.9L1399.6,347.9L1399.6,307.6L1368.5,307.6ZM1266.2,389L1299.6,389L1302.7,347.9L1270.4,347.9ZM1154.1,472.6L1189.1,472.6L1193.8,430.7L1159.6,430.7ZM1434.7,472.6L1469.8,472.6L1468.2,430.7L1433.9,430.7Z" fill="#ffcece" stroke="#ffcece" stroke-width="0.6"/>
<path d="M1368.5,307.6L1399.6,307.6L1399.6,268.4L1369.9,268.4ZM816.6,430.7L850.9,430.7L866,389L832.7,389ZM1091,430.7L1125.3,430.7L1132.8,389L1099.5,389ZM1125.3,430.7L1159.6,430.7L1166.2,389L1132.8,389ZM1159.6,430.7L1193.8,430.7L1199.5,389L1166.2,389ZM1037.6,556.9L1073.8,556.9L1078.1,514.8L1042.4,514.8ZM1508.2,556.9L1544.4,556.9L1542.5,514.8L1506.8,514.8Z" fill="#ffcfcf" stroke="#ffcfcf" stroke-width="0.6"/>
<path d="M1399.6,307.6L1430.7,307.6L1429.3,268.4L1399.6,268.4ZM799.4,389L832.7,389L850.6,347.9L818.3,347.9ZM1432.9,389L1466.3,389L1464.2,347.9L1431.9,347.9ZM1435.8,556.9L1472,556.9L1471,514.8L1435.3,514.8ZM997.6,599L1034.1,599L1037.6,556.9L1001.3,556.9Z" fill="#ffdede" stroke="#ffdede" stroke-width="0.6"/>
<path d="M1554.9,307.6L1586,307.6L1577.9,268.4L1548.2,268.4Z" fill="#9b9bff" stroke="#9b9bff" stroke-width="0.6"/>
<path d="M1586,307.6L1617.1,307.6L1607.6,268.4L1577.9,268.4Z" fill="#8c8cff" stroke="#8c8cff" stroke-width="0.6"/>
<path d="M1617.1,307.6L1648.2,307.6L1637.3,268.4L1607.6,268.4Z" fill="#6565ff" stroke="#6565ff" stroke-width="0.6"/>
<path d="M1648.2,307.6L1679.2,307.6L1667,268.4L1637.3,268.4ZM1679.2,307.6L1710.3,307.6L1696.8,268.4L1667,268.4Z" fill="#5e5eff" stroke="#5e5eff" stroke-width="0.6"/>
<path d="M1710.3,307.6L1741.4,307.6L1726.5,268.4L1696.8,268.4Z" fill="#6e6eff" stroke="#6e6eff" stroke-width="0.6"/>
<path d="M1741.4,307.6L1772.4,307.6L1756.2,268.4L1726.5,268.4Z" fill="#9292ff" stroke="#9292ff" stroke-width="0.6"/>
<path d="M1803.5,307.6L1834.6,307.6L1815.6,268.4L1785.9,268.4ZM2268.5,556.9L2304.7,556.9L2292.6,514.8L2256.9,514.8Z" fill="#bebeff" stroke="#bebeff" stroke-width="0.6"/>
<path d="M1865.6,307.6L1896.7,307.6L1875,268.4L1845.3,268.4ZM1866.5,389L1899.8,389L1884,347.9L1851.7,347.9ZM2143.8,767.5L2181,767.5L2179.9,725.4L2142.7,725.4ZM1362.8,893.9L1399.6,893.9L1399.6,851.7L1362.6,851.7Z" fill="#ebebff" stroke="#ebebff" stroke-width="0.6"/>
<path d="M1927.8,307.6L1958.9,307.6L1934.5,268.4L1904.8,268.4ZM1958.9,307.6L1989.9,307.6L1964.2,268.4L1934.5,268.4ZM2105.6,725.4L2142.7,725.4L2140.4,683.3L2103.3,683.3Z" fill="#e2e2ff" stroke="#e2e2ff" stroke-width="0.6"/>
<path d="M2021,307.6L2052.1,307.6L2023.6,268.4L1993.9,268.4ZM2238.5,307.6L2269.6,307.6L2231.6,268.4L2201.9,268.4ZM1750.4,472.6L1785.4,472.6L1776.8,430.7L1742.5,430.7ZM2136.3,641.1L2173.2,641.1L2167.1,599L2130.5,599Z" fill="#ddddff" stroke="#ddddff" stroke-width="0.6"/>
<path d="M2300.6,307.6L2331.7,307.6L2291.1,268.4L2261.3,268.4ZM2456,307.6L2487,307.6L2439.6,268.4L2409.9,268.4ZM2013.2,347.9L2045.5,347.9L2021,307.6L1989.9,307.6ZM1833.1,389L1866.5,389L1851.7,347.9L1819.4,347.9ZM1721.1,514.8L1756.8,514.8L1750.4,472.6L1715.3,472.6ZM449.4,599L485.9,599L494.5,556.9L458.3,556.9ZM736.5,641.1L773.4,641.1L778.3,599L741.8,599ZM2103.3,683.3L2140.4,683.3L2136.3,641.1L2099.5,641.1ZM1288,767.5L1325.2,767.5L1325.3,725.4L1288.1,725.4ZM1436.8,767.5L1474,767.5L1473.9,725.4L1436.8,725.4ZM1399.6,809.6L1436.8,809.6L1436.8,767.5L1399.6,767.5Z" fill="#e3e3ff" stroke="#e3e3ff" stroke-width="0.6"/>
<path d="M818.3,347.9L850.6,347.9L871.4,307.6L840.3,307.6ZM1032.8,389L1066.1,389L1076.7,347.9L1044.4,347.9ZM1364.5,472.6L1399.6,472.6L1399.6,430.7L1365.3,430.7ZM953.1,767.5L990.3,767.5L990.9,725.4L953.7,725.4Z" fill="#fff0f0" stroke="#fff0f0" stroke-width="0.6"/>
<path d="M850.6,347.9L882.9,347.9L902.5,307.6L871.4,307.6ZM1499.6,389L1533,389L1528.8,347.9L1496.5,347.9ZM978.7,472.6L1013.8,472.6L1022.4,430.7L988.1,430.7ZM1578.2,514.8L1613.9,514.8L1610.1,472.6L1575,472.6ZM1180.3,599L1216.9,599L1218.6,556.9L1182.4,556.9ZM916.6,809.6L953.7,809.6L953.1,767.5L915.9,767.5ZM1143.8,936L1180.3,936L1178.6,893.9L1141.7,893.9ZM1253.4,936L1290,936L1289.1,893.9L1252.3,893.9Z" fill="#fff9f9" stroke="#fff9f9" stroke-width="0.6"/>
<path d="M882.9,347.9L915.2,347.9L933.6,307.6L902.5,307.6ZM1899.8,389L1933.2,389L1916.3,347.9L1884,347.9ZM1571.1,1104.3L1605.4,1104.3L1610.1,1062.4L1575,1062.4ZM1466.3,1146L1499.6,1146L1502.5,1104.3L1468.2,1104.3ZM1499.6,1146L1533,1146L1536.8,1104.3L1502.5,1104.3Z" fill="#f7f7ff" stroke="#f7f7ff" stroke-width="0.6"/>
<path d="M1109,347.9L1141.2,347.9L1151,307.6L1120,307.6ZM1472,556.9L1508.2,556.9L1506.8,514.8L1471,514.8Z" fill="#ffd3d3" stroke="#ffd3d3" stroke-width="0.6"/>
<path d="M1399.6,347.9L1431.9,347.9L1430.7,307.6L1399.6,307.6ZM1399.6,430.7L1433.9,430.7L1432.9,389L1399.6,389Z" fill="#ffdcdc" stroke="#ffdcdc" stroke-width="0.6"/>
<path d="M1431.9,347.9L1464.2,347.9L1461.7,307.6L1430.7,307.6ZM1363.9,514.8L1399.6,514.8L1399.6,472.6L1364.5,472.6ZM965.1,556.9L1001.3,556.9L1006.7,514.8L970.9,514.8ZM1294.4,1062.4L1329.4,1062.4L1328.2,1020.2L1292.4,1020.2Z" fill="#fff2f2" stroke="#fff2f2" stroke-width="0.6"/>
<path d="M1496.5,347.9L1528.8,347.9L1523.9,307.6L1492.8,307.6ZM2239.2,347.9L2271.5,347.9L2238.5,307.6L2207.4,307.6ZM1399.6,725.4L1436.8,725.4L1436.6,683.3L1399.6,683.3Z" fill="#d0d0ff" stroke="#d0d0ff" stroke-width="0.6"/>
<path d="M1528.8,347.9L1561.1,347.9L1554.9,307.6L1523.9,307.6Z" fill="#bdbdff" stroke="#bdbdff" stroke-width="0.6"/>
<path d="M1561.1,347.9L1593.4,347.9L1586,307.6L1554.9,307.6ZM1633,389L1666.4,389L1658,347.9L1625.7,347.9Z" fill="#a7a7ff" stroke="#a7a7ff" stroke-width="0.6"/>
<path d="M1625.7,347.9L1658,347.9L1648.2,307.6L1617.1,307.6ZM1690.2,347.9L1722.5,347.9L1710.3,307.6L1679.2,307.6Z" fill="#7373ff" stroke="#7373ff" stroke-width="0.6"/>
<path d="M1658,347.9L1690.2,347.9L1679.2,307.6L1648.2,307.6Z" fill="#6c6cff" stroke="#6c6cff" stroke-width="0.6"/>
<path d="M1722.5,347.9L1754.8,347.9L1741.4,307.6L1710.3,307.6Z" fill="#9090ff" stroke="#9090ff" stroke-width="0.6"/>
<path d="M1754.8,347.9L1787.1,347.9L1772.4,307.6L1741.4,307.6Z" fill="#a8a8ff" stroke="#a8a8ff" stroke-width="0.6"/>
<path d="M1787.1,347.9L1819.4,347.9L1803.5,307.6L1772.4,307.6Z" fill="#bcbcff" stroke="#bcbcff" stroke-width="0.6"/>
<path d="M1884,347.9L1916.3,347.9L1896.7,307.6L1865.6,307.6ZM1916.3,347.9L1948.6,347.9L1927.8,307.6L1896.7,307.6ZM999.4,389L1032.8,389L1044.4,347.9L1012.1,347.9ZM919.5,430.7L953.8,430.7L966.1,389L932.7,389ZM1571.1,430.7L1605.4,430.7L1599.7,389L1566.3,389ZM522.5,599L559,599L566.9,556.9L530.7,556.9ZM2210,641.1L2246.9,641.1L2240.2,599L2203.6,599ZM2068.4,809.6L2105.6,809.6L2106.6,767.5L2069.4,767.5ZM1178.6,893.9L1215.4,893.9L1214.4,851.7L1177.4,851.7ZM1469.8,1062.4L1504.8,1062.4L1506.8,1020.2L1471,1020.2ZM1645.1,1062.4L1680.2,1062.4L1685.4,1020.2L1649.6,1020.2ZM1365.3,1104.3L1399.6,1104.3L1399.6,1062.4L1364.5,1062.4ZM1468.2,1104.3L1502.5,1104.3L1504.8,1062.4L1469.8,1062.4Z" fill="#f8f8ff" stroke="#f8f8ff" stroke-width="0.6"/>
<path d="M1948.6,347.9L1980.9,347.9L1958.9,307.6L1927.8,307.6ZM863.8,514.8L899.5,514.8L908.5,472.6L873.4,472.6ZM1399.6,1104.3L1433.9,1104.3L1434.7,1062.4L1399.6,1062.4Z" fill="#f1f1ff" stroke="#f1f1ff" stroke-width="0.6"/>
<path d="M732.7,389L766,389L786,347.9L753.7,347.9ZM1365.3,430.7L1399.6,430.7L1399.6,389L1366.3,389ZM1399.6,514.8L1435.3,514.8L1434.7,472.6L1399.6,472.6ZM1065.2,725.4L1102.3,725.4L1103.3,683.3L1066.3,683.3Z" fill="#ffe5e5" stroke="#ffe5e5" stroke-width="0.6"/>
<path d="M832.7,389L866,389L882.9,347.9L850.6,347.9ZM1331,430.7L1365.3,430.7L1366.3,389L1332.9,389ZM685.2,514.8L720.9,514.8L733.1,472.6L698.1,472.6ZM1182.4,556.9L1218.6,556.9L1221,514.8L1185.3,514.8ZM1182.4,978.1L1218.6,978.1L1216.9,936L1180.3,936ZM1218.6,978.1L1254.8,978.1L1253.4,936L1216.9,936ZM1256.7,1020.2L1292.4,1020.2L1291,978.1L1254.8,978.1ZM1154.1,1062.4L1189.1,1062.4L1185.3,1020.2L1149.6,1020.2Z" fill="#ffe8e8" stroke="#ffe8e8" stroke-width="0.6"/>
<path d="M899.4,389L932.7,389L947.5,347.9L915.2,347.9ZM1610.1,472.6L1645.1,472.6L1639.6,430.7L1605.4,430.7ZM485.9,599L522.5,599L530.7,556.9L494.5,556.9ZM741.8,599L778.3,599L784.1,556.9L747.9,556.9ZM478.7,641.1L515.5,641.1L522.5,599L485.9,599ZM773.4,641.1L810.2,641.1L814.8,599L778.3,599ZM2177.4,683.3L2214.4,683.3L2210,641.1L2173.2,641.1ZM2142.7,809.6L2179.9,809.6L2181,767.5L2143.8,767.5Z" fill="#eaeaff" stroke="#eaeaff" stroke-width="0.6"/>
<path d="M1066.1,389L1099.5,389L1109,347.9L1076.7,347.9ZM1366.3,389L1399.6,389L1399.6,347.9L1367.3,347.9ZM803.3,472.6L838.4,472.6L850.9,430.7L816.6,430.7ZM1042.4,514.8L1078.1,514.8L1083.9,472.6L1048.8,472.6Z" fill="#ffd1d1" stroke="#ffd1d1" stroke-width="0.6"/>
<path d="M1299.6,389L1332.9,389L1335,347.9L1302.7,347.9ZM1332.9,389L1366.3,389L1367.3,347.9L1335,347.9ZM1193.8,430.7L1228.1,430.7L1232.9,389L1199.5,389Z" fill="#ffd0d0" stroke="#ffd0d0" stroke-width="0.6"/>
<path d="M1466.3,389L1499.6,389L1496.5,347.9L1464.2,347.9Z" fill="#ffe9e9" stroke="#ffe9e9" stroke-width="0.6"/>
<path d="M1533,389L1566.3,389L1561.1,347.9L1528.8,347.9ZM2203.6,599L2240.2,599L2232.3,556.9L2196.1,556.9ZM1288.5,851.7L1325.5,851.7L1325.3,809.6L1288.1,809.6ZM1399.6,978.1L1435.8,978.1L1436.1,936L1399.6,936ZM1399.6,1062.4L1434.7,1062.4L1435.3,1020.2L1399.6,1020.2Z" fill="#ededff" stroke="#ededff" stroke-width="0.6"/>
<path d="M1733.1,389L1766.4,389L1754.8,347.9L1722.5,347.9Z" fill="#ababff" stroke="#ababff" stroke-width="0.6"/>
<path d="M1766.4,389L1799.8,389L1787.1,347.9L1754.8,347.9ZM2188.3,430.7L2222.6,430.7L2199.9,389L2166.6,389ZM2222.6,430.7L2256.9,430.7L2233.3,389L2199.9,389ZM2256.9,430.7L2291.2,430.7L2266.6,389L2233.3,389Z" fill="#bfbfff" stroke="#bfbfff" stroke-width="0.6"/>
<path d="M1999.8,389L2033.2,389L2013.2,347.9L1980.9,347.9ZM1251,809.6L1288.1,809.6L1288,767.5L1250.8,767.5ZM2105.6,809.6L2142.7,809.6L2143.8,767.5L2106.6,767.5ZM1325.9,893.9L1362.8,893.9L1362.6,851.7L1325.5,851.7ZM1599.7,1146L1633,1146L1639.6,1104.3L1605.4,1104.3Z" fill="#efefff" stroke="#efefff" stroke-width="0.6"/>
<path d="M679.5,430.7L713.8,430.7L732.7,389L699.3,389ZM988.1,430.7L1022.4,430.7L1032.8,389L999.4,389ZM1536.8,430.7L1571.1,430.7L1566.3,389L1533,389ZM1141.7,641.1L1178.6,641.1L1180.3,599L1143.8,599ZM1101.9,767.5L1139.1,767.5L1139.5,725.4L1102.3,725.4ZM1146.2,978.1L1182.4,978.1L1180.3,936L1143.8,936Z" fill="#ffecec" stroke="#ffecec" stroke-width="0.6"/>
<path d="M748.1,430.7L782.3,430.7L799.4,389L766,389ZM1119,472.6L1154.1,472.6L1159.6,430.7L1125.3,430.7ZM1113.8,514.8L1149.6,514.8L1154.1,472.6L1119,472.6Z" fill="#ffc9c9" stroke="#ffc9c9" stroke-width="0.6"/>
<path d="M782.3,430.7L816.6,430.7L832.7,389L799.4,389Z" fill="#ffc5c5" stroke="#ffc5c5" stroke-width="0.6"/>
<path d="M850.9,430.7L885.2,430.7L899.4,389L866,389ZM1013.8,472.6L1048.8,472.6L1056.7,430.7L1022.4,430.7ZM1259.3,472.6L1294.4,472.6L1296.7,430.7L1262.4,430.7ZM1259.3,1062.4L1294.4,1062.4L1292.4,1020.2L1256.7,1020.2Z" fill="#ffe7e7" stroke="#ffe7e7" stroke-width="0.6"/>
<path d="M1022.4,430.7L1056.7,430.7L1066.1,389L1032.8,389ZM1399.6,472.6L1434.7,472.6L1433.9,430.7L1399.6,430.7ZM720.9,514.8L756.6,514.8L768.2,472.6L733.1,472.6ZM1185.3,514.8L1221,514.8L1224.2,472.6L1189.1,472.6ZM1189.1,1062.4L1224.2,1062.4L1221,1020.2L1185.3,1020.2Z" fill="#ffe0e0" stroke="#ffe0e0" stroke-width="0.6"/>
<path d="M1056.7,430.7L1091,430.7L1099.5,389L1066.1,389ZM1228.1,430.7L1262.4,430.7L1266.2,389L1232.9,389ZM1031.2,641.1L1068.1,641.1L1070.7,599L1034.1,599Z" fill="#ffd2d2" stroke="#ffd2d2" stroke-width="0.6"/>
<path d="M1262.4,430.7L1296.7,430.7L1299.6,389L1266.2,389ZM1146.2,556.9L1182.4,556.9L1185.3,514.8L1149.6,514.8Z" fill="#ffdada" stroke="#ffdada" stroke-width="0.6"/>
<path d="M1296.7,430.7L1331,430.7L1332.9,389L1299.6,389ZM1539.9,472.6L1575,472.6L1571.1,430.7L1536.8,430.7Z" fill="#ffe4e4" stroke="#ffe4e4" stroke-width="0.6"/>
<path d="M1433.9,430.7L1468.2,430.7L1466.3,389L1432.9,389ZM1189.1,472.6L1224.2,472.6L1228.1,430.7L1193.8,430.7Z" fill="#ffd6d6" stroke="#ffd6d6" stroke-width="0.6"/>
<path d="M1502.5,430.7L1536.8,430.7L1533,389L1499.6,389ZM1048.8,472.6L1083.9,472.6L1091,430.7L1056.7,430.7ZM1149.6,514.8L1185.3,514.8L1189.1,472.6L1154.1,472.6ZM1107.2,599L1143.8,599L1146.2,556.9L1110,556.9Z" fill="#ffd4d4" stroke="#ffd4d4" stroke-width="0.6"/>
<path d="M1811.1,430.7L1845.4,430.7L1833.1,389L1799.8,389ZM1680.2,472.6L1715.3,472.6L1708.2,430.7L1673.9,430.7Z" fill="#d3d3ff" stroke="#d3d3ff" stroke-width="0.6"/>
<path d="M768.2,472.6L803.3,472.6L816.6,430.7L782.3,430.7ZM1504.8,472.6L1539.9,472.6L1536.8,430.7L1502.5,430.7ZM1078.1,514.8L1113.8,514.8L1119,472.6L1083.9,472.6Z" fill="#ffc6c6" stroke="#ffc6c6" stroke-width="0.6"/>
<path d="M838.4,472.6L873.4,472.6L885.2,430.7L850.9,430.7ZM992.2,683.3L1029.2,683.3L1031.2,641.1L994.4,641.1ZM1140.3,683.3L1177.4,683.3L1178.6,641.1L1141.7,641.1ZM1139.5,725.4L1176.7,725.4L1177.4,683.3L1140.3,683.3ZM1511.1,809.6L1548.2,809.6L1548.4,767.5L1511.2,767.5Z" fill="#ffebeb" stroke="#ffebeb" stroke-width="0.6"/>
<path d="M1294.4,472.6L1329.4,472.6L1331,430.7L1296.7,430.7ZM990.9,725.4L1028,725.4L1029.2,683.3L992.2,683.3ZM1254.8,978.1L1291,978.1L1290,936L1253.4,936Z" fill="#ffefef" stroke="#ffefef" stroke-width="0.6"/>
<path d="M1329.4,472.6L1364.5,472.6L1365.3,430.7L1331,430.7ZM970.9,514.8L1006.7,514.8L1013.8,472.6L978.7,472.6ZM961,599L997.6,599L1001.3,556.9L965.1,556.9ZM915.9,767.5L953.1,767.5L953.7,725.4L916.6,725.4ZM1473.9,809.6L1511.1,809.6L1511.2,767.5L1474,767.5ZM1292.4,1020.2L1328.2,1020.2L1327.2,978.1L1291,978.1ZM1296.7,1104.3L1331,1104.3L1329.4,1062.4L1294.4,1062.4Z" fill="#fff4f4" stroke="#fff4f4" stroke-width="0.6"/>
<path d="M1469.8,472.6L1504.8,472.6L1502.5,430.7L1468.2,430.7Z" fill="#ffbaba" stroke="#ffbaba" stroke-width="0.6"/>
<path d="M1575,472.6L1610.1,472.6L1605.4,430.7L1571.1,430.7ZM1989,641.1L2025.8,641.1L2020.9,599L1984.4,599ZM1177.4,683.3L1214.4,683.3L1215.4,641.1L1178.6,641.1ZM2032.2,767.5L2069.4,767.5L2068.4,725.4L2031.3,725.4Z" fill="#fffcfc" stroke="#fffcfc" stroke-width="0.6"/>
<path d="M2171.3,472.6L2206.4,472.6L2188.3,430.7L2154,430.7ZM2276.5,472.6L2311.6,472.6L2291.2,430.7L2256.9,430.7Z" fill="#b9b9ff" stroke="#b9b9ff" stroke-width="0.6"/>
<path d="M756.6,514.8L792.3,514.8L803.3,472.6L768.2,472.6ZM1006.7,514.8L1042.4,514.8L1048.8,472.6L1013.8,472.6ZM1185.3,1020.2L1221,1020.2L1218.6,978.1L1182.4,978.1ZM1221,1020.2L1256.7,1020.2L1254.8,978.1L1218.6,978.1Z" fill="#ffe2e2" stroke="#ffe2e2" stroke-width="0.6"/>
<path d="M1221,514.8L1256.7,514.8L1259.3,472.6L1224.2,472.6ZM1028,725.4L1065.2,725.4L1066.3,683.3L1029.2,683.3ZM1149.6,1020.2L1185.3,1020.2L1182.4,978.1L1146.2,978.1Z" fill="#ffeaea" stroke="#ffeaea" stroke-width="0.6"/>
<path d="M1435.3,514.8L1471,514.8L1469.8,472.6L1434.7,472.6ZM1066.3,683.3L1103.3,683.3L1104.9,641.1L1068.1,641.1Z" fill="#ffd7d7" stroke="#ffd7d7" stroke-width="0.6"/>
<path d="M1471,514.8L1506.8,514.8L1504.8,472.6L1469.8,472.6Z" fill="#ffc3c3" stroke="#ffc3c3" stroke-width="0.6"/>
<path d="M1506.8,514.8L1542.5,514.8L1539.9,472.6L1504.8,472.6ZM1070.7,599L1107.2,599L1110,556.9L1073.8,556.9Z" fill="#ffc8c8" stroke="#ffc8c8" stroke-width="0.6"/>
<path d="M1542.5,514.8L1578.2,514.8L1575,472.6L1539.9,472.6ZM1001.3,556.9L1037.6,556.9L1042.4,514.8L1006.7,514.8ZM1224.2,1062.4L1259.3,1062.4L1256.7,1020.2L1221,1020.2Z" fill="#ffe1e1" stroke="#ffe1e1" stroke-width="0.6"/>
<path d="M2185.5,514.8L2221.2,514.8L2206.4,472.6L2171.3,472.6ZM2292.6,514.8L2328.3,514.8L2311.6,472.6L2276.5,472.6Z" fill="#babaff" stroke="#babaff" stroke-width="0.6"/>
<path d="M1073.8,556.9L1110,556.9L1113.8,514.8L1078.1,514.8Z" fill="#ffc7c7" stroke="#ffc7c7" stroke-width="0.6"/>
<path d="M1143.8,599L1180.3,599L1182.4,556.9L1146.2,556.9Z" fill="#ffe6e6" stroke="#ffe6e6" stroke-width="0.6"/>
<path d="M1253.4,599L1290,599L1291,556.9L1254.8,556.9ZM1399.6,1020.2L1435.3,1020.2L1435.8,978.1L1399.6,978.1Z" fill="#ececff" stroke="#ececff" stroke-width="0.6"/>
<path d="M1290,599L1326.5,599L1327.2,556.9L1291,556.9ZM1214.4,851.7L1251.4,851.7L1251,809.6L1213.8,809.6ZM1435.8,978.1L1472,978.1L1472.7,936L1436.1,936ZM1433.9,1104.3L1468.2,1104.3L1469.8,1062.4L1434.7,1062.4Z" fill="#f4f4ff" stroke="#f4f4ff" stroke-width="0.6"/>
<path d="M1104.9,641.1L1141.7,641.1L1143.8,599L1107.2,599Z" fill="#ffd9d9" stroke="#ffd9d9" stroke-width="0.6"/>
<path d="M953.7,725.4L990.9,725.4L992.2,683.3L955.1,683.3ZM1110,978.1L1146.2,978.1L1143.8,936L1107.2,936Z" fill="#fff3f3" stroke="#fff3f3" stroke-width="0.6"/>
<path d="M1027.5,767.5L1064.7,767.5L1065.2,725.4L1028,725.4Z" fill="#ffeeee" stroke="#ffeeee" stroke-width="0.6"/>
<path d="M1250.8,767.5L1288,767.5L1288.1,725.4L1251,725.4ZM1251.4,851.7L1288.5,851.7L1288.1,809.6L1251,809.6ZM1399.6,893.9L1436.4,893.9L1436.6,851.7L1399.6,851.7ZM1363.9,1020.2L1399.6,1020.2L1399.6,978.1L1363.4,978.1ZM1605.4,1104.3L1639.6,1104.3L1645.1,1062.4L1610.1,1062.4Z" fill="#f3f3ff" stroke="#f3f3ff" stroke-width="0.6"/>
<path d="M455.8,226.1L465.0,224.1L467.0,219.8L468.6,217.7L472.2,217.7L485.8,211.1L484.0,209.5L491.5,206.5L503.0,204.0L508.3,203.1L522.8,198.0L532.0,194.9L536.9,192.3L544.0,192.9L562.3,188.6L568.9,184.0L575.2,185.4L576.6,188.4L578.4,190.6L592.5,188.6L594.5,188.8L600.0,188.1L601.4,189.9L611.9,191.6L609.3,193.2L622.6,190.4L635.2,193.7L635.8,193.7L641.4,195.8L642.0,197.2L646.3,199.7L640.5,202.5L659.1,197.5L657.5,202.2L665.0,201.3L672.6,198.7L686.1,197.2L686.6,196.2L691.4,196.0L699.0,194.4L701.7,192.5L714.3,190.3L719.2,190.9L717.9,195.5L728.7,191.6L729.6,195.8L731.7,197.4L733.6,197.7L742.2,197.9L751.0,195.8L760.1,197.7L761.8,196.1L768.0,200.5L766.6,201.5L773.0,203.0L774.4,207.2L776.2,211.0L789.6,206.7L791.2,210.5L797.0,209.4L796.7,212.8L800.9,211.8L801.3,216.6L813.6,212.1L812.7,210.1L823.0,207.1L826.9,206.5L831.1,207.8L833.2,209.0L840.2,210.1L856.3,207.3L851.3,208.4L857.2,205.6L866.3,205.1L870.2,208.7L875.4,207.2L879.9,205.1L888.0,200.7L885.9,198.0L892.1,196.4L885.7,192.7L886.6,190.9L896.7,187.3L891.8,185.4L900.9,183.9L906.5,180.6L907.5,180.3L905.7,187.5L909.7,188.8L911.8,191.4L909.3,193.1L908.0,197.2L911.1,199.0L913.6,201.5L910.4,204.4L913.6,204.3L922.4,202.9L920.4,205.4L915.3,212.0L921.4,211.5L929.0,208.7L930.9,207.8L928.8,201.5L937.0,198.1L942.4,195.8L944.7,197.8L948.6,196.7L960.0,195.8L956.6,200.4L954.4,204.7L956.1,205.1L952.2,210.7L952.9,208.6L951.1,212.3L952.3,212.1L937.1,216.7L936.8,221.0L936.6,219.2L923.0,220.2L920.1,221.0L920.4,226.9L914.9,225.3L907.7,230.6L902.6,232.0L895.9,237.0L896.9,238.0L888.9,238.9L886.6,238.7L879.9,241.8L871.9,244.8L874.0,246.4L862.0,249.0L860.4,253.1L854.7,254.9L853.5,255.9L846.3,260.7L841.0,266.8L836.8,264.4L836.8,268.4L831.7,277.7L840.2,278.5L834.6,291.8L842.2,291.8L849.9,291.8L859.7,295.7L866.6,299.7L873.6,303.6L881.1,305.2L888.6,306.8L883.8,319.6L879.7,327.6L884.9,336.5L893.0,335.7L895.7,331.0L897.6,331.7L900.0,327.6L903.3,326.4L900.1,318.6L904.5,319.6L900.5,315.3L906.7,312.9L904.4,310.0L906.5,306.1L910.2,308.1L920.0,303.6L923.3,299.6L928.3,297.0L930.3,295.7L930.3,293.1L929.6,290.4L935.2,287.4L935.3,283.9L933.7,281.8L930.8,277.7L932.1,274.5L936.3,270.5L939.0,268.4L942.6,262.1L940.5,263.0L939.4,259.5L945.1,258.1L945.7,252.4L946.3,250.8L949.7,251.8L958.1,250.6L961.9,248.6L963.7,250.8L971.0,253.1L969.1,253.2L971.4,259.7L977.8,256.9L985.8,258.1L985.6,262.1L987.5,260.7L990.8,265.0L984.0,269.7L984.5,269.9L984.6,272.3L984.8,274.9L986.2,277.3L985.7,282.4L988.3,282.8L995.4,278.7L999.6,278.5L1007.6,274.0L1003.6,271.6L1015.9,269.1L1016.2,266.1L1015.5,268.7L1016.7,271.3L1018.7,276.2L1020.6,276.7L1021.3,283.2L1023.8,283.3L1022.6,287.9L1021.1,291.5L1018.1,292.2L1020.5,300.4L1023.7,299.7L1021.3,302.7L1029.6,305.1L1029.9,307.6L1034.2,311.5L1037.7,311.6L1036.2,312.7L1041.0,317.0L1041.0,319.6L1045.0,324.0L1043.9,323.1L1045.8,327.6L1048.3,330.9L1042.4,334.1L1041.5,336.2L1034.3,336.4L1025.9,336.7L1025.0,338.2L1023.0,340.8L1017.6,340.5L1012.9,345.5L1004.9,348.1L1002.1,347.6L1003.2,344.9L993.4,346.6L997.4,346.6L987.1,345.5L981.5,345.1L980.5,345.5L972.0,348.1L970.7,346.3L966.5,349.6L956.8,350.7L954.1,356.1L951.2,359.8L944.8,362.2L940.8,365.9L933.8,372.0L931.5,373.3L934.7,375.5L938.4,372.5L942.7,372.0L946.9,366.6L954.7,365.2L955.9,360.2L957.4,359.4L963.1,357.4L971.0,354.4L975.7,354.1L980.7,357.9L980.9,357.7L984.4,357.4L974.1,364.3L971.4,371.1L972.1,369.6L971.4,372.5L968.8,375.7L975.9,379.1L978.0,381.3L982.0,380.7L991.4,382.4L1001.0,372.5L1003.6,373.4L1001.5,377.6L1003.2,380.7L993.3,387.4L984.2,389.8L975.1,392.3L958.9,401.5L955.5,397.3L960.0,391.5L970.5,385.7L959.9,387.4L952.2,390.7L940.8,394.8L929.1,399.8L921.7,408.1L919.3,411.4L920.7,415.6L924.7,413.5L923.5,417.3L914.4,418.1L902.1,420.6L893.6,425.6L891.3,433.2L883.1,439.9L880.5,434.8L880.7,443.2L871.8,455.0L873.8,443.2L875.4,435.7L871.1,443.2L868.6,454.1L870.7,456.7L870.3,465.9L870.4,471.0L860.9,475.2L850.9,481.1L842.1,485.3L833.1,492.9L824.4,499.6L819.0,510.6L821.2,527.4L822.8,541.7L819.5,552.7L813.2,556.0L808.7,548.5L804.9,533.3L806.2,523.2L799.5,514.8L788.9,517.3L782.4,511.4L771.7,511.4L762.2,512.2L759.8,522.3L751.4,521.5L741.5,518.1L728.8,517.3L719.2,521.5L706.6,529.1L699.4,535.8L697.4,548.5L691.4,561.1L687.9,577.9L690.1,592.3L695.5,605.7L703.6,610.8L710.4,614.2L721.9,610.8L729.1,611.6L737.1,600.7L740.7,590.6L749.4,588.1L758.2,585.5L765.3,586.4L766.0,592.3L759.5,603.2L756.0,613.3L752.2,620.1L747.8,632.7L750.4,635.2L759.4,634.4L774.3,632.7L785.9,641.1L782.9,658.0L780.4,670.6L781.3,679.0L788.2,687.5L795.4,691.7L806.7,689.2L814.2,687.5L824.9,694.2L829.8,700.1L836.3,689.2L840.6,679.0L846.1,674.0L855.8,672.3L865.8,666.4L870.5,662.6L872.3,668.1L867.5,674.8L869.6,676.5L880.3,670.6L882.1,664.7L885.5,670.6L894.0,676.5L896.1,679.0L911.0,678.2L921.9,681.6L933.2,677.4L940.6,677.4L936.6,683.3L947.5,687.5L954.6,695.9L966.8,709.4L976.2,717.0L991.1,717.0L1002.1,720.3L1013.1,727.1L1019.0,732.1L1021.4,741.4L1023.9,750.7L1027.6,759.9L1020.1,767.5L1016.4,775.9L1021.7,782.7L1031.4,783.5L1038.0,780.1L1041.0,775.1L1049.1,775.5L1057.3,775.9L1068.6,786.9L1079.7,787.7L1091.0,791.9L1102.1,791.1L1113.3,798.7L1123.1,807.9L1137.3,811.3L1139.7,822.3L1141.4,834.9L1136.5,847.5L1129.3,856.0L1122.3,866.9L1115.2,877.0L1112.1,889.7L1112.6,900.2L1113.1,910.7L1108.7,923.4L1105.9,938.5L1101.0,952.8L1094.2,961.3L1085.5,961.3L1074.8,963.8L1063.6,969.7L1052.3,980.6L1048.9,990.7L1050.3,1003.4L1043.8,1014.3L1040.8,1024.4L1030.9,1038.8L1023.0,1051.4L1014.3,1061.5L1005.2,1061.5L993.1,1057.3L988.3,1053.9L989.2,1059.0L999.1,1066.6L1004.3,1075.0L1001.4,1087.6L992.4,1093.5L982.2,1094.3L972.1,1095.1L974.1,1108.5L965.1,1110.6L956.1,1112.7L957.7,1117.5L961.2,1117.9L964.0,1126.7L966.5,1125.2L966.1,1130.6L961.0,1129.4L960.5,1129.0L962.4,1138.5L957.8,1136.9L962.0,1141.6L962.8,1146.0L962.3,1148.2L957.3,1152.1L948.5,1155.3L952.1,1154.3L956.9,1157.9L962.9,1161.1L966.6,1164.2L966.9,1165.8L967.5,1170.7L963.5,1174.9L958.8,1175.8L961.5,1181.4L959.2,1183.6L960.5,1185.7L955.5,1191.2L955.8,1192.3L953.7,1195.7L958.8,1199.3L963.7,1205.8L965.2,1205.7L966.2,1208.0L958.9,1207.4L957.5,1209.4L951.7,1209.8L953.7,1210.1L951.8,1218.7L953.1,1218.6L947.2,1214.5L943.0,1215.0L938.5,1211.4L938.0,1214.3L929.3,1208.8L925.4,1203.3L924.1,1201.6L917.5,1197.6L913.6,1193.6L913.2,1191.1L912.0,1187.1L908.0,1182.0L908.6,1179.5L909.8,1178.9L907.8,1173.3L905.3,1170.7L905.1,1168.7L901.1,1163.4L907.4,1163.8L900.3,1159.2L903.6,1156.7L905.3,1151.7L910.2,1155.1L907.4,1146.0L906.6,1144.7L907.5,1140.9L905.1,1134.6L913.5,1138.6L907.0,1129.4L903.4,1125.4L901.9,1123.4L898.9,1119.4L894.1,1104.3L892.0,1087.6L888.8,1080.9L890.6,1066.6L893.6,1049.7L892.0,1039.2L890.5,1028.7L888.6,1011.8L889.0,997.1L889.7,982.3L888.8,969.7L888.0,957.1L887.4,944.4L885.9,933.9L884.4,923.4L874.6,913.2L859.1,904.8L845.8,896.4L836.6,883.8L829.5,868.6L820.3,851.7L813.6,836.6L806.4,824.8L796.4,816.4L795.3,807.1L802.5,796.1L805.3,788.6L797.8,786.0L799.1,775.9L803.5,763.3L807.3,759.1L814.1,750.7L822.4,743.9L826.4,734.6L823.8,721.2L825.0,708.5L821.4,706.0L818.0,698.4L821.1,695.9L810.2,692.1L803.2,697.6L805.9,704.3L802.8,706.0L798.5,702.6L793.5,700.1L785.4,697.6L778.9,695.9L772.0,685.8L764.7,684.1L765.3,674.8L756.7,662.2L752.1,655.5L742.6,654.6L731.9,650.4L719.9,645.3L708.0,632.7L700.9,631.0L689.3,635.2L675.4,629.3L664.9,625.1L651.5,615.9L638.0,608.3L627.5,595.6L631.9,586.4L626.3,572.1L617.6,556.9L608.7,551.0L610.5,540.0L602.4,532.5L595.6,523.2L595.4,513.9L595.5,504.7L584.4,499.6L581.5,510.6L586.2,523.2L589.0,534.1L594.1,548.5L597.2,561.1L599.6,563.6L603.8,572.1L600.4,574.6L597.0,569.5L588.1,559.4L589.0,548.5L581.3,541.7L572.6,533.3L580.0,527.4L573.0,514.8L570.7,502.1L570.1,493.7L565.7,481.1L559.1,479.0L552.5,476.9L551.2,468.0L550.1,459.2L550.5,449.1L548.4,434.8L548.2,427.3L557.5,413.9L559.5,405.6L572.6,389.0L579.1,378.3L582.2,369.6L585.4,361.0L584.7,363.2L594.9,360.1L595.4,362.6L594.1,370.0L600.0,362.6L599.7,360.9L601.0,356.1L599.0,353.8L598.6,350.4L595.5,347.9L591.7,345.5L588.7,342.4L588.9,343.9L585.2,339.8L585.5,338.5L590.2,332.1L588.1,328.9L588.0,327.6L585.8,325.2L585.9,320.7L586.7,316.5L587.1,313.2L588.4,308.7L592.1,307.7L592.1,303.6L588.9,299.7L593.0,298.6L589.8,295.7L587.4,292.3L591.4,293.1L591.6,287.4L591.4,283.9L588.5,280.5L585.4,278.2L586.7,276.2L584.0,277.8L574.0,280.0L567.3,280.0L571.1,273.8L561.7,275.4L565.2,270.7L565.8,270.4L553.9,271.4L555.7,268.4L547.9,268.5L546.5,264.5L542.5,266.9L537.9,265.1L540.2,260.7L539.2,258.3L531.3,260.7L529.2,264.1L522.8,265.6L517.1,268.4L511.5,270.7L502.3,273.8L493.6,276.2L492.8,276.4L490.7,274.6L498.2,271.6L495.2,269.3L500.9,266.1L506.4,263.0L512.2,263.6L518.3,259.2L508.7,259.4L507.8,260.7L502.8,263.0L498.9,266.2L493.3,268.4L487.7,272.6L481.3,273.8L474.1,278.4L469.7,280.0L459.9,282.4L451.3,290.2L445.4,290.2L435.7,292.9L431.8,297.7L423.0,299.7L414.4,303.7L418.8,302.0L409.7,303.3L400.8,306.0L398.9,306.0L390.9,306.8L385.0,309.2L383.3,307.5L373.7,311.2L372.1,310.8L384.0,305.6L386.9,306.2L395.8,302.1L400.1,301.3L413.2,297.3L416.1,296.8L418.0,295.7L426.6,290.3L438.8,287.9L441.4,285.5L447.3,281.3L449.9,279.5L453.4,278.5L444.7,280.5L443.5,279.3L441.3,277.9L435.0,277.7L433.3,279.0L423.0,279.3L426.0,277.7L433.5,272.3L426.1,272.6L435.7,266.9L430.4,267.8L433.4,262.4L423.4,263.8L427.6,258.4L429.5,256.8L428.1,256.1L435.0,251.8L437.7,249.5L444.5,247.8L449.5,244.8L454.3,244.2L464.5,243.0L470.0,241.3L475.1,241.8L478.1,241.6L485.2,235.7L485.7,234.3L479.5,233.7L476.1,234.3L470.6,231.9L465.7,234.4L461.9,234.3L463.3,232.7L458.3,230.6L456.5,230.1ZM1051.8,140.0L1053.5,140.1L1068.3,133.3L1079.3,131.2L1084.1,130.4L1081.1,129.6L1094.5,124.9L1104.1,123.7L1116.4,121.9L1127.7,120.4L1131.3,118.4L1145.4,115.6L1151.5,116.4L1169.0,115.9L1194.1,115.2L1196.0,115.8L1201.0,114.4L1231.9,116.4L1221.1,113.3L1247.2,110.5L1278.6,110.7L1281.4,112.0L1288.7,115.8L1302.0,115.9L1298.1,117.5L1287.4,119.4L1290.7,122.3L1298.3,120.1L1318.4,121.0L1334.8,120.9L1345.5,121.0L1338.7,126.1L1335.7,127.1L1330.6,127.6L1323.7,129.1L1315.7,132.2L1308.5,136.2L1319.6,136.0L1304.6,144.4L1308.8,141.2L1307.0,142.3L1312.3,147.1L1299.1,149.1L1301.7,150.6L1307.0,155.3L1301.9,157.3L1304.6,161.0L1304.4,160.4L1302.5,163.6L1295.7,163.8L1292.9,167.0L1294.5,172.7L1290.7,170.4L1281.1,173.7L1281.4,173.1L1285.1,175.6L1284.8,180.6L1274.5,184.1L1270.9,184.0L1281.8,181.8L1282.2,186.7L1282.7,190.9L1275.9,195.8L1274.3,192.0L1270.6,197.2L1256.0,200.9L1250.1,202.2L1252.7,205.1L1250.3,208.5L1240.3,203.7L1234.7,209.9L1230.1,207.9L1218.3,215.2L1223.2,215.3L1220.4,214.7L1210.4,219.5L1201.3,222.4L1201.6,222.6L1192.2,224.7L1185.9,230.3L1182.8,230.5L1173.5,230.6L1161.7,234.7L1172.0,231.5L1164.1,241.9L1164.2,241.8L1169.4,244.2L1156.3,249.9L1152.3,246.9L1151.9,253.1L1148.8,257.2L1147.9,255.2L1145.2,260.2L1145.3,264.6L1142.7,266.3L1137.9,269.2L1131.8,265.9L1136.9,265.7L1127.8,263.8L1119.8,265.8L1121.1,262.4L1117.0,260.7L1114.8,257.8L1108.5,253.2L1112.2,252.3L1109.6,249.3L1110.2,244.4L1106.9,245.6L1110.5,241.8L1105.4,238.0L1100.8,238.7L1103.9,234.8L1102.9,228.7L1104.4,226.9L1104.9,221.9L1104.2,222.2L1101.0,219.7L1102.4,215.9L1106.7,213.1L1104.5,208.6L1106.9,208.8L1108.5,205.1L1107.5,202.2L1120.4,201.2L1124.6,199.4L1120.2,198.7L1121.5,194.4L1114.8,192.2L1109.9,190.9L1110.4,188.6L1110.6,185.0L1114.2,184.7L1115.2,180.6L1119.4,176.4L1118.2,175.7L1111.2,175.3L1113.1,170.4L1114.0,171.7L1108.9,165.0L1115.8,161.4L1110.3,158.4L1097.3,159.3L1095.5,154.3L1094.6,152.6L1087.0,153.3L1074.8,153.6L1076.2,155.7L1064.0,153.9L1063.6,148.6L1060.5,150.4L1054.7,147.4L1064.0,147.3L1067.1,144.3L1062.0,139.2ZM1058.2,218.1L1059.8,224.9L1054.5,220.0L1043.1,226.9L1040.6,230.6L1042.5,234.5L1035.2,236.3L1022.8,238.2L1026.4,241.8L1025.3,242.5L1032.2,245.9L1021.2,249.2L1020.7,253.1L1018.7,249.8L1006.2,253.9L1002.1,248.9L1005.2,249.3L1000.5,249.8L994.0,248.7L989.7,247.2L989.8,245.5L986.9,239.6L984.6,241.7L981.0,234.4L979.0,234.3L976.7,232.4L974.8,228.7L961.6,231.8L962.4,229.1L962.9,226.7L972.0,227.4L978.0,223.4L985.7,223.2L987.4,221.6L995.7,220.0L993.0,209.3L997.9,212.3L991.6,211.4L986.3,208.9L988.6,205.5L980.6,205.1L981.4,202.9L973.5,199.2L985.1,195.2L977.1,194.4L971.1,193.0L962.7,194.5L952.6,195.0L951.8,194.7L945.0,194.4L946.0,190.3L940.5,193.2L927.3,192.9L926.5,190.9L924.1,188.3L931.5,185.4L932.0,182.9L932.6,180.6L939.3,178.9L958.3,173.0L952.2,173.4L965.9,169.0L969.7,169.4L985.8,168.2L985.1,170.4L997.1,170.9L996.7,175.1L1008.9,175.5L1009.7,178.5L1016.6,181.7L1010.6,184.7L1024.5,187.4L1036.2,190.9L1030.5,190.0L1036.0,194.4L1035.8,198.3L1044.0,198.8L1036.3,202.9L1042.6,207.2L1046.2,208.3L1047.4,212.3L1055.6,211.7L1059.5,215.8ZM963.8,150.6L974.3,150.3L985.9,145.3L990.0,144.3L995.1,146.6L1004.9,148.3L1015.8,147.4L1024.1,144.6L1022.3,142.7L1041.2,138.8L1039.3,138.1L1051.9,136.3L1050.0,134.7L1059.2,132.2L1076.4,125.7L1090.4,124.6L1084.8,124.8L1104.1,125.3L1101.6,121.2L1113.4,118.4L1122.5,114.2L1099.0,115.0L1100.5,113.4L1089.5,113.8L1066.0,113.9L1057.1,112.9L1047.6,115.3L1036.0,115.4L1012.5,116.9L1011.0,116.6L986.8,121.4L983.4,122.1L993.3,125.7L1000.7,126.5L994.9,128.5L998.3,132.0L998.6,132.2L991.4,133.7L991.7,139.9L981.0,139.3L985.6,140.7L963.8,147.2L969.6,148.4ZM1002.4,156.5L1001.6,158.0L997.1,162.4L986.8,162.5L983.1,161.8L970.7,163.7L973.4,160.7L955.0,163.6L946.1,163.0L957.1,160.0L943.6,160.9L942.1,157.1L947.2,156.0L942.5,154.5L949.8,150.0L954.0,150.4L954.1,152.4L967.8,153.5L977.1,151.9L975.6,154.4L983.5,153.2L992.2,154.1ZM775.0,190.9L779.7,195.8L780.8,197.4L784.9,199.4L784.2,201.2L793.6,200.6L799.4,205.1L801.7,204.4L807.2,202.7L814.3,207.3L824.5,202.5L826.1,201.5L837.4,201.4L835.4,199.6L849.2,198.8L850.9,198.0L845.9,195.0L856.8,194.4L847.7,193.3L846.9,192.0L846.8,187.8L849.9,183.4L851.7,180.6L849.1,180.8L855.6,174.4L856.1,173.7L854.1,173.5L843.3,173.7L839.5,173.4L836.1,173.1L818.9,177.1L813.0,176.5L820.5,172.2L807.2,173.7L802.1,178.9L785.2,181.6L785.2,177.1L787.8,179.8L784.1,182.8L783.7,185.4L784.0,188.7ZM743.9,181.2L752.3,182.8L751.3,186.1L759.7,184.6L761.7,186.6L769.4,184.0L782.0,180.2L786.6,177.6L795.3,178.5L802.1,173.7L804.0,172.2L805.6,168.7L812.6,167.0L804.0,166.7L805.0,165.0L801.5,164.0L800.7,160.4L789.0,163.7L780.4,163.9L770.9,164.2L768.7,165.7L773.1,166.3L758.2,171.5L758.3,173.7L758.1,176.4L750.5,180.2ZM815.2,159.1L830.4,158.9L828.5,163.5L834.4,163.7L842.5,162.6L852.6,162.2L859.4,160.9L868.6,160.4L874.2,161.5L863.8,158.5L876.5,153.9L864.4,154.7L866.7,150.0L862.4,150.5L849.1,152.4L844.5,151.9L839.2,151.6L831.5,153.1L824.9,151.9L821.7,156.7L818.0,161.7ZM947.7,139.3L950.7,140.9L967.1,141.0L981.9,140.8L982.4,138.1L1000.9,134.8L994.0,132.3L998.3,130.4L1011.4,127.3L978.7,125.0L989.0,124.8L977.1,126.5L967.7,123.7L966.9,127.2L961.4,127.1L955.7,129.3L950.8,130.8L945.7,133.9L946.1,137.0ZM867.3,180.6L881.3,181.2L874.0,182.5L881.3,183.1L890.2,184.0L894.1,181.3L895.8,179.8L903.1,174.5L902.5,173.7L899.3,171.6L904.3,167.2L901.6,167.0L898.9,168.7L886.5,170.4L882.4,168.4L874.3,171.4L879.2,172.8L867.4,179.8ZM901.9,179.9L909.8,179.5L916.9,178.2L925.4,176.7L927.8,177.1L935.1,175.0L940.2,172.1L941.0,168.4L938.4,164.4L928.9,168.5L923.2,165.7L924.3,166.4L908.4,170.4L912.1,172.4L906.2,175.5L902.9,174.9ZM880.1,159.1L884.5,160.2L895.7,156.7L905.1,160.7L908.6,160.4L917.2,156.9L924.4,155.2L924.9,155.8L926.5,151.6L921.2,149.3L908.2,150.4L911.5,147.4L895.2,150.6L892.0,152.5L882.0,155.4ZM910.3,226.9L917.2,229.1L921.6,224.3L921.9,225.9L934.3,224.7L935.6,231.1L935.7,231.2L939.7,237.0L939.7,238.0L938.9,240.4L935.4,241.8L925.4,247.0L922.5,245.4L909.1,248.1L908.1,245.4L907.2,244.0L905.6,244.4L902.6,238.0L901.8,237.7L903.2,229.7L910.8,226.6ZM861.2,201.5L869.8,204.1L868.5,199.7L877.8,204.4L877.3,204.3L886.0,199.8L885.9,198.0L877.5,196.8L875.5,194.4L871.5,196.6L868.4,199.8ZM1044.4,335.7L1039.2,337.5L1034.8,341.4L1032.9,343.0L1027.7,348.6L1025.0,352.0L1019.8,352.8L1015.0,358.6L1012.7,361.8L1010.9,365.9L1013.9,370.1L1015.4,368.4L1018.2,371.3L1026.5,368.8L1024.1,369.0L1032.1,367.6L1036.4,367.7L1033.7,373.3L1039.2,375.0L1040.7,370.9L1043.4,374.1L1044.2,375.2L1048.4,375.0L1048.4,373.8L1053.5,368.4L1055.4,364.5L1052.7,361.9L1050.5,360.2L1053.5,354.2L1050.4,353.6L1047.0,352.9L1042.2,349.0L1040.6,349.5L1037.7,350.2L1038.7,345.5L1040.0,342.2L1044.9,337.2ZM982.7,348.7L984.1,351.8L988.2,354.2L993.2,352.8L996.7,355.3L999.2,353.6L994.9,354.9L990.7,348.0L989.2,348.7L984.2,347.4ZM975.4,374.1L980.1,375.5L980.5,375.4L984.1,376.9L989.6,377.4L985.3,380.7L982.1,380.9L978.7,379.1L976.4,377.4ZM781.1,583.0L794.6,574.6L807.2,572.9L821.2,577.1L834.9,583.8L847.0,592.3L857.4,597.3L851.3,599.9L842.2,599.9L833.0,599.9L831.5,594.0L827.2,587.2L813.1,583.0L802.7,578.8L791.5,581.3ZM854.3,612.5L867.4,599.9L875.3,600.7L887.7,601.5L898.5,610.8L893.8,613.3L882.7,614.2L875.0,618.4L868.1,614.2L858.4,615.0ZM825.7,612.5L835.3,611.6L840.8,615.9L833.2,617.5L825.4,615.0ZM907.2,611.6L918.1,612.5L917.0,615.9L906.8,615.9ZM942.1,677.4L948.1,676.5L947.8,682.4L941.8,682.4ZM575.7,341.4L575.8,342.6L578.1,346.3L583.9,344.3L588.1,344.6L585.4,351.2L593.1,349.1L593.7,352.6L593.2,356.1L590.9,358.3L593.9,361.0L591.5,356.2L587.7,358.1L585.1,358.5L578.4,358.5L581.2,352.9L579.7,352.0L579.4,349.6L573.3,346.1L574.0,346.3L574.9,340.9ZM567.0,314.8L576.0,313.7L573.8,315.6L572.7,320.5L576.9,320.6L569.1,323.6L568.5,328.4L565.8,330.1L562.7,329.7L563.3,325.2L564.0,321.7L568.4,315.8ZM460.1,287.9L469.6,284.3L475.9,281.6L480.6,280.1L477.7,285.5L470.6,286.6L462.0,291.8L452.1,293.7L455.1,292.6L458.3,290.5ZM965.3,1209.0L967.4,1204.6L955.0,1212.7L954.3,1211.4L954.5,1211.1L958.4,1217.8L958.1,1218.2L949.3,1221.6L949.2,1221.0L947.9,1226.9L958.0,1226.6L963.0,1225.8L963.4,1228.0L971.6,1229.0L980.1,1228.9L978.7,1228.3L984.3,1229.8L988.7,1228.0L989.3,1227.4L993.4,1225.0L989.4,1224.5L984.0,1221.8L982.1,1217.3L975.8,1212.4L969.9,1213.8L970.6,1208.5ZM1009.5,1201.7L1018.9,1197.7L1030.6,1200.1L1027.8,1204.9L1015.1,1204.9ZM895.8,1120.2L899.3,1121.0L900.8,1121.1L907.8,1126.1L902.4,1130.1L904.5,1131.9L901.5,1130.6L898.1,1131.0L899.9,1127.9L892.4,1123.2ZM718.7,770.0L722.4,769.2L724.0,775.1L719.5,775.9ZM259.7,597.3L266.3,600.7L261.1,607.4L258.4,603.2ZM407.2,266.9L415.1,266.4L417.6,266.1L415.2,267.1L411.2,270.0L412.8,268.5ZM415.7,240.3L421.4,241.8L427.2,243.3L426.4,244.8L419.6,244.0L412.8,243.3ZM1021.6,768.3L1031.2,765.8L1038.7,770.0L1038.0,778.5L1029.1,781.8L1022.4,775.9ZM1535.8,186.8L1536.1,188.1L1547.5,187.4L1553.4,192.2L1562.5,192.0L1564.8,192.3L1564.6,194.1L1560.6,196.5L1568.9,197.6L1577.3,198.7L1585.8,200.1L1594.4,201.5L1606.4,205.1L1618.5,208.7L1628.1,217.3L1621.4,219.9L1614.7,222.5L1604.5,221.0L1594.3,219.5L1587.7,217.7L1581.1,215.9L1593.6,226.9L1596.8,234.3L1604.0,236.5L1611.2,238.8L1616.0,235.8L1610.5,230.6L1618.0,232.1L1625.6,233.5L1629.8,234.3L1624.6,226.9L1630.5,223.6L1636.3,220.3L1645.7,223.2L1641.7,212.3L1635.0,204.4L1643.1,206.5L1651.3,208.7L1656.9,215.9L1663.5,211.5L1671.7,209.4L1679.9,207.2L1688.0,205.1L1694.4,207.2L1703.3,205.8L1712.1,204.4L1718.1,200.1L1723.9,195.8L1728.1,195.0L1734.7,198.3L1741.7,197.6L1747.4,199.4L1753.0,202.2L1757.5,202.9L1764.9,203.7L1770.1,205.8L1771.5,203.4L1764.2,201.2L1760.0,198.0L1754.6,195.2L1759.0,193.7L1753.6,191.3L1752.6,187.4L1758.1,185.7L1756.5,183.5L1755.1,180.6L1754.8,177.1L1748.0,175.3L1757.6,173.7L1768.7,176.5L1774.0,175.1L1776.5,178.5L1776.8,181.3L1781.9,184.0L1779.5,186.7L1790.7,191.3L1788.4,191.4L1792.7,196.5L1792.3,198.8L1796.3,201.3L1799.6,205.1L1795.7,206.8L1798.6,210.1L1799.3,215.1L1799.5,217.7L1800.2,219.5L1803.4,217.0L1809.1,215.9L1809.5,212.8L1804.6,210.6L1804.2,206.0L1801.2,204.5L1800.0,201.5L1795.3,198.3L1798.6,198.7L1792.5,193.3L1782.8,189.4L1785.3,186.5L1782.9,184.0L1779.8,179.5L1787.2,179.8L1788.5,177.1L1797.4,176.9L1800.8,176.9L1805.1,178.5L1805.8,177.8L1819.7,180.6L1823.9,182.8L1833.1,186.5L1835.7,187.5L1840.8,190.9L1836.1,187.6L1829.3,186.6L1824.9,182.2L1833.1,179.6L1819.6,177.1L1817.1,174.9L1817.3,171.9L1813.0,170.4L1815.0,168.5L1824.1,167.9L1826.6,169.4L1836.6,167.0L1839.6,166.6L1836.7,162.3L1835.5,160.4L1842.1,158.3L1848.9,156.5L1855.0,155.2L1860.4,154.4L1875.8,152.4L1876.0,152.3L1881.0,151.9L1883.5,149.5L1889.1,146.5L1895.7,147.5L1900.6,143.0L1907.3,144.6L1919.4,147.4L1935.2,147.3L1935.1,149.3L1947.2,150.0L1951.6,152.7L1961.5,155.2L1962.1,159.6L1964.8,160.6L1964.8,163.7L1959.1,165.7L1955.1,168.4L1955.0,170.3L1944.2,172.4L1947.6,170.2L1949.6,168.9L1960.1,168.4L1965.7,169.9L1971.9,168.0L1980.4,170.4L1985.4,169.9L1999.5,172.7L2005.0,171.7L2015.1,172.7L2015.3,172.9L2022.2,171.6L2031.5,172.4L2033.6,170.2L2045.0,171.8L2049.4,170.4L2053.3,173.1L2059.8,178.5L2065.6,178.7L2075.4,182.3L2081.3,185.4L2090.0,189.7L2094.3,189.5L2097.7,188.6L2098.0,184.0L2107.1,184.0L2111.3,183.6L2119.0,184.0L2121.8,181.5L2125.1,180.0L2125.5,177.1L2127.8,175.1L2131.5,175.6L2145.4,175.8L2149.4,177.0L2158.6,178.5L2164.8,178.8L2172.7,179.7L2182.4,180.6L2193.3,182.3L2201.4,186.4L2203.7,188.1L2208.5,188.0L2218.1,188.0L2226.1,188.2L2229.2,187.4L2239.6,188.8L2243.0,191.5L2255.2,194.4L2258.4,195.1L2265.7,198.0L2269.3,197.6L2281.9,200.9L2277.3,197.8L2287.2,198.0L2288.9,195.7L2297.0,196.9L2298.0,194.4L2307.7,195.9L2313.5,195.8L2317.3,199.6L2320.5,202.2L2321.4,201.1L2317.2,199.4L2314.1,194.4L2327.9,195.8L2328.4,196.4L2335.0,195.9L2343.0,195.8L2352.0,197.2L2360.5,199.6L2364.5,199.3L2374.6,202.2L2394.5,215.2L2414.0,228.4L2413.7,232.1L2406.3,232.8L2421.7,241.8L2441.7,250.8L2434.0,250.1L2426.3,249.3L2421.7,254.6L2417.4,258.1L2413.1,261.5L2412.9,268.4L2401.1,267.3L2389.3,266.1L2383.7,267.6L2378.2,269.2L2377.5,272.4L2377.4,276.2L2376.7,278.8L2381.6,281.2L2385.1,285.5L2386.1,288.6L2394.4,291.7L2398.3,294.8L2404.0,298.1L2405.6,300.8L2405.3,303.9L2405.5,306.4L2406.7,309.2L2408.3,314.3L2411.2,317.3L2409.3,320.1L2408.5,322.0L2405.5,324.2L2401.4,324.4L2404.6,328.2L2404.4,330.1L2408.7,333.3L2408.9,335.4L2407.5,339.2L2405.2,340.6L2400.5,337.2L2395.1,333.8L2392.5,331.7L2388.5,328.1L2385.0,325.7L2381.3,321.7L2379.0,319.8L2373.9,315.6L2370.0,312.5L2364.6,308.3L2365.4,306.0L2360.2,302.1L2358.9,299.7L2355.3,295.0L2358.1,295.2L2356.1,291.4L2353.1,287.9L2353.2,285.5L2353.8,282.5L2354.8,280.0L2354.2,276.3L2352.8,274.6L2351.1,270.0L2351.9,268.1L2355.1,265.3L2358.1,265.3L2355.9,262.5L2357.8,260.1L2357.4,256.9L2356.7,254.6L2355.3,252.5L2353.8,249.3L2351.1,250.3L2349.8,253.1L2348.1,254.1L2339.2,254.4L2335.9,254.6L2328.9,253.9L2325.4,255.0L2320.5,255.6L2317.5,255.4L2317.2,256.9L2318.2,260.9L2318.9,265.3L2320.9,267.5L2322.5,270.0L2320.5,271.2L2315.8,273.1L2316.6,275.4L2308.0,272.7L2306.6,273.2L2301.2,272.3L2296.7,272.1L2293.4,272.5L2288.5,271.5L2284.6,271.9L2280.3,272.8L2276.3,274.0L2270.0,273.8L2270.8,274.3L2258.7,272.5L2255.5,273.1L2256.6,276.6L2251.9,279.9L2250.9,282.0L2250.2,283.9L2248.0,286.2L2250.1,290.9L2247.1,293.4L2248.0,296.1L2251.0,300.7L2248.4,303.4L2250.9,307.6L2250.5,309.0L2246.3,307.6L2242.5,310.0L2248.6,313.4L2252.3,314.1L2258.0,315.6L2265.4,318.1L2268.8,317.2L2274.2,314.6L2277.5,316.4L2284.7,321.1L2290.6,322.0L2292.1,324.1L2295.9,326.2L2296.9,329.3L2299.5,334.7L2299.3,335.5L2300.6,339.8L2308.9,352.0L2316.4,360.2L2315.4,372.5L2317.2,384.9L2312.7,393.2L2309.7,399.0L2304.6,403.1L2299.5,407.3L2289.3,404.0L2284.7,409.8L2282.8,418.1L2285.5,424.0L2280.6,428.1L2275.6,432.3L2277.5,437.4L2287.4,443.2L2299.8,455.8L2306.2,468.4L2304.2,471.8L2300.8,472.8L2298.4,474.3L2295.2,475.2L2291.4,475.5L2288.3,475.2L2287.4,476.9L2285.5,473.3L2284.6,470.3L2284.0,467.0L2283.4,464.2L2280.3,455.8L2278.9,449.9L2265.6,448.3L2262.0,436.5L2252.8,430.7L2241.9,434.8L2235.8,440.7L2236.4,434.8L2233.7,425.6L2225.6,423.1L2220.0,432.3L2212.1,437.4L2213.5,443.2L2222.3,447.4L2226.3,453.3L2236.9,449.1L2250.2,452.5L2242.8,459.2L2240.1,464.2L2236.5,472.6L2246.9,481.1L2255.4,492.0L2265.5,500.4L2267.9,507.2L2259.6,512.2L2270.0,515.6L2273.2,523.2L2269.2,531.6L2265.0,542.6L2263.9,552.7L2256.4,561.1L2249.4,569.5L2243.1,574.6L2231.0,579.6L2226.0,580.5L2215.8,584.7L2205.6,588.9L2205.4,596.5L2200.1,586.4L2190.3,584.7L2183.6,588.1L2178.6,593.1L2174.2,607.4L2181.0,618.4L2191.3,628.5L2196.4,632.7L2205.2,649.6L2207.3,662.2L2205.9,670.6L2195.6,679.0L2190.5,680.7L2188.8,687.5L2178.3,695.0L2176.0,684.9L2173.4,679.9L2165.9,678.2L2160.7,668.9L2153.5,663.0L2145.1,660.5L2145.2,654.6L2141.4,653.8L2137.9,655.5L2137.8,660.5L2138.4,663.1L2139.0,666.4L2136.9,669.9L2135.7,672.0L2136.0,674.8L2135.4,678.0L2137.3,681.1L2135.3,683.8L2134.7,687.5L2136.8,690.8L2139.6,692.3L2141.2,695.9L2145.6,706.8L2154.7,710.2L2161.0,717.0L2168.1,727.1L2168.5,738.0L2171.7,746.4L2174.9,755.7L2169.7,756.5L2160.6,749.0L2153.0,742.2L2148.3,733.8L2144.8,721.2L2144.4,712.7L2139.7,708.5L2134.8,706.6L2134.0,704.9L2132.5,702.7L2128.9,700.1L2129.3,697.8L2128.1,693.9L2128.4,691.7L2128.1,688.7L2128.2,686.2L2129.8,681.8L2129.7,679.0L2128.8,676.9L2131.5,673.3L2128.7,669.2L2129.4,666.4L2127.5,663.6L2127.5,659.3L2125.4,655.9L2124.5,653.8L2123.1,650.9L2121.9,647.8L2121.0,644.1L2119.4,641.1L2118.4,637.9L2118.2,635.4L2118.0,630.9L2117.8,628.5L2114.3,625.4L2110.7,624.3L2109.2,626.5L2105.3,628.5L2102.7,632.2L2100.9,634.4L2098.5,633.2L2097.2,634.4L2093.4,632.7L2093.9,628.7L2095.1,626.3L2093.4,624.6L2093.2,620.1L2091.4,617.9L2089.8,614.6L2088.0,610.7L2087.8,607.4L2079.4,599.0L2072.4,590.6L2067.9,579.6L2061.8,577.9L2058.8,582.2L2048.1,583.8L2040.9,584.7L2034.1,588.1L2033.5,594.8L2024.9,601.5L2018.5,609.1L2012.3,618.4L2004.4,626.8L1996.8,631.0L1990.8,636.9L1990.5,649.6L1992.6,657.1L1990.4,666.4L1990.6,680.7L1986.3,683.3L1985.1,689.2L1979.4,692.5L1974.5,699.3L1966.7,691.7L1964.1,683.3L1958.0,668.9L1952.1,658.0L1948.1,645.3L1942.9,636.9L1938.0,624.3L1932.6,607.4L1930.5,594.8L1928.9,586.4L1928.1,579.6L1925.5,588.9L1917.9,593.1L1910.4,590.6L1901.9,579.6L1910.8,574.6L1901.4,574.6L1897.2,569.5L1889.4,565.3L1885.0,558.6L1880.7,553.5L1866.4,555.2L1855.6,555.6L1844.8,556.0L1835.6,554.8L1826.4,553.5L1813.8,551.0L1808.9,540.0L1799.9,542.6L1789.1,543.4L1777.4,535.8L1763.6,523.2L1756.8,514.8L1749.3,512.2L1746.1,514.8L1743.2,519.8L1747.7,527.4L1756.0,537.5L1761.8,544.3L1762.7,552.7L1767.6,558.6L1768.0,548.5L1773.2,556.9L1773.1,562.8L1780.5,564.5L1791.3,563.6L1799.8,554.4L1804.9,548.5L1806.8,545.9L1808.0,556.9L1810.9,563.6L1824.4,568.7L1834.8,577.9L1828.3,594.8L1822.8,607.4L1817.6,615.9L1805.6,621.8L1796.3,624.3L1783.6,632.7L1775.8,636.9L1768.0,641.1L1757.4,649.6L1748.3,652.5L1739.2,655.5L1732.0,659.7L1721.0,660.5L1718.5,653.8L1714.9,641.1L1712.8,628.5L1703.1,614.2L1698.9,604.1L1692.6,596.5L1685.4,587.2L1682.4,578.4L1679.2,569.5L1669.0,556.9L1663.0,544.3L1654.7,531.6L1649.6,530.8L1649.3,519.0L1646.8,531.6L1645.6,534.1L1640.0,527.4L1632.6,515.6L1635.5,524.9L1642.9,535.8L1648.1,547.6L1655.6,562.8L1661.3,573.7L1668.5,583.8L1672.0,594.8L1672.5,604.1L1682.0,615.9L1686.2,626.4L1690.4,636.9L1701.9,645.3L1705.9,653.8L1717.4,662.2L1719.9,669.8L1725.4,679.0L1740.1,676.5L1749.3,674.4L1758.4,672.3L1768.3,669.8L1778.2,667.2L1777.2,679.0L1774.0,691.7L1767.1,708.5L1760.0,725.4L1749.1,742.2L1738.1,750.7L1723.3,767.5L1712.1,775.9L1704.6,784.3L1698.6,792.8L1694.0,802.0L1689.4,813.8L1689.2,822.3L1692.8,826.5L1692.5,839.1L1694.4,851.7L1699.5,856.0L1699.6,872.8L1700.4,889.7L1697.6,902.3L1686.1,910.7L1678.5,914.9L1670.2,919.1L1663.2,927.6L1654.1,934.3L1655.0,944.4L1656.7,952.8L1657.2,969.7L1649.5,976.4L1638.4,980.6L1635.1,986.5L1636.7,995.0L1635.3,1003.4L1628.9,1011.8L1621.1,1019.4L1613.0,1031.2L1601.3,1043.0L1590.1,1050.6L1580.6,1053.9L1568.6,1054.8L1554.4,1055.6L1540.0,1060.7L1531.9,1056.5L1529.1,1055.6L1529.2,1053.1L1527.0,1043.8L1529.7,1032.9L1523.2,1020.2L1518.0,1008.4L1509.1,995.0L1508.2,978.1L1505.0,961.3L1501.7,948.6L1497.5,938.1L1493.3,927.6L1487.7,914.9L1486.4,902.3L1490.3,885.4L1499.4,872.8L1501.7,860.2L1497.5,843.3L1494.6,830.7L1491.0,818.0L1488.8,809.6L1482.9,801.2L1474.0,791.1L1468.8,780.1L1465.1,773.4L1470.3,765.0L1471.0,757.4L1472.5,746.4L1471.7,735.5L1465.8,729.6L1461.3,729.6L1451.6,730.4L1444.2,731.3L1438.2,721.2L1432.3,714.4L1424.8,713.6L1414.5,714.4L1407.0,717.0L1399.6,719.5L1398.1,721.2L1384.7,727.1L1373.6,724.5L1362.4,723.7L1353.1,727.1L1343.8,730.4L1332.7,725.4L1319.4,714.4L1306.8,704.3L1301.7,695.9L1298.1,687.5L1290.0,676.5L1284.9,670.6L1276.2,663.9L1275.6,653.8L1270.6,643.7L1278.2,632.7L1280.1,615.9L1281.0,604.9L1279.1,594.8L1275.6,590.6L1281.8,573.7L1283.4,567.8L1287.7,558.2L1292.0,548.5L1302.4,535.8L1306.1,532.5L1317.1,527.4L1328.0,519.0L1330.4,510.6L1329.9,502.1L1334.4,493.7L1343.1,486.1L1351.7,481.1L1357.6,468.4L1358.3,465.9L1362.6,465.1L1368.1,471.0L1378.6,470.1L1385.6,471.8L1392.6,466.8L1399.6,465.1L1406.6,460.0L1420.5,457.5L1434.4,457.5L1448.3,455.8L1458.7,455.8L1467.7,453.3L1476.1,455.8L1472.9,461.7L1473.7,466.8L1476.8,472.6L1470.7,478.5L1470.8,482.7L1477.2,485.3L1484.5,490.3L1493.0,490.3L1505.9,495.4L1509.8,502.1L1518.9,506.3L1528.0,510.6L1538.8,512.2L1542.0,506.3L1541.5,497.1L1551.7,490.3L1562.5,492.9L1577.1,499.6L1591.7,504.7L1606.2,507.2L1613.0,503.8L1620.0,502.1L1629.4,503.8L1638.1,505.5L1643.6,503.8L1646.5,497.1L1647.2,491.2L1649.7,481.9L1651.5,472.6L1651.1,464.2L1651.9,459.2L1647.0,459.2L1640.5,457.5L1633.5,463.4L1626.6,463.4L1613.3,456.7L1605.5,462.5L1602.1,460.6L1598.0,458.9L1594.6,458.3L1593.1,458.4L1589.5,455.8L1588.8,454.1L1587.6,450.1L1588.0,447.4L1585.1,444.6L1582.8,444.1L1585.1,440.0L1584.0,436.5L1581.3,435.9L1579.1,434.8L1579.4,431.5L1582.4,428.1L1585.1,427.7L1587.9,428.1L1590.5,427.4L1594.3,426.8L1598.1,427.3L1599.9,423.8L1599.6,423.1L1599.3,420.6L1601.6,421.8L1604.1,420.6L1614.3,420.6L1617.0,415.6L1626.9,413.9L1637.0,413.1L1646.9,419.8L1658.9,422.3L1672.5,422.3L1682.0,418.1L1681.1,409.8L1671.2,404.0L1666.6,400.6L1657.4,394.8L1649.0,389.0L1644.4,385.7L1647.9,379.1L1651.6,374.1L1658.2,370.8L1649.8,371.7L1640.5,375.0L1631.3,379.1L1631.9,382.4L1641.9,386.5L1635.0,389.0L1627.2,394.0L1623.7,393.2L1622.8,387.4L1615.8,385.7L1622.2,379.9L1611.3,378.3L1602.5,376.6L1598.7,382.4L1596.5,385.2L1597.4,387.4L1593.7,391.7L1592.3,393.2L1591.9,396.8L1592.5,397.1L1592.0,401.5L1588.3,404.0L1587.4,406.6L1587.0,409.8L1586.9,412.2L1589.7,414.8L1592.9,418.2L1597.1,419.8L1596.8,422.3L1591.8,421.2L1590.7,422.7L1587.1,425.2L1586.3,425.6L1584.2,426.1L1582.3,426.9L1579.2,430.2L1578.5,427.9L1577.4,425.6L1572.9,423.8L1570.3,423.1L1567.2,424.8L1563.5,424.0L1565.3,427.6L1564.2,430.7L1562.6,430.7L1559.2,428.1L1556.2,425.6L1554.8,429.5L1555.4,432.3L1556.0,434.0L1558.0,437.4L1560.3,440.7L1561.6,444.0L1565.8,447.4L1566.0,449.9L1562.4,448.3L1559.0,448.3L1561.3,451.6L1560.1,454.0L1561.1,457.7L1560.6,460.0L1560.5,460.1L1556.5,460.0L1552.8,457.5L1550.7,457.5L1550.6,456.1L1548.3,452.4L1547.3,449.9L1547.9,448.2L1548.4,445.7L1544.8,444.1L1543.0,444.2L1542.3,439.0L1539.2,436.9L1537.0,433.2L1534.3,429.1L1532.3,426.5L1534.2,423.3L1533.2,420.4L1532.3,418.1L1530.9,414.7L1528.4,412.3L1525.3,410.9L1522.7,408.9L1518.8,405.0L1515.2,402.6L1510.6,401.5L1506.3,399.3L1504.8,397.2L1501.5,395.6L1498.5,394.4L1496.0,390.5L1496.2,387.4L1495.8,388.4L1491.0,389.8L1489.7,386.7L1490.6,384.0L1487.3,384.7L1484.2,386.8L1481.5,386.5L1481.5,389.2L1482.5,393.2L1486.7,395.9L1490.4,400.6L1491.8,403.4L1495.4,407.7L1497.8,411.4L1502.4,412.7L1505.0,413.1L1508.2,414.8L1508.9,416.2L1508.5,419.0L1513.2,420.2L1515.1,420.2L1519.1,424.0L1522.7,426.6L1526.4,429.8L1525.2,432.3L1521.6,432.2L1518.3,428.3L1515.9,426.5L1515.2,429.3L1513.6,432.3L1516.2,434.8L1517.5,439.0L1516.4,441.1L1513.6,443.2L1512.1,445.9L1510.5,448.3L1508.2,445.7L1508.2,441.2L1509.9,439.0L1507.5,436.3L1507.6,435.2L1505.9,430.7L1503.0,428.0L1498.7,424.8L1495.4,423.4L1490.3,421.3L1488.2,419.8L1485.4,416.8L1482.5,415.6L1474.0,409.8L1468.9,401.5L1465.3,396.5L1459.2,394.0L1450.0,399.0L1440.1,404.8L1433.3,402.3L1426.5,401.5L1419.8,405.6L1421.3,411.4L1420.0,415.6L1414.6,419.8L1405.1,424.0L1397.5,434.8L1401.0,440.7L1394.7,449.1L1387.1,453.3L1384.3,457.5L1376.6,457.9L1369.0,458.3L1361.9,463.4L1357.7,462.5L1355.0,457.5L1348.2,454.1L1337.7,455.8L1338.8,444.1L1334.7,441.5L1337.9,430.7L1340.3,420.6L1339.4,409.8L1337.5,405.6L1345.8,399.8L1359.3,400.6L1366.6,401.0L1374.0,401.5L1387.5,402.3L1390.9,393.2L1392.3,384.0L1391.7,379.1L1385.1,371.7L1379.9,367.6L1370.8,365.9L1368.3,361.0L1376.8,357.7L1389.2,359.3L1387.9,350.4L1391.2,350.4L1392.5,353.6L1400.9,352.0L1409.3,347.1L1410.0,344.9L1409.9,340.6L1420.1,337.3L1425.1,331.7L1429.3,324.4L1434.3,322.0L1443.7,320.4L1453.0,318.8L1454.6,314.0L1452.8,303.6L1449.3,295.7L1449.7,291.8L1457.5,290.2L1463.9,286.3L1463.4,295.7L1462.6,301.3L1460.5,307.6L1462.0,311.6L1468.5,315.6L1477.7,312.4L1486.0,314.8L1489.3,316.4L1495.9,314.0L1502.6,311.6L1514.7,309.2L1518.3,312.4L1524.4,311.6L1529.8,305.2L1528.4,295.7L1530.3,287.9L1536.6,285.4L1536.8,286.3L1543.1,291.8L1546.1,291.0L1546.9,281.6L1546.1,279.0L1541.0,278.5L1538.5,275.4L1540.3,274.6L1542.1,267.8L1547.7,272.3L1552.3,274.3L1555.8,269.4L1561.4,276.9L1566.8,272.3L1575.3,270.5L1573.5,268.8L1579.3,269.2L1571.4,268.7L1568.0,263.8L1566.8,265.1L1559.3,264.6L1557.2,265.2L1554.3,265.8L1547.9,266.9L1537.9,266.2L1538.7,266.6L1536.4,269.2L1531.6,264.1L1526.8,264.6L1525.8,265.9L1524.2,258.4L1524.4,256.9L1523.4,254.9L1528.8,251.4L1527.3,248.0L1523.7,245.5L1521.9,244.7L1527.6,239.9L1531.0,238.0L1532.3,238.1L1534.6,233.9L1540.9,230.6L1538.8,229.7L1541.9,226.9L1544.9,225.2L1535.3,224.7L1527.8,224.6L1525.7,224.7L1528.7,226.3L1521.2,230.6L1520.8,235.5L1514.7,236.1L1519.6,238.0L1514.6,244.0L1509.0,244.0L1502.4,246.3L1497.4,251.7L1501.3,250.8L1501.0,253.0L1501.8,255.4L1500.8,260.7L1501.2,263.8L1510.8,264.3L1511.3,268.4L1509.6,266.9L1510.3,273.8L1510.9,274.6L1502.0,279.3L1499.4,281.3L1495.6,285.6L1501.2,287.9L1498.0,298.1L1488.9,299.7L1487.5,304.4L1480.1,304.4L1478.5,299.7L1476.3,295.7L1472.6,287.9L1463.8,286.0L1472.0,282.5L1467.1,280.0L1471.1,277.2L1465.5,274.6L1464.6,272.8L1462.7,270.0L1463.7,272.2L1461.3,274.6L1456.7,277.7L1455.7,277.2L1448.0,283.2L1446.3,285.7L1442.0,283.9L1439.6,278.9L1433.9,279.3L1434.6,275.1L1431.2,272.3L1433.7,266.2L1430.4,265.3L1421.8,258.9L1428.9,258.4L1432.0,254.7L1429.9,253.1L1432.0,249.9L1437.2,247.8L1443.2,248.5L1447.3,243.5L1448.4,241.8L1457.5,239.3L1456.8,239.5L1458.5,236.7L1461.0,234.3L1466.4,230.9L1467.2,228.4L1470.1,227.3L1464.7,224.9L1469.4,221.7L1467.2,220.1L1474.3,215.9L1478.7,216.9L1479.4,212.3L1477.4,208.3L1484.2,207.2L1486.3,205.0L1491.8,202.9L1491.3,202.2L1499.1,198.0L1502.7,193.2L1509.2,194.4L1515.5,195.9L1516.7,191.6L1522.1,188.5L1524.1,188.8L1533.4,189.8ZM424.6,202.2L431.0,205.1L434.8,207.9L438.7,210.8L443.2,213.3L447.8,215.9L449.5,219.2L451.3,222.5L437.9,226.9L419.2,234.3L411.5,235.8L405.3,232.1L407.0,226.9L404.3,221.0L392.9,226.9L385.2,228.4L404.7,215.2ZM2341.6,186.8L2339.4,183.1L2344.8,184.0L2351.8,188.1L2347.7,188.8ZM454.4,184.0L459.8,184.7L465.2,185.4L457.9,188.1L447.4,188.1ZM1364.1,347.1L1367.7,346.3L1372.2,346.8L1377.0,345.5L1381.1,343.7L1386.6,343.8L1390.0,342.2L1393.5,342.5L1396.0,341.2L1401.5,341.4L1406.4,338.8L1408.6,338.2L1404.7,335.7L1406.3,331.9L1409.5,330.0L1410.4,326.8L1406.0,325.4L1401.5,323.6L1400.8,320.0L1399.6,318.8L1396.4,316.9L1395.4,313.4L1392.1,310.8L1389.3,307.8L1389.7,303.6L1384.7,302.0L1381.1,299.7L1383.6,296.4L1385.2,294.3L1387.4,291.8L1386.8,288.4L1387.5,286.3L1384.7,286.7L1378.8,285.5L1375.3,287.1L1377.9,285.0L1377.2,282.0L1380.3,279.3L1377.9,279.6L1372.9,279.5L1369.5,279.3L1368.7,280.4L1363.2,285.2L1363.1,287.9L1363.4,291.1L1362.3,292.0L1364.6,295.7L1364.0,297.5L1362.6,301.3L1368.2,303.6L1368.6,305.2L1369.7,307.4L1369.7,309.2L1373.8,308.5L1377.8,308.4L1379.2,312.9L1380.8,315.6L1381.5,317.8L1379.5,320.4L1374.4,322.2L1371.2,321.2L1372.2,322.7L1373.0,325.2L1373.6,326.9L1372.3,330.1L1369.1,331.2L1366.5,333.3L1368.8,334.2L1374.4,335.8L1377.2,336.5L1380.4,338.2L1377.1,338.6L1374.2,338.2L1370.7,339.8L1366.7,342.5ZM1361.5,330.1L1360.2,327.5L1360.3,324.2L1360.5,321.2L1361.6,317.6L1363.4,313.3L1364.7,311.6L1363.3,308.9L1361.1,306.0L1357.9,304.8L1353.1,305.2L1349.7,308.7L1346.6,310.8L1341.2,312.2L1337.0,314.0L1338.3,316.8L1337.9,320.4L1340.9,322.8L1339.2,325.6L1337.4,329.3L1333.9,333.3L1338.9,335.7L1341.8,334.7L1346.7,333.3L1348.6,333.3L1354.1,332.4L1357.4,331.7ZM1262.9,226.9L1270.7,225.4L1265.2,223.4L1274.3,220.3L1280.1,227.1L1284.7,224.7L1285.4,220.8L1296.3,221.7L1301.9,220.9L1300.0,216.6L1310.6,219.5L1319.5,218.9L1318.7,221.7L1316.0,222.7L1326.4,227.2L1322.9,229.1L1319.6,232.2L1320.5,233.9L1315.3,235.8L1309.7,240.1L1300.8,236.0L1302.3,239.5L1303.0,238.9L1290.4,242.5L1290.5,242.0L1279.4,239.5L1274.9,238.1L1269.8,238.8L1272.5,233.0L1274.4,235.0L1263.9,234.3L1263.8,231.3L1268.4,231.2L1275.6,228.4L1274.4,232.1L1272.5,225.2ZM1450.7,131.0L1459.3,128.4L1464.3,129.3L1484.1,129.0L1478.2,129.3L1490.6,129.6L1494.9,131.0L1495.6,133.8L1486.6,134.9L1487.3,138.1L1492.3,137.8L1502.0,140.0L1500.9,142.9L1491.3,144.9L1489.0,147.2L1482.7,150.0L1477.0,146.5L1472.2,146.2L1468.7,143.2L1464.1,141.2L1449.0,137.9L1451.5,136.3L1444.6,134.9L1459.3,130.6ZM1482.5,128.1L1490.3,128.6L1500.5,126.5L1515.2,127.9L1524.2,128.7L1520.9,132.4L1511.9,133.3L1508.0,131.1L1493.0,132.7L1480.9,131.2ZM1499.7,140.0L1504.0,139.5L1514.3,141.2L1504.1,143.0L1510.8,145.5L1500.8,144.3L1499.9,143.0ZM1669.4,182.6L1676.9,187.2L1673.0,187.7L1680.3,188.8L1688.6,189.6L1688.7,188.9L1696.9,190.2L1699.4,189.6L1703.4,187.4L1697.7,184.5L1704.0,184.2L1689.2,180.6L1689.9,177.6L1686.0,172.4L1686.9,171.7L1691.8,168.6L1690.7,168.7L1693.5,165.7L1698.8,163.5L1698.1,159.8L1703.9,158.4L1706.8,157.0L1720.9,154.0L1723.8,151.9L1733.7,150.9L1735.4,148.1L1732.0,148.5L1720.2,147.4L1718.7,147.7L1707.2,148.3L1699.2,151.9L1696.5,154.5L1695.2,155.2L1683.5,157.8L1686.7,159.8L1685.4,163.5L1677.9,165.0L1673.9,169.6L1680.8,173.3L1675.2,173.7L1669.1,177.8L1672.5,178.5L1671.8,179.7ZM1614.7,125.9L1621.4,124.3L1636.8,124.8L1646.6,122.0L1660.1,122.8L1661.1,121.0L1673.0,121.8L1680.6,122.6L1681.1,124.4L1675.2,127.0L1666.7,126.6L1658.1,127.1L1648.9,128.7L1638.4,128.7L1625.8,128.7L1625.3,126.0ZM1846.3,135.1L1852.9,132.4L1850.0,130.9L1852.7,129.3L1852.8,122.6L1846.7,123.2L1840.6,123.7L1835.0,125.2L1829.3,126.6L1823.5,128.1L1834.8,131.6ZM1857.2,136.3L1866.5,136.5L1864.2,132.4L1876.0,132.7L1889.1,136.9L1894.9,136.3L1893.2,138.4L1892.0,141.2L1875.9,138.9L1872.8,141.2L1868.4,137.8ZM2083.9,159.1L2086.4,156.5L2093.0,154.5L2094.4,153.2L2102.3,153.9L2114.6,154.9L2124.5,156.5L2129.7,157.1L2141.3,158.3L2150.0,159.7L2147.9,161.9L2141.0,160.6L2134.2,162.4L2123.3,161.9L2117.9,161.8L2112.0,161.1L2108.3,161.4L2100.0,163.0L2097.7,160.8ZM2116.9,171.0L2120.1,169.8L2129.3,169.0L2122.8,168.8L2134.3,172.4L2129.3,171.8L2124.0,172.4ZM1660.0,199.4L1667.8,198.7L1668.0,202.9L1662.6,202.9ZM2287.1,313.2L2294.1,317.1L2299.2,319.6L2302.9,323.3L2304.6,325.2L2305.8,327.0L2311.7,331.7L2312.4,334.0L2317.2,339.3L2319.9,341.2L2321.8,344.6L2324.5,347.9L2339.3,356.1L2338.8,368.4L2349.1,378.3L2340.9,380.7L2332.2,368.4L2323.1,356.1L2310.2,339.8L2306.2,336.1L2303.7,333.2L2303.8,331.3L2298.1,327.5L2295.2,323.6L2292.7,321.4L2289.4,316.5ZM2354.3,418.1L2357.1,409.8L2371.4,413.9L2375.6,408.5L2379.7,403.1L2372.0,394.8L2364.7,394.8L2357.3,394.8L2343.1,385.7L2351.7,401.5L2345.3,404.0L2346.7,411.4ZM2321.6,481.1L2326.0,473.5L2334.2,468.4L2347.9,467.6L2351.4,457.5L2352.6,451.6L2361.8,453.3L2363.4,443.2L2359.8,430.7L2355.8,420.6L2362.8,419.8L2367.6,426.5L2375.9,434.8L2374.7,444.9L2380.4,455.8L2381.9,464.2L2384.9,467.6L2381.0,471.0L2380.4,472.6L2376.9,468.4L2374.5,475.2L2370.7,476.0L2361.9,475.2L2362.0,478.5L2359.4,485.3L2352.6,482.7L2348.2,476.0L2338.4,477.7L2330.7,481.1L2322.6,481.9ZM2315.6,487.0L2318.2,486.6L2320.2,483.0L2321.9,481.9L2329.0,485.3L2333.2,493.7L2333.3,503.0L2330.3,506.3L2325.8,503.8L2322.6,493.7L2318.4,492.0ZM2334.3,484.4L2342.3,478.5L2348.3,481.1L2347.4,487.0L2340.7,491.2L2336.4,489.5ZM2275.6,556.0L2282.3,556.9L2281.9,572.1L2279.5,582.2L2273.5,573.7L2272.5,565.3ZM2195.2,605.7L2203.6,599.0L2211.4,601.5L2209.1,610.0L2202.4,614.2L2196.1,611.6ZM1990.9,685.8L1994.7,687.5L2002.5,695.9L2006.7,706.0L2004.8,713.6L1997.6,717.4L1993.8,715.3L1991.8,704.3L1992.2,695.9ZM1764.1,869.4L1767.5,882.9L1770.8,896.4L1765.7,906.5L1762.7,917.5L1759.2,926.7L1755.6,936.0L1751.4,947.8L1747.3,959.6L1743.6,968.8L1739.9,978.1L1728.6,983.2L1718.2,978.1L1715.1,961.3L1715.1,951.2L1724.1,936.0L1723.8,919.1L1723.1,906.5L1734.4,901.4L1745.7,896.4L1753.8,883.8L1760.2,872.8ZM1486.2,447.4L1489.7,447.4L1493.0,445.7L1495.8,444.1L1501.8,445.3L1503.0,444.7L1507.5,445.7L1506.9,447.7L1505.6,452.1L1505.3,455.8L1502.8,456.4L1500.6,458.3L1496.4,455.7L1493.2,455.3L1490.4,452.5L1486.3,450.8ZM1455.6,423.1L1463.0,420.6L1466.6,426.5L1465.7,437.4L1460.3,439.9L1457.4,434.8ZM1457.8,410.6L1463.0,405.6L1464.1,413.9L1462.2,419.0L1458.7,416.4ZM1564.1,467.6L1565.8,468.2L1571.2,468.6L1574.7,469.3L1579.6,470.4L1581.0,471.8L1584.0,471.0L1575.0,473.1L1565.0,471.0ZM1626.2,472.6L1630.7,469.3L1641.6,466.8L1638.1,472.6L1631.5,476.0ZM1416.1,434.0L1421.6,431.1L1423.0,434.8L1419.6,436.5ZM1467.8,305.2L1469.3,301.3L1474.7,298.9L1477.5,302.9L1474.2,307.6L1471.1,308.4ZM1460.3,304.4L1465.1,302.9L1466.7,306.8L1462.4,307.6ZM1510.1,291.0L1513.5,284.7L1515.4,285.5L1512.6,291.8ZM1531.2,281.6L1535.1,279.3L1539.4,280.0L1535.7,283.2ZM1793.4,661.4L1802.3,661.4L1798.7,663.9ZM1690.8,816.4L1693.0,818.0L1692.2,821.4L1690.7,820.6ZM2107.6,720.3L2115.9,722.0L2124.1,723.7L2133.4,735.5L2145.6,746.4L2154.7,750.7L2166.0,760.8L2171.3,767.5L2177.2,775.9L2177.0,784.3L2187.9,792.8L2186.8,805.4L2185.5,816.4L2175.9,816.4L2168.8,807.9L2160.2,800.4L2150.9,788.6L2146.7,775.9L2136.2,759.1L2133.9,753.2L2124.8,744.8L2113.3,733.8L2107.8,723.7ZM2180.7,824.8L2187.0,817.2L2192.8,818.9L2205.3,823.1L2220.0,825.6L2223.9,821.4L2236.2,826.5L2249.2,832.4L2248.0,840.0L2237.8,837.4L2223.0,836.6L2208.4,832.4L2200.9,833.2L2190.0,829.8L2181.4,825.6ZM2249.0,835.7L2257.8,837.4L2253.8,841.6ZM2260.0,837.4L2265.1,838.3L2262.6,842.5L2259.0,841.6ZM2265.9,838.3L2274.9,836.6L2282.2,838.3L2281.9,841.6L2267.0,843.3ZM2288.1,838.3L2297.0,838.3L2311.3,836.6L2310.2,840.8L2301.6,841.6L2293.0,842.5L2287.9,841.6ZM2281.5,847.5L2289.0,845.8L2294.4,851.7L2288.3,854.3L2281.3,850.1ZM2314.2,854.3L2322.4,845.8L2330.3,840.0L2343.0,838.3L2337.4,843.3L2325.8,849.2L2317.9,854.3ZM2214.9,750.7L2225.4,753.2L2228.2,745.6L2239.9,740.5L2246.9,728.7L2254.2,725.4L2261.0,712.7L2266.7,708.5L2273.7,713.6L2276.9,718.6L2285.3,723.7L2279.0,730.4L2274.6,733.8L2275.7,742.2L2277.4,749.0L2284.3,759.1L2276.1,760.8L2274.0,767.5L2273.1,775.9L2268.6,778.5L2266.2,786.0L2263.6,797.0L2262.0,801.2L2251.6,802.0L2251.0,797.0L2239.9,794.5L2230.9,797.0L2219.9,792.8L2218.7,781.8L2212.2,771.7L2210.7,765.0L2210.6,757.4ZM2298.4,756.5L2307.4,759.1L2318.5,759.9L2328.1,754.0L2331.1,755.7L2326.0,763.3L2314.9,763.3L2303.7,763.3L2294.1,765.0L2292.6,767.5L2293.3,774.2L2299.9,779.3L2303.7,775.1L2317.1,775.1L2317.8,775.9L2307.2,781.8L2303.5,784.3L2309.1,794.5L2314.0,801.2L2310.9,805.4L2309.8,812.1L2303.3,807.9L2302.9,801.2L2298.1,790.2L2294.9,797.0L2294.1,813.8L2287.4,813.8L2288.2,797.0L2283.2,791.1L2287.2,780.1L2291.1,769.2L2292.5,761.6ZM2374.4,774.2L2385.6,770.9L2396.7,774.2L2397.9,784.3L2399.9,791.1L2403.5,795.3L2415.0,786.0L2424.8,780.1L2437.4,784.3L2448.4,789.4L2463.0,796.1L2474.0,799.5L2483.2,807.9L2483.0,811.3L2491.5,818.0L2497.3,819.7L2491.0,824.8L2497.6,834.9L2504.2,843.3L2510.7,851.7L2516.4,854.3L2513.9,856.8L2503.1,854.3L2492.2,851.7L2489.1,846.7L2482.6,836.6L2471.9,831.5L2464.1,836.6L2459.7,843.3L2452.2,845.0L2444.8,844.2L2438.1,836.6L2426.9,837.4L2423.7,830.7L2429.4,824.8L2424.9,813.8L2410.5,806.3L2399.5,801.2L2388.4,801.2L2387.2,795.3L2381.4,791.1L2392.6,788.6L2383.0,786.0L2374.3,779.3ZM2348.9,751.5L2351.8,749.8L2351.2,757.4L2357.1,754.9L2353.6,762.4L2358.1,765.0L2352.2,767.5L2351.3,774.2L2348.4,763.3L2347.5,757.4ZM2351.5,793.6L2362.8,791.1L2372.3,795.3L2366.2,797.8L2355.1,796.1ZM2336.6,794.5L2344.8,794.5L2343.9,799.5L2337.9,798.7ZM2501.4,813.8L2514.3,809.6L2525.8,802.9L2531.7,803.7L2529.0,812.1L2519.7,818.9L2506.2,819.7ZM2521.2,789.4L2530.0,794.5L2536.9,805.4L2534.6,805.4L2526.2,794.5ZM2548.3,812.1L2554.6,818.0L2557.8,824.8L2552.8,822.3ZM2582.5,845.8L2591.2,847.5L2588.6,850.9L2582.8,850.1ZM2590.7,838.3L2595.0,846.7L2592.7,847.5L2590.4,841.6ZM2282.6,611.6L2283.8,612.4L2288.0,611.9L2291.4,610.7L2293.6,611.6L2295.9,615.0L2296.5,618.9L2297.2,620.5L2298.0,624.3L2296.8,631.1L2294.2,626.7L2294.2,632.7L2295.1,636.7L2295.8,637.6L2297.2,642.4L2297.6,645.3L2299.0,647.8L2303.3,649.6L2304.7,649.3L2310.4,648.7L2311.2,651.4L2314.5,650.4L2313.3,653.5L2315.9,656.7L2315.8,661.4L2313.6,660.4L2307.9,654.9L2307.5,653.8L2303.2,650.5L2299.2,653.5L2298.3,651.2L2294.5,650.9L2293.8,652.0L2290.2,651.2L2290.4,650.0L2288.7,645.3L2285.8,644.8L2283.7,641.1L2283.4,638.3L2283.7,629.5L2284.2,630.2L2282.4,627.1L2284.4,623.4L2283.3,620.1L2284.9,618.6L2283.9,615.5ZM2305.3,708.5L2308.7,705.0L2310.7,702.6L2310.9,699.8L2315.4,695.0L2318.9,693.5L2321.6,693.0L2323.9,688.1L2325.9,687.5L2325.1,685.8L2329.4,684.9L2334.0,689.6L2335.1,692.2L2336.3,695.9L2337.9,699.6L2336.7,702.8L2337.7,706.1L2338.7,708.5L2335.9,710.1L2335.4,714.4L2333.1,718.9L2332.0,720.3L2328.9,718.0L2328.1,717.0L2323.0,714.9L2323.6,712.5L2320.4,712.7L2319.8,711.0L2320.2,707.0L2319.8,704.3L2318.8,704.3L2314.5,706.0L2312.4,704.3L2309.3,705.5L2306.7,706.8ZM2318.2,662.2L2321.9,662.1L2324.4,660.6L2325.6,662.2L2326.3,667.3L2327.7,669.8L2329.7,673.1L2326.1,672.3L2324.6,673.1L2323.0,668.0L2320.7,666.4ZM2320.0,672.3L2322.8,673.5L2324.5,672.3L2325.5,676.4L2327.7,681.8L2326.9,681.6L2324.0,682.4L2323.5,677.9L2321.3,675.2ZM2306.5,677.4L2309.0,675.4L2313.2,676.8L2313.8,676.5L2315.5,680.7L2313.7,682.7L2311.6,686.2L2312.8,690.0L2309.6,687.7L2308.1,687.5L2306.8,686.3L2305.6,680.7ZM2301.8,668.1L2304.7,668.5L2306.0,668.8L2309.5,670.6L2308.2,673.7L2309.2,676.4L2307.4,679.0L2302.9,677.7L2302.9,678.2L2302.6,675.3L2303.7,672.3ZM2268.9,696.7L2274.4,691.7L2284.2,676.5L2284.0,674.2L2282.3,672.3L2276.1,684.9ZM2289.1,653.8L2295.7,656.9L2295.9,655.5L2295.9,657.8L2296.9,661.6L2295.4,663.9L2293.1,663.0L2290.9,658.2L2289.9,656.5ZM2312.6,672.3L2314.8,672.2L2317.2,673.1L2315.1,677.4L2315.9,680.2L2316.6,683.2L2314.8,687.5L2315.1,684.5L2315.5,682.2L2313.6,680.3L2311.8,674.3ZM2316.6,682.4L2319.3,684.8L2321.8,682.4L2321.6,684.8L2321.4,686.6L2318.2,686.2L2317.7,686.6L2316.8,684.5ZM2454.5,857.6L2460.1,872.8L2460.0,888.0L2470.1,893.9L2469.2,906.5L2469.9,916.2L2470.4,925.9L2475.4,930.1L2484.7,937.7L2488.1,948.6L2494.8,957.1L2494.9,965.5L2498.9,969.7L2507.0,979.8L2503.6,995.0L2501.6,1008.4L2490.9,1024.4L2481.0,1038.8L2465.7,1053.1L2457.5,1062.4L2445.3,1075.0L2440.7,1083.4L2425.0,1086.7L2410.3,1094.3L2408.2,1096.8L2405.3,1090.9L2402.4,1087.6L2389.6,1094.3L2378.1,1090.1L2371.3,1083.4L2374.8,1072.5L2368.8,1067.4L2372.0,1060.7L2370.8,1055.6L2363.4,1064.0L2361.5,1060.7L2373.9,1045.5L2375.3,1042.1L2365.7,1051.4L2353.4,1061.5L2348.6,1058.1L2348.4,1045.5L2346.3,1038.8L2336.3,1037.1L2330.8,1032.9L2316.0,1034.6L2299.8,1039.6L2288.2,1042.1L2276.3,1045.5L2269.8,1053.1L2259.2,1053.1L2244.8,1053.9L2227.4,1062.4L2213.4,1062.4L2209.3,1056.5L2211.2,1049.7L2216.7,1048.0L2220.6,1037.1L2221.3,1024.4L2221.3,1010.1L2220.7,999.2L2219.6,986.5L2221.6,973.9L2226.9,957.9L2231.0,951.2L2232.9,957.1L2241.6,948.6L2252.5,941.0L2266.0,938.5L2276.9,935.1L2289.2,927.6L2295.8,919.1L2298.0,910.7L2306.4,913.2L2307.8,904.8L2315.5,902.3L2320.5,893.9L2329.1,885.4L2336.6,884.6L2344.4,892.2L2353.8,893.0L2357.0,881.2L2364.0,872.8L2375.6,868.6L2380.0,862.7L2386.9,866.9L2397.6,870.3L2410.9,870.3L2407.2,881.2L2400.4,892.2L2400.9,898.1L2411.2,902.3L2420.7,910.7L2425.6,915.8L2433.1,914.9L2439.1,902.3L2443.5,889.7L2446.2,877.0L2448.0,868.6L2452.0,860.2ZM2388.4,1110.2L2398.6,1113.5L2410.5,1111.0L2406.0,1121.1L2397.2,1131.0L2388.1,1134.4L2382.0,1133.5L2382.9,1125.2L2384.9,1116.9ZM2614.1,1057.3L2616.8,1062.4L2618.7,1070.8L2618.0,1077.5L2623.1,1075.0L2620.6,1084.2L2629.4,1086.7L2637.4,1085.1L2626.5,1096.0L2616.6,1100.2L2611.7,1106.9L2603.8,1112.7L2591.8,1117.7L2589.6,1115.2L2600.0,1106.0L2599.7,1102.7L2595.8,1098.5L2604.2,1094.3L2612.9,1083.4L2614.7,1075.0L2612.3,1064.0ZM2581.0,1108.5L2583.4,1110.4L2585.7,1111.5L2586.8,1112.7L2586.9,1115.2L2584.9,1116.2L2581.7,1119.4L2576.9,1123.1L2571.9,1125.9L2567.0,1129.4L2562.7,1132.2L2560.3,1136.0L2554.9,1138.5L2551.0,1138.1L2546.8,1140.2L2544.2,1141.2L2540.1,1145.6L2538.0,1148.5L2532.5,1151.0L2531.9,1153.4L2525.3,1155.9L2519.1,1159.2L2515.1,1159.5L2511.2,1159.2L2511.8,1156.9L2507.3,1155.9L2505.5,1154.0L2504.7,1152.6L2506.2,1150.1L2514.8,1147.0L2518.7,1143.5L2523.7,1141.6L2530.1,1137.7L2535.9,1135.4L2540.9,1132.5L2545.4,1131.0L2552.3,1127.9L2553.8,1125.8L2560.1,1123.6L2563.9,1120.9L2567.0,1116.7L2573.1,1112.7L2576.7,1110.7ZM2503.8,1161.7L2505.5,1161.6L2508.4,1161.7L2504.3,1165.0ZM2598.1,936.8L2607.2,944.4L2615.4,955.4L2611.5,956.2L2602.5,948.6ZM2701.0,914.9L2710.5,914.9L2708.3,920.8L2700.4,920.0ZM2713.1,907.3L2723.5,904.0L2718.6,909.0ZM627.0,1428.5L636.8,1429.0L646.6,1429.4L656.3,1429.8L666.0,1430.2L675.7,1430.7L684.2,1430.7L692.7,1430.7L701.3,1430.7L709.8,1430.7L718.3,1430.7L726.8,1430.7L732.7,1429.6L738.6,1428.5L744.5,1427.4L750.5,1426.3L728.9,1416.6L706.1,1405.7L696.9,1403.8L687.2,1401.7L671.3,1399.2L664.8,1396.9L653.4,1392.6L640.4,1391.9L634.4,1388.8L638.2,1388.1L646.6,1387.6L650.6,1386.5L661.8,1386.0L665.1,1384.4L667.4,1381.2L677.5,1381.2L678.5,1377.9L689.1,1376.8L691.2,1375.1L696.2,1373.3L703.3,1373.1L712.8,1372.5L718.4,1371.3L723.8,1370.9L734.8,1371.1L742.4,1369.5L747.8,1367.3L755.2,1367.1L762.6,1366.6L769.9,1367.3L774.3,1367.2L786.2,1368.8L791.9,1366.4L799.9,1366.8L808.0,1368.5L815.2,1368.0L823.3,1369.4L827.7,1369.7L839.2,1371.9L846.1,1372.6L853.2,1371.6L859.3,1369.2L865.9,1369.9L873.7,1366.3L879.8,1366.6L879.7,1364.4L878.4,1360.8L881.1,1357.9L884.9,1356.4L888.2,1354.4L897.9,1355.9L903.6,1357.2L913.2,1356.5L922.1,1358.7L929.2,1358.8L934.8,1359.9L943.2,1359.7L949.4,1360.4L955.0,1360.9L965.2,1361.5L971.9,1360.0L979.6,1361.7L987.5,1361.3L989.4,1359.3L1003.5,1357.7L1004.4,1357.9L1008.2,1354.4L1009.2,1350.8L1008.1,1348.8L1007.2,1344.8L1014.6,1342.4L1013.0,1339.9L1012.3,1337.0L1013.5,1335.3L1016.0,1331.2L1019.1,1327.1L1023.5,1323.5L1025.4,1322.7L1029.0,1320.4L1029.4,1319.7L1034.2,1315.4L1030.4,1311.8L1030.3,1306.7L1032.8,1307.8L1037.8,1304.4L1042.4,1302.8L1046.7,1299.1L1051.1,1297.0L1057.7,1295.4L1062.9,1294.0L1065.9,1291.7L1070.4,1291.9L1073.3,1295.5L1064.4,1298.5L1064.3,1300.7L1063.5,1306.0L1050.7,1305.2L1056.5,1308.1L1053.5,1309.4L1055.2,1313.1L1054.6,1315.5L1051.7,1318.3L1048.8,1322.0L1051.7,1324.6L1049.0,1327.1L1045.9,1329.9L1051.2,1334.0L1060.2,1336.5L1064.9,1340.1L1068.0,1340.6L1071.1,1343.0L1072.3,1348.6L1075.0,1349.2L1077.0,1353.1L1083.9,1355.2L1083.3,1357.9L1082.8,1359.5L1087.1,1364.2L1091.7,1366.5L1094.0,1369.5L1091.8,1371.3L1088.5,1373.0L1085.8,1375.9L1082.4,1378.2L1078.8,1381.1L1071.8,1382.5L1063.5,1383.1L1055.9,1385.5L1049.0,1387.2L1048.2,1389.8L1038.2,1390.7L1038.9,1393.6L1028.5,1395.2L1023.8,1397.1L1023.5,1399.9L1035.9,1402.8L1048.2,1405.7L1060.3,1408.5L1072.2,1411.3L1083.1,1413.1L1093.9,1414.9L1104.6,1416.7L1115.1,1418.4L1125.6,1420.1L1134.2,1419.9L1142.9,1419.7L1151.6,1419.5L1160.3,1419.3L1169.0,1419.1L1175.8,1417.9L1182.7,1416.6L1189.7,1415.3L1196.7,1414.0L1203.3,1412.6L1210.0,1411.1L1216.8,1409.7L1223.9,1405.7L1231.2,1401.7L1236.6,1400.7L1235.1,1396.9L1241.9,1393.8L1246.8,1392.0L1247.7,1388.4L1251.2,1386.1L1254.3,1383.1L1261.4,1381.1L1270.2,1379.2L1268.7,1376.8L1280.8,1373.3L1287.1,1371.1L1289.3,1367.5L1297.3,1364.6L1305.2,1363.1L1307.6,1361.1L1315.7,1359.2L1321.8,1357.9L1327.7,1355.7L1334.4,1354.4L1340.7,1349.3L1346.8,1347.6L1354.2,1347.7L1357.3,1345.6L1365.6,1346.2L1373.1,1345.5L1380.0,1344.3L1386.3,1341.3L1392.1,1339.4L1399.6,1339.2L1406.8,1339.3L1414.4,1339.2L1421.3,1339.9L1426.3,1340.6L1432.2,1339.1L1439.4,1340.5L1447.8,1339.1L1453.2,1339.2L1459.9,1338.6L1467.7,1336.8L1473.2,1338.5L1480.3,1337.0L1486.0,1337.6L1493.0,1339.3L1501.2,1339.2L1506.6,1340.6L1512.9,1340.7L1518.7,1341.7L1525.6,1342.6L1533.0,1342.0L1540.4,1340.8L1546.1,1339.5L1553.9,1338.8L1561.0,1337.0L1565.8,1335.5L1574.5,1334.0L1579.0,1330.6L1584.0,1331.4L1587.1,1333.9L1592.1,1335.8L1600.6,1336.0L1604.0,1337.0L1608.0,1335.8L1616.0,1333.5L1623.5,1331.7L1629.7,1329.0L1637.1,1327.4L1646.4,1324.9L1652.4,1323.7L1658.6,1321.7L1668.5,1319.7L1671.9,1318.1L1677.8,1315.5L1681.8,1314.9L1688.7,1314.4L1695.4,1312.8L1704.3,1311.2L1707.3,1311.8L1711.9,1313.5L1715.7,1317.7L1722.6,1319.3L1724.7,1319.9L1733.2,1321.0L1735.6,1320.9L1740.8,1322.7L1745.4,1323.4L1751.9,1323.5L1752.4,1324.9L1762.0,1325.4L1768.6,1324.8L1772.6,1324.9L1774.0,1327.3L1771.9,1330.4L1776.5,1332.1L1773.4,1335.1L1775.9,1338.4L1771.7,1342.6L1771.7,1344.1L1765.6,1347.0L1761.2,1349.0L1758.6,1352.0L1751.8,1354.4L1757.2,1356.7L1763.5,1356.5L1769.4,1353.5L1771.1,1350.2L1778.6,1346.7L1785.0,1344.1L1791.2,1341.4L1796.7,1338.5L1805.3,1337.1L1808.8,1335.3L1816.2,1333.5L1822.9,1331.4L1831.6,1327.6L1838.4,1324.9L1843.0,1324.7L1853.3,1321.2L1859.3,1320.0L1866.8,1319.0L1871.0,1317.7L1878.6,1317.7L1880.8,1317.4L1887.5,1316.9L1896.2,1316.8L1899.3,1316.9L1907.8,1314.7L1913.8,1315.5L1917.7,1313.2L1921.1,1315.4L1929.9,1313.3L1933.7,1311.9L1939.7,1312.3L1948.5,1310.6L1952.1,1310.9L1960.2,1310.3L1966.2,1310.2L1969.6,1311.9L1974.9,1312.2L1980.5,1314.2L1984.4,1314.7L1990.0,1315.6L1995.5,1314.8L2001.9,1313.2L2010.8,1313.5L2013.6,1313.3L2018.3,1314.0L2024.8,1314.3L2031.4,1313.5L2034.8,1315.3L2039.4,1315.5L2045.1,1316.4L2048.0,1315.5L2058.4,1315.8L2056.9,1319.7L2065.1,1317.7L2070.7,1316.5L2078.0,1315.2L2083.1,1315.1L2090.7,1314.6L2096.6,1314.0L2100.5,1313.7L2108.6,1313.5L2112.4,1313.1L2119.6,1312.0L2126.8,1311.8L2133.9,1311.6L2138.2,1312.0L2142.2,1313.3L2149.9,1311.2L2154.8,1311.8L2158.9,1312.4L2161.5,1313.9L2168.0,1314.6L2174.4,1314.3L2176.8,1316.9L2175.5,1318.9L2184.8,1318.7L2188.7,1320.1L2191.2,1321.5L2199.3,1321.3L2202.6,1322.0L2207.2,1322.8L2210.5,1326.8L2214.6,1327.5L2215.8,1329.9L2216.9,1331.9L2226.0,1332.1L2231.1,1331.6L2231.7,1332.4L2238.2,1333.5L2244.5,1334.4L2247.1,1336.8L2251.2,1339.0L2255.2,1340.6L2263.5,1341.2L2267.6,1342.8L2270.5,1345.0L2274.6,1345.5L2279.0,1346.2L2282.5,1348.6L2286.3,1350.8L2292.3,1351.0L2288.8,1353.3L2281.9,1357.0L2283.0,1358.5L2275.3,1361.3L2263.1,1364.2L2251.1,1367.5L2242.0,1369.4L2237.3,1371.3L2231.1,1373.3L2222.7,1375.6L2213.7,1379.5L2206.5,1381.1L2200.8,1383.4L2200.9,1385.3L2188.4,1389.6L2190.0,1390.7L2188.0,1393.3L2180.1,1395.4L2170.2,1396.8L2166.0,1399.9L2137.8,1408.5L2134.6,1414.0L2131.3,1419.1L2134.5,1421.0L2137.7,1422.8L2140.8,1424.6L2143.8,1426.3L2151.0,1426.9L2158.1,1427.4L2165.2,1428.0L2172.2,1428.5L2150.3,1435.9L2130.3,1442.1L2112.5,1446.9L2104.6,1446.9L2096.7,1446.9L2088.7,1446.9L2080.8,1446.9L2072.9,1446.9L2065.0,1446.9L2057.1,1446.9L2049.1,1446.9L2041.2,1446.9L2033.3,1446.9L2025.4,1446.9L2017.4,1446.9L2009.5,1446.9L2001.6,1446.9L1993.7,1446.9L1985.8,1446.9L1977.8,1446.9L1969.9,1446.9L1962.0,1446.9L1954.1,1446.9L1946.2,1446.9L1938.2,1446.9L1930.3,1446.9L1922.4,1446.9L1914.5,1446.9L1906.6,1446.9L1898.6,1446.9L1890.7,1446.9L1882.8,1446.9L1874.9,1446.9L1866.9,1446.9L1859.0,1446.9L1851.1,1446.9L1843.2,1446.9L1835.3,1446.9L1827.3,1446.9L1819.4,1446.9L1811.5,1446.9L1803.6,1446.9L1795.7,1446.9L1787.7,1446.9L1779.8,1446.9L1771.9,1446.9L1764.0,1446.9L1756.0,1446.9L1748.1,1446.9L1740.2,1446.9L1732.3,1446.9L1724.4,1446.9L1716.4,1446.9L1708.5,1446.9L1700.6,1446.9L1692.7,1446.9L1684.8,1446.9L1676.8,1446.9L1668.9,1446.9L1661.0,1446.9L1653.1,1446.9L1645.2,1446.9L1637.2,1446.9L1629.3,1446.9L1621.4,1446.9L1613.5,1446.9L1605.5,1446.9L1597.6,1446.9L1589.7,1446.9L1581.8,1446.9L1573.9,1446.9L1565.9,1446.9L1558.0,1446.9L1550.1,1446.9L1542.2,1446.9L1534.3,1446.9L1526.3,1446.9L1518.4,1446.9L1510.5,1446.9L1502.6,1446.9L1494.7,1446.9L1486.7,1446.9L1478.8,1446.9L1470.9,1446.9L1463.0,1446.9L1455.0,1446.9L1447.1,1446.9L1439.2,1446.9L1431.3,1446.9L1423.4,1446.9L1415.4,1446.9L1407.5,1446.9L1399.6,1446.9L1391.7,1446.9L1383.8,1446.9L1375.8,1446.9L1367.9,1446.9L1360.0,1446.9L1352.1,1446.9L1344.2,1446.9L1336.2,1446.9L1328.3,1446.9L1320.4,1446.9L1312.5,1446.9L1304.5,1446.9L1296.6,1446.9L1288.7,1446.9L1280.8,1446.9L1272.9,1446.9L1264.9,1446.9L1257.0,1446.9L1249.1,1446.9L1241.2,1446.9L1233.3,1446.9L1225.3,1446.9L1217.4,1446.9L1209.5,1446.9L1201.6,1446.9L1193.7,1446.9L1185.7,1446.9L1177.8,1446.9L1169.9,1446.9L1162.0,1446.9L1154.0,1446.9L1146.1,1446.9L1138.2,1446.9L1130.3,1446.9L1122.4,1446.9L1114.4,1446.9L1106.5,1446.9L1098.6,1446.9L1090.7,1446.9L1082.8,1446.9L1074.8,1446.9L1066.9,1446.9L1059.0,1446.9L1051.1,1446.9L1043.2,1446.9L1035.2,1446.9L1027.3,1446.9L1019.4,1446.9L1011.5,1446.9L1003.5,1446.9L995.6,1446.9L987.7,1446.9L979.8,1446.9L971.9,1446.9L963.9,1446.9L956.0,1446.9L948.1,1446.9L940.2,1446.9L932.3,1446.9L924.3,1446.9L916.4,1446.9L908.5,1446.9L900.6,1446.9L892.6,1446.9L884.7,1446.9L876.8,1446.9L868.9,1446.9L861.0,1446.9L853.0,1446.9L845.1,1446.9L837.2,1446.9L829.3,1446.9L821.4,1446.9L813.4,1446.9L805.5,1446.9L797.6,1446.9L789.7,1446.9L781.8,1446.9L773.8,1446.9L765.9,1446.9L758.0,1446.9L750.1,1446.9L742.1,1446.9L734.2,1446.9L726.3,1446.9L718.4,1446.9L710.5,1446.9L702.5,1446.9L694.6,1446.9L686.7,1446.9L668.9,1442.1L648.9,1435.9ZM1161.8,1395.7L1170.8,1395.8L1180.6,1398.3L1187.3,1398.7L1188.0,1407.4L1180.3,1407.4L1172.6,1407.4L1165.0,1407.4ZM1010.0,1333.5L1016.3,1333.2L1024.9,1335.6L1024.9,1338.5L1034.4,1343.6L1030.8,1344.7L1037.9,1348.2L1037.3,1351.0L1028.5,1352.1L1023.2,1354.2L1020.1,1356.5L1015.8,1353.9L1010.5,1349.0L1003.3,1347.6L999.8,1344.1L1005.6,1342.4L1006.3,1337.5L1008.4,1336.8ZM628.5,1399.9L635.0,1400.0L647.3,1399.9L652.7,1402.4L654.3,1403.5L659.8,1405.7L654.6,1405.9L641.3,1405.7L641.0,1403.2L634.2,1401.5ZM2203.5,1388.8L2208.9,1389.9L2215.4,1390.1L2205.3,1392.6L2195.7,1392.6L2199.6,1390.7ZM2561.4,826.5L2568.6,829.0L2575.8,831.5L2584.9,837.4L2582.5,839.1L2571.8,834.9L2561.9,829.8ZM2565.9,834.9L2571.4,839.1L2569.6,841.6L2564.1,837.4ZM2594.1,854.3L2601.0,858.5L2597.3,858.5ZM2627.5,891.3L2631.4,893.9L2630.4,898.9L2626.7,898.9ZM2629.7,902.3L2633.5,904.8L2632.2,907.3L2629.7,905.7ZM2634.2,914.9L2636.2,915.8L2634.8,918.3L2632.8,917.5ZM2639.1,925.0L2640.1,926.7L2637.7,927.6ZM2618.6,942.7L2621.3,943.6L2619.9,946.1L2618.0,945.3ZM2490.2,784.3L2496.1,784.3L2494.6,786.0L2490.1,786.0ZM2407.9,773.4L2413.8,775.9L2411.5,778.5L2407.8,775.9ZM2396.7,813.8L2401.0,816.4L2398.9,825.6L2395.4,822.3ZM2373.4,829.0L2377.2,828.2L2375.9,834.9L2372.3,834.1ZM2122.0,755.7L2127.3,759.1L2128.1,762.4L2124.3,759.9ZM2133.3,775.9L2137.6,780.1L2138.3,782.7L2134.7,780.1ZM2182.3,781.0L2189.7,781.8L2193.1,792.8L2188.0,790.2ZM2199.9,789.4L2205.1,791.1L2202.8,794.5L2199.8,793.6ZM2083.9,653.8L2086.2,655.5L2086.0,669.8L2083.7,668.1ZM1847.0,1178.9L1856.5,1179.7L1855.6,1183.8L1846.5,1183.8ZM1161.5,1219.4L1172.7,1221.8L1176.8,1225.8L1166.7,1222.6ZM342.8,319.6L352.9,314.9L356.4,315.6L362.5,314.0L363.5,315.4L353.0,318.8L347.8,321.6L340.2,322.0ZM327.4,325.2L328.9,323.3L339.8,321.2L336.7,323.6L334.5,322.7L325.7,326.8ZM290.6,330.1L305.0,328.4L302.5,330.9L288.9,331.7ZM268.1,333.3L279.4,331.7L276.8,334.1L266.4,334.9ZM2529.4,331.7L2546.4,335.7L2548.1,337.3L2531.1,333.3ZM2489.1,323.6L2500.3,325.2L2502.0,326.8L2490.8,325.2ZM2425.4,305.2L2436.6,309.2L2438.3,310.8L2427.1,306.8ZM374.1,308.4L384.1,307.6L386.6,305.9L384.9,307.6L381.5,310.8L379.8,309.8L377.7,309.1L369.8,312.4L365.3,314.4ZM2401.8,345.5L2401.7,342.5L2402.7,341.4L2405.5,343.8L2404.5,347.1ZM2402.7,379.1L2403.0,372.5L2404.9,374.1L2405.3,380.7ZM2381.8,391.5L2388.4,384.0L2391.6,386.5L2385.5,394.0ZM2376.9,399.0L2379.6,393.2L2382.7,395.6L2379.4,400.6ZM2382.8,279.3L2384.9,277.4L2382.8,274.6L2387.3,276.9L2388.7,279.4L2387.0,280.8ZM2251.3,306.0L2256.0,306.7L2257.5,306.0L2257.2,307.1L2261.1,310.0L2258.0,311.4L2255.5,310.0L2254.4,307.9ZM2290.5,486.1L2290.4,484.4L2295.0,484.9L2295.8,487.0L2292.7,487.7L2291.2,487.8ZM2355.3,444.9L2358.1,444.9L2359.6,449.1L2357.1,448.3ZM2321.9,547.6L2324.6,541.7L2323.7,540.9L2320.7,545.9ZM1802.5,943.6L1806.8,943.6L1806.5,947.8L1802.9,946.9ZM1818.4,936.0L1822.0,936.8L1821.0,940.2L1818.1,939.4ZM1719.2,863.5L1721.4,863.5L1721.3,867.8L1719.0,867.8ZM1278.3,528.2L1284.1,526.6L1281.7,531.6L1278.2,530.8ZM1286.1,530.8L1289.0,530.8L1288.9,533.3L1286.0,533.3ZM1295.6,525.7L1300.6,524.9L1299.7,530.8L1296.1,530.8ZM1300.8,521.5L1303.6,521.5L1302.8,524.0L1300.0,524.0ZM1277.2,490.7L1281.5,490.7L1281.4,492.4L1277.1,492.4ZM1220.2,448.3L1225.7,448.3L1225.5,449.9L1220.0,449.9ZM1200.7,442.4L1206.1,443.2L1206.0,444.9L1200.5,444.1ZM1224.3,638.6L1227.3,638.6L1227.2,642.0L1224.2,642.0ZM1213.1,622.6L1216.7,622.6L1216.6,626.0L1213.0,626.0ZM1462.1,735.5L1465.8,736.3L1464.3,740.5L1462.1,738.9ZM1356.6,250.8L1361.8,250.8L1361.1,254.6L1357.5,254.6ZM1390.1,263.8L1393.7,263.8L1392.5,269.2L1390.7,268.4ZM1357.3,281.6L1362.2,280.8L1361.2,280.7L1360.2,285.5L1355.9,286.3L1356.7,282.8ZM1500.4,297.3L1503.8,289.4L1503.2,289.4L1500.2,295.7ZM1532.9,276.9L1537.6,276.2L1537.3,278.1L1533.7,278.1ZM832.6,556.9L837.1,556.0L835.3,563.6L832.5,562.8ZM838.8,540.9L844.0,544.3L843.0,545.9L837.8,542.6ZM861.9,589.7L867.1,588.9L866.2,591.0L861.8,591.0ZM945.2,629.3L949.6,629.3L947.1,633.6ZM948.6,642.8L950.8,642.8L950.6,646.2ZM1515.6,265.3L1519.8,265.3L1519.5,267.6L1516.6,267.6ZM1713.1,389.0L1723.4,376.6L1735.6,372.5L1749.9,376.6L1752.4,386.5L1744.1,393.2L1736.1,393.2L1746.7,404.0L1754.9,409.8L1758.9,418.1L1760.0,423.1L1768.0,422.3L1767.9,430.7L1764.5,437.4L1770.8,440.7L1774.9,454.1L1761.8,458.3L1746.8,452.5L1738.5,444.9L1738.6,434.8L1738.2,426.5L1729.1,415.6L1720.1,405.6L1714.9,397.3Z" fill="none" stroke="#111" stroke-width="1.0" stroke-linejoin="round"/>
<path d="M599.7,356.1L614.8,356.1L629.8,356.1L644.9,356.1L660.0,356.1L675.0,356.1L690.1,356.1L705.2,356.1L720.2,356.1L735.3,356.1L750.4,356.1L765.4,356.1L780.5,356.1L784.3,353.6L793.2,359.3L803.4,361.8L813.7,364.3L822.7,361.8L831.4,368.0L840.2,374.1L846.1,380.7L850.4,386.5L843.6,405.6L835.7,413.9L850.8,410.6L865.9,407.3L867.4,403.1L887.0,395.6L901.4,389.0L912.1,389.0L922.7,389.0L934.7,377.4L944.8,369.2L952.4,370.0L949.6,382.4L952.0,387.4M642.0,197.2L621.7,213.9L602.0,230.9L582.8,248.4L564.0,266.1L574.3,267.6L574.8,276.2L584.5,272.3L593.5,272.3L595.1,280.0L593.3,291.8L598.6,299.7L590.5,307.6M570.1,493.7L586.7,492.9L598.3,498.3L610.0,503.8L620.0,503.8L629.9,503.8L631.2,499.6L643.3,499.6L652.1,518.1L661.5,523.2L666.9,516.5L677.1,518.1L683.5,535.8L685.1,545.1L697.2,549.3M719.9,645.3L722.0,639.4L726.4,632.7L733.9,631.9L731.3,622.6L732.0,617.5L745.2,617.5L743.3,633.6L749.7,635.2M743.3,633.6L741.2,645.3L734.8,651.2M741.2,645.3L746.9,647.9L751.4,654.6M751.9,658.0L759.9,651.2L767.4,649.6L776.8,643.7L785.9,641.1M765.4,674.0L772.7,674.8L780.1,675.7M784.6,686.6L784.6,699.3M825.3,701.8L826.8,700.9M871.6,668.1L863.0,674.8L858.5,690.0L862.6,696.7L865.2,706.8L878.5,708.5L883.4,716.1L898.3,715.3L895.6,731.3L899.1,742.2L901.1,757.4L904.8,760.8M954.6,696.7L944.6,706.8L944.3,717.0L948.6,723.7L946.2,729.6L932.7,733.8L920.1,733.8L923.6,746.4L928.0,749.0L923.5,753.2L912.2,760.8L904.8,760.8L901.1,757.4L890.7,755.3L880.3,753.2L880.2,762.4L878.7,769.2L883.2,777.6L881.2,790.2L879.2,802.9M948.6,723.7L955.1,729.6L953.3,744.8L960.6,756.5L964.4,754.9L973.3,750.7L979.3,751.5L983.8,748.1L994.2,748.1L1007.6,748.1L1016.0,733.8M976.2,717.0L973.8,723.7L968.4,733.8L973.3,750.7M997.7,719.5L994.6,727.1L996.4,748.1M811.8,754.9L820.7,760.8L837.7,767.5L840.0,775.1L852.8,786.0L866.0,794.5L879.2,802.9L868.9,806.3L858.6,809.6L851.8,829.0L860.1,847.5L877.1,847.5L877.1,860.2L885.2,860.2L891.9,872.8L890.9,889.7L887.8,896.4L892.4,906.5L889.5,914.9L884.3,921.7M802.5,796.1L802.7,804.6L811.0,809.6L816.7,798.7L830.6,788.6L840.0,775.1M885.2,860.2L891.1,860.2L907.0,850.9L915.8,850.9L916.6,866.1L929.2,872.8L941.8,879.5L954.6,882.9L956.8,904.0L970.9,904.8L971.5,913.2L976.4,919.1L975.5,934.3L967.8,930.1L957.7,931.4L947.6,932.6L946.0,943.6L944.5,954.5L931.9,959.6L924.8,953.7L912.3,959.6L903.7,946.9L898.5,931.8L889.5,914.9M975.5,934.3L978.7,953.7L993.4,955.4L996.9,969.7L1005.6,969.7L1004.8,983.2L1012.1,996.6L998.9,1005.9L988.4,1021.9L1000.6,1027.0L1021.6,1047.2L1023.0,1051.4M944.5,954.5L964.2,969.7L982.0,979.8L977.5,996.6L994.9,997.5L1004.8,983.2M988.4,1021.9L987.3,1041.3L988.3,1053.9M912.3,959.6L903.8,973.9L905.1,989.1L898.7,1007.6L899.0,1028.7L905.0,1047.2L906.0,1059.0L907.1,1070.8L907.6,1082.5L908.4,1094.3L909.7,1112.7L914.1,1125.2L918.6,1137.7L927.1,1158.4L928.1,1178.9L934.7,1195.2L954.1,1203.3L965.2,1205.7M965.3,1209.0L973.0,1226.6M1306.1,534.1L1321.6,534.1L1337.0,534.1L1337.2,525.7L1352.4,518.1L1367.5,510.6L1385.4,496.2L1384.8,484.0L1384.2,471.8M1337.0,537.5L1350.9,547.2L1364.8,556.9L1379.3,567.8L1393.8,578.8L1408.4,589.7L1423.8,607.4L1430.3,605.7L1430.8,617.1L1431.2,628.5L1425.4,637.8L1407.0,642.0L1401.1,642.0L1394.4,641.1L1384.8,647.9L1376.0,652.1L1367.8,660.5L1358.9,671.5L1358.9,679.9M1275.6,588.1L1290.2,588.1L1304.8,588.1L1305.1,573.7L1312.4,570.4L1312.7,559.4L1312.9,548.5L1324.8,548.5L1336.7,548.5L1337.0,537.5M1278.2,631.9L1294.5,627.7L1309.7,642.8L1314.9,636.1L1329.7,636.4L1344.4,636.6L1359.1,636.9L1360.6,630.2L1358.6,611.9L1356.5,593.5L1354.5,575.2L1352.5,556.9L1364.8,556.9M1276.2,663.0L1288.8,660.5L1298.4,660.5L1315.3,663.0L1309.7,642.8M1275.6,652.9L1288.9,651.2L1297.7,654.6L1288.9,655.5L1275.5,657.1M1288.6,674.8L1298.3,668.9L1298.4,660.5M1301.0,691.7L1307.0,684.1L1318.1,683.3L1323.2,695.9L1314.2,709.4M1323.2,695.9L1329.8,705.2L1336.5,703.5L1340.2,717.0L1343.8,730.4M1318.1,683.3L1324.2,667.2L1333.1,663.0L1340.3,681.6L1338.4,692.5L1336.5,703.5M1340.3,681.6L1358.9,679.9L1368.9,683.7L1378.9,687.5L1379.2,706.0L1379.5,724.5M1378.9,687.5L1378.9,674.8L1388.5,674.4L1398.1,674.0L1406.3,674.8L1405.5,686.2L1404.8,697.6L1408.5,716.1M1406.3,674.8L1417.3,666.4L1426.2,668.9L1422.9,684.9L1419.6,700.9L1419.7,713.6M1426.2,668.9L1429.9,653.8L1440.6,655.9L1451.3,658.0L1462.4,656.7L1473.4,655.5L1486.3,654.2L1499.2,652.9L1503.1,662.2L1507.6,670.6L1501.0,674.8L1492.3,695.9L1481.3,712.7L1466.5,717.8L1462.8,727.9M1430.3,605.7L1442.0,603.2L1457.0,592.0L1471.9,580.8L1486.8,569.5L1502.9,577.1L1508.7,573.7L1515.8,569.5L1530.6,577.9L1545.4,586.4L1560.3,594.8L1575.2,603.2L1575.7,619.2L1576.2,635.2L1568.2,636.9L1565.2,648.7L1562.1,660.5L1569.1,674.8L1566.1,675.7M1486.8,569.5L1477.5,558.2L1468.2,546.8L1469.3,529.9L1470.3,513.1L1463.5,497.9L1458.2,487.8L1452.4,481.1L1456.8,460.0L1459.5,456.7M1470.3,513.1L1475.6,500.4L1480.8,487.8M1577.2,500.4L1578.6,520.9L1579.8,541.3L1580.8,561.7L1581.7,582.2L1599.0,582.2L1616.4,582.2L1633.7,582.2L1651.0,582.2L1668.4,582.2M1581.7,582.2L1582.3,599.0L1575.0,599.0L1575.2,603.2M1502.9,577.1L1512.7,590.6L1513.1,608.3L1513.5,626.0L1499.1,645.3L1499.2,652.9M1507.6,670.6L1510.7,683.3L1503.3,684.9L1514.6,704.3L1507.3,717.0L1508.1,725.4L1513.4,737.2L1518.6,749.0L1508.6,749.0L1498.5,749.0L1483.7,749.0L1483.7,759.1L1472.5,759.1M1514.6,704.3L1525.7,702.2L1536.8,700.1L1540.5,691.7L1553.3,683.7L1566.1,675.7L1575.3,694.2L1579.1,697.6L1586.6,704.3L1603.2,724.5L1589.1,723.7L1578.0,728.3L1566.9,733.0L1555.7,728.7L1544.5,724.5L1537.9,731.3L1537.9,738.0L1534.6,752.8L1531.3,767.5L1518.6,781.8L1520.1,792.8L1508.9,807.9L1496.2,806.3L1488.8,809.6M1483.7,749.0L1498.5,749.0L1503.0,760.3L1507.5,771.7L1506.7,784.3L1492.6,786.9L1482.1,800.4M1575.3,694.2L1581.1,684.9L1596.0,687.5L1607.1,689.2L1621.8,680.7L1638.5,668.9L1645.4,677.4L1651.6,687.5L1644.5,701.8L1655.5,715.3L1666.4,728.7L1652.4,732.1L1641.2,734.2L1630.1,736.3L1628.6,738.0L1615.9,731.3L1603.2,724.5M1645.0,664.7L1651.9,670.6L1658.3,663.9L1666.3,660.5L1668.8,647.0L1670.9,628.5L1682.7,615.9M1668.8,647.0L1676.8,645.3L1687.1,644.5L1700.5,647.9L1712.9,662.2L1718.0,660.5M1712.9,662.2L1709.0,674.8L1717.8,674.8L1719.9,670.6M1717.8,674.8L1717.1,675.7L1722.0,688.3L1735.1,694.2L1748.3,700.1L1755.7,700.1L1744.9,712.7L1734.0,725.4L1722.9,728.7L1711.8,732.1L1704.4,734.6L1704.6,754.4L1704.7,774.2L1708.3,781.8M1761.4,673.1L1762.0,687.5L1755.7,700.1M1666.4,728.7L1667.2,730.4L1682.9,737.2L1693.3,738.9L1704.4,734.6M1652.4,732.1L1660.0,753.2L1652.6,767.5L1652.6,775.9L1665.9,784.3L1679.2,792.8L1679.9,797.0L1691.0,807.1M1630.1,736.3L1632.4,749.0L1620.6,760.8L1619.8,779.3L1626.5,776.8L1628.8,775.9L1640.7,775.9L1652.6,775.9M1619.8,779.3L1615.3,790.2L1616.6,805.4L1620.1,823.1L1627.3,836.6L1643.4,846.7L1653.7,849.2L1655.5,865.2L1666.2,865.6L1677.0,866.1L1687.8,861.0L1698.7,856.0M1627.3,836.6L1613.9,839.1L1610.1,845.8L1610.6,857.2L1611.1,868.6L1619.9,870.3L1619.6,880.4L1613.7,880.4L1600.8,866.9L1586.8,861.9L1577.2,859.3L1576.9,877.0L1562.1,877.0L1561.8,890.5L1561.4,904.0L1571.3,915.8L1585.2,917.5L1597.6,918.3L1612.2,901.4L1623.3,899.8L1623.6,893.9L1633.3,889.7L1643.0,885.4L1640.9,882.1L1645.7,872.0L1645.7,860.2L1645.6,848.4M1490.2,816.4L1496.2,817.2L1509.5,817.2L1522.9,817.2L1530.2,835.7L1542.8,834.9L1561.4,829.0L1561.9,845.4L1562.4,861.9L1577.2,859.3M1486.2,913.2L1502.4,914.1L1518.5,914.1L1534.7,914.1L1544.1,916.6L1553.6,919.1L1571.3,915.8M1553.6,919.1L1553.1,936.0L1552.6,952.8L1545.3,952.8L1544.9,964.6L1544.5,976.4L1543.9,991.6L1543.2,1006.8L1530.6,1007.6L1518.0,1008.4M1544.5,976.4L1558.4,989.1L1568.6,987.0L1578.8,984.9L1593.9,972.2L1603.8,963.4L1613.7,954.5L1603.7,948.6L1591.4,927.6L1585.2,917.5M1613.7,954.5L1627.4,956.2L1636.6,946.9L1640.9,934.3L1641.1,922.5L1641.3,910.7L1623.3,899.8M1627.4,956.2L1631.6,973.9L1630.3,993.3L1636.7,994.1M1653.7,849.2L1654.0,865.2L1654.3,881.2L1663.5,890.5L1658.9,910.7L1655.7,899.8L1652.5,888.8L1643.0,885.4M1607.5,1011.0L1600.4,1010.1L1592.7,1016.9L1597.1,1025.3L1602.4,1021.9L1609.2,1016.9M1623.7,984.9L1630.1,985.7L1631.0,993.3L1622.3,995.0L1623.7,984.9M1649.3,519.0L1643.7,504.7M1649.3,519.0L1657.4,521.5L1667.5,514.8L1662.6,502.1L1676.2,496.2L1673.5,486.1L1664.0,489.1L1654.4,492.0L1651.0,487.0L1657.2,479.4L1652.6,476.0M1676.2,496.2L1686.4,498.8L1698.6,505.5L1709.2,513.5L1719.7,521.5L1732.7,522.3L1740.4,514.8L1742.5,514.8M1740.4,514.8L1739.3,506.3L1724.8,489.5L1719.4,481.1L1723.4,471.0L1716.8,464.2L1711.0,454.1L1694.4,455.0L1686.8,460.0L1680.3,473.1L1673.5,486.1M1651.9,459.2L1655.1,457.5L1664.2,457.5L1679.3,456.2L1694.4,455.0M1711.0,454.1L1705.7,447.4L1702.3,435.7L1707.3,433.2L1720.3,439.9L1729.3,433.2L1737.6,444.1M1707.3,433.2L1699.2,429.8L1696.2,421.5L1682.0,418.1M1696.2,421.5L1706.3,420.6L1716.7,421.5L1715.5,415.6L1729.1,415.6M1715.5,415.6L1697.2,408.9L1683.0,405.6L1668.9,402.3M1774.0,453.3L1787.4,447.4L1795.3,445.7L1811.2,451.6L1826.1,459.2L1827.4,468.4L1825.7,481.1L1831.8,502.1L1839.7,506.3L1835.0,516.5L1850.6,529.1L1854.8,538.4L1845.4,555.2M1835.0,516.5L1846.9,519.8L1860.2,517.7L1873.4,515.6L1871.7,506.3L1881.7,502.5L1891.5,498.8L1889.6,489.5L1896.1,487.0L1898.7,476.9L1899.1,464.2L1913.2,456.7L1920.2,454.1M1827.9,467.6L1839.9,465.1L1849.7,461.7L1861.6,453.3L1872.6,455.8L1881.5,455.0L1897.6,458.3L1894.7,447.4L1907.4,450.8L1920.2,454.1M1894.9,568.7L1904.6,565.3L1914.4,561.9L1909.0,548.9L1903.4,535.8L1917.1,531.6L1923.7,519.0L1930.1,506.3L1922.8,489.5L1921.7,471.8L1920.2,454.1L1932.2,461.3L1944.3,468.4L1954.7,478.5L1959.2,493.7L1959.6,504.7L1977.9,513.1L1974.0,524.9L1986.7,531.2L1999.4,537.5L2017.4,541.3L2035.4,545.1L2032.9,532.5L2037.8,531.6L2041.5,542.6L2052.2,542.1L2062.9,541.7L2061.9,533.3L2071.0,527.4L2080.0,521.5L2098.5,529.9L2092.3,537.5L2089.2,548.5L2085.8,559.4L2076.6,565.3L2079.2,582.2L2074.8,587.2L2073.3,592.3M1977.9,513.1L1986.7,513.9L2003.2,524.0L2017.7,531.6L2032.9,532.5M2037.8,531.6L2043.2,529.9L2059.0,533.3L2061.9,533.3M2035.4,545.1L2040.4,561.1L2043.7,563.6L2047.9,582.2M2073.3,592.3L2071.4,573.7L2061.9,568.7L2067.9,556.9L2049.4,554.4L2042.1,545.9M2098.5,529.9L2109.7,535.0L2113.0,550.1L2107.8,565.3L2118.4,572.1L2123.2,574.6L2122.0,581.3L2137.8,588.9L2139.7,577.9L2143.5,578.8L2156.4,577.9L2164.7,571.2L2175.5,574.6L2176.8,582.2L2187.0,586.4M2137.8,588.9L2130.9,596.5L2135.6,603.2L2139.9,603.2L2140.9,620.1L2148.2,614.2L2162.0,613.3L2168.9,620.9L2170.1,629.3L2176.8,635.2L2175.4,647.0L2158.5,647.9L2154.6,652.9L2160.7,668.9M2130.9,596.5L2123.1,598.2L2116.3,611.6L2116.4,617.5L2125.0,632.7L2123.1,641.1L2132.1,656.3L2135.7,670.6L2130.6,681.6M2175.4,647.0L2191.9,643.7L2194.2,663.9L2182.2,669.8L2185.7,676.5L2173.4,679.9M2143.5,578.8L2152.2,597.3L2164.9,599.0L2170.1,609.1L2190.9,630.2L2191.9,643.7M2143.0,713.6L2150.7,720.3L2155.8,718.6L2157.9,715.3M2283.9,410.6L2278.7,406.4L2284.8,406.4L2275.8,389.8L2286.6,389.0L2283.4,375.4L2279.7,361.8L2268.3,364.3L2256.9,366.7L2250.1,357.7L2237.2,353.6L2224.2,349.5L2210.3,337.3L2196.0,325.2L2176.5,319.6L2168.9,320.4L2161.4,321.2L2159.8,327.6L2168.4,332.5L2168.7,348.7L2163.1,352.0L2154.4,349.5L2154.1,362.6L2160.5,366.7L2169.6,366.7L2175.9,365.1L2190.4,375.0L2180.8,376.6L2171.1,378.3L2165.6,383.6L2159.9,389.0L2145.9,389.0L2151.7,399.8L2145.8,408.1L2136.7,409.4L2127.5,410.6L2113.7,417.3L2097.8,413.1L2082.0,408.9L2066.6,408.5L2051.2,408.1L2038.9,395.6L2022.0,391.5L2005.1,387.4L1998.9,373.3L1984.3,363.9L1969.8,354.4L1967.0,355.3M2154.4,349.5L2144.6,347.9L2134.9,346.3L2126.1,350.4L2117.2,354.4L2107.1,351.6L2097.0,348.7L2082.8,345.5L2070.1,344.2L2057.5,343.0L2054.2,337.3L2041.4,334.1L2028.6,330.9L2026.8,339.8L2032.2,343.8L2029.4,350.4L2016.8,347.4L2004.2,344.4L1991.7,341.4L1985.3,345.1L1978.7,348.7L1969.8,354.4M1967.0,355.3L1961.6,372.5L1945.7,370.8L1946.8,384.9L1934.5,389.0L1944.5,404.8L1943.8,413.9L1934.1,418.1L1924.3,422.3L1912.0,426.5L1905.6,434.8L1909.2,442.4L1920.2,454.1M1967.0,355.3L1961.0,349.5L1951.4,351.2L1934.4,339.8L1924.2,340.6L1914.0,341.4L1889.8,321.2L1878.1,314.0L1869.8,316.8L1861.3,319.6L1845.3,314.8L1826.9,304.4L1817.1,308.8L1807.1,313.2L1795.3,314.8L1783.4,316.4L1785.4,326.8L1794.4,337.3L1784.3,341.4L1775.7,339.0L1766.8,341.0L1757.8,343.0L1745.5,338.6L1733.2,334.1L1723.7,334.1L1712.8,343.0L1712.6,349.5L1704.2,356.9L1709.8,366.7L1715.7,366.7L1724.3,377.4M1943.8,413.9L1933.3,407.3L1919.6,406.9L1906.0,406.4L1895.6,405.6L1880.6,411.4L1878.0,413.9L1870.1,419.0L1854.2,420.6L1848.6,406.4L1845.0,405.6L1830.9,403.5L1816.8,401.5L1802.8,392.7L1789.0,384.0L1781.1,386.5L1773.1,389.0L1777.2,404.4L1781.1,419.8L1770.8,413.9M1781.1,419.8L1787.9,419.8L1798.3,419.4L1808.8,419.0L1824.8,430.7L1840.9,439.9L1861.6,453.3M1878.0,413.9L1885.8,421.5L1898.2,424.0L1891.1,429.8L1883.3,429.0L1879.9,422.3L1870.1,419.0M1905.6,434.8L1896.8,435.3L1888.0,435.7L1879.4,429.8L1876.1,434.8L1863.7,437.4L1872.8,445.7L1872.6,455.8M1339.2,414.8L1344.0,413.1L1354.8,414.8L1357.4,417.3L1352.5,422.3L1351.5,433.2L1348.1,434.0L1351.2,445.7L1347.5,451.6L1348.2,454.1M1387.5,402.3L1394.9,406.4L1404.3,407.3L1411.8,410.6L1421.3,410.6M1450.0,399.0L1446.5,395.6L1446.0,381.6L1444.7,380.7L1440.0,379.1L1439.9,375.8L1445.6,368.4L1449.5,367.6L1452.9,356.1L1441.1,352.0L1437.2,352.0L1430.6,347.9L1426.7,348.7L1418.9,341.4L1415.6,339.0M1449.5,367.6L1456.0,365.9L1462.6,368.4L1462.1,371.7L1468.8,373.3L1468.3,375.8L1461.1,377.4L1455.9,379.1L1452.0,381.6L1446.0,381.6M1462.6,368.4L1467.9,367.6L1476.4,368.0L1485.0,368.4L1483.3,362.6L1489.5,357.7L1477.6,345.5L1491.3,339.8L1494.6,340.6L1493.1,330.9L1488.8,325.2L1488.6,316.4M1468.8,373.3L1479.9,371.7L1482.1,375.0L1490.1,376.6L1489.2,382.4L1490.6,384.0M1490.1,376.6L1495.5,377.4L1505.7,373.3L1506.1,377.4L1509.3,376.6M1489.5,357.7L1497.1,356.1L1509.8,359.3L1510.8,363.4L1512.2,364.3L1505.7,373.3M1512.2,364.3L1522.8,365.9L1530.4,362.6L1543.9,361.0L1549.5,364.3L1538.6,379.1L1534.0,379.1L1524.3,381.6L1509.3,376.6M1494.6,340.6L1503.7,342.2L1508.4,344.6L1515.9,347.9L1521.4,352.0L1509.8,359.3M1521.4,352.0L1529.5,354.4L1545.8,355.3L1543.9,361.0M1545.8,355.3L1546.6,351.2L1554.1,343.8L1549.7,335.7L1550.3,330.9L1546.9,329.3L1550.9,326.0L1546.8,315.6L1542.0,312.4L1532.6,312.4L1523.3,312.4M1542.0,312.4L1540.8,308.4L1531.7,306.0L1529.8,305.2M1542.0,312.4L1546.8,315.6L1559.0,313.2L1560.1,308.4L1563.9,302.1L1553.2,297.3L1544.0,296.9L1534.7,296.5L1528.9,298.9M1563.9,302.1L1573.2,298.9L1568.3,289.4L1566.2,287.9L1552.8,283.9L1546.8,284.7M1566.2,287.9L1564.7,276.9L1566.8,272.3M1573.2,298.9L1581.9,300.9L1590.6,302.9L1591.3,309.2L1605.5,320.4L1597.1,322.8L1601.8,330.9L1610.4,332.1L1618.9,333.3L1628.9,344.6L1645.2,348.7L1659.3,351.2L1659.8,365.9L1651.1,371.7M1550.3,330.9L1550.4,335.7L1560.8,332.5L1577.1,334.9L1585.9,336.1L1594.8,337.3L1601.8,330.9M1549.5,364.3L1562.9,366.7L1573.4,361.8L1584.6,376.6L1587.1,384.9L1597.4,387.4M1573.4,361.8L1579.2,361.0L1590.8,364.3L1597.2,376.6L1598.6,377.4L1590.6,376.6L1587.1,384.9M1534.0,379.1L1543.2,390.7L1549.9,391.5L1551.7,395.6L1562.2,399.8L1571.5,398.1L1580.6,396.5L1591.8,399.8M1551.7,395.6L1550.9,407.3L1551.4,411.4L1556.3,419.8L1566.3,418.1L1577.3,419.0L1579.0,416.4L1586.2,413.9L1589.6,413.9M1579.0,416.4L1580.8,419.8L1577.3,424.8M1524.3,381.6L1526.4,389.8L1529.1,389.8L1531.1,397.3L1528.8,401.5L1524.8,409.8M1528.8,401.5L1537.3,406.4L1535.5,408.9L1531.3,414.8M1537.3,406.4L1546.6,411.4L1551.4,411.4M1535.5,408.9L1539.5,414.8L1539.2,419.8L1543.0,423.1L1541.5,429.8L1537.0,433.2M1543.0,423.1L1555.6,419.8L1556.3,419.8M1490.7,384.9L1501.3,384.9L1508.7,377.4M1504.9,387.4L1512.8,387.4L1526.4,389.8M1504.9,387.4L1510.3,397.3L1518.4,405.6L1524.8,409.8M1535.3,224.7L1531.0,217.3L1530.4,208.7L1521.8,205.1L1513.2,201.5L1510.9,200.8L1508.6,205.8L1497.6,208.7L1488.4,213.7L1486.0,221.0L1480.6,222.5L1477.4,233.5L1469.0,241.0L1470.9,255.4L1475.2,257.7L1470.0,271.5L1466.2,276.2M1510.9,200.8L1516.1,199.4L1528.3,203.6L1539.8,204.4L1539.1,196.5L1548.6,193.7L1557.2,198.0L1555.8,200.8L1565.6,197.2M1555.8,200.8L1554.1,205.1L1564.3,210.8L1560.2,216.6L1568.5,225.4L1567.9,232.1L1574.4,238.0L1571.5,240.3L1581.6,246.3L1572.9,255.0L1563.9,263.8M1354.3,306.8L1352.6,314.8L1360.2,314.8M2448.4,789.4L2447.5,807.7L2446.4,825.9L2444.8,844.2M2214.9,750.7L2221.8,759.9L2232.9,755.7L2242.6,755.7L2252.2,755.7L2258.6,743.9L2259.0,732.1L2273.8,732.1M2318.7,845.8L2326.3,843.3L2326.7,846.7M2252.1,430.7L2257.0,423.1L2261.7,415.6L2272.6,418.1L2277.8,410.6L2283.9,410.6M2274.1,449.9L2286.3,442.4M1650.1,519.8L1667.5,514.8L1670.6,510.6L1662.6,502.1M1698.6,505.5L1709.2,513.5L1719.7,521.5M1747.0,527.4L1740.0,523.2L1732.7,522.3M1781.6,625.1L1780.3,607.4L1791.0,603.2L1801.6,599.0L1805.3,582.2L1801.2,576.3L1791.6,575.4L1782.1,574.6L1773.8,562.8M1780.3,607.4L1769.5,609.1L1758.6,610.8L1749.5,616.7L1740.3,622.6L1722.6,620.9L1718.7,629.3L1714.3,629.3M1801.2,576.3L1805.9,564.5L1808.1,557.7M1805.3,582.2L1801.2,576.3M1773.8,562.8L1769.2,560.3L1767.6,558.6" fill="none" stroke="#222" stroke-opacity="0.7" stroke-width="0.6" stroke-linejoin="round"/>
<path d="M686.7,1446.9L633.1,1430.7L567.3,1405.7L497.8,1374.6L437,1340.6L382,1304.4L329.8,1266.6L281.1,1227.4L237,1187.1L199.1,1146L165.1,1104.3L136.8,1062.4L113.6,1020.2L96.2,978.1L83.9,936L73.5,893.9L66.2,851.7L61.9,809.6L60.1,767.5L61.9,725.4L66.2,683.3L73.5,641.1L83.9,599L96.2,556.9L113.6,514.8L136.8,472.6L165.1,430.7L199.1,389L237,347.9L281.1,307.6L329.8,268.4L382,230.6L437,194.4L497.8,160.4L567.3,129.3L633.1,104.3L686.7,88.1M706.5,1446.9L654.4,1430.7L590.5,1405.7L522.9,1374.6L463.7,1340.6L410.2,1304.4L359.6,1266.6L312.2,1227.4L269.3,1187.1L232.5,1146L199.4,1104.3L171.9,1062.4L149.4,1020.2L132.4,978.1L120.5,936L110.3,893.9L103.3,851.7L99.1,809.6L97.3,767.5L99.1,725.4L103.3,683.3L110.3,641.1L120.5,599L132.4,556.9L149.4,514.8L171.9,472.6L199.4,430.7L232.5,389L269.3,347.9L312.2,307.6L359.6,268.4L410.2,230.6L463.7,194.4L522.9,160.4L590.5,129.3L654.4,104.3L706.5,88.1M726.3,1446.9L675.7,1430.7L613.6,1405.7L547.9,1374.6L490.5,1340.6L438.5,1304.4L389.3,1266.6L343.2,1227.4L301.6,1187.1L265.8,1146L233.7,1104.3L207,1062.4L185.1,1020.2L168.6,978.1L157,936L147.1,893.9L140.3,851.7L136.3,809.6L134.5,767.5L136.3,725.4L140.3,683.3L147.1,641.1L157,599L168.6,556.9L185.1,514.8L207,472.6L233.7,430.7L265.8,389L301.6,347.9L343.2,307.6L389.3,268.4L438.5,230.6L490.5,194.4L547.9,160.4L613.6,129.3L675.7,104.3L726.3,88.1M746.1,1446.9L697,1430.7L636.7,1405.7L573,1374.6L517.2,1340.6L466.8,1304.4L419,1266.6L374.3,1227.4L333.9,1187.1L299.2,1146L268,1104.3L242.1,1062.4L220.8,1020.2L204.8,978.1L193.6,936L184,893.9L177.3,851.7L173.4,809.6L171.7,767.5L173.4,725.4L177.3,683.3L184,641.1L193.6,599L204.8,556.9L220.8,514.8L242.1,472.6L268,430.7L299.2,389L333.9,347.9L374.3,307.6L419,268.4L466.8,230.6L517.2,194.4L573,160.4L636.7,129.3L697,104.3L746.1,88.1M765.9,1446.9L718.3,1430.7L659.8,1405.7L598,1374.6L544,1340.6L495,1304.4L448.7,1266.6L405.4,1227.4L366.2,1187.1L332.5,1146L302.3,1104.3L277.1,1062.4L256.5,1020.2L241.1,978.1L230.1,936L220.8,893.9L214.4,851.7L210.6,809.6L208.9,767.5L210.6,725.4L214.4,683.3L220.8,641.1L230.1,599L241.1,556.9L256.5,514.8L277.1,472.6L302.3,430.7L332.5,389L366.2,347.9L405.4,307.6L448.7,268.4L495,230.6L544,194.4L598,160.4L659.8,129.3L718.3,104.3L765.9,88.1M785.7,1446.9L739.6,1430.7L682.9,1405.7L623.1,1374.6L570.7,1340.6L523.3,1304.4L478.4,1266.6L436.4,1227.4L398.5,1187.1L365.8,1146L336.5,1104.3L312.2,1062.4L292.3,1020.2L277.3,978.1L266.6,936L257.6,893.9L251.4,851.7L247.7,809.6L246.1,767.5L247.7,725.4L251.4,683.3L257.6,641.1L266.6,599L277.3,556.9L292.3,514.8L312.2,472.6L336.5,430.7L365.8,389L398.5,347.9L436.4,307.6L478.4,268.4L523.3,230.6L570.7,194.4L623.1,160.4L682.9,129.3L739.6,104.3L785.7,88.1M805.5,1446.9L760.9,1430.7L706.1,1405.7L648.1,1374.6L597.4,1340.6L551.6,1304.4L508.1,1266.6L467.5,1227.4L430.8,1187.1L399.2,1146L370.8,1104.3L347.3,1062.4L328,1020.2L313.5,978.1L303.2,936L294.5,893.9L288.5,851.7L284.9,809.6L283.3,767.5L284.9,725.4L288.5,683.3L294.5,641.1L303.2,599L313.5,556.9L328,514.8L347.3,472.6L370.8,430.7L399.2,389L430.8,347.9L467.5,307.6L508.1,268.4L551.6,230.6L597.4,194.4L648.1,160.4L706.1,129.3L760.9,104.3L805.5,88.1M825.3,1446.9L782.2,1430.7L729.2,1405.7L673.2,1374.6L624.2,1340.6L579.8,1304.4L537.9,1266.6L498.6,1227.4L463.1,1187.1L432.5,1146L405.1,1104.3L382.4,1062.4L363.7,1020.2L349.7,978.1L339.7,936L331.3,893.9L325.5,851.7L322,809.6L320.5,767.5L322,725.4L325.5,683.3L331.3,641.1L339.7,599L349.7,556.9L363.7,514.8L382.4,472.6L405.1,430.7L432.5,389L463.1,347.9L498.6,307.6L537.9,268.4L579.8,230.6L624.2,194.4L673.2,160.4L729.2,129.3L782.2,104.3L825.3,88.1M845.1,1446.9L803.4,1430.7L752.3,1405.7L698.2,1374.6L650.9,1340.6L608.1,1304.4L567.6,1266.6L529.6,1227.4L495.4,1187.1L465.9,1146L439.4,1104.3L417.4,1062.4L399.4,1020.2L385.9,978.1L376.3,936L368.2,893.9L362.5,851.7L359.2,809.6L357.7,767.5L359.2,725.4L362.5,683.3L368.2,641.1L376.3,599L385.9,556.9L399.4,514.8L417.4,472.6L439.4,430.7L465.9,389L495.4,347.9L529.6,307.6L567.6,268.4L608.1,230.6L650.9,194.4L698.2,160.4L752.3,129.3L803.4,104.3L845.1,88.1M864.9,1446.9L824.7,1430.7L775.4,1405.7L723.3,1374.6L677.7,1340.6L636.4,1304.4L597.3,1266.6L560.7,1227.4L527.7,1187.1L499.2,1146L473.7,1104.3L452.5,1062.4L435.1,1020.2L422.1,978.1L412.8,936L405,893.9L399.6,851.7L396.4,809.6L394.9,767.5L396.4,725.4L399.6,683.3L405,641.1L412.8,599L422.1,556.9L435.1,514.8L452.5,472.6L473.7,430.7L499.2,389L527.7,347.9L560.7,307.6L597.3,268.4L636.4,230.6L677.7,194.4L723.3,160.4L775.4,129.3L824.7,104.3L864.9,88.1M884.7,1446.9L846,1430.7L798.5,1405.7L748.3,1374.6L704.4,1340.6L664.6,1304.4L627,1266.6L591.8,1227.4L560,1187.1L532.6,1146L508,1104.3L487.6,1062.4L470.9,1020.2L458.3,978.1L449.4,936L441.8,893.9L436.6,851.7L433.5,809.6L432.2,767.5L433.5,725.4L436.6,683.3L441.8,641.1L449.4,599L458.3,556.9L470.9,514.8L487.6,472.6L508,430.7L532.6,389L560,347.9L591.8,307.6L627,268.4L664.6,230.6L704.4,194.4L748.3,160.4L798.5,129.3L846,104.3L884.7,88.1M904.5,1446.9L867.3,1430.7L821.6,1405.7L773.4,1374.6L731.1,1340.6L692.9,1304.4L656.7,1266.6L622.9,1227.4L592.3,1187.1L565.9,1146L542.3,1104.3L522.7,1062.4L506.6,1020.2L494.5,978.1L485.9,936L478.7,893.9L473.6,851.7L470.7,809.6L469.4,767.5L470.7,725.4L473.6,683.3L478.7,641.1L485.9,599L494.5,556.9L506.6,514.8L522.7,472.6L542.3,430.7L565.9,389L592.3,347.9L622.9,307.6L656.7,268.4L692.9,230.6L731.1,194.4L773.4,160.4L821.6,129.3L867.3,104.3L904.5,88.1M924.3,1446.9L888.6,1430.7L844.8,1405.7L798.4,1374.6L757.9,1340.6L721.2,1304.4L686.4,1266.6L653.9,1227.4L624.5,1187.1L599.3,1146L576.6,1104.3L557.7,1062.4L542.3,1020.2L530.7,978.1L522.5,936L515.5,893.9L510.7,851.7L507.8,809.6L506.6,767.5L507.8,725.4L510.7,683.3L515.5,641.1L522.5,599L530.7,556.9L542.3,514.8L557.7,472.6L576.6,430.7L599.3,389L624.5,347.9L653.9,307.6L686.4,268.4L721.2,230.6L757.9,194.4L798.4,160.4L844.8,129.3L888.6,104.3L924.3,88.1M944.1,1446.9L909.9,1430.7L867.9,1405.7L823.5,1374.6L784.6,1340.6L749.4,1304.4L716.1,1266.6L685,1227.4L656.8,1187.1L632.6,1146L610.9,1104.3L592.8,1062.4L578,1020.2L566.9,978.1L559,936L552.3,893.9L547.7,851.7L545,809.6L543.8,767.5L545,725.4L547.7,683.3L552.3,641.1L559,599L566.9,556.9L578,514.8L592.8,472.6L610.9,430.7L632.6,389L656.8,347.9L685,307.6L716.1,268.4L749.4,230.6L784.6,194.4L823.5,160.4L867.9,129.3L909.9,104.3L944.1,88.1M963.9,1446.9L931.2,1430.7L891,1405.7L848.5,1374.6L811.4,1340.6L777.7,1304.4L745.9,1266.6L716.1,1227.4L689.1,1187.1L666,1146L645.2,1104.3L627.9,1062.4L613.7,1020.2L603.1,978.1L595.6,936L589.2,893.9L584.8,851.7L582.1,809.6L581,767.5L582.1,725.4L584.8,683.3L589.2,641.1L595.6,599L603.1,556.9L613.7,514.8L627.9,472.6L645.2,430.7L666,389L689.1,347.9L716.1,307.6L745.9,268.4L777.7,230.6L811.4,194.4L848.5,160.4L891,129.3L931.2,104.3L963.9,88.1M983.7,1446.9L952.5,1430.7L914.1,1405.7L873.6,1374.6L838.1,1340.6L806,1304.4L775.6,1266.6L747.1,1227.4L721.4,1187.1L699.3,1146L679.5,1104.3L663,1062.4L649.5,1020.2L639.3,978.1L632.1,936L626,893.9L621.8,851.7L619.3,809.6L618.2,767.5L619.3,725.4L621.8,683.3L626,641.1L632.1,599L639.3,556.9L649.5,514.8L663,472.6L679.5,430.7L699.3,389L721.4,347.9L747.1,307.6L775.6,268.4L806,230.6L838.1,194.4L873.6,160.4L914.1,129.3L952.5,104.3L983.7,88.1M1003.5,1446.9L973.8,1430.7L937.2,1405.7L898.6,1374.6L864.8,1340.6L834.2,1304.4L805.3,1266.6L778.2,1227.4L753.7,1187.1L732.7,1146L713.8,1104.3L698.1,1062.4L685.2,1020.2L675.5,978.1L668.7,936L662.9,893.9L658.8,851.7L656.5,809.6L655.4,767.5L656.5,725.4L658.8,683.3L662.9,641.1L668.7,599L675.5,556.9L685.2,514.8L698.1,472.6L713.8,430.7L732.7,389L753.7,347.9L778.2,307.6L805.3,268.4L834.2,230.6L864.8,194.4L898.6,160.4L937.2,129.3L973.8,104.3L1003.5,88.1M1023.3,1446.9L995.1,1430.7L960.4,1405.7L923.7,1374.6L891.6,1340.6L862.5,1304.4L835,1266.6L809.3,1227.4L786,1187.1L766,1146L748.1,1104.3L733.1,1062.4L720.9,1020.2L711.7,978.1L705.2,936L699.7,893.9L695.9,851.7L693.6,809.6L692.6,767.5L693.6,725.4L695.9,683.3L699.7,641.1L705.2,599L711.7,556.9L720.9,514.8L733.1,472.6L748.1,430.7L766,389L786,347.9L809.3,307.6L835,268.4L862.5,230.6L891.6,194.4L923.7,160.4L960.4,129.3L995.1,104.3L1023.3,88.1M1043.2,1446.9L1016.4,1430.7L983.5,1405.7L948.7,1374.6L918.3,1340.6L890.8,1304.4L864.7,1266.6L840.3,1227.4L818.3,1187.1L799.4,1146L782.3,1104.3L768.2,1062.4L756.6,1020.2L747.9,978.1L741.8,936L736.5,893.9L732.9,851.7L730.8,809.6L729.8,767.5L730.8,725.4L732.9,683.3L736.5,641.1L741.8,599L747.9,556.9L756.6,514.8L768.2,472.6L782.3,430.7L799.4,389L818.3,347.9L840.3,307.6L864.7,268.4L890.8,230.6L918.3,194.4L948.7,160.4L983.5,129.3L1016.4,104.3L1043.2,88.1M1063,1446.9L1037.7,1430.7L1006.6,1405.7L973.8,1374.6L945,1340.6L919,1304.4L894.4,1266.6L871.4,1227.4L850.6,1187.1L832.7,1146L816.6,1104.3L803.3,1062.4L792.3,1020.2L784.1,978.1L778.3,936L773.4,893.9L770,851.7L767.9,809.6L767,767.5L767.9,725.4L770,683.3L773.4,641.1L778.3,599L784.1,556.9L792.3,514.8L803.3,472.6L816.6,430.7L832.7,389L850.6,347.9L871.4,307.6L894.4,268.4L919,230.6L945,194.4L973.8,160.4L1006.6,129.3L1037.7,104.3L1063,88.1M1082.8,1446.9L1058.9,1430.7L1029.7,1405.7L998.8,1374.6L971.8,1340.6L947.3,1304.4L924.2,1266.6L902.5,1227.4L882.9,1187.1L866,1146L850.9,1104.3L838.4,1062.4L828.1,1020.2L820.3,978.1L814.8,936L810.2,893.9L807,851.7L805.1,809.6L804.3,767.5L805.1,725.4L807,683.3L810.2,641.1L814.8,599L820.3,556.9L828.1,514.8L838.4,472.6L850.9,430.7L866,389L882.9,347.9L902.5,307.6L924.2,268.4L947.3,230.6L971.8,194.4L998.8,160.4L1029.7,129.3L1058.9,104.3L1082.8,88.1M1102.6,1446.9L1080.2,1430.7L1052.8,1405.7L1023.9,1374.6L998.5,1340.6L975.6,1304.4L953.9,1266.6L933.6,1227.4L915.2,1187.1L899.4,1146L885.2,1104.3L873.4,1062.4L863.8,1020.2L856.5,978.1L851.4,936L847,893.9L844,851.7L842.2,809.6L841.5,767.5L842.2,725.4L844,683.3L847,641.1L851.4,599L856.5,556.9L863.8,514.8L873.4,472.6L885.2,430.7L899.4,389L915.2,347.9L933.6,307.6L953.9,268.4L975.6,230.6L998.5,194.4L1023.9,160.4L1052.8,129.3L1080.2,104.3L1102.6,88.1M1122.4,1446.9L1101.5,1430.7L1075.9,1405.7L1048.9,1374.6L1025.3,1340.6L1003.8,1304.4L983.6,1266.6L964.6,1227.4L947.5,1187.1L932.7,1146L919.5,1104.3L908.5,1062.4L899.5,1020.2L892.7,978.1L887.9,936L883.9,893.9L881.1,851.7L879.4,809.6L878.7,767.5L879.4,725.4L881.1,683.3L883.9,641.1L887.9,599L892.7,556.9L899.5,514.8L908.5,472.6L919.5,430.7L932.7,389L947.5,347.9L964.6,307.6L983.6,268.4L1003.8,230.6L1025.3,194.4L1048.9,160.4L1075.9,129.3L1101.5,104.3L1122.4,88.1M1142.2,1446.9L1122.8,1430.7L1099.1,1405.7L1074,1374.6L1052,1340.6L1032.1,1304.4L1013.3,1266.6L995.7,1227.4L979.8,1187.1L966.1,1146L953.8,1104.3L943.6,1062.4L935.2,1020.2L928.9,978.1L924.5,936L920.7,893.9L918.1,851.7L916.6,809.6L915.9,767.5L916.6,725.4L918.1,683.3L920.7,641.1L924.5,599L928.9,556.9L935.2,514.8L943.6,472.6L953.8,430.7L966.1,389L979.8,347.9L995.7,307.6L1013.3,268.4L1032.1,230.6L1052,194.4L1074,160.4L1099.1,129.3L1122.8,104.3L1142.2,88.1M1162,1446.9L1144.1,1430.7L1122.2,1405.7L1099,1374.6L1078.7,1340.6L1060.4,1304.4L1043,1266.6L1026.8,1227.4L1012.1,1187.1L999.4,1146L988.1,1104.3L978.7,1062.4L970.9,1020.2L965.1,978.1L961,936L957.6,893.9L955.1,851.7L953.7,809.6L953.1,767.5L953.7,725.4L955.1,683.3L957.6,641.1L961,599L965.1,556.9L970.9,514.8L978.7,472.6L988.1,430.7L999.4,389L1012.1,347.9L1026.8,307.6L1043,268.4L1060.4,230.6L1078.7,194.4L1099,160.4L1122.2,129.3L1144.1,104.3L1162,88.1M1181.8,1446.9L1165.4,1430.7L1145.3,1405.7L1124.1,1374.6L1105.5,1340.6L1088.7,1304.4L1072.7,1266.6L1057.8,1227.4L1044.4,1187.1L1032.8,1146L1022.4,1104.3L1013.8,1062.4L1006.7,1020.2L1001.3,978.1L997.6,936L994.4,893.9L992.2,851.7L990.9,809.6L990.3,767.5L990.9,725.4L992.2,683.3L994.4,641.1L997.6,599L1001.3,556.9L1006.7,514.8L1013.8,472.6L1022.4,430.7L1032.8,389L1044.4,347.9L1057.8,307.6L1072.7,268.4L1088.7,230.6L1105.5,194.4L1124.1,160.4L1145.3,129.3L1165.4,104.3L1181.8,88.1M1201.6,1446.9L1186.7,1430.7L1168.4,1405.7L1149.1,1374.6L1132.2,1340.6L1116.9,1304.4L1102.4,1266.6L1088.9,1227.4L1076.7,1187.1L1066.1,1146L1056.7,1104.3L1048.8,1062.4L1042.4,1020.2L1037.6,978.1L1034.1,936L1031.2,893.9L1029.2,851.7L1028,809.6L1027.5,767.5L1028,725.4L1029.2,683.3L1031.2,641.1L1034.1,599L1037.6,556.9L1042.4,514.8L1048.8,472.6L1056.7,430.7L1066.1,389L1076.7,347.9L1088.9,307.6L1102.4,268.4L1116.9,230.6L1132.2,194.4L1149.1,160.4L1168.4,129.3L1186.7,104.3L1201.6,88.1M1221.4,1446.9L1208,1430.7L1191.5,1405.7L1174.2,1374.6L1159,1340.6L1145.2,1304.4L1132.2,1266.6L1120,1227.4L1109,1187.1L1099.5,1146L1091,1104.3L1083.9,1062.4L1078.1,1020.2L1073.8,978.1L1070.7,936L1068.1,893.9L1066.3,851.7L1065.2,809.6L1064.7,767.5L1065.2,725.4L1066.3,683.3L1068.1,641.1L1070.7,599L1073.8,556.9L1078.1,514.8L1083.9,472.6L1091,430.7L1099.5,389L1109,347.9L1120,307.6L1132.2,268.4L1145.2,230.6L1159,194.4L1174.2,160.4L1191.5,129.3L1208,104.3L1221.4,88.1M1241.2,1446.9L1229.3,1430.7L1214.7,1405.7L1199.2,1374.6L1185.7,1340.6L1173.5,1304.4L1161.9,1266.6L1151,1227.4L1141.2,1187.1L1132.8,1146L1125.3,1104.3L1119,1062.4L1113.8,1020.2L1110,978.1L1107.2,936L1104.9,893.9L1103.3,851.7L1102.3,809.6L1101.9,767.5L1102.3,725.4L1103.3,683.3L1104.9,641.1L1107.2,599L1110,556.9L1113.8,514.8L1119,472.6L1125.3,430.7L1132.8,389L1141.2,347.9L1151,307.6L1161.9,268.4L1173.5,230.6L1185.7,194.4L1199.2,160.4L1214.7,129.3L1229.3,104.3L1241.2,88.1M1261,1446.9L1250.6,1430.7L1237.8,1405.7L1224.3,1374.6L1212.4,1340.6L1201.7,1304.4L1191.6,1266.6L1182.1,1227.4L1173.5,1187.1L1166.2,1146L1159.6,1104.3L1154.1,1062.4L1149.6,1020.2L1146.2,978.1L1143.8,936L1141.7,893.9L1140.3,851.7L1139.5,809.6L1139.1,767.5L1139.5,725.4L1140.3,683.3L1141.7,641.1L1143.8,599L1146.2,556.9L1149.6,514.8L1154.1,472.6L1159.6,430.7L1166.2,389L1173.5,347.9L1182.1,307.6L1191.6,268.4L1201.7,230.6L1212.4,194.4L1224.3,160.4L1237.8,129.3L1250.6,104.3L1261,88.1M1280.8,1446.9L1271.9,1430.7L1260.9,1405.7L1249.3,1374.6L1239.2,1340.6L1230,1304.4L1221.3,1266.6L1213.2,1227.4L1205.8,1187.1L1199.5,1146L1193.8,1104.3L1189.1,1062.4L1185.3,1020.2L1182.4,978.1L1180.3,936L1178.6,893.9L1177.4,851.7L1176.7,809.6L1176.3,767.5L1176.7,725.4L1177.4,683.3L1178.6,641.1L1180.3,599L1182.4,556.9L1185.3,514.8L1189.1,472.6L1193.8,430.7L1199.5,389L1205.8,347.9L1213.2,307.6L1221.3,268.4L1230,230.6L1239.2,194.4L1249.3,160.4L1260.9,129.3L1271.9,104.3L1280.8,88.1M1300.6,1446.9L1293.1,1430.7L1284,1405.7L1274.4,1374.6L1265.9,1340.6L1258.3,1304.4L1251,1266.6L1244.3,1227.4L1238.1,1187.1L1232.9,1146L1228.1,1104.3L1224.2,1062.4L1221,1020.2L1218.6,978.1L1216.9,936L1215.4,893.9L1214.4,851.7L1213.8,809.6L1213.6,767.5L1213.8,725.4L1214.4,683.3L1215.4,641.1L1216.9,599L1218.6,556.9L1221,514.8L1224.2,472.6L1228.1,430.7L1232.9,389L1238.1,347.9L1244.3,307.6L1251,268.4L1258.3,230.6L1265.9,194.4L1274.4,160.4L1284,129.3L1293.1,104.3L1300.6,88.1M1320.4,1446.9L1314.4,1430.7L1307.1,1405.7L1299.4,1374.6L1292.6,1340.6L1286.5,1304.4L1280.7,1266.6L1275.3,1227.4L1270.4,1187.1L1266.2,1146L1262.4,1104.3L1259.3,1062.4L1256.7,1020.2L1254.8,978.1L1253.4,936L1252.3,893.9L1251.4,851.7L1251,809.6L1250.8,767.5L1251,725.4L1251.4,683.3L1252.3,641.1L1253.4,599L1254.8,556.9L1256.7,514.8L1259.3,472.6L1262.4,430.7L1266.2,389L1270.4,347.9L1275.3,307.6L1280.7,268.4L1286.5,230.6L1292.6,194.4L1299.4,160.4L1307.1,129.3L1314.4,104.3L1320.4,88.1M1340.2,1446.9L1335.7,1430.7L1330.2,1405.7L1324.5,1374.6L1319.4,1340.6L1314.8,1304.4L1310.5,1266.6L1306.4,1227.4L1302.7,1187.1L1299.6,1146L1296.7,1104.3L1294.4,1062.4L1292.4,1020.2L1291,978.1L1290,936L1289.1,893.9L1288.5,851.7L1288.1,809.6L1288,767.5L1288.1,725.4L1288.5,683.3L1289.1,641.1L1290,599L1291,556.9L1292.4,514.8L1294.4,472.6L1296.7,430.7L1299.6,389L1302.7,347.9L1306.4,307.6L1310.5,268.4L1314.8,230.6L1319.4,194.4L1324.5,160.4L1330.2,129.3L1335.7,104.3L1340.2,88.1M1360,1446.9L1357,1430.7L1353.4,1405.7L1349.5,1374.6L1346.1,1340.6L1343.1,1304.4L1340.2,1266.6L1337.5,1227.4L1335,1187.1L1332.9,1146L1331,1104.3L1329.4,1062.4L1328.2,1020.2L1327.2,978.1L1326.5,936L1325.9,893.9L1325.5,851.7L1325.3,809.6L1325.2,767.5L1325.3,725.4L1325.5,683.3L1325.9,641.1L1326.5,599L1327.2,556.9L1328.2,514.8L1329.4,472.6L1331,430.7L1332.9,389L1335,347.9L1337.5,307.6L1340.2,268.4L1343.1,230.6L1346.1,194.4L1349.5,160.4L1353.4,129.3L1357,104.3L1360,88.1M1379.8,1446.9L1378.3,1430.7L1376.5,1405.7L1374.6,1374.6L1372.9,1340.6L1371.3,1304.4L1369.9,1266.6L1368.5,1227.4L1367.3,1187.1L1366.3,1146L1365.3,1104.3L1364.5,1062.4L1363.9,1020.2L1363.4,978.1L1363.1,936L1362.8,893.9L1362.6,851.7L1362.4,809.6L1362.4,767.5L1362.4,725.4L1362.6,683.3L1362.8,641.1L1363.1,599L1363.4,556.9L1363.9,514.8L1364.5,472.6L1365.3,430.7L1366.3,389L1367.3,347.9L1368.5,307.6L1369.9,268.4L1371.3,230.6L1372.9,194.4L1374.6,160.4L1376.5,129.3L1378.3,104.3L1379.8,88.1M1399.6,1446.9L1399.6,1430.7L1399.6,1405.7L1399.6,1374.6L1399.6,1340.6L1399.6,1304.4L1399.6,1266.6L1399.6,1227.4L1399.6,1187.1L1399.6,1146L1399.6,1104.3L1399.6,1062.4L1399.6,1020.2L1399.6,978.1L1399.6,936L1399.6,893.9L1399.6,851.7L1399.6,809.6L1399.6,767.5L1399.6,725.4L1399.6,683.3L1399.6,641.1L1399.6,599L1399.6,556.9L1399.6,514.8L1399.6,472.6L1399.6,430.7L1399.6,389L1399.6,347.9L1399.6,307.6L1399.6,268.4L1399.6,230.6L1399.6,194.4L1399.6,160.4L1399.6,129.3L1399.6,104.3L1399.6,88.1M1419.4,1446.9L1420.9,1430.7L1422.7,1405.7L1424.6,1374.6L1426.3,1340.6L1427.9,1304.4L1429.3,1266.6L1430.7,1227.4L1431.9,1187.1L1432.9,1146L1433.9,1104.3L1434.7,1062.4L1435.3,1020.2L1435.8,978.1L1436.1,936L1436.4,893.9L1436.6,851.7L1436.8,809.6L1436.8,767.5L1436.8,725.4L1436.6,683.3L1436.4,641.1L1436.1,599L1435.8,556.9L1435.3,514.8L1434.7,472.6L1433.9,430.7L1432.9,389L1431.9,347.9L1430.7,307.6L1429.3,268.4L1427.9,230.6L1426.3,194.4L1424.6,160.4L1422.7,129.3L1420.9,104.3L1419.4,88.1M1439.2,1446.9L1442.2,1430.7L1445.8,1405.7L1449.7,1374.6L1453.1,1340.6L1456.1,1304.4L1459,1266.6L1461.7,1227.4L1464.2,1187.1L1466.3,1146L1468.2,1104.3L1469.8,1062.4L1471,1020.2L1472,978.1L1472.7,936L1473.3,893.9L1473.7,851.7L1473.9,809.6L1474,767.5L1473.9,725.4L1473.7,683.3L1473.3,641.1L1472.7,599L1472,556.9L1471,514.8L1469.8,472.6L1468.2,430.7L1466.3,389L1464.2,347.9L1461.7,307.6L1459,268.4L1456.1,230.6L1453.1,194.4L1449.7,160.4L1445.8,129.3L1442.2,104.3L1439.2,88.1M1459,1446.9L1463.5,1430.7L1469,1405.7L1474.7,1374.6L1479.8,1340.6L1484.4,1304.4L1488.7,1266.6L1492.8,1227.4L1496.5,1187.1L1499.6,1146L1502.5,1104.3L1504.8,1062.4L1506.8,1020.2L1508.2,978.1L1509.2,936L1510.1,893.9L1510.7,851.7L1511.1,809.6L1511.2,767.5L1511.1,725.4L1510.7,683.3L1510.1,641.1L1509.2,599L1508.2,556.9L1506.8,514.8L1504.8,472.6L1502.5,430.7L1499.6,389L1496.5,347.9L1492.8,307.6L1488.7,268.4L1484.4,230.6L1479.8,194.4L1474.7,160.4L1469,129.3L1463.5,104.3L1459,88.1M1478.8,1446.9L1484.8,1430.7L1492.1,1405.7L1499.8,1374.6L1506.6,1340.6L1512.7,1304.4L1518.5,1266.6L1523.9,1227.4L1528.8,1187.1L1533,1146L1536.8,1104.3L1539.9,1062.4L1542.5,1020.2L1544.4,978.1L1545.8,936L1546.9,893.9L1547.8,851.7L1548.2,809.6L1548.4,767.5L1548.2,725.4L1547.8,683.3L1546.9,641.1L1545.8,599L1544.4,556.9L1542.5,514.8L1539.9,472.6L1536.8,430.7L1533,389L1528.8,347.9L1523.9,307.6L1518.5,268.4L1512.7,230.6L1506.6,194.4L1499.8,160.4L1492.1,129.3L1484.8,104.3L1478.8,88.1M1498.6,1446.9L1506.1,1430.7L1515.2,1405.7L1524.8,1374.6L1533.3,1340.6L1540.9,1304.4L1548.2,1266.6L1554.9,1227.4L1561.1,1187.1L1566.3,1146L1571.1,1104.3L1575,1062.4L1578.2,1020.2L1580.6,978.1L1582.3,936L1583.8,893.9L1584.8,851.7L1585.4,809.6L1585.6,767.5L1585.4,725.4L1584.8,683.3L1583.8,641.1L1582.3,599L1580.6,556.9L1578.2,514.8L1575,472.6L1571.1,430.7L1566.3,389L1561.1,347.9L1554.9,307.6L1548.2,268.4L1540.9,230.6L1533.3,194.4L1524.8,160.4L1515.2,129.3L1506.1,104.3L1498.6,88.1M1518.4,1446.9L1527.3,1430.7L1538.3,1405.7L1549.9,1374.6L1560,1340.6L1569.2,1304.4L1577.9,1266.6L1586,1227.4L1593.4,1187.1L1599.7,1146L1605.4,1104.3L1610.1,1062.4L1613.9,1020.2L1616.8,978.1L1618.9,936L1620.6,893.9L1621.8,851.7L1622.5,809.6L1622.9,767.5L1622.5,725.4L1621.8,683.3L1620.6,641.1L1618.9,599L1616.8,556.9L1613.9,514.8L1610.1,472.6L1605.4,430.7L1599.7,389L1593.4,347.9L1586,307.6L1577.9,268.4L1569.2,230.6L1560,194.4L1549.9,160.4L1538.3,129.3L1527.3,104.3L1518.4,88.1M1538.2,1446.9L1548.6,1430.7L1561.4,1405.7L1574.9,1374.6L1586.8,1340.6L1597.5,1304.4L1607.6,1266.6L1617.1,1227.4L1625.7,1187.1L1633,1146L1639.6,1104.3L1645.1,1062.4L1649.6,1020.2L1653,978.1L1655.4,936L1657.5,893.9L1658.9,851.7L1659.7,809.6L1660.1,767.5L1659.7,725.4L1658.9,683.3L1657.5,641.1L1655.4,599L1653,556.9L1649.6,514.8L1645.1,472.6L1639.6,430.7L1633,389L1625.7,347.9L1617.1,307.6L1607.6,268.4L1597.5,230.6L1586.8,194.4L1574.9,160.4L1561.4,129.3L1548.6,104.3L1538.2,88.1M1558,1446.9L1569.9,1430.7L1584.5,1405.7L1600,1374.6L1613.5,1340.6L1625.7,1304.4L1637.3,1266.6L1648.2,1227.4L1658,1187.1L1666.4,1146L1673.9,1104.3L1680.2,1062.4L1685.4,1020.2L1689.2,978.1L1692,936L1694.3,893.9L1695.9,851.7L1696.9,809.6L1697.3,767.5L1696.9,725.4L1695.9,683.3L1694.3,641.1L1692,599L1689.2,556.9L1685.4,514.8L1680.2,472.6L1673.9,430.7L1666.4,389L1658,347.9L1648.2,307.6L1637.3,268.4L1625.7,230.6L1613.5,194.4L1600,160.4L1584.5,129.3L1569.9,104.3L1558,88.1M1577.8,1446.9L1591.2,1430.7L1607.7,1405.7L1625,1374.6L1640.2,1340.6L1654,1304.4L1667,1266.6L1679.2,1227.4L1690.2,1187.1L1699.7,1146L1708.2,1104.3L1715.3,1062.4L1721.1,1020.2L1725.4,978.1L1728.5,936L1731.1,893.9L1732.9,851.7L1734,809.6L1734.5,767.5L1734,725.4L1732.9,683.3L1731.1,641.1L1728.5,599L1725.4,556.9L1721.1,514.8L1715.3,472.6L1708.2,430.7L1699.7,389L1690.2,347.9L1679.2,307.6L1667,268.4L1654,230.6L1640.2,194.4L1625,160.4L1607.7,129.3L1591.2,104.3L1577.8,88.1M1597.6,1446.9L1612.5,1430.7L1630.8,1405.7L1650.1,1374.6L1667,1340.6L1682.3,1304.4L1696.8,1266.6L1710.3,1227.4L1722.5,1187.1L1733.1,1146L1742.5,1104.3L1750.4,1062.4L1756.8,1020.2L1761.6,978.1L1765.1,936L1768,893.9L1770,851.7L1771.2,809.6L1771.7,767.5L1771.2,725.4L1770,683.3L1768,641.1L1765.1,599L1761.6,556.9L1756.8,514.8L1750.4,472.6L1742.5,430.7L1733.1,389L1722.5,347.9L1710.3,307.6L1696.8,268.4L1682.3,230.6L1667,194.4L1650.1,160.4L1630.8,129.3L1612.5,104.3L1597.6,88.1M1617.4,1446.9L1633.8,1430.7L1653.9,1405.7L1675.1,1374.6L1693.7,1340.6L1710.5,1304.4L1726.5,1266.6L1741.4,1227.4L1754.8,1187.1L1766.4,1146L1776.8,1104.3L1785.4,1062.4L1792.5,1020.2L1797.9,978.1L1801.6,936L1804.8,893.9L1807,851.7L1808.3,809.6L1808.9,767.5L1808.3,725.4L1807,683.3L1804.8,641.1L1801.6,599L1797.9,556.9L1792.5,514.8L1785.4,472.6L1776.8,430.7L1766.4,389L1754.8,347.9L1741.4,307.6L1726.5,268.4L1710.5,230.6L1693.7,194.4L1675.1,160.4L1653.9,129.3L1633.8,104.3L1617.4,88.1M1637.2,1446.9L1655.1,1430.7L1677,1405.7L1700.2,1374.6L1720.5,1340.6L1738.8,1304.4L1756.2,1266.6L1772.4,1227.4L1787.1,1187.1L1799.8,1146L1811.1,1104.3L1820.5,1062.4L1828.3,1020.2L1834.1,978.1L1838.2,936L1841.6,893.9L1844.1,851.7L1845.5,809.6L1846.1,767.5L1845.5,725.4L1844.1,683.3L1841.6,641.1L1838.2,599L1834.1,556.9L1828.3,514.8L1820.5,472.6L1811.1,430.7L1799.8,389L1787.1,347.9L1772.4,307.6L1756.2,268.4L1738.8,230.6L1720.5,194.4L1700.2,160.4L1677,129.3L1655.1,104.3L1637.2,88.1M1657,1446.9L1676.4,1430.7L1700.1,1405.7L1725.2,1374.6L1747.2,1340.6L1767.1,1304.4L1785.9,1266.6L1803.5,1227.4L1819.4,1187.1L1833.1,1146L1845.4,1104.3L1855.6,1062.4L1864,1020.2L1870.3,978.1L1874.7,936L1878.5,893.9L1881.1,851.7L1882.6,809.6L1883.3,767.5L1882.6,725.4L1881.1,683.3L1878.5,641.1L1874.7,599L1870.3,556.9L1864,514.8L1855.6,472.6L1845.4,430.7L1833.1,389L1819.4,347.9L1803.5,307.6L1785.9,268.4L1767.1,230.6L1747.2,194.4L1725.2,160.4L1700.1,129.3L1676.4,104.3L1657,88.1M1676.8,1446.9L1697.7,1430.7L1723.3,1405.7L1750.3,1374.6L1773.9,1340.6L1795.4,1304.4L1815.6,1266.6L1834.6,1227.4L1851.7,1187.1L1866.5,1146L1879.7,1104.3L1890.7,1062.4L1899.7,1020.2L1906.5,978.1L1911.3,936L1915.3,893.9L1918.1,851.7L1919.8,809.6L1920.5,767.5L1919.8,725.4L1918.1,683.3L1915.3,641.1L1911.3,599L1906.5,556.9L1899.7,514.8L1890.7,472.6L1879.7,430.7L1866.5,389L1851.7,347.9L1834.6,307.6L1815.6,268.4L1795.4,230.6L1773.9,194.4L1750.3,160.4L1723.3,129.3L1697.7,104.3L1676.8,88.1M1696.6,1446.9L1719,1430.7L1746.4,1405.7L1775.3,1374.6L1800.7,1340.6L1823.6,1304.4L1845.3,1266.6L1865.6,1227.4L1884,1187.1L1899.8,1146L1914,1104.3L1925.8,1062.4L1935.4,1020.2L1942.7,978.1L1947.8,936L1952.2,893.9L1955.2,851.7L1957,809.6L1957.7,767.5L1957,725.4L1955.2,683.3L1952.2,641.1L1947.8,599L1942.7,556.9L1935.4,514.8L1925.8,472.6L1914,430.7L1899.8,389L1884,347.9L1865.6,307.6L1845.3,268.4L1823.6,230.6L1800.7,194.4L1775.3,160.4L1746.4,129.3L1719,104.3L1696.6,88.1M1716.4,1446.9L1740.3,1430.7L1769.5,1405.7L1800.4,1374.6L1827.4,1340.6L1851.9,1304.4L1875,1266.6L1896.7,1227.4L1916.3,1187.1L1933.2,1146L1948.3,1104.3L1960.8,1062.4L1971.1,1020.2L1978.9,978.1L1984.4,936L1989,893.9L1992.2,851.7L1994.1,809.6L1994.9,767.5L1994.1,725.4L1992.2,683.3L1989,641.1L1984.4,599L1978.9,556.9L1971.1,514.8L1960.8,472.6L1948.3,430.7L1933.2,389L1916.3,347.9L1896.7,307.6L1875,268.4L1851.9,230.6L1827.4,194.4L1800.4,160.4L1769.5,129.3L1740.3,104.3L1716.4,88.1M1736.2,1446.9L1761.5,1430.7L1792.6,1405.7L1825.4,1374.6L1854.2,1340.6L1880.2,1304.4L1904.8,1266.6L1927.8,1227.4L1948.6,1187.1L1966.5,1146L1982.6,1104.3L1995.9,1062.4L2006.9,1020.2L2015.1,978.1L2020.9,936L2025.8,893.9L2029.2,851.7L2031.3,809.6L2032.2,767.5L2031.3,725.4L2029.2,683.3L2025.8,641.1L2020.9,599L2015.1,556.9L2006.9,514.8L1995.9,472.6L1982.6,430.7L1966.5,389L1948.6,347.9L1927.8,307.6L1904.8,268.4L1880.2,230.6L1854.2,194.4L1825.4,160.4L1792.6,129.3L1761.5,104.3L1736.2,88.1M1756,1446.9L1782.8,1430.7L1815.7,1405.7L1850.5,1374.6L1880.9,1340.6L1908.4,1304.4L1934.5,1266.6L1958.9,1227.4L1980.9,1187.1L1999.8,1146L2016.9,1104.3L2031,1062.4L2042.6,1020.2L2051.3,978.1L2057.4,936L2062.7,893.9L2066.3,851.7L2068.4,809.6L2069.4,767.5L2068.4,725.4L2066.3,683.3L2062.7,641.1L2057.4,599L2051.3,556.9L2042.6,514.8L2031,472.6L2016.9,430.7L1999.8,389L1980.9,347.9L1958.9,307.6L1934.5,268.4L1908.4,230.6L1880.9,194.4L1850.5,160.4L1815.7,129.3L1782.8,104.3L1756,88.1M1775.9,1446.9L1804.1,1430.7L1838.8,1405.7L1875.5,1374.6L1907.6,1340.6L1936.7,1304.4L1964.2,1266.6L1989.9,1227.4L2013.2,1187.1L2033.2,1146L2051.1,1104.3L2066.1,1062.4L2078.3,1020.2L2087.5,978.1L2094,936L2099.5,893.9L2103.3,851.7L2105.6,809.6L2106.6,767.5L2105.6,725.4L2103.3,683.3L2099.5,641.1L2094,599L2087.5,556.9L2078.3,514.8L2066.1,472.6L2051.1,430.7L2033.2,389L2013.2,347.9L1989.9,307.6L1964.2,268.4L1936.7,230.6L1907.6,194.4L1875.5,160.4L1838.8,129.3L1804.1,104.3L1775.9,88.1M1795.7,1446.9L1825.4,1430.7L1862,1405.7L1900.6,1374.6L1934.4,1340.6L1965,1304.4L1993.9,1266.6L2021,1227.4L2045.5,1187.1L2066.5,1146L2085.4,1104.3L2101.1,1062.4L2114,1020.2L2123.7,978.1L2130.5,936L2136.3,893.9L2140.4,851.7L2142.7,809.6L2143.8,767.5L2142.7,725.4L2140.4,683.3L2136.3,641.1L2130.5,599L2123.7,556.9L2114,514.8L2101.1,472.6L2085.4,430.7L2066.5,389L2045.5,347.9L2021,307.6L1993.9,268.4L1965,230.6L1934.4,194.4L1900.6,160.4L1862,129.3L1825.4,104.3L1795.7,88.1M1815.5,1446.9L1846.7,1430.7L1885.1,1405.7L1925.6,1374.6L1961.1,1340.6L1993.2,1304.4L2023.6,1266.6L2052.1,1227.4L2077.8,1187.1L2099.9,1146L2119.7,1104.3L2136.2,1062.4L2149.7,1020.2L2159.9,978.1L2167.1,936L2173.2,893.9L2177.4,851.7L2179.9,809.6L2181,767.5L2179.9,725.4L2177.4,683.3L2173.2,641.1L2167.1,599L2159.9,556.9L2149.7,514.8L2136.2,472.6L2119.7,430.7L2099.9,389L2077.8,347.9L2052.1,307.6L2023.6,268.4L1993.2,230.6L1961.1,194.4L1925.6,160.4L1885.1,129.3L1846.7,104.3L1815.5,88.1M1835.3,1446.9L1868,1430.7L1908.2,1405.7L1950.7,1374.6L1987.8,1340.6L2021.5,1304.4L2053.3,1266.6L2083.1,1227.4L2110.1,1187.1L2133.2,1146L2154,1104.3L2171.3,1062.4L2185.5,1020.2L2196.1,978.1L2203.6,936L2210,893.9L2214.4,851.7L2217.1,809.6L2218.2,767.5L2217.1,725.4L2214.4,683.3L2210,641.1L2203.6,599L2196.1,556.9L2185.5,514.8L2171.3,472.6L2154,430.7L2133.2,389L2110.1,347.9L2083.1,307.6L2053.3,268.4L2021.5,230.6L1987.8,194.4L1950.7,160.4L1908.2,129.3L1868,104.3L1835.3,88.1M1855.1,1446.9L1889.3,1430.7L1931.3,1405.7L1975.7,1374.6L2014.6,1340.6L2049.8,1304.4L2083.1,1266.6L2114.2,1227.4L2142.4,1187.1L2166.6,1146L2188.3,1104.3L2206.4,1062.4L2221.2,1020.2L2232.3,978.1L2240.2,936L2246.9,893.9L2251.5,851.7L2254.2,809.6L2255.4,767.5L2254.2,725.4L2251.5,683.3L2246.9,641.1L2240.2,599L2232.3,556.9L2221.2,514.8L2206.4,472.6L2188.3,430.7L2166.6,389L2142.4,347.9L2114.2,307.6L2083.1,268.4L2049.8,230.6L2014.6,194.4L1975.7,160.4L1931.3,129.3L1889.3,104.3L1855.1,88.1M1874.9,1446.9L1910.6,1430.7L1954.4,1405.7L2000.8,1374.6L2041.3,1340.6L2078,1304.4L2112.8,1266.6L2145.3,1227.4L2174.7,1187.1L2199.9,1146L2222.6,1104.3L2241.5,1062.4L2256.9,1020.2L2268.5,978.1L2276.7,936L2283.7,893.9L2288.5,851.7L2291.4,809.6L2292.6,767.5L2291.4,725.4L2288.5,683.3L2283.7,641.1L2276.7,599L2268.5,556.9L2256.9,514.8L2241.5,472.6L2222.6,430.7L2199.9,389L2174.7,347.9L2145.3,307.6L2112.8,268.4L2078,230.6L2041.3,194.4L2000.8,160.4L1954.4,129.3L1910.6,104.3L1874.9,88.1M1894.7,1446.9L1931.9,1430.7L1977.6,1405.7L2025.8,1374.6L2068.1,1340.6L2106.3,1304.4L2142.5,1266.6L2176.3,1227.4L2206.9,1187.1L2233.3,1146L2256.9,1104.3L2276.5,1062.4L2292.6,1020.2L2304.7,978.1L2313.3,936L2320.5,893.9L2325.6,851.7L2328.5,809.6L2329.8,767.5L2328.5,725.4L2325.6,683.3L2320.5,641.1L2313.3,599L2304.7,556.9L2292.6,514.8L2276.5,472.6L2256.9,430.7L2233.3,389L2206.9,347.9L2176.3,307.6L2142.5,268.4L2106.3,230.6L2068.1,194.4L2025.8,160.4L1977.6,129.3L1931.9,104.3L1894.7,88.1M1914.5,1446.9L1953.2,1430.7L2000.7,1405.7L2050.9,1374.6L2094.8,1340.6L2134.6,1304.4L2172.2,1266.6L2207.4,1227.4L2239.2,1187.1L2266.6,1146L2291.2,1104.3L2311.6,1062.4L2328.3,1020.2L2340.9,978.1L2349.8,936L2357.4,893.9L2362.6,851.7L2365.7,809.6L2367,767.5L2365.7,725.4L2362.6,683.3L2357.4,641.1L2349.8,599L2340.9,556.9L2328.3,514.8L2311.6,472.6L2291.2,430.7L2266.6,389L2239.2,347.9L2207.4,307.6L2172.2,268.4L2134.6,230.6L2094.8,194.4L2050.9,160.4L2000.7,129.3L1953.2,104.3L1914.5,88.1M1934.3,1446.9L1974.5,1430.7L2023.8,1405.7L2075.9,1374.6L2121.5,1340.6L2162.8,1304.4L2201.9,1266.6L2238.5,1227.4L2271.5,1187.1L2300,1146L2325.5,1104.3L2346.7,1062.4L2364.1,1020.2L2377.1,978.1L2386.4,936L2394.2,893.9L2399.6,851.7L2402.8,809.6L2404.3,767.5L2402.8,725.4L2399.6,683.3L2394.2,641.1L2386.4,599L2377.1,556.9L2364.1,514.8L2346.7,472.6L2325.5,430.7L2300,389L2271.5,347.9L2238.5,307.6L2201.9,268.4L2162.8,230.6L2121.5,194.4L2075.9,160.4L2023.8,129.3L1974.5,104.3L1934.3,88.1M1954.1,1446.9L1995.8,1430.7L2046.9,1405.7L2101,1374.6L2148.3,1340.6L2191.1,1304.4L2231.6,1266.6L2269.6,1227.4L2303.8,1187.1L2333.3,1146L2359.8,1104.3L2381.8,1062.4L2399.8,1020.2L2413.3,978.1L2422.9,936L2431,893.9L2436.7,851.7L2440,809.6L2441.5,767.5L2440,725.4L2436.7,683.3L2431,641.1L2422.9,599L2413.3,556.9L2399.8,514.8L2381.8,472.6L2359.8,430.7L2333.3,389L2303.8,347.9L2269.6,307.6L2231.6,268.4L2191.1,230.6L2148.3,194.4L2101,160.4L2046.9,129.3L1995.8,104.3L1954.1,88.1M1973.9,1446.9L2017,1430.7L2070,1405.7L2126,1374.6L2175,1340.6L2219.4,1304.4L2261.3,1266.6L2300.6,1227.4L2336.1,1187.1L2366.7,1146L2394.1,1104.3L2416.8,1062.4L2435.5,1020.2L2449.5,978.1L2459.5,936L2467.9,893.9L2473.7,851.7L2477.2,809.6L2478.7,767.5L2477.2,725.4L2473.7,683.3L2467.9,641.1L2459.5,599L2449.5,556.9L2435.5,514.8L2416.8,472.6L2394.1,430.7L2366.7,389L2336.1,347.9L2300.6,307.6L2261.3,268.4L2219.4,230.6L2175,194.4L2126,160.4L2070,129.3L2017,104.3L1973.9,88.1M1993.7,1446.9L2038.3,1430.7L2093.1,1405.7L2151.1,1374.6L2201.8,1340.6L2247.6,1304.4L2291.1,1266.6L2331.7,1227.4L2368.4,1187.1L2400,1146L2428.4,1104.3L2451.9,1062.4L2471.2,1020.2L2485.7,978.1L2496,936L2504.7,893.9L2510.7,851.7L2514.3,809.6L2515.9,767.5L2514.3,725.4L2510.7,683.3L2504.7,641.1L2496,599L2485.7,556.9L2471.2,514.8L2451.9,472.6L2428.4,430.7L2400,389L2368.4,347.9L2331.7,307.6L2291.1,268.4L2247.6,230.6L2201.8,194.4L2151.1,160.4L2093.1,129.3L2038.3,104.3L1993.7,88.1M2013.5,1446.9L2059.6,1430.7L2116.3,1405.7L2176.1,1374.6L2228.5,1340.6L2275.9,1304.4L2320.8,1266.6L2362.8,1227.4L2400.7,1187.1L2433.4,1146L2462.7,1104.3L2487,1062.4L2506.9,1020.2L2521.9,978.1L2532.6,936L2541.6,893.9L2547.8,851.7L2551.5,809.6L2553.1,767.5L2551.5,725.4L2547.8,683.3L2541.6,641.1L2532.6,599L2521.9,556.9L2506.9,514.8L2487,472.6L2462.7,430.7L2433.4,389L2400.7,347.9L2362.8,307.6L2320.8,268.4L2275.9,230.6L2228.5,194.4L2176.1,160.4L2116.3,129.3L2059.6,104.3L2013.5,88.1M2033.3,1446.9L2080.9,1430.7L2139.4,1405.7L2201.2,1374.6L2255.2,1340.6L2304.2,1304.4L2350.5,1266.6L2393.8,1227.4L2433,1187.1L2466.7,1146L2496.9,1104.3L2522.1,1062.4L2542.7,1020.2L2558.1,978.1L2569.1,936L2578.4,893.9L2584.8,851.7L2588.6,809.6L2590.3,767.5L2588.6,725.4L2584.8,683.3L2578.4,641.1L2569.1,599L2558.1,556.9L2542.7,514.8L2522.1,472.6L2496.9,430.7L2466.7,389L2433,347.9L2393.8,307.6L2350.5,268.4L2304.2,230.6L2255.2,194.4L2201.2,160.4L2139.4,129.3L2080.9,104.3L2033.3,88.1M2053.1,1446.9L2102.2,1430.7L2162.5,1405.7L2226.2,1374.6L2282,1340.6L2332.4,1304.4L2380.2,1266.6L2424.9,1227.4L2465.3,1187.1L2500,1146L2531.2,1104.3L2557.1,1062.4L2578.4,1020.2L2594.4,978.1L2605.6,936L2615.2,893.9L2621.9,851.7L2625.8,809.6L2627.5,767.5L2625.8,725.4L2621.9,683.3L2615.2,641.1L2605.6,599L2594.4,556.9L2578.4,514.8L2557.1,472.6L2531.2,430.7L2500,389L2465.3,347.9L2424.9,307.6L2380.2,268.4L2332.4,230.6L2282,194.4L2226.2,160.4L2162.5,129.3L2102.2,104.3L2053.1,88.1M2072.9,1446.9L2123.5,1430.7L2185.6,1405.7L2251.3,1374.6L2308.7,1340.6L2360.7,1304.4L2409.9,1266.6L2456,1227.4L2497.6,1187.1L2533.4,1146L2565.5,1104.3L2592.2,1062.4L2614.1,1020.2L2630.6,978.1L2642.2,936L2652.1,893.9L2658.9,851.7L2662.9,809.6L2664.7,767.5L2662.9,725.4L2658.9,683.3L2652.1,641.1L2642.2,599L2630.6,556.9L2614.1,514.8L2592.2,472.6L2565.5,430.7L2533.4,389L2497.6,347.9L2456,307.6L2409.9,268.4L2360.7,230.6L2308.7,194.4L2251.3,160.4L2185.6,129.3L2123.5,104.3L2072.9,88.1M2092.7,1446.9L2144.8,1430.7L2208.7,1405.7L2276.3,1374.6L2335.5,1340.6L2389,1304.4L2439.6,1266.6L2487,1227.4L2529.9,1187.1L2566.7,1146L2599.8,1104.3L2627.3,1062.4L2649.8,1020.2L2666.8,978.1L2678.7,936L2688.9,893.9L2695.9,851.7L2700.1,809.6L2701.9,767.5L2700.1,725.4L2695.9,683.3L2688.9,641.1L2678.7,599L2666.8,556.9L2649.8,514.8L2627.3,472.6L2599.8,430.7L2566.7,389L2529.9,347.9L2487,307.6L2439.6,268.4L2389,230.6L2335.5,194.4L2276.3,160.4L2208.7,129.3L2144.8,104.3L2092.7,88.1M2112.5,1446.9L2166.1,1430.7L2231.9,1405.7L2301.4,1374.6L2362.2,1340.6L2417.2,1304.4L2469.4,1266.6L2518.1,1227.4L2562.2,1187.1L2600.1,1146L2634.1,1104.3L2662.4,1062.4L2685.6,1020.2L2703,978.1L2715.3,936L2725.7,893.9L2733,851.7L2737.3,809.6L2739.1,767.5L2737.3,725.4L2733,683.3L2725.7,641.1L2715.3,599L2703,556.9L2685.6,514.8L2662.4,472.6L2634.1,430.7L2600.1,389L2562.2,347.9L2518.1,307.6L2469.4,268.4L2417.2,230.6L2362.2,194.4L2301.4,160.4L2231.9,129.3L2166.1,104.3L2112.5,88.1" fill="none" stroke="#800080" stroke-opacity="0.75" stroke-width="0.62"/>
<path d="M633.1,1430.7H2166.1M567.3,1405.7H2231.9M497.8,1374.6H2301.4M437,1340.6H2362.2M382,1304.4H2417.2M329.8,1266.6H2469.4M281.1,1227.4H2518.1M237,1187.1H2562.2M199.1,1146H2600.1M165.1,1104.3H2634.1M136.8,1062.4H2662.4M113.6,1020.2H2685.6M96.2,978.1H2703M83.9,936H2715.3M73.5,893.9H2725.7M66.2,851.7H2733M61.9,809.6H2737.3M60.1,767.5H2739.1M61.9,725.4H2737.3M66.2,683.3H2733M73.5,641.1H2725.7M83.9,599H2715.3M96.2,556.9H2703M113.6,514.8H2685.6M136.8,472.6H2662.4M165.1,430.7H2634.1M199.1,389H2600.1M237,347.9H2562.2M281.1,307.6H2518.1M329.8,268.4H2469.4M382,230.6H2417.2M437,194.4H2362.2M497.8,160.4H2301.4M567.3,129.3H2231.9M633.1,104.3H2166.1" fill="none" stroke="#800080" stroke-opacity="0.38" stroke-width="1.35"/>
<g stroke="#222" stroke-width="0.9"><rect x="1285.3" y="324.3" width="6.6" height="6.6" fill="#ff9595"/><rect x="1317.0" y="324.3" width="6.6" height="6.6" fill="#ffffff"/><rect x="1348.7" y="324.3" width="6.6" height="6.6" fill="#ffdddd"/><rect x="1380.4" y="324.3" width="6.6" height="6.6" fill="#ff8080"/><rect x="1412.2" y="324.3" width="6.6" height="6.6" fill="#ff1111"/><rect x="1182.9" y="365.1" width="6.6" height="6.6" fill="#ff9595"/><rect x="1215.7" y="365.1" width="6.6" height="6.6" fill="#ffeaea"/><rect x="1248.5" y="365.1" width="6.6" height="6.6" fill="#ffe1e1"/><rect x="1314.2" y="365.1" width="6.6" height="6.6" fill="#ffffff"/><rect x="1347.0" y="365.1" width="6.6" height="6.6" fill="#fffbfb"/><rect x="1379.9" y="365.1" width="6.6" height="6.6" fill="#ffe6e6"/><rect x="939.5" y="406.5" width="6.6" height="6.6" fill="#6a6aff"/><rect x="973.4" y="406.5" width="6.6" height="6.6" fill="#ff7777"/><rect x="1007.2" y="406.5" width="6.6" height="6.6" fill="#ff8888"/><rect x="1041.0" y="406.5" width="6.6" height="6.6" fill="#ff9090"/><rect x="1074.9" y="406.5" width="6.6" height="6.6" fill="#ffaaaa"/><rect x="1108.7" y="406.5" width="6.6" height="6.6" fill="#ffaaaa"/><rect x="1142.5" y="406.5" width="6.6" height="6.6" fill="#fff2f2"/><rect x="1176.4" y="406.5" width="6.6" height="6.6" fill="#ffdddd"/><rect x="1244.0" y="406.5" width="6.6" height="6.6" fill="#ff8080"/><rect x="1311.7" y="406.5" width="6.6" height="6.6" fill="#ffffff"/><rect x="858.4" y="448.3" width="6.6" height="6.6" fill="#ff8080"/><rect x="893.1" y="448.3" width="6.6" height="6.6" fill="#bfbfff"/><rect x="927.8" y="448.3" width="6.6" height="6.6" fill="#fff2f2"/><rect x="962.5" y="448.3" width="6.6" height="6.6" fill="#d4d4ff"/><rect x="997.2" y="448.3" width="6.6" height="6.6" fill="#ddddff"/><rect x="1031.9" y="448.3" width="6.6" height="6.6" fill="#ff9595"/><rect x="1066.6" y="448.3" width="6.6" height="6.6" fill="#ffa2a2"/><rect x="1101.3" y="448.3" width="6.6" height="6.6" fill="#ff6a6a"/><rect x="847.3" y="490.4" width="6.6" height="6.6" fill="#eaeaff"/><rect x="882.8" y="490.4" width="6.6" height="6.6" fill="#ffe6e6"/><rect x="918.2" y="490.4" width="6.6" height="6.6" fill="#5555ff"/><rect x="1024.4" y="490.4" width="6.6" height="6.6" fill="#ffe1e1"/><rect x="1272.3" y="490.4" width="6.6" height="6.6" fill="#ffffff"/><rect x="838.6" y="532.5" width="6.6" height="6.6" fill="#ffffff"/><rect x="910.5" y="532.5" width="6.6" height="6.6" fill="#eaeaff"/><rect x="982.5" y="532.5" width="6.6" height="6.6" fill="#ffdddd"/><rect x="1270.4" y="532.5" width="6.6" height="6.6" fill="#ffdddd"/><rect x="468.4" y="574.6" width="6.6" height="6.6" fill="#bfbfff"/><rect x="541.2" y="574.6" width="6.6" height="6.6" fill="#ffeeee"/><rect x="577.6" y="574.6" width="6.6" height="6.6" fill="#ffffff"/><rect x="614.0" y="574.6" width="6.6" height="6.6" fill="#ffb2b2"/><rect x="905.1" y="574.6" width="6.6" height="6.6" fill="#ccccff"/><rect x="941.5" y="574.6" width="6.6" height="6.6" fill="#ffffff"/><rect x="1050.6" y="574.6" width="6.6" height="6.6" fill="#ff8080"/><rect x="1232.6" y="574.6" width="6.6" height="6.6" fill="#b3b3ff"/><rect x="1268.9" y="574.6" width="6.6" height="6.6" fill="#ffdddd"/><rect x="2215.0" y="574.6" width="6.6" height="6.6" fill="#2a2aff"/><rect x="2251.4" y="574.6" width="6.6" height="6.6" fill="#aaaaff"/><rect x="533.9" y="616.8" width="6.6" height="6.6" fill="#9595ff"/><rect x="900.9" y="616.8" width="6.6" height="6.6" fill="#eaeaff"/><rect x="937.6" y="616.8" width="6.6" height="6.6" fill="#ffffff"/><rect x="1047.7" y="616.8" width="6.6" height="6.6" fill="#ffaaaa"/><rect x="1084.4" y="616.8" width="6.6" height="6.6" fill="#ff9595"/><rect x="1231.2" y="616.8" width="6.6" height="6.6" fill="#aaaaff"/><rect x="2001.8" y="616.8" width="6.6" height="6.6" fill="#ffffff"/><rect x="2038.5" y="616.8" width="6.6" height="6.6" fill="#ffe6e6"/><rect x="2222.0" y="616.8" width="6.6" height="6.6" fill="#ffeaea"/><rect x="897.5" y="658.9" width="6.6" height="6.6" fill="#ffffff"/><rect x="934.4" y="658.9" width="6.6" height="6.6" fill="#ffffff"/><rect x="971.4" y="658.9" width="6.6" height="6.6" fill="#d4d4ff"/><rect x="1082.2" y="658.9" width="6.6" height="6.6" fill="#fff2f2"/><rect x="1119.2" y="658.9" width="6.6" height="6.6" fill="#ff9595"/><rect x="1230.0" y="658.9" width="6.6" height="6.6" fill="#d4d4ff"/><rect x="1267.0" y="658.9" width="6.6" height="6.6" fill="#ffffff"/><rect x="2006.0" y="658.9" width="6.6" height="6.6" fill="#ffffff"/><rect x="2227.7" y="658.9" width="6.6" height="6.6" fill="#ffeaea"/><rect x="969.6" y="701.0" width="6.6" height="6.6" fill="#ccccff"/><rect x="1080.9" y="701.0" width="6.6" height="6.6" fill="#eaeaff"/><rect x="1118.0" y="701.0" width="6.6" height="6.6" fill="#ffffff"/><rect x="1155.1" y="701.0" width="6.6" height="6.6" fill="#ff9595"/><rect x="1229.3" y="701.0" width="6.6" height="6.6" fill="#ffffff"/><rect x="1266.4" y="701.0" width="6.6" height="6.6" fill="#ffffff"/><rect x="1303.5" y="701.0" width="6.6" height="6.6" fill="#ffffff"/><rect x="1117.4" y="743.1" width="6.6" height="6.6" fill="#ffffff"/><rect x="1154.6" y="743.1" width="6.6" height="6.6" fill="#ffd4d4"/><rect x="1191.7" y="743.1" width="6.6" height="6.6" fill="#ffeaea"/><rect x="1228.9" y="743.1" width="6.6" height="6.6" fill="#ffffff"/><rect x="1340.5" y="743.1" width="6.6" height="6.6" fill="#b3b3ff"/><rect x="1377.7" y="743.1" width="6.6" height="6.6" fill="#b3b3ff"/><rect x="1414.9" y="743.1" width="6.6" height="6.6" fill="#aaaaff"/><rect x="1452.1" y="743.1" width="6.6" height="6.6" fill="#bfbfff"/><rect x="1154.6" y="785.3" width="6.6" height="6.6" fill="#eaeaff"/><rect x="1191.7" y="785.3" width="6.6" height="6.6" fill="#ffffff"/><rect x="1228.9" y="785.3" width="6.6" height="6.6" fill="#fff2f2"/><rect x="1452.1" y="785.3" width="6.6" height="6.6" fill="#ffffff"/><rect x="1489.3" y="785.3" width="6.6" height="6.6" fill="#ffeaea"/><rect x="2010.0" y="785.3" width="6.6" height="6.6" fill="#ffe1e1"/><rect x="1192.2" y="827.4" width="6.6" height="6.6" fill="#ddddff"/><rect x="1229.3" y="827.4" width="6.6" height="6.6" fill="#e6e6ff"/><rect x="1489.1" y="827.4" width="6.6" height="6.6" fill="#ffeeee"/><rect x="2008.6" y="827.4" width="6.6" height="6.6" fill="#ffe1e1"/><rect x="2157.0" y="827.4" width="6.6" height="6.6" fill="#aaaaff"/><rect x="1193.1" y="869.5" width="6.6" height="6.6" fill="#ffffff"/><rect x="1267.0" y="869.5" width="6.6" height="6.6" fill="#eaeaff"/><rect x="2006.0" y="869.5" width="6.6" height="6.6" fill="#ffffff"/><rect x="1194.5" y="911.6" width="6.6" height="6.6" fill="#ffffff"/><rect x="1304.6" y="911.6" width="6.6" height="6.6" fill="#ffffff"/><rect x="1341.3" y="911.6" width="6.6" height="6.6" fill="#d4d4ff"/><rect x="1196.2" y="953.8" width="6.6" height="6.6" fill="#ffd4d4"/><rect x="1378.1" y="953.8" width="6.6" height="6.6" fill="#e1e1ff"/><rect x="1414.5" y="953.8" width="6.6" height="6.6" fill="#c8c8ff"/><rect x="1162.4" y="995.9" width="6.6" height="6.6" fill="#8080ff"/><rect x="1198.4" y="995.9" width="6.6" height="6.6" fill="#ffaaaa"/><rect x="1450.3" y="995.9" width="6.6" height="6.6" fill="#ccccff"/><rect x="1486.3" y="995.9" width="6.6" height="6.6" fill="#ffffff"/><rect x="1666.2" y="995.9" width="6.6" height="6.6" fill="#ffdddd"/><rect x="1236.9" y="1038.0" width="6.6" height="6.6" fill="#ff1111"/><rect x="1272.3" y="1038.0" width="6.6" height="6.6" fill="#ff1111"/><rect x="1484.8" y="1038.0" width="6.6" height="6.6" fill="#ffffff"/><rect x="1520.3" y="1038.0" width="6.6" height="6.6" fill="#ffffff"/><rect x="1555.7" y="1038.0" width="6.6" height="6.6" fill="#ffffff"/><rect x="1591.1" y="1038.0" width="6.6" height="6.6" fill="#ff1111"/><rect x="1626.5" y="1038.0" width="6.6" height="6.6" fill="#ffaaaa"/><rect x="1661.9" y="1038.0" width="6.6" height="6.6" fill="#ffbfbf"/><rect x="1309.5" y="1080.1" width="6.6" height="6.6" fill="#ffd4d4"/><rect x="1344.2" y="1080.1" width="6.6" height="6.6" fill="#ffffff"/><rect x="1378.9" y="1080.1" width="6.6" height="6.6" fill="#7777ff"/><rect x="1413.7" y="1080.1" width="6.6" height="6.6" fill="#2a2aff"/><rect x="1448.4" y="1080.1" width="6.6" height="6.6" fill="#aaaaff"/><rect x="1483.1" y="1080.1" width="6.6" height="6.6" fill="#ffeaea"/><rect x="1517.8" y="1080.1" width="6.6" height="6.6" fill="#ffeaea"/><rect x="1552.5" y="1080.1" width="6.6" height="6.6" fill="#eeeeff"/><rect x="1587.2" y="1080.1" width="6.6" height="6.6" fill="#ccccff"/><rect x="1621.9" y="1080.1" width="6.6" height="6.6" fill="#2a2aff"/><rect x="1656.6" y="1080.1" width="6.6" height="6.6" fill="#4040ff"/><rect x="1691.3" y="1080.1" width="6.6" height="6.6" fill="#4040ff"/><circle cx="1459.8" cy="242.4" r="3.3" fill="#ffffff"/><circle cx="1392.4" cy="267.0" r="3.3" fill="#fff6f6"/><circle cx="1379.6" cy="275.3" r="3.3" fill="#fff2f2"/><circle cx="1430.8" cy="265.0" r="3.3" fill="#eaeaff"/><circle cx="1463.2" cy="268.3" r="3.3" fill="#bfbfff"/><circle cx="1504.1" cy="268.6" r="3.3" fill="#ccccff"/><circle cx="1508.1" cy="269.0" r="3.3" fill="#bfbfff"/><circle cx="1507.7" cy="273.7" r="3.3" fill="#bfbfff"/><circle cx="1547.5" cy="266.3" r="3.3" fill="#aaaaff"/><circle cx="1543.5" cy="272.8" r="3.3" fill="#aaaaff"/><circle cx="1576.5" cy="268.1" r="3.3" fill="#9595ff"/><circle cx="1579.2" cy="268.6" r="3.3" fill="#8080ff"/><circle cx="1554.0" cy="280.5" r="3.3" fill="#e6e6ff"/><circle cx="1588.0" cy="279.9" r="3.3" fill="#ffffff"/><circle cx="1642.6" cy="286.3" r="3.3" fill="#4040ff"/><circle cx="1381.6" cy="296.4" r="3.3" fill="#ffb2b2"/><circle cx="1378.2" cy="299.4" r="3.3" fill="#ffbfbf"/><circle cx="1476.0" cy="294.0" r="3.3" fill="#b7b7ff"/><circle cx="1546.8" cy="291.3" r="3.3" fill="#aaaaff"/><circle cx="1544.5" cy="294.0" r="3.3" fill="#9d9dff"/><circle cx="1534.7" cy="306.4" r="3.3" fill="#9595ff"/><circle cx="1556.3" cy="310.4" r="3.3" fill="#9595ff"/><circle cx="1538.1" cy="316.9" r="3.3" fill="#9d9dff"/><circle cx="1481.4" cy="312.8" r="3.3" fill="#ffffff"/><circle cx="1478.7" cy="313.9" r="3.3" fill="#fff2f2"/><circle cx="1475.7" cy="314.9" r="3.3" fill="#ffdddd"/><circle cx="1466.6" cy="317.2" r="3.3" fill="#eeeeff"/><circle cx="1491.5" cy="320.3" r="3.3" fill="#d4d4ff"/><circle cx="1484.1" cy="327.0" r="3.3" fill="#9595ff"/><circle cx="1466.2" cy="329.0" r="3.3" fill="#ffb2b2"/><circle cx="1533.1" cy="329.7" r="3.3" fill="#8888ff"/><circle cx="1629.1" cy="333.1" r="3.3" fill="#5e5eff"/><circle cx="1432.6" cy="330.4" r="3.3" fill="#ffffff"/><circle cx="1452.8" cy="332.4" r="3.3" fill="#ffffff"/><circle cx="1446.1" cy="335.5" r="3.3" fill="#ffffff"/><circle cx="1475.3" cy="332.8" r="3.3" fill="#ffffff"/><circle cx="1478.7" cy="336.9" r="3.3" fill="#f6f6ff"/><circle cx="1474.0" cy="340.5" r="3.3" fill="#eaeaff"/><circle cx="1495.6" cy="337.8" r="3.3" fill="#eeeeff"/><circle cx="1507.7" cy="338.7" r="3.3" fill="#e1e1ff"/><circle cx="1391.7" cy="334.0" r="3.3" fill="#ffd4d4"/><circle cx="1399.4" cy="335.5" r="3.3" fill="#ffeaea"/><circle cx="1427.7" cy="341.2" r="3.3" fill="#ddddff"/><circle cx="1438.5" cy="341.2" r="3.3" fill="#fffbfb"/><circle cx="1455.8" cy="346.8" r="3.3" fill="#ffffff"/><circle cx="1491.9" cy="346.8" r="3.3" fill="#eeeeff"/><circle cx="1528.6" cy="347.6" r="3.3" fill="#ccccff"/><circle cx="1407.2" cy="352.2" r="3.3" fill="#ffa2a2"/><circle cx="1416.4" cy="350.2" r="3.3" fill="#ffffff"/><circle cx="1414.4" cy="357.6" r="3.3" fill="#eeeeff"/><circle cx="1428.1" cy="356.7" r="3.3" fill="#ffd4d4"/><circle cx="1453.3" cy="355.7" r="3.3" fill="#ffffff"/><circle cx="1459.2" cy="357.4" r="3.3" fill="#ffffff"/><circle cx="1449.0" cy="359.8" r="3.3" fill="#fffbfb"/><circle cx="1478.4" cy="354.9" r="3.3" fill="#ffdddd"/><circle cx="1471.3" cy="360.7" r="3.3" fill="#fff2f2"/><circle cx="1475.7" cy="362.5" r="3.3" fill="#ffd4d4"/><circle cx="1492.9" cy="361.8" r="3.3" fill="#ffd4d4"/><circle cx="1484.8" cy="365.7" r="3.3" fill="#ffdddd"/><circle cx="1471.3" cy="366.1" r="3.3" fill="#ffeeee"/><circle cx="1506.8" cy="361.4" r="3.3" fill="#ffeeee"/><circle cx="1655.7" cy="359.4" r="3.3" fill="#ddddff"/><circle cx="1455.8" cy="369.1" r="3.3" fill="#ff8080"/><circle cx="1449.3" cy="367.5" r="3.3" fill="#ffffff"/><circle cx="1448.4" cy="372.5" r="3.3" fill="#ffdddd"/><circle cx="1474.4" cy="369.9" r="3.3" fill="#ffc8c8"/><circle cx="1501.4" cy="371.1" r="3.3" fill="#ffd4d4"/><circle cx="1525.9" cy="369.1" r="3.3" fill="#ffffff"/><circle cx="1494.0" cy="374.6" r="3.3" fill="#ffcccc"/><circle cx="1585.3" cy="372.2" r="3.3" fill="#ddddff"/><circle cx="1610.5" cy="372.2" r="3.3" fill="#bbbbff"/><circle cx="1601.5" cy="376.5" r="3.3" fill="#d4d4ff"/><circle cx="1439.9" cy="378.9" r="3.3" fill="#ffeeee"/><circle cx="1440.3" cy="382.3" r="3.3" fill="#ffeaea"/><circle cx="1448.0" cy="382.7" r="3.3" fill="#ffffff"/><circle cx="1473.0" cy="379.6" r="3.3" fill="#fff2f2"/><circle cx="1487.1" cy="380.0" r="3.3" fill="#ffeeee"/><circle cx="1491.1" cy="383.0" r="3.3" fill="#fff2f2"/><circle cx="1460.5" cy="385.0" r="3.3" fill="#ffd4d4"/><circle cx="1467.9" cy="385.7" r="3.3" fill="#ffcccc"/><circle cx="1472.0" cy="386.4" r="3.3" fill="#fffbfb"/><circle cx="1478.7" cy="385.4" r="3.3" fill="#ffffff"/><circle cx="1450.7" cy="388.4" r="3.3" fill="#ffffff"/><circle cx="1459.2" cy="393.8" r="3.3" fill="#ffd4d4"/><circle cx="1475.1" cy="393.1" r="3.3" fill="#ffffff"/><circle cx="1475.3" cy="398.1" r="3.3" fill="#ffbfbf"/><circle cx="1623.5" cy="392.4" r="3.3" fill="#ddddff"/><circle cx="1630.5" cy="389.7" r="3.3" fill="#d9d9ff"/><circle cx="1447.0" cy="380.3" r="3.3" fill="#ffe1e1"/><circle cx="1447.7" cy="400.2" r="3.3" fill="#ffe6e6"/><circle cx="1414.4" cy="418.9" r="3.3" fill="#ffffff"/><circle cx="1492.2" cy="446.4" r="3.3" fill="#ffbfbf"/><circle cx="734.2" cy="437.1" r="3.3" fill="#fff2f2"/><circle cx="742.8" cy="449.0" r="3.3" fill="#fff2f2"/><circle cx="775.4" cy="440.5" r="3.3" fill="#ffcccc"/><circle cx="823.5" cy="437.1" r="3.3" fill="#ffbbbb"/><circle cx="885.3" cy="392.9" r="3.3" fill="#ffbbbb"/><circle cx="865.8" cy="399.4" r="3.3" fill="#eaeaff"/><circle cx="875.2" cy="404.1" r="3.3" fill="#ff8080"/><circle cx="877.4" cy="407.9" r="3.3" fill="#ffffff"/><circle cx="882.8" cy="406.1" r="3.3" fill="#ffbfbf"/><circle cx="909.8" cy="384.8" r="3.3" fill="#ddddff"/><circle cx="913.4" cy="399.4" r="3.3" fill="#b3b3ff"/><circle cx="900.4" cy="408.1" r="3.3" fill="#ffbbbb"/><circle cx="908.2" cy="410.4" r="3.3" fill="#f2f2ff"/><circle cx="914.1" cy="416.5" r="3.3" fill="#b3b3ff"/><circle cx="917.9" cy="416.9" r="3.3" fill="#d4d4ff"/><circle cx="902.4" cy="419.2" r="3.3" fill="#f2f2ff"/><circle cx="893.4" cy="424.1" r="3.3" fill="#e6e6ff"/><circle cx="882.6" cy="431.1" r="3.3" fill="#fff2f2"/><circle cx="872.0" cy="436.0" r="3.3" fill="#ffffff"/><circle cx="833.2" cy="490.2" r="3.3" fill="#fffbfb"/><circle cx="806.6" cy="531.6" r="3.3" fill="#eaeaff"/><circle cx="881.7" cy="667.5" r="3.3" fill="#f6f6ff"/><circle cx="968.3" cy="709.9" r="3.3" fill="#ffffff"/><circle cx="1104.7" cy="237.2" r="3.3" fill="#ffffff"/><circle cx="1272.0" cy="228.6" r="3.3" fill="#ffeeee"/><circle cx="1274.5" cy="237.2" r="3.3" fill="#ffd9d9"/><circle cx="1392.4" cy="267.0" r="3.3" fill="#ffffff"/><circle cx="1379.9" cy="275.3" r="3.3" fill="#ffffff"/><circle cx="1358.3" cy="312.0" r="3.3" fill="#ffffff"/><circle cx="1359.4" cy="320.3" r="3.3" fill="#fff2f2"/><circle cx="1564.4" cy="191.5" r="3.3" fill="#ddddff"/><circle cx="1627.3" cy="234.0" r="3.3" fill="#d4d4ff"/><circle cx="1771.6" cy="238.3" r="3.3" fill="#a2a2ff"/><circle cx="1691.4" cy="255.2" r="3.3" fill="#6a6aff"/><circle cx="1757.2" cy="269.6" r="3.3" fill="#aaaaff"/><circle cx="1739.2" cy="273.5" r="3.3" fill="#f2f2ff"/><circle cx="1697.8" cy="278.9" r="3.3" fill="#2a2aff"/><circle cx="1762.2" cy="284.3" r="3.3" fill="#f2f2ff"/><circle cx="1766.2" cy="293.3" r="3.3" fill="#f2f2ff"/><circle cx="1770.5" cy="293.3" r="3.3" fill="#ffffff"/><circle cx="1811.2" cy="282.5" r="3.3" fill="#ffc8c8"/><circle cx="1702.2" cy="302.0" r="3.3" fill="#4040ff"/><circle cx="1720.9" cy="302.0" r="3.3" fill="#2a2aff"/><circle cx="1769.8" cy="305.9" r="3.3" fill="#eaeaff"/><circle cx="1922.3" cy="319.9" r="3.3" fill="#ffffff"/><circle cx="1693.2" cy="334.7" r="3.3" fill="#5e5eff"/><circle cx="1750.7" cy="334.3" r="3.3" fill="#aaaaff"/><circle cx="1689.9" cy="359.5" r="3.3" fill="#7777ff"/><circle cx="1691.5" cy="360.5" r="3.3" fill="#9595ff"/><circle cx="1711.5" cy="378.2" r="3.3" fill="#d4d4ff"/><circle cx="1705.0" cy="416.3" r="3.3" fill="#eeeeff"/><circle cx="2155.4" cy="253.0" r="3.3" fill="#bfbfff"/><circle cx="2196.8" cy="430.7" r="3.3" fill="#bfbfff"/><circle cx="2199.0" cy="431.7" r="3.3" fill="#ccccff"/><circle cx="2255.8" cy="272.7" r="3.3" fill="#ffffff"/><circle cx="2402.9" cy="323.7" r="3.3" fill="#eaeaff"/><circle cx="2141.7" cy="650.1" r="3.3" fill="#f2f2ff"/></g>
</g>
<path d="M686.7,1446.9L661.8,1440L633.1,1430.7L601.4,1419.1L567.3,1405.7L532.1,1390.7L497.8,1374.6L466.3,1357.9L437,1340.6L409,1322.7L382,1304.4L355.5,1285.7L329.8,1266.6L305,1247.1L281.1,1227.4L258.3,1207.4L237,1187.1L217.5,1166.6L199.1,1146L181.5,1125.2L165.1,1104.3L150.2,1083.4L136.8,1062.4L124.6,1041.3L113.6,1020.2L104.2,999.2L96.2,978.1L89.7,957.1L83.9,936L78.4,914.9L73.5,893.9L69.4,872.8L66.2,851.7L63.8,830.7L61.9,809.6L60.7,788.6L60.1,767.5L60.7,746.4L61.9,725.4L63.8,704.3L66.2,683.3L69.4,662.2L73.5,641.1L78.4,620.1L83.9,599L89.7,577.9L96.2,556.9L104.2,535.8L113.6,514.8L124.6,493.7L136.8,472.6L150.2,451.6L165.1,430.7L181.5,409.8L199.1,389L217.5,368.4L237,347.9L258.3,327.6L281.1,307.6L305,287.9L329.8,268.4L355.5,249.3L382,230.6L409,212.3L437,194.4L466.3,177.1L497.8,160.4L532.1,144.3L567.3,129.3L601.4,115.9L633.1,104.3L661.8,95L686.7,88.1L2112.5,88.1L2137.4,95L2166.1,104.3L2197.8,115.9L2231.9,129.3L2267.1,144.3L2301.4,160.4L2332.9,177.1L2362.2,194.4L2390.2,212.3L2417.2,230.6L2443.7,249.3L2469.4,268.4L2494.2,287.9L2518.1,307.6L2540.9,327.6L2562.2,347.9L2581.7,368.4L2600.1,389L2617.7,409.8L2634.1,430.7L2649,451.6L2662.4,472.6L2674.6,493.7L2685.6,514.8L2695,535.8L2703,556.9L2709.5,577.9L2715.3,599L2720.8,620.1L2725.7,641.1L2729.8,662.2L2733,683.3L2735.4,704.3L2737.3,725.4L2738.5,746.4L2739.1,767.5L2738.5,788.6L2737.3,809.6L2735.4,830.7L2733,851.7L2729.8,872.8L2725.7,893.9L2720.8,914.9L2715.3,936L2709.5,957.1L2703,978.1L2695,999.2L2685.6,1020.2L2674.6,1041.3L2662.4,1062.4L2649,1083.4L2634.1,1104.3L2617.7,1125.2L2600.1,1146L2581.7,1166.6L2562.2,1187.1L2540.9,1207.4L2518.1,1227.4L2494.2,1247.1L2469.4,1266.6L2443.7,1285.7L2417.2,1304.4L2390.2,1322.7L2362.2,1340.6L2332.9,1357.9L2301.4,1374.6L2267.1,1390.7L2231.9,1405.7L2197.8,1419.1L2166.1,1430.7L2137.4,1440L2112.5,1446.9Z" fill="none" stroke="#000" stroke-width="5" stroke-linejoin="miter"/>
<path d="M695.3,1531.8H2104.0V1609.3H695.3Z" fill="url(#gr)"/>
<path d="M695.8,1531.8L624.5,1570.55L695.8,1609.3Z" fill="#0000ff"/>
<path d="M2103.5,1531.8L2175.5,1570.55L2103.5,1609.3Z" fill="#ff0000"/>
<path d="M695.3,1531.8L2104.0,1531.8L2175.5,1570.55L2104.0,1609.3L695.3,1609.3L624.5,1570.55Z" fill="none" stroke="#000" stroke-width="5" stroke-linejoin="miter"/>
<text x="693.3" y="1680" font-size="39" text-anchor="middle">−6</text>
<text x="928.1" y="1680" font-size="39" text-anchor="middle">−4</text>
<text x="1162.9" y="1680" font-size="39" text-anchor="middle">−2</text>
<text x="1399.7" y="1680" font-size="39" text-anchor="middle">0</text>
<text x="1634.4" y="1680" font-size="39" text-anchor="middle">2</text>
<text x="1869.2" y="1680" font-size="39" text-anchor="middle">4</text>
<text x="2104" y="1680" font-size="39" text-anchor="middle">6</text>
<path d="M695.3,1609.3V1633.5M930.1,1609.3V1633.5M1164.9,1609.3V1633.5M1399.7,1609.3V1633.5M1634.4,1609.3V1633.5M1869.2,1609.3V1633.5M2104,1609.3V1633.5" stroke="#000" stroke-width="5" fill="none"/>
<text x="1399.6" y="1738" font-size="39" text-anchor="middle" textLength="566" lengthAdjust="spacingAndGlyphs">Anomaly (from 1961-1990), °C</text>
<text x="534" y="62.6" font-size="40" textLength="1732" lengthAdjust="spacingAndGlyphs">1846-05 NAO=0.19 SOI=nan GMST (analysis)=-0.203 GMST (MAT)=0.142 GMST (LAT)=-0.875</text>
<text x="683.4" y="1806" font-size="32.5" font-weight="bold" font-family="DejaVu Sans, sans-serif" textLength="83.8" lengthAdjust="spacingAndGlyphs">Data</text>
<text x="777.6" y="1806" font-size="31" textLength="1236.8" lengthAdjust="spacingAndGlyphs">(analysis □): GloSATref.1.0.0.0-alpha.4 infilled ens median (UKMO-HC): N=698/2592</text>
<text x="683.4" y="1845.7" font-size="32.5" font-weight="bold" font-family="DejaVu Sans, sans-serif" textLength="83.8" lengthAdjust="spacingAndGlyphs">Data</text>
<text x="777.6" y="1845.7" font-size="31" textLength="908.4" lengthAdjust="spacingAndGlyphs">(MAT ▫): GloSATMAT.2.4.0.0 ens median (NOC): N=127/2592</text>
<text x="683.4" y="1885.6" font-size="32.5" font-weight="bold" font-family="DejaVu Sans, sans-serif" textLength="83.8" lengthAdjust="spacingAndGlyphs">Data</text>
<text x="777.6" y="1885.6" font-size="31" textLength="1287.1" lengthAdjust="spacingAndGlyphs">(LAT ○): GloSAT.p04c.EBC.LEKnormals (CRU/UEA, UYork): N=93/2592 N(stations)=169</text>
<text x="683.4" y="1925.6" font-size="32.5" font-weight="bold" font-family="DejaVu Sans, sans-serif" textLength="83.8" lengthAdjust="spacingAndGlyphs">Data</text>
<text x="777.6" y="1925.6" font-size="31" textLength="920.2" lengthAdjust="spacingAndGlyphs">(NAO): 1781-1820 (Juerg Luterbacher), 1821-2022 (Phil Jones)</text>
<text x="683.4" y="1965.6" font-size="32.5" font-weight="bold" font-family="DejaVu Sans, sans-serif" textLength="83.8" lengthAdjust="spacingAndGlyphs">Data</text>
<text x="777.6" y="1965.6" font-size="31" textLength="425.4" lengthAdjust="spacingAndGlyphs">(SOI): 1866-2022 (Phil Jones)</text>
<text x="683.4" y="2005.5" font-size="32.5" font-weight="bold" font-family="DejaVu Sans, sans-serif" textLength="139.2" lengthAdjust="spacingAndGlyphs">Graphic</text>
<text x="826.5" y="2005.5" font-size="31" textLength="620.3" lengthAdjust="spacingAndGlyphs">: Michael Taylor, CRU/UEA -- 07/03/2023</text></svg></body></html>
